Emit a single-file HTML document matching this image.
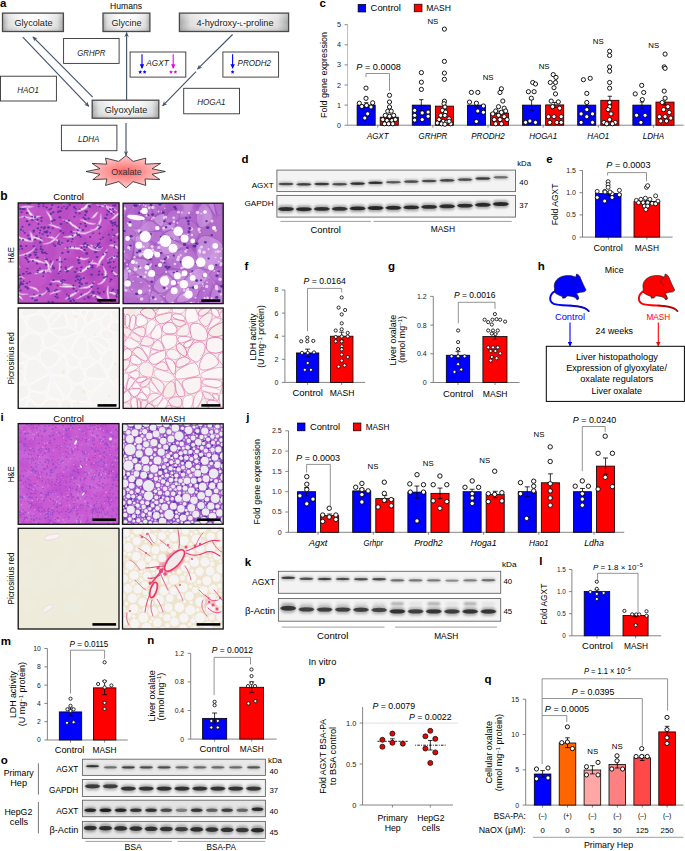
<!DOCTYPE html>
<html><head><meta charset="utf-8"><style>
html,body{margin:0;padding:0;background:#fff;overflow:hidden;}
svg{display:block;}
text{font-family:"Liberation Sans", sans-serif;}
</style></head><body>
<svg width="685" height="851" viewBox="0 0 685 851">
<defs>
<linearGradient id="gbox" x1="0" x2="1" y1="0" y2="0"><stop offset="0" stop-color="#a4a4a4"/><stop offset="0.1" stop-color="#dedede"/><stop offset="0.3" stop-color="#f6f6f6"/><stop offset="0.5" stop-color="#fdfdfd"/><stop offset="0.7" stop-color="#f6f6f6"/><stop offset="0.9" stop-color="#dedede"/><stop offset="1" stop-color="#a4a4a4"/></linearGradient>
<linearGradient id="gboxv" x1="0" x2="0" y1="0" y2="1"><stop offset="0" stop-color="#fff" stop-opacity="0.35"/><stop offset="0.5" stop-color="#fff" stop-opacity="0"/><stop offset="1" stop-color="#888" stop-opacity="0.35"/></linearGradient>
<radialGradient id="gox" cx="0.5" cy="0.5" r="0.5"><stop offset="0" stop-color="#f66"/><stop offset="1" stop-color="#fcc"/></radialGradient>
<marker id="ah" viewBox="0 0 10 10" refX="9" refY="5" markerWidth="5" markerHeight="5" orient="auto-start-reverse" markerUnits="userSpaceOnUse"><path d="M0,0.5 L10,5 L0,9.5 L3,5 z" fill="#44546a"/></marker>
<marker id="ahb" viewBox="0 0 10 10" refX="9" refY="5" markerWidth="4.5" markerHeight="4.5" orient="auto" markerUnits="userSpaceOnUse"><path d="M0,0 L10,5 L0,10 z" fill="#0000ff"/></marker>
<marker id="ahm" viewBox="0 0 10 10" refX="9" refY="5" markerWidth="4.5" markerHeight="4.5" orient="auto" markerUnits="userSpaceOnUse"><path d="M0,0 L10,5 L0,10 z" fill="#ee00ee"/></marker>
<marker id="ahr" viewBox="0 0 10 10" refX="9" refY="5" markerWidth="4.5" markerHeight="4.5" orient="auto" markerUnits="userSpaceOnUse"><path d="M0,0 L10,5 L0,10 z" fill="#ff0000"/></marker>
<filter id="bl" x="-20%" y="-100%" width="140%" height="300%"><feGaussianBlur stdDeviation="0.7"/></filter>
<filter id="bl2" x="-20%" y="-100%" width="140%" height="300%"><feGaussianBlur stdDeviation="0.9"/></filter>
<filter id="bl3" x="-30%" y="-150%" width="160%" height="400%"><feGaussianBlur stdDeviation="1.3"/></filter>
<filter id="soft" x="0" y="0" width="100%" height="100%"><feGaussianBlur stdDeviation="0.5"/></filter>
<filter id="soft2" x="0" y="0" width="100%" height="100%"><feGaussianBlur stdDeviation="0.8"/></filter>
<clipPath id="cp1"><rect x="18.2" y="202.9" width="100.9" height="100.4"/></clipPath>
<clipPath id="cp2"><rect x="123.1" y="203.2" width="100.1" height="100.4"/></clipPath>
<clipPath id="cp3"><rect x="18.2" y="308" width="101.2" height="100.4"/></clipPath>
<clipPath id="cp4"><rect x="123.1" y="308" width="100.1" height="100.4"/></clipPath>
<clipPath id="cp5"><rect x="18.2" y="423.6" width="100.8" height="100.7"/></clipPath>
<clipPath id="cp6"><rect x="122.5" y="423.8" width="100.7" height="100.5"/></clipPath>
<clipPath id="cp7"><rect x="18.2" y="528.3" width="100.8" height="100.7"/></clipPath>
<clipPath id="cp8"><rect x="122.5" y="528.3" width="100.7" height="100.7"/></clipPath>
</defs>
<rect width="685" height="851" fill="#fff"/>
<text x="0" y="7.28" font-size="11.5" text-anchor="start" font-weight="bold">a</text>
<text x="126" y="9.11" font-size="8.2" text-anchor="middle" textLength="32" lengthAdjust="spacingAndGlyphs">Humans</text>
<rect x="2.5" y="13.1" width="60.9" height="18.4" fill="url(#gbox)" stroke="none" stroke-width="0.8"/>
<rect x="2.5" y="13.1" width="60.9" height="18.4" fill="url(#gboxv)" stroke="#4a4a4a" stroke-width="1.3"/>
<text x="33.5" y="25.86" font-size="9.6" text-anchor="middle" fill="#222" textLength="38" lengthAdjust="spacingAndGlyphs">Glycolate</text>
<rect x="103" y="13.1" width="46.9" height="18.4" fill="url(#gbox)" stroke="none" stroke-width="0.8"/>
<rect x="103" y="13.1" width="46.9" height="18.4" fill="url(#gboxv)" stroke="#4a4a4a" stroke-width="1.3"/>
<text x="126.4" y="25.86" font-size="9.6" text-anchor="middle" fill="#222" textLength="30" lengthAdjust="spacingAndGlyphs">Glycine</text>
<rect x="179.4" y="13.1" width="109.2" height="18.4" fill="url(#gbox)" stroke="none" stroke-width="0.8"/>
<rect x="179.4" y="13.1" width="109.2" height="18.4" fill="url(#gboxv)" stroke="#4a4a4a" stroke-width="1.3"/>
<text x="235" y="25.86" font-size="9.6" text-anchor="middle" fill="#222" textLength="77" lengthAdjust="spacingAndGlyphs">4-hydroxy-<tspan font-size="6">L</tspan>-proline</text>
<rect x="92.2" y="100.2" width="66.6" height="18" fill="url(#gbox)" stroke="none" stroke-width="0.8"/>
<rect x="92.2" y="100.2" width="66.6" height="18" fill="url(#gboxv)" stroke="#4a4a4a" stroke-width="1.3"/>
<text x="126" y="112.76" font-size="9.6" text-anchor="middle" fill="#222" textLength="42.5" lengthAdjust="spacingAndGlyphs">Glyoxylate</text>
<rect x="63.6" y="38.5" width="55.5" height="24.9" fill="#fff" stroke="#333" stroke-width="0.9"/>
<text x="91.3" y="55.72" font-size="8.8" text-anchor="middle" font-style="italic" fill="#222" textLength="28" lengthAdjust="spacingAndGlyphs">GRHPR</text>
<rect x="0.5" y="76.2" width="55.9" height="24.8" fill="#fff" stroke="#333" stroke-width="0.9"/>
<text x="28.1" y="93.42" font-size="8.8" text-anchor="middle" font-style="italic" fill="#222" textLength="21.7" lengthAdjust="spacingAndGlyphs">HAO1</text>
<rect x="130.1" y="52" width="55.7" height="25.1" fill="#fff" stroke="#333" stroke-width="0.9"/>
<rect x="222.9" y="52" width="55.7" height="25.1" fill="#fff" stroke="#333" stroke-width="0.9"/>
<rect x="183.7" y="88.3" width="55.8" height="25.5" fill="#fff" stroke="#333" stroke-width="0.9"/>
<text x="211.4" y="105.32" font-size="8.8" text-anchor="middle" font-style="italic" fill="#222" textLength="28.3" lengthAdjust="spacingAndGlyphs">HOGA1</text>
<rect x="61.4" y="125.2" width="55.5" height="25.5" fill="#fff" stroke="#333" stroke-width="0.9"/>
<text x="88.7" y="142.22" font-size="8.8" text-anchor="middle" font-style="italic" fill="#222" textLength="21.4" lengthAdjust="spacingAndGlyphs">LDHA</text>
<line x1="142" y1="54.3" x2="142" y2="68.2" stroke="#0000ff" stroke-width="1.1" marker-end="url(#ahb)"/>
<line x1="173.2" y1="54.3" x2="173.2" y2="68.2" stroke="#ee00ee" stroke-width="1.1" marker-end="url(#ahm)"/>
<text x="157.5" y="65.92" font-size="8.8" text-anchor="middle" font-style="italic" fill="#222" textLength="22.3" lengthAdjust="spacingAndGlyphs">AGXT</text>
<polygon points="140.2,69.9 140.76,71.24 142.2,71.35 141.1,72.29 141.43,73.7 140.2,72.94 138.97,73.7 139.3,72.29 138.2,71.35 139.64,71.24" fill="#0000ff"/>
<polygon points="144.6,69.9 145.16,71.24 146.6,71.35 145.5,72.29 145.83,73.7 144.6,72.94 143.37,73.7 143.7,72.29 142.6,71.35 144.04,71.24" fill="#0000ff"/>
<polygon points="171,69.9 171.56,71.24 173,71.35 171.9,72.29 172.23,73.7 171,72.94 169.77,73.7 170.1,72.29 169,71.35 170.44,71.24" fill="#ee00ee"/>
<polygon points="175.4,69.9 175.96,71.24 177.4,71.35 176.3,72.29 176.63,73.7 175.4,72.94 174.17,73.7 174.5,72.29 173.4,71.35 174.84,71.24" fill="#ee00ee"/>
<line x1="232.6" y1="54.3" x2="232.6" y2="68.2" stroke="#0000ff" stroke-width="1.1" marker-end="url(#ahb)"/>
<text x="254.3" y="65.92" font-size="8.8" text-anchor="middle" font-style="italic" fill="#222" textLength="33.6" lengthAdjust="spacingAndGlyphs">PRODH2</text>
<polygon points="232.6,69.9 233.16,71.24 234.6,71.35 233.5,72.29 233.83,73.7 232.6,72.94 231.37,73.7 231.7,72.29 230.6,71.35 232.04,71.24" fill="#0000ff"/>
<line x1="22.8" y1="37.1" x2="88.8" y2="106.4" stroke="#44546a" stroke-width="1.15" marker-end="url(#ah)"/>
<line x1="92.7" y1="97.2" x2="32.9" y2="36.8" stroke="#44546a" stroke-width="1.15" marker-end="url(#ah)"/>
<line x1="126.6" y1="100" x2="126.6" y2="32.6" stroke="#44546a" stroke-width="1.15" marker-end="url(#ah)"/>
<line x1="232.6" y1="34.5" x2="197.5" y2="69.2" stroke="#44546a" stroke-width="1.15" marker-end="url(#ah)"/>
<line x1="196" y1="71.6" x2="162.6" y2="105.8" stroke="#44546a" stroke-width="1.15" marker-end="url(#ah)"/>
<line x1="126" y1="123" x2="126" y2="155.5" stroke="#44546a" stroke-width="1.15" marker-end="url(#ah)"/>
<polygon points="126.1,155.6 133.23,161.38 145.8,158.1 145.24,164.13 160.6,163.4 152.08,168.78 165.3,171.5 152.05,174.26 159.9,179.6 145,178.96 145.8,185.4 133.02,181.64 126.1,187.8 118.85,181.63 105.5,185.4 106.94,178.94 92.8,179.6 99.99,174.31 86,171.5 99.95,168.74 92.1,163.4 106.7,164.16 105.5,158.1 118.64,161.4" fill="url(#gox)" stroke="#222" stroke-width="0.8"/>
<text x="126.5" y="174.58" font-size="8.4" text-anchor="middle" fill="#333" textLength="30.6" lengthAdjust="spacingAndGlyphs">Oxalate</text>
<text x="319.5" y="7.48" font-size="11.5" text-anchor="start" font-weight="bold">c</text>
<rect x="358.1" y="4.4" width="7.6" height="7.6" fill="#0000ff" stroke="#000" stroke-width="0.7"/>
<text x="370.6" y="11.35" font-size="8.6" text-anchor="start" textLength="30.3" lengthAdjust="spacingAndGlyphs">Control</text>
<rect x="414.2" y="4.2" width="7.8" height="7.6" fill="#ff0000" stroke="#000" stroke-width="0.7"/>
<text x="426.2" y="11.35" font-size="8.6" text-anchor="start" textLength="24.7" lengthAdjust="spacingAndGlyphs">MASH</text>
<line x1="347.6" y1="24.7" x2="347.6" y2="125.2" stroke="#aaa" stroke-width="0.8"/>
<line x1="344.6" y1="125.2" x2="347.6" y2="125.2" stroke="#666" stroke-width="0.8"/>
<text x="341" y="127.76" font-size="7.2" text-anchor="end" fill="#222">0</text>
<line x1="344.6" y1="105.1" x2="347.6" y2="105.1" stroke="#666" stroke-width="0.8"/>
<text x="341" y="107.66" font-size="7.2" text-anchor="end" fill="#222">1</text>
<line x1="344.6" y1="85" x2="347.6" y2="85" stroke="#666" stroke-width="0.8"/>
<text x="341" y="87.56" font-size="7.2" text-anchor="end" fill="#222">2</text>
<line x1="344.6" y1="64.9" x2="347.6" y2="64.9" stroke="#666" stroke-width="0.8"/>
<text x="341" y="67.46" font-size="7.2" text-anchor="end" fill="#222">3</text>
<line x1="344.6" y1="44.8" x2="347.6" y2="44.8" stroke="#666" stroke-width="0.8"/>
<text x="341" y="47.36" font-size="7.2" text-anchor="end" fill="#222">4</text>
<line x1="344.6" y1="24.7" x2="347.6" y2="24.7" stroke="#666" stroke-width="0.8"/>
<text x="341" y="27.26" font-size="7.2" text-anchor="end" fill="#222">5</text>
<text transform="translate(327.31,74.9) rotate(-90)" x="0" y="0" font-size="8.2" text-anchor="middle" textLength="86" lengthAdjust="spacingAndGlyphs">Fold gene expression</text>
<line x1="347.6" y1="125.2" x2="683.6" y2="125.2" stroke="#666" stroke-width="0.8"/>
<line x1="377.7" y1="125.2" x2="377.7" y2="127.7" stroke="#666" stroke-width="0.8"/>
<line x1="432.85" y1="125.2" x2="432.85" y2="127.7" stroke="#666" stroke-width="0.8"/>
<line x1="488" y1="125.2" x2="488" y2="127.7" stroke="#666" stroke-width="0.8"/>
<line x1="543.15" y1="125.2" x2="543.15" y2="127.7" stroke="#666" stroke-width="0.8"/>
<line x1="598.3" y1="125.2" x2="598.3" y2="127.7" stroke="#666" stroke-width="0.8"/>
<line x1="653.45" y1="125.2" x2="653.45" y2="127.7" stroke="#666" stroke-width="0.8"/>
<rect x="357.1" y="105.1" width="18.1" height="20.1" fill="#0000ff" stroke="#000" stroke-width="0.8"/>
<rect x="380.2" y="117.16" width="18.1" height="8.04" fill="#ff0000" stroke="#000" stroke-width="0.8"/>
<text x="377.7" y="138.81" font-size="8.2" text-anchor="middle" font-style="italic" textLength="21.6" lengthAdjust="spacingAndGlyphs">AGXT</text>
<rect x="412.25" y="105.1" width="18.1" height="20.1" fill="#0000ff" stroke="#000" stroke-width="0.8"/>
<rect x="435.35" y="106.11" width="18.1" height="19.09" fill="#ff0000" stroke="#000" stroke-width="0.8"/>
<text x="432.85" y="138.81" font-size="8.2" text-anchor="middle" font-style="italic" textLength="28.6" lengthAdjust="spacingAndGlyphs">GRHPR</text>
<rect x="467.4" y="105.1" width="18.1" height="20.1" fill="#0000ff" stroke="#000" stroke-width="0.8"/>
<rect x="490.5" y="113.14" width="18.1" height="12.06" fill="#ff0000" stroke="#000" stroke-width="0.8"/>
<text x="488" y="138.81" font-size="8.2" text-anchor="middle" font-style="italic" textLength="33.5" lengthAdjust="spacingAndGlyphs">PRODH2</text>
<rect x="522.55" y="105.1" width="18.1" height="20.1" fill="#0000ff" stroke="#000" stroke-width="0.8"/>
<rect x="545.65" y="104.9" width="18.1" height="20.3" fill="#ff0000" stroke="#000" stroke-width="0.8"/>
<text x="543.15" y="138.81" font-size="8.2" text-anchor="middle" font-style="italic" textLength="28" lengthAdjust="spacingAndGlyphs">HOGA1</text>
<rect x="577.7" y="105.1" width="18.1" height="20.1" fill="#0000ff" stroke="#000" stroke-width="0.8"/>
<rect x="600.8" y="100.28" width="18.1" height="24.92" fill="#ff0000" stroke="#000" stroke-width="0.8"/>
<text x="598.3" y="138.81" font-size="8.2" text-anchor="middle" font-style="italic" textLength="22" lengthAdjust="spacingAndGlyphs">HAO1</text>
<rect x="632.85" y="105.1" width="18.1" height="20.1" fill="#0000ff" stroke="#000" stroke-width="0.8"/>
<rect x="655.95" y="102.09" width="18.1" height="23.11" fill="#ff0000" stroke="#000" stroke-width="0.8"/>
<text x="653.45" y="138.81" font-size="8.2" text-anchor="middle" font-style="italic" textLength="21.5" lengthAdjust="spacingAndGlyphs">LDHA</text>
<line x1="366.15" y1="102.69" x2="366.15" y2="107.51" stroke="#000" stroke-width="0.8"/>
<line x1="363.95" y1="102.69" x2="368.35" y2="102.69" stroke="#000" stroke-width="0.8"/>
<line x1="363.95" y1="107.51" x2="368.35" y2="107.51" stroke="#000" stroke-width="0.8"/>
<line x1="389.25" y1="115.55" x2="389.25" y2="118.77" stroke="#000" stroke-width="0.8"/>
<line x1="387.05" y1="115.55" x2="391.45" y2="115.55" stroke="#000" stroke-width="0.8"/>
<line x1="387.05" y1="118.77" x2="391.45" y2="118.77" stroke="#000" stroke-width="0.8"/>
<line x1="421.3" y1="99.67" x2="421.3" y2="110.53" stroke="#000" stroke-width="0.8"/>
<line x1="419.1" y1="99.67" x2="423.5" y2="99.67" stroke="#000" stroke-width="0.8"/>
<line x1="419.1" y1="110.53" x2="423.5" y2="110.53" stroke="#000" stroke-width="0.8"/>
<line x1="444.4" y1="102.09" x2="444.4" y2="110.12" stroke="#000" stroke-width="0.8"/>
<line x1="442.2" y1="102.09" x2="446.6" y2="102.09" stroke="#000" stroke-width="0.8"/>
<line x1="442.2" y1="110.12" x2="446.6" y2="110.12" stroke="#000" stroke-width="0.8"/>
<line x1="476.45" y1="103.09" x2="476.45" y2="107.11" stroke="#000" stroke-width="0.8"/>
<line x1="474.25" y1="103.09" x2="478.65" y2="103.09" stroke="#000" stroke-width="0.8"/>
<line x1="474.25" y1="107.11" x2="478.65" y2="107.11" stroke="#000" stroke-width="0.8"/>
<line x1="499.55" y1="111.13" x2="499.55" y2="115.15" stroke="#000" stroke-width="0.8"/>
<line x1="497.35" y1="111.13" x2="501.75" y2="111.13" stroke="#000" stroke-width="0.8"/>
<line x1="497.35" y1="115.15" x2="501.75" y2="115.15" stroke="#000" stroke-width="0.8"/>
<line x1="531.6" y1="99.47" x2="531.6" y2="110.73" stroke="#000" stroke-width="0.8"/>
<line x1="529.4" y1="99.47" x2="533.8" y2="99.47" stroke="#000" stroke-width="0.8"/>
<line x1="529.4" y1="110.73" x2="533.8" y2="110.73" stroke="#000" stroke-width="0.8"/>
<line x1="554.7" y1="102.49" x2="554.7" y2="107.31" stroke="#000" stroke-width="0.8"/>
<line x1="552.5" y1="102.49" x2="556.9" y2="102.49" stroke="#000" stroke-width="0.8"/>
<line x1="552.5" y1="107.31" x2="556.9" y2="107.31" stroke="#000" stroke-width="0.8"/>
<line x1="586.75" y1="102.69" x2="586.75" y2="107.51" stroke="#000" stroke-width="0.8"/>
<line x1="584.55" y1="102.69" x2="588.95" y2="102.69" stroke="#000" stroke-width="0.8"/>
<line x1="584.55" y1="107.51" x2="588.95" y2="107.51" stroke="#000" stroke-width="0.8"/>
<line x1="609.85" y1="96.26" x2="609.85" y2="104.3" stroke="#000" stroke-width="0.8"/>
<line x1="607.65" y1="96.26" x2="612.05" y2="96.26" stroke="#000" stroke-width="0.8"/>
<line x1="607.65" y1="104.3" x2="612.05" y2="104.3" stroke="#000" stroke-width="0.8"/>
<line x1="641.9" y1="102.09" x2="641.9" y2="108.12" stroke="#000" stroke-width="0.8"/>
<line x1="639.7" y1="102.09" x2="644.1" y2="102.09" stroke="#000" stroke-width="0.8"/>
<line x1="639.7" y1="108.12" x2="644.1" y2="108.12" stroke="#000" stroke-width="0.8"/>
<line x1="665" y1="99.07" x2="665" y2="105.1" stroke="#000" stroke-width="0.8"/>
<line x1="662.8" y1="99.07" x2="667.2" y2="99.07" stroke="#000" stroke-width="0.8"/>
<line x1="662.8" y1="105.1" x2="667.2" y2="105.1" stroke="#000" stroke-width="0.8"/>
<circle cx="366" cy="88.1" r="2.1" fill="#fff" stroke="#000" stroke-width="0.9"/>
<circle cx="366" cy="98.3" r="2.1" fill="#fff" stroke="#000" stroke-width="0.9"/>
<circle cx="359.3" cy="103.2" r="2.1" fill="#fff" stroke="#000" stroke-width="0.9"/>
<circle cx="372.7" cy="102.8" r="2.1" fill="#fff" stroke="#000" stroke-width="0.9"/>
<circle cx="361.8" cy="106.5" r="2.1" fill="#fff" stroke="#000" stroke-width="0.9"/>
<circle cx="366.5" cy="105.4" r="2.1" fill="#fff" stroke="#000" stroke-width="0.9"/>
<circle cx="371" cy="107" r="2.1" fill="#fff" stroke="#000" stroke-width="0.9"/>
<circle cx="367.7" cy="113.8" r="2.1" fill="#fff" stroke="#000" stroke-width="0.9"/>
<circle cx="364.8" cy="118" r="2.1" fill="#fff" stroke="#000" stroke-width="0.9"/>
<circle cx="389.5" cy="95.3" r="2.1" fill="#fff" stroke="#000" stroke-width="0.9"/>
<circle cx="389.5" cy="102" r="2.1" fill="#fff" stroke="#000" stroke-width="0.9"/>
<circle cx="389.5" cy="107" r="2.1" fill="#fff" stroke="#000" stroke-width="0.9"/>
<circle cx="387.8" cy="111.2" r="2.1" fill="#fff" stroke="#000" stroke-width="0.9"/>
<circle cx="391.2" cy="111.2" r="2.1" fill="#fff" stroke="#000" stroke-width="0.9"/>
<circle cx="385.3" cy="115.4" r="2.1" fill="#fff" stroke="#000" stroke-width="0.9"/>
<circle cx="389.5" cy="116.3" r="2.1" fill="#fff" stroke="#000" stroke-width="0.9"/>
<circle cx="393.7" cy="115.4" r="2.1" fill="#fff" stroke="#000" stroke-width="0.9"/>
<circle cx="382.8" cy="119.6" r="2.1" fill="#fff" stroke="#000" stroke-width="0.9"/>
<circle cx="387" cy="120.5" r="2.1" fill="#fff" stroke="#000" stroke-width="0.9"/>
<circle cx="392" cy="120.5" r="2.1" fill="#fff" stroke="#000" stroke-width="0.9"/>
<circle cx="395.4" cy="119.6" r="2.1" fill="#fff" stroke="#000" stroke-width="0.9"/>
<circle cx="384.5" cy="123.8" r="2.1" fill="#fff" stroke="#000" stroke-width="0.9"/>
<circle cx="388.6" cy="123.8" r="2.1" fill="#fff" stroke="#000" stroke-width="0.9"/>
<circle cx="392.8" cy="123.8" r="2.1" fill="#fff" stroke="#000" stroke-width="0.9"/>
<circle cx="421.4" cy="72.6" r="2.1" fill="#fff" stroke="#000" stroke-width="0.9"/>
<circle cx="421.4" cy="82.2" r="2.1" fill="#fff" stroke="#000" stroke-width="0.9"/>
<circle cx="421.4" cy="89.4" r="2.1" fill="#fff" stroke="#000" stroke-width="0.9"/>
<circle cx="414.7" cy="110.4" r="2.1" fill="#fff" stroke="#000" stroke-width="0.9"/>
<circle cx="422.2" cy="112.9" r="2.1" fill="#fff" stroke="#000" stroke-width="0.9"/>
<circle cx="428.1" cy="112.1" r="2.1" fill="#fff" stroke="#000" stroke-width="0.9"/>
<circle cx="414.7" cy="115.4" r="2.1" fill="#fff" stroke="#000" stroke-width="0.9"/>
<circle cx="428.1" cy="116.3" r="2.1" fill="#fff" stroke="#000" stroke-width="0.9"/>
<circle cx="414.7" cy="120.1" r="2.1" fill="#fff" stroke="#000" stroke-width="0.9"/>
<circle cx="422.2" cy="119.6" r="2.1" fill="#fff" stroke="#000" stroke-width="0.9"/>
<circle cx="444.4" cy="29.1" r="2.1" fill="#fff" stroke="#000" stroke-width="0.9"/>
<circle cx="444.4" cy="61.4" r="2.1" fill="#fff" stroke="#000" stroke-width="0.9"/>
<circle cx="444.4" cy="73.1" r="2.1" fill="#fff" stroke="#000" stroke-width="0.9"/>
<circle cx="444.4" cy="79.3" r="2.1" fill="#fff" stroke="#000" stroke-width="0.9"/>
<circle cx="444.4" cy="101.2" r="2.1" fill="#fff" stroke="#000" stroke-width="0.9"/>
<circle cx="444" cy="103.7" r="2.1" fill="#fff" stroke="#000" stroke-width="0.9"/>
<circle cx="444.9" cy="107" r="2.1" fill="#fff" stroke="#000" stroke-width="0.9"/>
<circle cx="442.4" cy="110.4" r="2.1" fill="#fff" stroke="#000" stroke-width="0.9"/>
<circle cx="445.7" cy="112.1" r="2.1" fill="#fff" stroke="#000" stroke-width="0.9"/>
<circle cx="440.7" cy="115.4" r="2.1" fill="#fff" stroke="#000" stroke-width="0.9"/>
<circle cx="444.9" cy="115.4" r="2.1" fill="#fff" stroke="#000" stroke-width="0.9"/>
<circle cx="449.1" cy="118.8" r="2.1" fill="#fff" stroke="#000" stroke-width="0.9"/>
<circle cx="439" cy="119.6" r="2.1" fill="#fff" stroke="#000" stroke-width="0.9"/>
<circle cx="443.2" cy="121.3" r="2.1" fill="#fff" stroke="#000" stroke-width="0.9"/>
<circle cx="446.6" cy="122.2" r="2.1" fill="#fff" stroke="#000" stroke-width="0.9"/>
<circle cx="437.3" cy="123" r="2.1" fill="#fff" stroke="#000" stroke-width="0.9"/>
<circle cx="441.5" cy="123.8" r="2.1" fill="#fff" stroke="#000" stroke-width="0.9"/>
<circle cx="444.9" cy="124.2" r="2.1" fill="#fff" stroke="#000" stroke-width="0.9"/>
<circle cx="450.8" cy="123.8" r="2.1" fill="#fff" stroke="#000" stroke-width="0.9"/>
<circle cx="449.1" cy="121.3" r="2.1" fill="#fff" stroke="#000" stroke-width="0.9"/>
<circle cx="471.4" cy="92.4" r="2.1" fill="#fff" stroke="#000" stroke-width="0.9"/>
<circle cx="477.8" cy="92.4" r="2.1" fill="#fff" stroke="#000" stroke-width="0.9"/>
<circle cx="469.5" cy="102.1" r="2.1" fill="#fff" stroke="#000" stroke-width="0.9"/>
<circle cx="476.4" cy="103.2" r="2.1" fill="#fff" stroke="#000" stroke-width="0.9"/>
<circle cx="483.4" cy="106" r="2.1" fill="#fff" stroke="#000" stroke-width="0.9"/>
<circle cx="477.8" cy="111" r="2.1" fill="#fff" stroke="#000" stroke-width="0.9"/>
<circle cx="483.4" cy="112.3" r="2.1" fill="#fff" stroke="#000" stroke-width="0.9"/>
<circle cx="476.4" cy="121.5" r="2.1" fill="#fff" stroke="#000" stroke-width="0.9"/>
<circle cx="501.4" cy="88.8" r="2.1" fill="#fff" stroke="#000" stroke-width="0.9"/>
<circle cx="500" cy="92.5" r="2.1" fill="#fff" stroke="#000" stroke-width="0.9"/>
<circle cx="502.8" cy="101" r="2.1" fill="#fff" stroke="#000" stroke-width="0.9"/>
<circle cx="498.5" cy="106.7" r="2.1" fill="#fff" stroke="#000" stroke-width="0.9"/>
<circle cx="504.2" cy="108.2" r="2.1" fill="#fff" stroke="#000" stroke-width="0.9"/>
<circle cx="495.7" cy="111" r="2.1" fill="#fff" stroke="#000" stroke-width="0.9"/>
<circle cx="501.4" cy="112.4" r="2.1" fill="#fff" stroke="#000" stroke-width="0.9"/>
<circle cx="505.7" cy="111" r="2.1" fill="#fff" stroke="#000" stroke-width="0.9"/>
<circle cx="492.8" cy="113.9" r="2.1" fill="#fff" stroke="#000" stroke-width="0.9"/>
<circle cx="498.5" cy="115.3" r="2.1" fill="#fff" stroke="#000" stroke-width="0.9"/>
<circle cx="504.2" cy="116.7" r="2.1" fill="#fff" stroke="#000" stroke-width="0.9"/>
<circle cx="494.3" cy="119.6" r="2.1" fill="#fff" stroke="#000" stroke-width="0.9"/>
<circle cx="500" cy="119.6" r="2.1" fill="#fff" stroke="#000" stroke-width="0.9"/>
<circle cx="507.1" cy="119.6" r="2.1" fill="#fff" stroke="#000" stroke-width="0.9"/>
<circle cx="495.7" cy="123.8" r="2.1" fill="#fff" stroke="#000" stroke-width="0.9"/>
<circle cx="501.4" cy="123.8" r="2.1" fill="#fff" stroke="#000" stroke-width="0.9"/>
<circle cx="532.7" cy="82.5" r="2.1" fill="#fff" stroke="#000" stroke-width="0.9"/>
<circle cx="535.5" cy="84" r="2.1" fill="#fff" stroke="#000" stroke-width="0.9"/>
<circle cx="528.4" cy="91.7" r="2.1" fill="#fff" stroke="#000" stroke-width="0.9"/>
<circle cx="534.1" cy="91.7" r="2.1" fill="#fff" stroke="#000" stroke-width="0.9"/>
<circle cx="531.3" cy="98.2" r="2.1" fill="#fff" stroke="#000" stroke-width="0.9"/>
<circle cx="525.6" cy="122.4" r="2.1" fill="#fff" stroke="#000" stroke-width="0.9"/>
<circle cx="535.5" cy="122.4" r="2.1" fill="#fff" stroke="#000" stroke-width="0.9"/>
<circle cx="529.9" cy="121" r="2.1" fill="#fff" stroke="#000" stroke-width="0.9"/>
<circle cx="553.2" cy="74.6" r="2.1" fill="#fff" stroke="#000" stroke-width="0.9"/>
<circle cx="556" cy="77.4" r="2.1" fill="#fff" stroke="#000" stroke-width="0.9"/>
<circle cx="550.3" cy="82.5" r="2.1" fill="#fff" stroke="#000" stroke-width="0.9"/>
<circle cx="555.5" cy="82.5" r="2.1" fill="#fff" stroke="#000" stroke-width="0.9"/>
<circle cx="554" cy="87.7" r="2.1" fill="#fff" stroke="#000" stroke-width="0.9"/>
<circle cx="555.5" cy="93.9" r="2.1" fill="#fff" stroke="#000" stroke-width="0.9"/>
<circle cx="551.2" cy="101.1" r="2.1" fill="#fff" stroke="#000" stroke-width="0.9"/>
<circle cx="558.3" cy="101.9" r="2.1" fill="#fff" stroke="#000" stroke-width="0.9"/>
<circle cx="552.6" cy="106.7" r="2.1" fill="#fff" stroke="#000" stroke-width="0.9"/>
<circle cx="559.7" cy="108.2" r="2.1" fill="#fff" stroke="#000" stroke-width="0.9"/>
<circle cx="548.4" cy="116.7" r="2.1" fill="#fff" stroke="#000" stroke-width="0.9"/>
<circle cx="554" cy="116.7" r="2.1" fill="#fff" stroke="#000" stroke-width="0.9"/>
<circle cx="561.2" cy="116.7" r="2.1" fill="#fff" stroke="#000" stroke-width="0.9"/>
<circle cx="549.8" cy="122.4" r="2.1" fill="#fff" stroke="#000" stroke-width="0.9"/>
<circle cx="556.9" cy="122.4" r="2.1" fill="#fff" stroke="#000" stroke-width="0.9"/>
<circle cx="561.2" cy="122.4" r="2.1" fill="#fff" stroke="#000" stroke-width="0.9"/>
<circle cx="583.4" cy="79.7" r="2.1" fill="#fff" stroke="#000" stroke-width="0.9"/>
<circle cx="590.2" cy="78.3" r="2.1" fill="#fff" stroke="#000" stroke-width="0.9"/>
<circle cx="586.8" cy="93.4" r="2.1" fill="#fff" stroke="#000" stroke-width="0.9"/>
<circle cx="586.8" cy="102.5" r="2.1" fill="#fff" stroke="#000" stroke-width="0.9"/>
<circle cx="586.8" cy="109.6" r="2.1" fill="#fff" stroke="#000" stroke-width="0.9"/>
<circle cx="581.1" cy="113.9" r="2.1" fill="#fff" stroke="#000" stroke-width="0.9"/>
<circle cx="592.5" cy="113.9" r="2.1" fill="#fff" stroke="#000" stroke-width="0.9"/>
<circle cx="586.8" cy="116.7" r="2.1" fill="#fff" stroke="#000" stroke-width="0.9"/>
<circle cx="581.1" cy="122.4" r="2.1" fill="#fff" stroke="#000" stroke-width="0.9"/>
<circle cx="592.5" cy="122.4" r="2.1" fill="#fff" stroke="#000" stroke-width="0.9"/>
<circle cx="609.6" cy="51.2" r="2.1" fill="#fff" stroke="#000" stroke-width="0.9"/>
<circle cx="609.6" cy="55.5" r="2.1" fill="#fff" stroke="#000" stroke-width="0.9"/>
<circle cx="609.6" cy="66.9" r="2.1" fill="#fff" stroke="#000" stroke-width="0.9"/>
<circle cx="609.6" cy="71.2" r="2.1" fill="#fff" stroke="#000" stroke-width="0.9"/>
<circle cx="609.6" cy="82.5" r="2.1" fill="#fff" stroke="#000" stroke-width="0.9"/>
<circle cx="609.6" cy="88.2" r="2.1" fill="#fff" stroke="#000" stroke-width="0.9"/>
<circle cx="609.6" cy="102.5" r="2.1" fill="#fff" stroke="#000" stroke-width="0.9"/>
<circle cx="609.6" cy="106.7" r="2.1" fill="#fff" stroke="#000" stroke-width="0.9"/>
<circle cx="608.1" cy="109.6" r="2.1" fill="#fff" stroke="#000" stroke-width="0.9"/>
<circle cx="611" cy="113.9" r="2.1" fill="#fff" stroke="#000" stroke-width="0.9"/>
<circle cx="609.6" cy="119.6" r="2.1" fill="#fff" stroke="#000" stroke-width="0.9"/>
<circle cx="603.9" cy="122.4" r="2.1" fill="#fff" stroke="#000" stroke-width="0.9"/>
<circle cx="615.2" cy="122.4" r="2.1" fill="#fff" stroke="#000" stroke-width="0.9"/>
<circle cx="606.7" cy="123.8" r="2.1" fill="#fff" stroke="#000" stroke-width="0.9"/>
<circle cx="612.4" cy="123.8" r="2.1" fill="#fff" stroke="#000" stroke-width="0.9"/>
<circle cx="641.7" cy="85.4" r="2.1" fill="#fff" stroke="#000" stroke-width="0.9"/>
<circle cx="635.2" cy="93.9" r="2.1" fill="#fff" stroke="#000" stroke-width="0.9"/>
<circle cx="643.7" cy="92.5" r="2.1" fill="#fff" stroke="#000" stroke-width="0.9"/>
<circle cx="642.3" cy="99.6" r="2.1" fill="#fff" stroke="#000" stroke-width="0.9"/>
<circle cx="636.6" cy="115.3" r="2.1" fill="#fff" stroke="#000" stroke-width="0.9"/>
<circle cx="645.1" cy="115.3" r="2.1" fill="#fff" stroke="#000" stroke-width="0.9"/>
<circle cx="640.9" cy="122.4" r="2.1" fill="#fff" stroke="#000" stroke-width="0.9"/>
<circle cx="665.1" cy="54.1" r="2.1" fill="#fff" stroke="#000" stroke-width="0.9"/>
<circle cx="664.2" cy="66.9" r="2.1" fill="#fff" stroke="#000" stroke-width="0.9"/>
<circle cx="665.1" cy="68.3" r="2.1" fill="#fff" stroke="#000" stroke-width="0.9"/>
<circle cx="664.2" cy="91.1" r="2.1" fill="#fff" stroke="#000" stroke-width="0.9"/>
<circle cx="665.1" cy="98.2" r="2.1" fill="#fff" stroke="#000" stroke-width="0.9"/>
<circle cx="662.2" cy="102.5" r="2.1" fill="#fff" stroke="#000" stroke-width="0.9"/>
<circle cx="667.9" cy="106.7" r="2.1" fill="#fff" stroke="#000" stroke-width="0.9"/>
<circle cx="663.6" cy="109.6" r="2.1" fill="#fff" stroke="#000" stroke-width="0.9"/>
<circle cx="669.3" cy="112.4" r="2.1" fill="#fff" stroke="#000" stroke-width="0.9"/>
<circle cx="659.4" cy="116.7" r="2.1" fill="#fff" stroke="#000" stroke-width="0.9"/>
<circle cx="665.1" cy="116.7" r="2.1" fill="#fff" stroke="#000" stroke-width="0.9"/>
<circle cx="670.8" cy="118.1" r="2.1" fill="#fff" stroke="#000" stroke-width="0.9"/>
<circle cx="660.8" cy="121" r="2.1" fill="#fff" stroke="#000" stroke-width="0.9"/>
<circle cx="666.5" cy="121" r="2.1" fill="#fff" stroke="#000" stroke-width="0.9"/>
<text x="378.6" y="69.78" font-size="8.4" text-anchor="middle" textLength="44.5" lengthAdjust="spacingAndGlyphs"><tspan font-style="italic">P</tspan> = 0.0008</text>
<polyline points="366,77.2 366,73.5 389.5,73.5 389.5,90.8" fill="none" stroke="#666" stroke-width="0.7"/>
<text x="432.9" y="24.17" font-size="7.8" text-anchor="middle">NS</text>
<text x="488.1" y="79.57" font-size="7.8" text-anchor="middle">NS</text>
<text x="544.1" y="69.07" font-size="7.8" text-anchor="middle">NS</text>
<text x="598.2" y="44.07" font-size="7.8" text-anchor="middle">NS</text>
<text x="653.7" y="48.27" font-size="7.8" text-anchor="middle">NS</text>
<text x="241.6" y="162.68" font-size="11.5" text-anchor="start" font-weight="bold">d</text>
<rect x="276.9" y="170.1" width="238.6" height="21.5" fill="#f3f3f3" stroke="none" stroke-width="0.8"/>
<g filter="url(#bl3)"><rect x="278.3" y="181.4" width="15.4" height="5.2" rx="2.6" fill="#000" opacity="0.22"/><rect x="296.2" y="181.7" width="15.4" height="5.2" rx="2.6" fill="#000" opacity="0.24"/><rect x="314.1" y="181.4" width="15.4" height="5.2" rx="2.6" fill="#000" opacity="0.25"/><rect x="332" y="181.6" width="15.4" height="5.2" rx="2.6" fill="#000" opacity="0.22"/><rect x="349.9" y="181" width="15.4" height="5.2" rx="2.6" fill="#000" opacity="0.27"/><rect x="367.8" y="180.2" width="15.4" height="5.2" rx="2.6" fill="#000" opacity="0.28"/><rect x="385.7" y="179.6" width="15.4" height="5.2" rx="2.6" fill="#000" opacity="0.19"/><rect x="403.6" y="179" width="15.4" height="5.2" rx="2.6" fill="#000" opacity="0.21"/><rect x="421.5" y="178.4" width="15.4" height="5.2" rx="2.6" fill="#000" opacity="0.22"/><rect x="439.4" y="177.8" width="15.4" height="5.2" rx="2.6" fill="#000" opacity="0.23"/><rect x="457.3" y="177" width="15.4" height="5.2" rx="2.6" fill="#000" opacity="0.21"/><rect x="475.2" y="175.9" width="15.4" height="5.2" rx="2.6" fill="#000" opacity="0.25"/><rect x="493.1" y="174.7" width="15.4" height="5.2" rx="2.6" fill="#000" opacity="0.16"/></g>
<g filter="url(#bl)"><ellipse cx="286" cy="184" rx="7.7" ry="1.3" fill="#111" opacity="0.53"/><rect x="279.53" y="182.96" width="12.94" height="2.08" rx="1.04" fill="#111" opacity="0.31"/><ellipse cx="303.9" cy="184.3" rx="7.7" ry="1.3" fill="#111" opacity="0.59"/><rect x="297.43" y="183.26" width="12.94" height="2.08" rx="1.04" fill="#111" opacity="0.35"/><ellipse cx="321.8" cy="184" rx="7.7" ry="1.3" fill="#111" opacity="0.61"/><rect x="315.33" y="182.96" width="12.94" height="2.08" rx="1.04" fill="#111" opacity="0.36"/><ellipse cx="339.7" cy="184.2" rx="7.7" ry="1.3" fill="#111" opacity="0.53"/><rect x="333.23" y="183.16" width="12.94" height="2.08" rx="1.04" fill="#111" opacity="0.31"/><ellipse cx="357.6" cy="183.6" rx="7.7" ry="1.3" fill="#111" opacity="0.66"/><rect x="351.13" y="182.56" width="12.94" height="2.08" rx="1.04" fill="#111" opacity="0.39"/><ellipse cx="375.5" cy="182.8" rx="7.7" ry="1.3" fill="#111" opacity="0.68"/><rect x="369.03" y="181.76" width="12.94" height="2.08" rx="1.04" fill="#111" opacity="0.4"/><ellipse cx="393.4" cy="182.2" rx="7.7" ry="1.3" fill="#111" opacity="0.47"/><rect x="386.93" y="181.16" width="12.94" height="2.08" rx="1.04" fill="#111" opacity="0.28"/><ellipse cx="411.3" cy="181.6" rx="7.7" ry="1.3" fill="#111" opacity="0.51"/><rect x="404.83" y="180.56" width="12.94" height="2.08" rx="1.04" fill="#111" opacity="0.3"/><ellipse cx="429.2" cy="181" rx="7.7" ry="1.3" fill="#111" opacity="0.53"/><rect x="422.73" y="179.96" width="12.94" height="2.08" rx="1.04" fill="#111" opacity="0.31"/><ellipse cx="447.1" cy="180.4" rx="7.7" ry="1.3" fill="#111" opacity="0.56"/><rect x="440.63" y="179.36" width="12.94" height="2.08" rx="1.04" fill="#111" opacity="0.33"/><ellipse cx="465" cy="179.6" rx="7.7" ry="1.3" fill="#111" opacity="0.51"/><rect x="458.53" y="178.56" width="12.94" height="2.08" rx="1.04" fill="#111" opacity="0.3"/><ellipse cx="482.9" cy="178.5" rx="7.7" ry="1.3" fill="#111" opacity="0.61"/><rect x="476.43" y="177.46" width="12.94" height="2.08" rx="1.04" fill="#111" opacity="0.36"/><ellipse cx="500.8" cy="177.3" rx="7.7" ry="1.3" fill="#111" opacity="0.38"/><rect x="494.33" y="176.26" width="12.94" height="2.08" rx="1.04" fill="#111" opacity="0.23"/></g>
<rect x="276.9" y="170.1" width="238.6" height="21.5" fill="none" stroke="#666" stroke-width="0.9"/>
<rect x="276.9" y="195.4" width="238.6" height="21.7" fill="#f4f4f4" stroke="none" stroke-width="0.8"/>
<g filter="url(#bl3)"><rect x="277.9" y="205.1" width="16.2" height="7.8" rx="3.9" fill="#000" opacity="0.29"/><rect x="295.8" y="205.3" width="16.2" height="7.8" rx="3.9" fill="#000" opacity="0.3"/><rect x="313.7" y="205" width="16.2" height="7.8" rx="3.9" fill="#000" opacity="0.28"/><rect x="331.6" y="204.9" width="16.2" height="7.8" rx="3.9" fill="#000" opacity="0.27"/><rect x="349.5" y="204.5" width="16.2" height="7.8" rx="3.9" fill="#000" opacity="0.3"/><rect x="367.4" y="204.1" width="16.2" height="7.8" rx="3.9" fill="#000" opacity="0.31"/><rect x="385.3" y="203.9" width="16.2" height="7.8" rx="3.9" fill="#000" opacity="0.3"/><rect x="403.2" y="203.5" width="16.2" height="7.8" rx="3.9" fill="#000" opacity="0.29"/><rect x="421.1" y="203" width="16.2" height="7.8" rx="3.9" fill="#000" opacity="0.29"/><rect x="439" y="202.4" width="16.2" height="7.8" rx="3.9" fill="#000" opacity="0.29"/><rect x="456.9" y="201.7" width="16.2" height="7.8" rx="3.9" fill="#000" opacity="0.29"/><rect x="474.8" y="200.9" width="16.2" height="7.8" rx="3.9" fill="#000" opacity="0.3"/><rect x="492.7" y="200.1" width="16.2" height="7.8" rx="3.9" fill="#000" opacity="0.3"/></g>
<g filter="url(#bl)"><ellipse cx="286" cy="209" rx="8.1" ry="1.95" fill="#111" opacity="0.7"/><rect x="279.2" y="207.44" width="13.61" height="3.12" rx="1.56" fill="#111" opacity="0.41"/><ellipse cx="303.9" cy="209.2" rx="8.1" ry="1.95" fill="#111" opacity="0.72"/><rect x="297.1" y="207.64" width="13.61" height="3.12" rx="1.56" fill="#111" opacity="0.42"/><ellipse cx="321.8" cy="208.9" rx="8.1" ry="1.95" fill="#111" opacity="0.68"/><rect x="315" y="207.34" width="13.61" height="3.12" rx="1.56" fill="#111" opacity="0.4"/><ellipse cx="339.7" cy="208.8" rx="8.1" ry="1.95" fill="#111" opacity="0.66"/><rect x="332.9" y="207.24" width="13.61" height="3.12" rx="1.56" fill="#111" opacity="0.39"/><ellipse cx="357.6" cy="208.4" rx="8.1" ry="1.95" fill="#111" opacity="0.72"/><rect x="350.8" y="206.84" width="13.61" height="3.12" rx="1.56" fill="#111" opacity="0.42"/><ellipse cx="375.5" cy="208" rx="8.1" ry="1.95" fill="#111" opacity="0.75"/><rect x="368.7" y="206.44" width="13.61" height="3.12" rx="1.56" fill="#111" opacity="0.44"/><ellipse cx="393.4" cy="207.8" rx="8.1" ry="1.95" fill="#111" opacity="0.72"/><rect x="386.6" y="206.24" width="13.61" height="3.12" rx="1.56" fill="#111" opacity="0.42"/><ellipse cx="411.3" cy="207.4" rx="8.1" ry="1.95" fill="#111" opacity="0.7"/><rect x="404.5" y="205.84" width="13.61" height="3.12" rx="1.56" fill="#111" opacity="0.41"/><ellipse cx="429.2" cy="206.9" rx="8.1" ry="1.95" fill="#111" opacity="0.7"/><rect x="422.4" y="205.34" width="13.61" height="3.12" rx="1.56" fill="#111" opacity="0.41"/><ellipse cx="447.1" cy="206.3" rx="8.1" ry="1.95" fill="#111" opacity="0.7"/><rect x="440.3" y="204.74" width="13.61" height="3.12" rx="1.56" fill="#111" opacity="0.41"/><ellipse cx="465" cy="205.6" rx="8.1" ry="1.95" fill="#111" opacity="0.7"/><rect x="458.2" y="204.04" width="13.61" height="3.12" rx="1.56" fill="#111" opacity="0.41"/><ellipse cx="482.9" cy="204.8" rx="8.1" ry="1.95" fill="#111" opacity="0.72"/><rect x="476.1" y="203.24" width="13.61" height="3.12" rx="1.56" fill="#111" opacity="0.42"/><ellipse cx="500.8" cy="204" rx="8.1" ry="1.95" fill="#111" opacity="0.74"/><rect x="494" y="202.44" width="13.61" height="3.12" rx="1.56" fill="#111" opacity="0.43"/></g>
<rect x="276.9" y="195.4" width="238.6" height="21.7" fill="none" stroke="#666" stroke-width="0.9"/>
<text x="273.6" y="187.54" font-size="8" text-anchor="end" textLength="21.9" lengthAdjust="spacingAndGlyphs">AGXT</text>
<text x="273.6" y="205.84" font-size="8" text-anchor="end" textLength="29.1" lengthAdjust="spacingAndGlyphs">GAPDH</text>
<text x="517.2" y="166.24" font-size="8" text-anchor="start" textLength="13.8" lengthAdjust="spacingAndGlyphs">kDa</text>
<text x="519.3" y="185.14" font-size="8" text-anchor="start" textLength="8.7" lengthAdjust="spacingAndGlyphs">40</text>
<text x="519.3" y="207.84" font-size="8" text-anchor="start" textLength="8.7" lengthAdjust="spacingAndGlyphs">37</text>
<line x1="280.4" y1="221.4" x2="370.8" y2="221.4" stroke="#888" stroke-width="0.8"/>
<line x1="373.5" y1="221.4" x2="511.8" y2="221.4" stroke="#888" stroke-width="0.8"/>
<text x="325.7" y="232.55" font-size="8.6" text-anchor="middle" textLength="30.3" lengthAdjust="spacingAndGlyphs">Control</text>
<text x="442.9" y="232.45" font-size="8.6" text-anchor="middle" textLength="24.3" lengthAdjust="spacingAndGlyphs">MASH</text>
<text x="546.2" y="163.08" font-size="11.5" text-anchor="start" font-weight="bold">e</text>
<line x1="582.5" y1="170.5" x2="582.5" y2="237.1" stroke="#666" stroke-width="0.8"/>
<line x1="579.5" y1="237.1" x2="582.5" y2="237.1" stroke="#666" stroke-width="0.8"/>
<text x="575.9" y="239.59" font-size="7" text-anchor="end" fill="#222">0</text>
<line x1="579.5" y1="214.9" x2="582.5" y2="214.9" stroke="#666" stroke-width="0.8"/>
<text x="575.9" y="217.39" font-size="7" text-anchor="end" fill="#222">0.5</text>
<line x1="579.5" y1="192.7" x2="582.5" y2="192.7" stroke="#666" stroke-width="0.8"/>
<text x="575.9" y="195.19" font-size="7" text-anchor="end" fill="#222">1.0</text>
<line x1="579.5" y1="170.5" x2="582.5" y2="170.5" stroke="#666" stroke-width="0.8"/>
<text x="575.9" y="172.99" font-size="7" text-anchor="end" fill="#222">1.5</text>
<line x1="582.5" y1="237.1" x2="672.6" y2="237.1" stroke="#666" stroke-width="0.8"/>
<line x1="608.3" y1="237.1" x2="608.3" y2="239.6" stroke="#666" stroke-width="0.8"/>
<line x1="646.9" y1="237.1" x2="646.9" y2="239.6" stroke="#666" stroke-width="0.8"/>
<rect x="595.6" y="193.59" width="25.4" height="43.51" fill="#0000ff" stroke="#000" stroke-width="0.8"/>
<rect x="634" y="201.58" width="25.7" height="35.52" fill="#ff0000" stroke="#000" stroke-width="0.8"/>
<line x1="608.3" y1="191.81" x2="608.3" y2="195.36" stroke="#000" stroke-width="0.8"/>
<line x1="605.8" y1="191.81" x2="610.8" y2="191.81" stroke="#000" stroke-width="0.8"/>
<line x1="605.8" y1="195.36" x2="610.8" y2="195.36" stroke="#000" stroke-width="0.8"/>
<line x1="646.9" y1="200.69" x2="646.9" y2="202.47" stroke="#000" stroke-width="0.8"/>
<line x1="644.4" y1="200.69" x2="649.4" y2="200.69" stroke="#000" stroke-width="0.8"/>
<line x1="644.4" y1="202.47" x2="649.4" y2="202.47" stroke="#000" stroke-width="0.8"/>
<circle cx="608.1" cy="181.7" r="2" fill="#fff" stroke="#000" stroke-width="0.8"/>
<circle cx="608.1" cy="184.6" r="2" fill="#fff" stroke="#000" stroke-width="0.8"/>
<circle cx="608.1" cy="187.3" r="2" fill="#fff" stroke="#000" stroke-width="0.8"/>
<circle cx="597.2" cy="191.4" r="2" fill="#fff" stroke="#000" stroke-width="0.8"/>
<circle cx="604.7" cy="191.4" r="2" fill="#fff" stroke="#000" stroke-width="0.8"/>
<circle cx="619.4" cy="190.3" r="2" fill="#fff" stroke="#000" stroke-width="0.8"/>
<circle cx="612.1" cy="193.7" r="2" fill="#fff" stroke="#000" stroke-width="0.8"/>
<circle cx="597.2" cy="197.5" r="2" fill="#fff" stroke="#000" stroke-width="0.8"/>
<circle cx="604.7" cy="201.1" r="2" fill="#fff" stroke="#000" stroke-width="0.8"/>
<circle cx="612.1" cy="197.5" r="2" fill="#fff" stroke="#000" stroke-width="0.8"/>
<circle cx="619.4" cy="194.8" r="2" fill="#fff" stroke="#000" stroke-width="0.8"/>
<circle cx="605" cy="192" r="2" fill="#fff" stroke="#000" stroke-width="0.8"/>
<circle cx="610" cy="192" r="2" fill="#fff" stroke="#000" stroke-width="0.8"/>
<circle cx="646.5" cy="187.3" r="2" fill="#fff" stroke="#000" stroke-width="0.8"/>
<circle cx="647.7" cy="185.7" r="2" fill="#fff" stroke="#000" stroke-width="0.8"/>
<circle cx="636.4" cy="200.4" r="2" fill="#fff" stroke="#000" stroke-width="0.8"/>
<circle cx="640.9" cy="199.3" r="2" fill="#fff" stroke="#000" stroke-width="0.8"/>
<circle cx="645.4" cy="198.2" r="2" fill="#fff" stroke="#000" stroke-width="0.8"/>
<circle cx="649.9" cy="199.3" r="2" fill="#fff" stroke="#000" stroke-width="0.8"/>
<circle cx="655.6" cy="195.9" r="2" fill="#fff" stroke="#000" stroke-width="0.8"/>
<circle cx="657.9" cy="201.1" r="2" fill="#fff" stroke="#000" stroke-width="0.8"/>
<circle cx="638.6" cy="202.7" r="2" fill="#fff" stroke="#000" stroke-width="0.8"/>
<circle cx="643.1" cy="202.7" r="2" fill="#fff" stroke="#000" stroke-width="0.8"/>
<circle cx="647.7" cy="202.7" r="2" fill="#fff" stroke="#000" stroke-width="0.8"/>
<circle cx="652.2" cy="203.4" r="2" fill="#fff" stroke="#000" stroke-width="0.8"/>
<circle cx="655.6" cy="203.8" r="2" fill="#fff" stroke="#000" stroke-width="0.8"/>
<circle cx="644.3" cy="206.1" r="2" fill="#fff" stroke="#000" stroke-width="0.8"/>
<circle cx="647.7" cy="206.1" r="2" fill="#fff" stroke="#000" stroke-width="0.8"/>
<circle cx="645.9" cy="209.5" r="2" fill="#fff" stroke="#000" stroke-width="0.8"/>
<text x="628.4" y="168.38" font-size="8.4" text-anchor="middle" textLength="44.1" lengthAdjust="spacingAndGlyphs"><tspan font-style="italic">P</tspan> = 0.0003</text>
<polyline points="607.6,175.5 607.6,172.6 646.5,172.6 646.5,181.2" fill="none" stroke="#666" stroke-width="0.7"/>
<text x="608.1" y="250.55" font-size="8.6" text-anchor="middle" textLength="29.4" lengthAdjust="spacingAndGlyphs">Control</text>
<text x="646.9" y="250.55" font-size="8.6" text-anchor="middle" textLength="24.2" lengthAdjust="spacingAndGlyphs">MASH</text>
<text transform="translate(558.28,204.4) rotate(-90)" x="0" y="0" font-size="8.4" text-anchor="middle" textLength="41.8" lengthAdjust="spacingAndGlyphs">Fold AGXT</text>
<text x="244.4" y="270.28" font-size="11.5" text-anchor="start" font-weight="bold">f</text>
<line x1="284.9" y1="290" x2="284.9" y2="382.4" stroke="#666" stroke-width="0.8"/>
<line x1="281.9" y1="382.4" x2="284.9" y2="382.4" stroke="#666" stroke-width="0.8"/>
<text x="278.3" y="384.88" font-size="7" text-anchor="end" fill="#222">0</text>
<line x1="281.9" y1="359.3" x2="284.9" y2="359.3" stroke="#666" stroke-width="0.8"/>
<text x="278.3" y="361.78" font-size="7" text-anchor="end" fill="#222">2</text>
<line x1="281.9" y1="336.2" x2="284.9" y2="336.2" stroke="#666" stroke-width="0.8"/>
<text x="278.3" y="338.69" font-size="7" text-anchor="end" fill="#222">4</text>
<line x1="281.9" y1="313.1" x2="284.9" y2="313.1" stroke="#666" stroke-width="0.8"/>
<text x="278.3" y="315.58" font-size="7" text-anchor="end" fill="#222">6</text>
<line x1="281.9" y1="290" x2="284.9" y2="290" stroke="#666" stroke-width="0.8"/>
<text x="278.3" y="292.49" font-size="7" text-anchor="end" fill="#222">8</text>
<line x1="284.9" y1="382.4" x2="365" y2="382.4" stroke="#666" stroke-width="0.8"/>
<line x1="307.6" y1="382.4" x2="307.6" y2="384.9" stroke="#666" stroke-width="0.8"/>
<line x1="341.7" y1="382.4" x2="341.7" y2="384.9" stroke="#666" stroke-width="0.8"/>
<rect x="296.4" y="352.95" width="22.4" height="29.45" fill="#0000ff" stroke="#000" stroke-width="0.8"/>
<rect x="330.4" y="336.2" width="22.6" height="46.2" fill="#ff0000" stroke="#000" stroke-width="0.8"/>
<line x1="307.6" y1="349.14" x2="307.6" y2="356.76" stroke="#000" stroke-width="0.8"/>
<line x1="305.1" y1="349.14" x2="310.1" y2="349.14" stroke="#000" stroke-width="0.8"/>
<line x1="305.1" y1="356.76" x2="310.1" y2="356.76" stroke="#000" stroke-width="0.8"/>
<line x1="341.7" y1="332.16" x2="341.7" y2="340.24" stroke="#000" stroke-width="0.8"/>
<line x1="339.2" y1="332.16" x2="344.2" y2="332.16" stroke="#000" stroke-width="0.8"/>
<line x1="339.2" y1="340.24" x2="344.2" y2="340.24" stroke="#000" stroke-width="0.8"/>
<circle cx="301.2" cy="341.3" r="1.6" fill="#fff" stroke="#000" stroke-width="0.8"/>
<circle cx="307.3" cy="337.7" r="1.6" fill="#fff" stroke="#000" stroke-width="0.8"/>
<circle cx="313.3" cy="340.9" r="1.6" fill="#fff" stroke="#000" stroke-width="0.8"/>
<circle cx="307.3" cy="341.3" r="1.6" fill="#fff" stroke="#000" stroke-width="0.8"/>
<circle cx="302" cy="352.9" r="1.6" fill="#fff" stroke="#000" stroke-width="0.8"/>
<circle cx="307.7" cy="352.9" r="1.6" fill="#fff" stroke="#000" stroke-width="0.8"/>
<circle cx="314" cy="352.4" r="1.6" fill="#fff" stroke="#000" stroke-width="0.8"/>
<circle cx="307.7" cy="363" r="1.6" fill="#fff" stroke="#000" stroke-width="0.8"/>
<circle cx="304.8" cy="369.8" r="1.6" fill="#fff" stroke="#000" stroke-width="0.8"/>
<circle cx="310.9" cy="369.8" r="1.6" fill="#fff" stroke="#000" stroke-width="0.8"/>
<circle cx="341.7" cy="297.5" r="1.6" fill="#fff" stroke="#000" stroke-width="0.8"/>
<circle cx="338.6" cy="307.6" r="1.6" fill="#fff" stroke="#000" stroke-width="0.8"/>
<circle cx="345.1" cy="310" r="1.6" fill="#fff" stroke="#000" stroke-width="0.8"/>
<circle cx="341.7" cy="314.4" r="1.6" fill="#fff" stroke="#000" stroke-width="0.8"/>
<circle cx="341.7" cy="323.3" r="1.6" fill="#fff" stroke="#000" stroke-width="0.8"/>
<circle cx="341.7" cy="329.3" r="1.6" fill="#fff" stroke="#000" stroke-width="0.8"/>
<circle cx="335.7" cy="330.5" r="1.6" fill="#fff" stroke="#000" stroke-width="0.8"/>
<circle cx="347.7" cy="332.9" r="1.6" fill="#fff" stroke="#000" stroke-width="0.8"/>
<circle cx="335.7" cy="337" r="1.6" fill="#fff" stroke="#000" stroke-width="0.8"/>
<circle cx="341.7" cy="336.5" r="1.6" fill="#fff" stroke="#000" stroke-width="0.8"/>
<circle cx="347.7" cy="336.5" r="1.6" fill="#fff" stroke="#000" stroke-width="0.8"/>
<circle cx="335.7" cy="341.3" r="1.6" fill="#fff" stroke="#000" stroke-width="0.8"/>
<circle cx="341.7" cy="341.3" r="1.6" fill="#fff" stroke="#000" stroke-width="0.8"/>
<circle cx="341.7" cy="346.2" r="1.6" fill="#fff" stroke="#000" stroke-width="0.8"/>
<circle cx="341.7" cy="349.3" r="1.6" fill="#fff" stroke="#000" stroke-width="0.8"/>
<circle cx="341.7" cy="354.6" r="1.6" fill="#fff" stroke="#000" stroke-width="0.8"/>
<circle cx="347.7" cy="357" r="1.6" fill="#fff" stroke="#000" stroke-width="0.8"/>
<circle cx="341.7" cy="360.6" r="1.6" fill="#fff" stroke="#000" stroke-width="0.8"/>
<circle cx="338.6" cy="366.6" r="1.6" fill="#fff" stroke="#000" stroke-width="0.8"/>
<circle cx="344.6" cy="365.4" r="1.6" fill="#fff" stroke="#000" stroke-width="0.8"/>
<text x="324.7" y="284.01" font-size="8.2" text-anchor="middle" textLength="42.2" lengthAdjust="spacingAndGlyphs"><tspan font-style="italic">P</tspan> = 0.0164</text>
<polyline points="307.5,331.2 307.5,288.4 341.7,288.4 341.7,292.4" fill="none" stroke="#666" stroke-width="0.7"/>
<text x="307.7" y="396.48" font-size="8.4" text-anchor="middle" textLength="30.5" lengthAdjust="spacingAndGlyphs">Control</text>
<text x="342" y="396.48" font-size="8.4" text-anchor="middle" textLength="24.7" lengthAdjust="spacingAndGlyphs">MASH</text>
<text transform="translate(256.01,337.1) rotate(-90)" x="0" y="0" font-size="8.2" text-anchor="middle" textLength="47" lengthAdjust="spacingAndGlyphs">LDH activity</text>
<text transform="translate(264.21,336.5) rotate(-90)" x="0" y="0" font-size="8.2" text-anchor="middle" textLength="62.6" lengthAdjust="spacingAndGlyphs">(U mg<tspan dy="-2.6" font-size="5.5">−1</tspan><tspan dy="2.6"> protein)</tspan></text>
<text x="388" y="270.28" font-size="11.5" text-anchor="start" font-weight="bold">g</text>
<line x1="433.3" y1="296.4" x2="433.3" y2="382.5" stroke="#666" stroke-width="0.8"/>
<line x1="430.3" y1="382.5" x2="433.3" y2="382.5" stroke="#666" stroke-width="0.8"/>
<text x="426.7" y="384.99" font-size="7" text-anchor="end" fill="#222">0</text>
<line x1="430.3" y1="353.8" x2="433.3" y2="353.8" stroke="#666" stroke-width="0.8"/>
<text x="426.7" y="356.29" font-size="7" text-anchor="end" fill="#222">0.4</text>
<line x1="430.3" y1="325.1" x2="433.3" y2="325.1" stroke="#666" stroke-width="0.8"/>
<text x="426.7" y="327.59" font-size="7" text-anchor="end" fill="#222">0.8</text>
<line x1="430.3" y1="296.4" x2="433.3" y2="296.4" stroke="#666" stroke-width="0.8"/>
<text x="426.7" y="298.88" font-size="7" text-anchor="end" fill="#222">1.2</text>
<line x1="433.3" y1="382.5" x2="519.5" y2="382.5" stroke="#666" stroke-width="0.8"/>
<line x1="458" y1="382.5" x2="458" y2="385" stroke="#666" stroke-width="0.8"/>
<line x1="495" y1="382.5" x2="495" y2="385" stroke="#666" stroke-width="0.8"/>
<rect x="446.3" y="355.24" width="23.4" height="27.26" fill="#0000ff" stroke="#000" stroke-width="0.8"/>
<rect x="482.9" y="336.58" width="24.1" height="45.92" fill="#ff0000" stroke="#000" stroke-width="0.8"/>
<line x1="458" y1="351.65" x2="458" y2="358.82" stroke="#000" stroke-width="0.8"/>
<line x1="455.5" y1="351.65" x2="460.5" y2="351.65" stroke="#000" stroke-width="0.8"/>
<line x1="455.5" y1="358.82" x2="460.5" y2="358.82" stroke="#000" stroke-width="0.8"/>
<line x1="495" y1="333.71" x2="495" y2="339.45" stroke="#000" stroke-width="0.8"/>
<line x1="492.5" y1="333.71" x2="497.5" y2="333.71" stroke="#000" stroke-width="0.8"/>
<line x1="492.5" y1="339.45" x2="497.5" y2="339.45" stroke="#000" stroke-width="0.8"/>
<circle cx="458.1" cy="330.5" r="1.6" fill="#fff" stroke="#000" stroke-width="0.8"/>
<circle cx="458.1" cy="342.1" r="1.6" fill="#fff" stroke="#000" stroke-width="0.8"/>
<circle cx="458.1" cy="349" r="1.6" fill="#fff" stroke="#000" stroke-width="0.8"/>
<circle cx="451.6" cy="356.3" r="1.6" fill="#fff" stroke="#000" stroke-width="0.8"/>
<circle cx="458.1" cy="356.3" r="1.6" fill="#fff" stroke="#000" stroke-width="0.8"/>
<circle cx="464.6" cy="356.3" r="1.6" fill="#fff" stroke="#000" stroke-width="0.8"/>
<circle cx="458.1" cy="364.2" r="1.6" fill="#fff" stroke="#000" stroke-width="0.8"/>
<circle cx="454.5" cy="371.9" r="1.6" fill="#fff" stroke="#000" stroke-width="0.8"/>
<circle cx="461.2" cy="369.5" r="1.6" fill="#fff" stroke="#000" stroke-width="0.8"/>
<circle cx="494.9" cy="314.1" r="1.6" fill="#fff" stroke="#000" stroke-width="0.8"/>
<circle cx="484.6" cy="319.7" r="1.6" fill="#fff" stroke="#000" stroke-width="0.8"/>
<circle cx="488.2" cy="322.1" r="1.6" fill="#fff" stroke="#000" stroke-width="0.8"/>
<circle cx="492.5" cy="319.7" r="1.6" fill="#fff" stroke="#000" stroke-width="0.8"/>
<circle cx="496.6" cy="319.2" r="1.6" fill="#fff" stroke="#000" stroke-width="0.8"/>
<circle cx="500.2" cy="319.7" r="1.6" fill="#fff" stroke="#000" stroke-width="0.8"/>
<circle cx="505.1" cy="321.6" r="1.6" fill="#fff" stroke="#000" stroke-width="0.8"/>
<circle cx="491.8" cy="324.5" r="1.6" fill="#fff" stroke="#000" stroke-width="0.8"/>
<circle cx="488.2" cy="330.5" r="1.6" fill="#fff" stroke="#000" stroke-width="0.8"/>
<circle cx="493" cy="330.5" r="1.6" fill="#fff" stroke="#000" stroke-width="0.8"/>
<circle cx="497.8" cy="330.5" r="1.6" fill="#fff" stroke="#000" stroke-width="0.8"/>
<circle cx="491.8" cy="333.6" r="1.6" fill="#fff" stroke="#000" stroke-width="0.8"/>
<circle cx="495.4" cy="334.1" r="1.6" fill="#fff" stroke="#000" stroke-width="0.8"/>
<circle cx="488.2" cy="347.4" r="1.6" fill="#fff" stroke="#000" stroke-width="0.8"/>
<circle cx="493" cy="347.4" r="1.6" fill="#fff" stroke="#000" stroke-width="0.8"/>
<circle cx="497.8" cy="347.4" r="1.6" fill="#fff" stroke="#000" stroke-width="0.8"/>
<circle cx="490.6" cy="351" r="1.6" fill="#fff" stroke="#000" stroke-width="0.8"/>
<circle cx="495.4" cy="351" r="1.6" fill="#fff" stroke="#000" stroke-width="0.8"/>
<circle cx="500.2" cy="353.4" r="1.6" fill="#fff" stroke="#000" stroke-width="0.8"/>
<circle cx="491.8" cy="357" r="1.6" fill="#fff" stroke="#000" stroke-width="0.8"/>
<circle cx="496.6" cy="358.2" r="1.6" fill="#fff" stroke="#000" stroke-width="0.8"/>
<circle cx="490.6" cy="360.6" r="1.6" fill="#fff" stroke="#000" stroke-width="0.8"/>
<text x="474.7" y="297.81" font-size="8.2" text-anchor="middle" textLength="41.4" lengthAdjust="spacingAndGlyphs"><tspan font-style="italic">P</tspan> = 0.0016</text>
<polyline points="458.3,323.3 458.3,302.3 495,302.3 495,308.8" fill="none" stroke="#666" stroke-width="0.7"/>
<text x="458.2" y="397.08" font-size="8.4" text-anchor="middle" textLength="30.5" lengthAdjust="spacingAndGlyphs">Control</text>
<text x="495.2" y="397.08" font-size="8.4" text-anchor="middle" textLength="24.7" lengthAdjust="spacingAndGlyphs">MASH</text>
<text transform="translate(396.01,340.1) rotate(-90)" x="0" y="0" font-size="8.2" text-anchor="middle" textLength="50.6" lengthAdjust="spacingAndGlyphs">Liver oxalate</text>
<text transform="translate(404.51,339.5) rotate(-90)" x="0" y="0" font-size="8.2" text-anchor="middle" textLength="47" lengthAdjust="spacingAndGlyphs">(nmol mg<tspan dy="-2.6" font-size="5.5">−1</tspan><tspan dy="2.6">)</tspan></text>
<text x="537.7" y="270.28" font-size="11.5" text-anchor="start" font-weight="bold">h</text>
<text x="614.2" y="272.88" font-size="8.4" text-anchor="middle" textLength="18.8" lengthAdjust="spacingAndGlyphs">Mice</text>
<g transform="translate(545,270) scale(0.073)">
<path d="M140,290 C60,330 45,430 120,465 C200,492 350,482 460,500 C520,510 570,530 600,562" fill="none" stroke="#0000ff" stroke-width="26" stroke-linecap="round"/>
<path d="M330,480 C400,487 440,495 460,500 C520,510 570,530 600,562" fill="none" stroke="#222" stroke-width="9"/>
<path d="M130,250 C110,170 170,90 280,78 C340,72 390,80 420,100 L432,55 C455,60 480,80 490,120 C510,170 540,230 562,275 C552,300 520,305 490,305 C460,310 440,318 432,325 L450,350 L464,395 L440,410 L418,380 C390,362 340,356 300,356 L278,382 L242,386 L236,362 C200,348 160,336 130,305 Z" fill="#0000ff" stroke="#222" stroke-width="9" stroke-linejoin="round"/>
<path d="M405,118 C372,108 358,150 378,178 C388,192 400,200 412,212" fill="none" stroke="#222" stroke-width="6"/>
<path d="M420,335 L450,360 L455,395 M246,365 L262,383" fill="none" stroke="#222" stroke-width="8"/>
</g>
<g transform="translate(633.7,270) scale(0.073)">
<path d="M140,290 C60,330 45,430 120,465 C200,492 350,482 460,500 C520,510 570,530 600,562" fill="none" stroke="#ff0000" stroke-width="26" stroke-linecap="round"/>
<path d="M330,480 C400,487 440,495 460,500 C520,510 570,530 600,562" fill="none" stroke="#222" stroke-width="9"/>
<path d="M130,250 C110,170 170,90 280,78 C340,72 390,80 420,100 L432,55 C455,60 480,80 490,120 C510,170 540,230 562,275 C552,300 520,305 490,305 C460,310 440,318 432,325 L450,350 L464,395 L440,410 L418,380 C390,362 340,356 300,356 L278,382 L242,386 L236,362 C200,348 160,336 130,305 Z" fill="#ff0000" stroke="#222" stroke-width="9" stroke-linejoin="round"/>
<path d="M405,118 C372,108 358,150 378,178 C388,192 400,200 412,212" fill="none" stroke="#222" stroke-width="6"/>
<path d="M420,335 L450,360 L455,395 M246,365 L262,383" fill="none" stroke="#222" stroke-width="8"/>
</g>
<text x="570" y="320.18" font-size="8.4" text-anchor="middle" fill="#0000ff" textLength="30.1" lengthAdjust="spacingAndGlyphs">Control</text>
<text x="658.4" y="320.18" font-size="8.4" text-anchor="middle" fill="#ff0000" textLength="23.8" lengthAdjust="spacingAndGlyphs">MASH</text>
<line x1="570" y1="322.4" x2="570" y2="346" stroke="#0000ff" stroke-width="1.1" marker-end="url(#ahb)"/>
<line x1="658.3" y1="322.4" x2="658.3" y2="346" stroke="#ff0000" stroke-width="1.1" marker-end="url(#ahr)"/>
<text x="614.3" y="333.98" font-size="8.4" text-anchor="middle" textLength="37.4" lengthAdjust="spacingAndGlyphs">24 weeks</text>
<rect x="546.3" y="346.3" width="138.1" height="55.1" fill="none" stroke="#000" stroke-width="1"/>
<text x="616.9" y="360.18" font-size="8.4" text-anchor="middle" textLength="82" lengthAdjust="spacingAndGlyphs">Liver histopathology</text>
<text x="616.6" y="371.48" font-size="8.4" text-anchor="middle" textLength="100.7" lengthAdjust="spacingAndGlyphs">Expression of glyoxylate/</text>
<text x="616.8" y="382.28" font-size="8.4" text-anchor="middle" textLength="73.1" lengthAdjust="spacingAndGlyphs">oxalate regulators</text>
<text x="616.8" y="393.58" font-size="8.4" text-anchor="middle" textLength="50.4" lengthAdjust="spacingAndGlyphs">Liver oxalate</text>
<text x="246.3" y="420.58" font-size="11.5" text-anchor="start" font-weight="bold">j</text>
<rect x="297.4" y="423" width="7.6" height="7.8" fill="#0000ff" stroke="#000" stroke-width="0.7"/>
<text x="309.9" y="430.05" font-size="8.6" text-anchor="start" textLength="30.2" lengthAdjust="spacingAndGlyphs">Control</text>
<rect x="353.3" y="423" width="7.6" height="7.8" fill="#ff0000" stroke="#000" stroke-width="0.7"/>
<text x="365.7" y="430.05" font-size="8.6" text-anchor="start" textLength="23.7" lengthAdjust="spacingAndGlyphs">MASH</text>
<line x1="288.5" y1="430.8" x2="288.5" y2="532.3" stroke="#666" stroke-width="0.8"/>
<line x1="285.3" y1="532.3" x2="288.5" y2="532.3" stroke="#666" stroke-width="0.8"/>
<text x="281.7" y="534.78" font-size="7" text-anchor="end" fill="#222">0</text>
<line x1="285.3" y1="512" x2="288.5" y2="512" stroke="#666" stroke-width="0.8"/>
<text x="281.7" y="514.48" font-size="7" text-anchor="end" fill="#222">0.5</text>
<line x1="285.3" y1="491.7" x2="288.5" y2="491.7" stroke="#666" stroke-width="0.8"/>
<text x="281.7" y="494.18" font-size="7" text-anchor="end" fill="#222">1.0</text>
<line x1="285.3" y1="471.4" x2="288.5" y2="471.4" stroke="#666" stroke-width="0.8"/>
<text x="281.7" y="473.88" font-size="7" text-anchor="end" fill="#222">1.5</text>
<line x1="285.3" y1="451.1" x2="288.5" y2="451.1" stroke="#666" stroke-width="0.8"/>
<text x="281.7" y="453.58" font-size="7" text-anchor="end" fill="#222">2.0</text>
<line x1="285.3" y1="430.8" x2="288.5" y2="430.8" stroke="#666" stroke-width="0.8"/>
<text x="281.7" y="433.28" font-size="7" text-anchor="end" fill="#222">2.5</text>
<text transform="translate(260.21,481.8) rotate(-90)" x="0" y="0" font-size="8.2" text-anchor="middle" textLength="85.5" lengthAdjust="spacingAndGlyphs">Fold gene expression</text>
<line x1="288.5" y1="532.3" x2="624.2" y2="532.3" stroke="#666" stroke-width="0.8"/>
<line x1="318.1" y1="532.3" x2="318.1" y2="534.8" stroke="#666" stroke-width="0.8"/>
<line x1="373.28" y1="532.3" x2="373.28" y2="534.8" stroke="#666" stroke-width="0.8"/>
<line x1="428.46" y1="532.3" x2="428.46" y2="534.8" stroke="#666" stroke-width="0.8"/>
<line x1="483.64" y1="532.3" x2="483.64" y2="534.8" stroke="#666" stroke-width="0.8"/>
<line x1="538.82" y1="532.3" x2="538.82" y2="534.8" stroke="#666" stroke-width="0.8"/>
<line x1="594" y1="532.3" x2="594" y2="534.8" stroke="#666" stroke-width="0.8"/>
<rect x="297.5" y="491.7" width="18.1" height="40.6" fill="#0000ff" stroke="#000" stroke-width="0.8"/>
<rect x="320.6" y="515.65" width="18.1" height="16.65" fill="#ff0000" stroke="#000" stroke-width="0.8"/>
<text x="318.1" y="546.31" font-size="8.2" text-anchor="middle" font-style="italic" textLength="18.7" lengthAdjust="spacingAndGlyphs">Agxt</text>
<line x1="306.55" y1="487.64" x2="306.55" y2="495.76" stroke="#000" stroke-width="0.8"/>
<line x1="304.05" y1="487.64" x2="309.05" y2="487.64" stroke="#000" stroke-width="0.8"/>
<line x1="304.05" y1="495.76" x2="309.05" y2="495.76" stroke="#000" stroke-width="0.8"/>
<line x1="329.65" y1="514.03" x2="329.65" y2="517.28" stroke="#000" stroke-width="0.8"/>
<line x1="327.15" y1="514.03" x2="332.15" y2="514.03" stroke="#000" stroke-width="0.8"/>
<line x1="327.15" y1="517.28" x2="332.15" y2="517.28" stroke="#000" stroke-width="0.8"/>
<rect x="352.68" y="490.89" width="18.1" height="41.41" fill="#0000ff" stroke="#000" stroke-width="0.8"/>
<rect x="375.78" y="498.6" width="18.1" height="33.7" fill="#ff0000" stroke="#000" stroke-width="0.8"/>
<text x="373.28" y="546.31" font-size="8.2" text-anchor="middle" font-style="italic" textLength="19.7" lengthAdjust="spacingAndGlyphs">Grhpr</text>
<line x1="361.73" y1="488.45" x2="361.73" y2="493.32" stroke="#000" stroke-width="0.8"/>
<line x1="359.23" y1="488.45" x2="364.23" y2="488.45" stroke="#000" stroke-width="0.8"/>
<line x1="359.23" y1="493.32" x2="364.23" y2="493.32" stroke="#000" stroke-width="0.8"/>
<line x1="384.83" y1="495.35" x2="384.83" y2="501.85" stroke="#000" stroke-width="0.8"/>
<line x1="382.33" y1="495.35" x2="387.33" y2="495.35" stroke="#000" stroke-width="0.8"/>
<line x1="382.33" y1="501.85" x2="387.33" y2="501.85" stroke="#000" stroke-width="0.8"/>
<rect x="407.86" y="492.11" width="18.1" height="40.19" fill="#0000ff" stroke="#000" stroke-width="0.8"/>
<rect x="430.96" y="493.32" width="18.1" height="38.98" fill="#ff0000" stroke="#000" stroke-width="0.8"/>
<text x="428.46" y="546.31" font-size="8.2" text-anchor="middle" font-style="italic" textLength="28.6" lengthAdjust="spacingAndGlyphs">Prodh2</text>
<line x1="416.91" y1="486.02" x2="416.91" y2="498.2" stroke="#000" stroke-width="0.8"/>
<line x1="414.41" y1="486.02" x2="419.41" y2="486.02" stroke="#000" stroke-width="0.8"/>
<line x1="414.41" y1="498.2" x2="419.41" y2="498.2" stroke="#000" stroke-width="0.8"/>
<line x1="440.01" y1="488.05" x2="440.01" y2="498.6" stroke="#000" stroke-width="0.8"/>
<line x1="437.51" y1="488.05" x2="442.51" y2="488.05" stroke="#000" stroke-width="0.8"/>
<line x1="437.51" y1="498.6" x2="442.51" y2="498.6" stroke="#000" stroke-width="0.8"/>
<rect x="463.04" y="491.7" width="18.1" height="40.6" fill="#0000ff" stroke="#000" stroke-width="0.8"/>
<rect x="486.14" y="494.54" width="18.1" height="37.76" fill="#ff0000" stroke="#000" stroke-width="0.8"/>
<text x="483.64" y="546.31" font-size="8.2" text-anchor="middle" font-style="italic" textLength="26.1" lengthAdjust="spacingAndGlyphs">Hoga1</text>
<line x1="472.09" y1="489.26" x2="472.09" y2="494.14" stroke="#000" stroke-width="0.8"/>
<line x1="469.59" y1="489.26" x2="474.59" y2="489.26" stroke="#000" stroke-width="0.8"/>
<line x1="469.59" y1="494.14" x2="474.59" y2="494.14" stroke="#000" stroke-width="0.8"/>
<line x1="495.19" y1="491.29" x2="495.19" y2="497.79" stroke="#000" stroke-width="0.8"/>
<line x1="492.69" y1="491.29" x2="497.69" y2="491.29" stroke="#000" stroke-width="0.8"/>
<line x1="492.69" y1="497.79" x2="497.69" y2="497.79" stroke="#000" stroke-width="0.8"/>
<rect x="518.22" y="491.7" width="18.1" height="40.6" fill="#0000ff" stroke="#000" stroke-width="0.8"/>
<rect x="541.32" y="482.77" width="18.1" height="49.53" fill="#ff0000" stroke="#000" stroke-width="0.8"/>
<text x="538.82" y="546.31" font-size="8.2" text-anchor="middle" font-style="italic" textLength="19.7" lengthAdjust="spacingAndGlyphs">Hao1</text>
<line x1="527.27" y1="486.83" x2="527.27" y2="496.57" stroke="#000" stroke-width="0.8"/>
<line x1="524.77" y1="486.83" x2="529.77" y2="486.83" stroke="#000" stroke-width="0.8"/>
<line x1="524.77" y1="496.57" x2="529.77" y2="496.57" stroke="#000" stroke-width="0.8"/>
<line x1="550.37" y1="473.84" x2="550.37" y2="491.7" stroke="#000" stroke-width="0.8"/>
<line x1="547.87" y1="473.84" x2="552.87" y2="473.84" stroke="#000" stroke-width="0.8"/>
<line x1="547.87" y1="491.7" x2="552.87" y2="491.7" stroke="#000" stroke-width="0.8"/>
<rect x="573.4" y="491.7" width="18.1" height="40.6" fill="#0000ff" stroke="#000" stroke-width="0.8"/>
<rect x="596.5" y="466.12" width="18.1" height="66.18" fill="#ff0000" stroke="#000" stroke-width="0.8"/>
<text x="594" y="546.31" font-size="8.2" text-anchor="middle" font-style="italic" textLength="19.7" lengthAdjust="spacingAndGlyphs">Ldha</text>
<line x1="582.45" y1="488.45" x2="582.45" y2="494.95" stroke="#000" stroke-width="0.8"/>
<line x1="579.95" y1="488.45" x2="584.95" y2="488.45" stroke="#000" stroke-width="0.8"/>
<line x1="579.95" y1="494.95" x2="584.95" y2="494.95" stroke="#000" stroke-width="0.8"/>
<line x1="605.55" y1="458" x2="605.55" y2="474.24" stroke="#000" stroke-width="0.8"/>
<line x1="603.05" y1="458" x2="608.05" y2="458" stroke="#000" stroke-width="0.8"/>
<line x1="603.05" y1="474.24" x2="608.05" y2="474.24" stroke="#000" stroke-width="0.8"/>
<circle cx="306.8" cy="476.7" r="2.2" fill="#fff" stroke="#000" stroke-width="0.9"/>
<circle cx="306.8" cy="484.2" r="2.2" fill="#fff" stroke="#000" stroke-width="0.9"/>
<circle cx="306.8" cy="489.6" r="2.2" fill="#fff" stroke="#000" stroke-width="0.9"/>
<circle cx="299.9" cy="495.8" r="2.2" fill="#fff" stroke="#000" stroke-width="0.9"/>
<circle cx="313" cy="499.1" r="2.2" fill="#fff" stroke="#000" stroke-width="0.9"/>
<circle cx="306.8" cy="503.8" r="2.2" fill="#fff" stroke="#000" stroke-width="0.9"/>
<circle cx="329.2" cy="508.3" r="2.2" fill="#fff" stroke="#000" stroke-width="0.9"/>
<circle cx="322.7" cy="515" r="2.2" fill="#fff" stroke="#000" stroke-width="0.9"/>
<circle cx="329.2" cy="517" r="2.2" fill="#fff" stroke="#000" stroke-width="0.9"/>
<circle cx="335.9" cy="515" r="2.2" fill="#fff" stroke="#000" stroke-width="0.9"/>
<circle cx="322.7" cy="521.4" r="2.2" fill="#fff" stroke="#000" stroke-width="0.9"/>
<circle cx="335.9" cy="519.4" r="2.2" fill="#fff" stroke="#000" stroke-width="0.9"/>
<circle cx="361.9" cy="483.4" r="2.2" fill="#fff" stroke="#000" stroke-width="0.9"/>
<circle cx="355.7" cy="487.2" r="2.2" fill="#fff" stroke="#000" stroke-width="0.9"/>
<circle cx="368.1" cy="490.9" r="2.2" fill="#fff" stroke="#000" stroke-width="0.9"/>
<circle cx="361.9" cy="489.6" r="2.2" fill="#fff" stroke="#000" stroke-width="0.9"/>
<circle cx="361.9" cy="494.6" r="2.2" fill="#fff" stroke="#000" stroke-width="0.9"/>
<circle cx="361.9" cy="502" r="2.2" fill="#fff" stroke="#000" stroke-width="0.9"/>
<circle cx="384.3" cy="482.2" r="2.2" fill="#fff" stroke="#000" stroke-width="0.9"/>
<circle cx="384.3" cy="493.4" r="2.2" fill="#fff" stroke="#000" stroke-width="0.9"/>
<circle cx="391.2" cy="499.6" r="2.2" fill="#fff" stroke="#000" stroke-width="0.9"/>
<circle cx="378.1" cy="507" r="2.2" fill="#fff" stroke="#000" stroke-width="0.9"/>
<circle cx="391.2" cy="505.8" r="2.2" fill="#fff" stroke="#000" stroke-width="0.9"/>
<circle cx="384.3" cy="500.3" r="2.2" fill="#fff" stroke="#000" stroke-width="0.9"/>
<circle cx="417" cy="474.7" r="2.2" fill="#fff" stroke="#000" stroke-width="0.9"/>
<circle cx="409.8" cy="483.9" r="2.2" fill="#fff" stroke="#000" stroke-width="0.9"/>
<circle cx="423.5" cy="484.7" r="2.2" fill="#fff" stroke="#000" stroke-width="0.9"/>
<circle cx="410.3" cy="492.1" r="2.2" fill="#fff" stroke="#000" stroke-width="0.9"/>
<circle cx="423.5" cy="492.1" r="2.2" fill="#fff" stroke="#000" stroke-width="0.9"/>
<circle cx="417" cy="520.9" r="2.2" fill="#fff" stroke="#000" stroke-width="0.9"/>
<circle cx="439.9" cy="476" r="2.2" fill="#fff" stroke="#000" stroke-width="0.9"/>
<circle cx="433.2" cy="484.7" r="2.2" fill="#fff" stroke="#000" stroke-width="0.9"/>
<circle cx="446.8" cy="484.7" r="2.2" fill="#fff" stroke="#000" stroke-width="0.9"/>
<circle cx="433.2" cy="500.8" r="2.2" fill="#fff" stroke="#000" stroke-width="0.9"/>
<circle cx="446.8" cy="501.6" r="2.2" fill="#fff" stroke="#000" stroke-width="0.9"/>
<circle cx="439.9" cy="508.3" r="2.2" fill="#fff" stroke="#000" stroke-width="0.9"/>
<circle cx="472.2" cy="480.9" r="2.2" fill="#fff" stroke="#000" stroke-width="0.9"/>
<circle cx="465" cy="487.3" r="2.2" fill="#fff" stroke="#000" stroke-width="0.9"/>
<circle cx="478.6" cy="487.3" r="2.2" fill="#fff" stroke="#000" stroke-width="0.9"/>
<circle cx="472.2" cy="493.7" r="2.2" fill="#fff" stroke="#000" stroke-width="0.9"/>
<circle cx="472.2" cy="498" r="2.2" fill="#fff" stroke="#000" stroke-width="0.9"/>
<circle cx="472.2" cy="503.4" r="2.2" fill="#fff" stroke="#000" stroke-width="0.9"/>
<circle cx="494.7" cy="471.2" r="2.2" fill="#fff" stroke="#000" stroke-width="0.9"/>
<circle cx="488.3" cy="493.7" r="2.2" fill="#fff" stroke="#000" stroke-width="0.9"/>
<circle cx="494.7" cy="494.4" r="2.2" fill="#fff" stroke="#000" stroke-width="0.9"/>
<circle cx="501.9" cy="492.7" r="2.2" fill="#fff" stroke="#000" stroke-width="0.9"/>
<circle cx="488.3" cy="501.6" r="2.2" fill="#fff" stroke="#000" stroke-width="0.9"/>
<circle cx="501.9" cy="500.9" r="2.2" fill="#fff" stroke="#000" stroke-width="0.9"/>
<circle cx="520.5" cy="482.6" r="2.2" fill="#fff" stroke="#000" stroke-width="0.9"/>
<circle cx="533.7" cy="481.2" r="2.2" fill="#fff" stroke="#000" stroke-width="0.9"/>
<circle cx="533.7" cy="486.2" r="2.2" fill="#fff" stroke="#000" stroke-width="0.9"/>
<circle cx="533.7" cy="490.9" r="2.2" fill="#fff" stroke="#000" stroke-width="0.9"/>
<circle cx="520.5" cy="493.7" r="2.2" fill="#fff" stroke="#000" stroke-width="0.9"/>
<circle cx="526.6" cy="518.4" r="2.2" fill="#fff" stroke="#000" stroke-width="0.9"/>
<circle cx="550.2" cy="446.9" r="2.2" fill="#fff" stroke="#000" stroke-width="0.9"/>
<circle cx="550.2" cy="461.5" r="2.2" fill="#fff" stroke="#000" stroke-width="0.9"/>
<circle cx="550.2" cy="483.7" r="2.2" fill="#fff" stroke="#000" stroke-width="0.9"/>
<circle cx="550.2" cy="490.9" r="2.2" fill="#fff" stroke="#000" stroke-width="0.9"/>
<circle cx="550.2" cy="498" r="2.2" fill="#fff" stroke="#000" stroke-width="0.9"/>
<circle cx="550.2" cy="505.2" r="2.2" fill="#fff" stroke="#000" stroke-width="0.9"/>
<circle cx="575.2" cy="486.2" r="2.2" fill="#fff" stroke="#000" stroke-width="0.9"/>
<circle cx="582.3" cy="480.9" r="2.2" fill="#fff" stroke="#000" stroke-width="0.9"/>
<circle cx="588.4" cy="486.2" r="2.2" fill="#fff" stroke="#000" stroke-width="0.9"/>
<circle cx="582.3" cy="493.7" r="2.2" fill="#fff" stroke="#000" stroke-width="0.9"/>
<circle cx="582.3" cy="499.1" r="2.2" fill="#fff" stroke="#000" stroke-width="0.9"/>
<circle cx="582.3" cy="505.2" r="2.2" fill="#fff" stroke="#000" stroke-width="0.9"/>
<circle cx="605.2" cy="436.2" r="2.2" fill="#fff" stroke="#000" stroke-width="0.9"/>
<circle cx="598.1" cy="453.3" r="2.2" fill="#fff" stroke="#000" stroke-width="0.9"/>
<circle cx="612.4" cy="453.3" r="2.2" fill="#fff" stroke="#000" stroke-width="0.9"/>
<circle cx="605.2" cy="477.3" r="2.2" fill="#fff" stroke="#000" stroke-width="0.9"/>
<circle cx="598.1" cy="489.1" r="2.2" fill="#fff" stroke="#000" stroke-width="0.9"/>
<circle cx="612.4" cy="486.6" r="2.2" fill="#fff" stroke="#000" stroke-width="0.9"/>
<text x="318.1" y="461.18" font-size="8.4" text-anchor="middle" textLength="44" lengthAdjust="spacingAndGlyphs"><tspan font-style="italic">P</tspan> = 0.0003</text>
<polyline points="306.6,472.6 306.6,464.4 330.3,464.4 330.3,506.5" fill="none" stroke="#666" stroke-width="0.7"/>
<text x="594.5" y="423.38" font-size="8.4" text-anchor="middle" textLength="43.5" lengthAdjust="spacingAndGlyphs"><tspan font-style="italic">P</tspan> = 0.0240</text>
<polyline points="582.3,471.2 582.3,426.5 605.2,426.5 605.2,431.9" fill="none" stroke="#666" stroke-width="0.7"/>
<text x="373" y="469.17" font-size="7.8" text-anchor="middle">NS</text>
<text x="428.2" y="465.87" font-size="7.8" text-anchor="middle">NS</text>
<text x="484.7" y="463.27" font-size="7.8" text-anchor="middle">NS</text>
<text x="539" y="437.47" font-size="7.8" text-anchor="middle">NS</text>
<text x="244.7" y="565.58" font-size="11.5" text-anchor="start" font-weight="bold">k</text>
<rect x="278.4" y="571.3" width="222.3" height="22" fill="#f3f3f3" stroke="none" stroke-width="0.8"/>
<g filter="url(#bl3)"><rect x="280.95" y="575.4" width="14.5" height="4.8" rx="2.4" fill="#000" opacity="0.24"/><rect x="299.15" y="576.4" width="14.5" height="4.8" rx="2.4" fill="#000" opacity="0.21"/><rect x="317.35" y="576.6" width="14.5" height="4.8" rx="2.4" fill="#000" opacity="0.24"/><rect x="335.55" y="576.6" width="14.5" height="4.8" rx="2.4" fill="#000" opacity="0.22"/><rect x="353.75" y="576.8" width="14.5" height="4.8" rx="2.4" fill="#000" opacity="0.21"/><rect x="371.95" y="576.8" width="14.5" height="4.8" rx="2.4" fill="#000" opacity="0.22"/><rect x="390.15" y="578" width="14.5" height="4.8" rx="2.4" fill="#000" opacity="0.16"/><rect x="408.35" y="578" width="14.5" height="4.8" rx="2.4" fill="#000" opacity="0.15"/><rect x="426.55" y="578" width="14.5" height="4.8" rx="2.4" fill="#000" opacity="0.14"/><rect x="444.75" y="578.2" width="14.5" height="4.8" rx="2.4" fill="#000" opacity="0.1"/><rect x="462.95" y="578" width="14.5" height="4.8" rx="2.4" fill="#000" opacity="0.13"/><rect x="481.15" y="577.8" width="14.5" height="4.8" rx="2.4" fill="#000" opacity="0.16"/></g>
<g filter="url(#bl)"><ellipse cx="288.2" cy="577.8" rx="7.25" ry="1.2" fill="#111" opacity="0.59"/><rect x="282.11" y="576.84" width="12.18" height="1.92" rx="0.96" fill="#111" opacity="0.35"/><ellipse cx="306.4" cy="578.8" rx="7.25" ry="1.2" fill="#111" opacity="0.51"/><rect x="300.31" y="577.84" width="12.18" height="1.92" rx="0.96" fill="#111" opacity="0.3"/><ellipse cx="324.6" cy="579" rx="7.25" ry="1.2" fill="#111" opacity="0.58"/><rect x="318.51" y="578.04" width="12.18" height="1.92" rx="0.96" fill="#111" opacity="0.34"/><ellipse cx="342.8" cy="579" rx="7.25" ry="1.2" fill="#111" opacity="0.53"/><rect x="336.71" y="578.04" width="12.18" height="1.92" rx="0.96" fill="#111" opacity="0.31"/><ellipse cx="361" cy="579.2" rx="7.25" ry="1.2" fill="#111" opacity="0.51"/><rect x="354.91" y="578.24" width="12.18" height="1.92" rx="0.96" fill="#111" opacity="0.3"/><ellipse cx="379.2" cy="579.2" rx="7.25" ry="1.2" fill="#111" opacity="0.53"/><rect x="373.11" y="578.24" width="12.18" height="1.92" rx="0.96" fill="#111" opacity="0.31"/><ellipse cx="397.4" cy="580.4" rx="7.25" ry="1.2" fill="#111" opacity="0.38"/><rect x="391.31" y="579.44" width="12.18" height="1.92" rx="0.96" fill="#111" opacity="0.23"/><ellipse cx="415.6" cy="580.4" rx="7.25" ry="1.2" fill="#111" opacity="0.36"/><rect x="409.51" y="579.44" width="12.18" height="1.92" rx="0.96" fill="#111" opacity="0.21"/><ellipse cx="433.8" cy="580.4" rx="7.25" ry="1.2" fill="#111" opacity="0.34"/><rect x="427.71" y="579.44" width="12.18" height="1.92" rx="0.96" fill="#111" opacity="0.2"/><ellipse cx="452" cy="580.6" rx="7.25" ry="1.2" fill="#111" opacity="0.26"/><rect x="445.91" y="579.64" width="12.18" height="1.92" rx="0.96" fill="#111" opacity="0.15"/><ellipse cx="470.2" cy="580.4" rx="7.25" ry="1.2" fill="#111" opacity="0.32"/><rect x="464.11" y="579.44" width="12.18" height="1.92" rx="0.96" fill="#111" opacity="0.19"/><ellipse cx="488.4" cy="580.2" rx="7.25" ry="1.2" fill="#111" opacity="0.38"/><rect x="482.31" y="579.24" width="12.18" height="1.92" rx="0.96" fill="#111" opacity="0.23"/></g>
<rect x="278.4" y="571.3" width="222.3" height="22" fill="none" stroke="#666" stroke-width="0.9"/>
<rect x="278.4" y="598.5" width="222.3" height="22.7" fill="#f3f3f3" stroke="none" stroke-width="0.8"/>
<g filter="url(#bl3)"><rect x="281.7" y="602.3" width="13" height="3" rx="1.5" fill="#000" opacity="0.08"/><rect x="299.9" y="602.3" width="13" height="3" rx="1.5" fill="#000" opacity="0.08"/><rect x="318.1" y="602.3" width="13" height="3" rx="1.5" fill="#000" opacity="0.08"/><rect x="336.3" y="602.3" width="13" height="3" rx="1.5" fill="#000" opacity="0.08"/><rect x="354.5" y="602.3" width="13" height="3" rx="1.5" fill="#000" opacity="0.08"/><rect x="372.7" y="602.3" width="13" height="3" rx="1.5" fill="#000" opacity="0.08"/><rect x="390.9" y="602.3" width="13" height="3" rx="1.5" fill="#000" opacity="0.3"/><rect x="409.1" y="602.3" width="13" height="3" rx="1.5" fill="#000" opacity="0.08"/><rect x="427.3" y="602.3" width="13" height="3" rx="1.5" fill="#000" opacity="0.3"/><rect x="445.5" y="602.3" width="13" height="3" rx="1.5" fill="#000" opacity="0.08"/><rect x="463.7" y="602.3" width="13" height="3" rx="1.5" fill="#000" opacity="0.3"/><rect x="481.9" y="602.3" width="13" height="3" rx="1.5" fill="#000" opacity="0.08"/><rect x="280.2" y="603.2" width="16" height="10" rx="5" fill="#000" opacity="0.26"/><rect x="298.4" y="605" width="16" height="8.8" rx="4.4" fill="#000" opacity="0.24"/><rect x="316.6" y="605.2" width="16" height="8.8" rx="4.4" fill="#000" opacity="0.24"/><rect x="334.8" y="605.2" width="16" height="8.8" rx="4.4" fill="#000" opacity="0.24"/><rect x="353" y="605.4" width="16" height="8.8" rx="4.4" fill="#000" opacity="0.24"/><rect x="371.2" y="605.6" width="16" height="8.8" rx="4.4" fill="#000" opacity="0.23"/><rect x="389.4" y="607" width="16" height="8.8" rx="4.4" fill="#000" opacity="0.27"/><rect x="407.6" y="607" width="16" height="8.8" rx="4.4" fill="#000" opacity="0.24"/><rect x="425.8" y="607" width="16" height="8.8" rx="4.4" fill="#000" opacity="0.26"/><rect x="444" y="607.1" width="16" height="8.8" rx="4.4" fill="#000" opacity="0.24"/><rect x="462.2" y="607.1" width="16" height="8.8" rx="4.4" fill="#000" opacity="0.26"/><rect x="480.4" y="607.1" width="16" height="8.8" rx="4.4" fill="#000" opacity="0.26"/></g>
<g filter="url(#bl)"><ellipse cx="288.2" cy="608.2" rx="8" ry="2.5" fill="#111" opacity="0.64"/><rect x="281.48" y="606.2" width="13.44" height="4" rx="2" fill="#111" opacity="0.38"/><ellipse cx="306.4" cy="609.4" rx="8" ry="2.2" fill="#111" opacity="0.58"/><rect x="299.68" y="607.64" width="13.44" height="3.52" rx="1.76" fill="#111" opacity="0.34"/><ellipse cx="324.6" cy="609.6" rx="8" ry="2.2" fill="#111" opacity="0.59"/><rect x="317.88" y="607.84" width="13.44" height="3.52" rx="1.76" fill="#111" opacity="0.35"/><ellipse cx="342.8" cy="609.6" rx="8" ry="2.2" fill="#111" opacity="0.58"/><rect x="336.08" y="607.84" width="13.44" height="3.52" rx="1.76" fill="#111" opacity="0.34"/><ellipse cx="361" cy="609.8" rx="8" ry="2.2" fill="#111" opacity="0.59"/><rect x="354.28" y="608.04" width="13.44" height="3.52" rx="1.76" fill="#111" opacity="0.35"/><ellipse cx="379.2" cy="610" rx="8" ry="2.2" fill="#111" opacity="0.56"/><rect x="372.48" y="608.24" width="13.44" height="3.52" rx="1.76" fill="#111" opacity="0.33"/><ellipse cx="397.4" cy="611.4" rx="8" ry="2.2" fill="#111" opacity="0.66"/><rect x="390.68" y="609.64" width="13.44" height="3.52" rx="1.76" fill="#111" opacity="0.39"/><ellipse cx="415.6" cy="611.4" rx="8" ry="2.2" fill="#111" opacity="0.59"/><rect x="408.88" y="609.64" width="13.44" height="3.52" rx="1.76" fill="#111" opacity="0.35"/><ellipse cx="433.8" cy="611.4" rx="8" ry="2.2" fill="#111" opacity="0.64"/><rect x="427.08" y="609.64" width="13.44" height="3.52" rx="1.76" fill="#111" opacity="0.38"/><ellipse cx="452" cy="611.5" rx="8" ry="2.2" fill="#111" opacity="0.59"/><rect x="445.28" y="609.74" width="13.44" height="3.52" rx="1.76" fill="#111" opacity="0.35"/><ellipse cx="470.2" cy="611.5" rx="8" ry="2.2" fill="#111" opacity="0.64"/><rect x="463.48" y="609.74" width="13.44" height="3.52" rx="1.76" fill="#111" opacity="0.38"/><ellipse cx="488.4" cy="611.5" rx="8" ry="2.2" fill="#111" opacity="0.64"/><rect x="481.68" y="609.74" width="13.44" height="3.52" rx="1.76" fill="#111" opacity="0.38"/></g>
<rect x="278.4" y="598.5" width="222.3" height="22.7" fill="none" stroke="#666" stroke-width="0.9"/>
<text x="275.1" y="585.01" font-size="8.2" text-anchor="end" textLength="23" lengthAdjust="spacingAndGlyphs">AGXT</text>
<text x="275.1" y="613.61" font-size="8.2" text-anchor="end" textLength="30.2" lengthAdjust="spacingAndGlyphs">β-Actin</text>
<text x="501.9" y="566.94" font-size="8" text-anchor="start" textLength="14.6" lengthAdjust="spacingAndGlyphs">kDa</text>
<text x="503.5" y="584.44" font-size="8" text-anchor="start" textLength="8.7" lengthAdjust="spacingAndGlyphs">40</text>
<text x="503.5" y="613.54" font-size="8" text-anchor="start" textLength="8.7" lengthAdjust="spacingAndGlyphs">45</text>
<line x1="281.6" y1="627.1" x2="384.5" y2="627.1" stroke="#888" stroke-width="0.8"/>
<line x1="395" y1="627.1" x2="497" y2="627.1" stroke="#888" stroke-width="0.8"/>
<text x="332.7" y="639.05" font-size="8.6" text-anchor="middle" textLength="31.2" lengthAdjust="spacingAndGlyphs">Control</text>
<text x="446.2" y="638.65" font-size="8.6" text-anchor="middle" textLength="24.1" lengthAdjust="spacingAndGlyphs">MASH</text>
<text x="539.2" y="565.38" font-size="11.5" text-anchor="start" font-weight="bold">l</text>
<line x1="571.9" y1="569.5" x2="571.9" y2="635.8" stroke="#666" stroke-width="0.8"/>
<line x1="568.9" y1="635.8" x2="571.9" y2="635.8" stroke="#666" stroke-width="0.8"/>
<text x="565.8" y="638.07" font-size="6.4" text-anchor="end" fill="#222">0</text>
<line x1="568.9" y1="613.7" x2="571.9" y2="613.7" stroke="#666" stroke-width="0.8"/>
<text x="565.8" y="615.97" font-size="6.4" text-anchor="end" fill="#222">0.5</text>
<line x1="568.9" y1="591.6" x2="571.9" y2="591.6" stroke="#666" stroke-width="0.8"/>
<text x="565.8" y="593.87" font-size="6.4" text-anchor="end" fill="#222">1.0</text>
<line x1="568.9" y1="569.5" x2="571.9" y2="569.5" stroke="#666" stroke-width="0.8"/>
<text x="565.8" y="571.77" font-size="6.4" text-anchor="end" fill="#222">1.5</text>
<line x1="571.9" y1="635.8" x2="661.2" y2="635.8" stroke="#666" stroke-width="0.8"/>
<line x1="597" y1="635.8" x2="597" y2="638.3" stroke="#666" stroke-width="0.8"/>
<line x1="635.6" y1="635.8" x2="635.6" y2="638.3" stroke="#666" stroke-width="0.8"/>
<rect x="584.2" y="591.6" width="25.5" height="44.2" fill="#0000ff" stroke="#000" stroke-width="0.8"/>
<rect x="623" y="615.47" width="25.1" height="20.33" fill="#ff0000" stroke="#000" stroke-width="0.8"/>
<line x1="597" y1="589.83" x2="597" y2="593.37" stroke="#000" stroke-width="0.8"/>
<line x1="594.5" y1="589.83" x2="599.5" y2="589.83" stroke="#000" stroke-width="0.8"/>
<line x1="594.5" y1="593.37" x2="599.5" y2="593.37" stroke="#000" stroke-width="0.8"/>
<line x1="635.6" y1="614.14" x2="635.6" y2="616.79" stroke="#000" stroke-width="0.8"/>
<line x1="633.1" y1="614.14" x2="638.1" y2="614.14" stroke="#000" stroke-width="0.8"/>
<line x1="633.1" y1="616.79" x2="638.1" y2="616.79" stroke="#000" stroke-width="0.8"/>
<circle cx="596.8" cy="581.7" r="1.6" fill="#fff" stroke="#000" stroke-width="0.8"/>
<circle cx="590.3" cy="591.9" r="1.6" fill="#fff" stroke="#000" stroke-width="0.8"/>
<circle cx="596.8" cy="588.8" r="1.6" fill="#fff" stroke="#000" stroke-width="0.8"/>
<circle cx="603.6" cy="592.9" r="1.6" fill="#fff" stroke="#000" stroke-width="0.8"/>
<circle cx="596.8" cy="593.9" r="1.6" fill="#fff" stroke="#000" stroke-width="0.8"/>
<circle cx="596.8" cy="599" r="1.6" fill="#fff" stroke="#000" stroke-width="0.8"/>
<circle cx="624.4" cy="610.9" r="1.6" fill="#fff" stroke="#000" stroke-width="0.8"/>
<circle cx="632.2" cy="614.4" r="1.6" fill="#fff" stroke="#000" stroke-width="0.8"/>
<circle cx="636.3" cy="614.4" r="1.6" fill="#fff" stroke="#000" stroke-width="0.8"/>
<circle cx="639.3" cy="614.4" r="1.6" fill="#fff" stroke="#000" stroke-width="0.8"/>
<circle cx="646.5" cy="611.3" r="1.6" fill="#fff" stroke="#000" stroke-width="0.8"/>
<circle cx="646.5" cy="615.8" r="1.6" fill="#fff" stroke="#000" stroke-width="0.8"/>
<circle cx="635.7" cy="625.2" r="1.6" fill="#fff" stroke="#000" stroke-width="0.8"/>
<text x="617.9" y="569.5" font-size="7.6" text-anchor="middle" textLength="49.9" lengthAdjust="spacingAndGlyphs"><tspan font-style="italic">P</tspan> = 1.8 × 10<tspan dy="-3.0" font-size="5.4">−5</tspan></text>
<polyline points="597.6,580.4 597.6,573.3 638,573.3 638,612.4" fill="none" stroke="#666" stroke-width="0.7"/>
<text x="597.4" y="648.98" font-size="8.4" text-anchor="middle" textLength="30.7" lengthAdjust="spacingAndGlyphs">Control</text>
<text x="636" y="648.98" font-size="8.4" text-anchor="middle" textLength="24.1" lengthAdjust="spacingAndGlyphs">MASH</text>
<text transform="translate(547.21,604.2) rotate(-90)" x="0" y="0" font-size="8.2" text-anchor="middle" textLength="40.9" lengthAdjust="spacingAndGlyphs">Fold AGXT</text>
<text x="0.8" y="644.58" font-size="11.5" text-anchor="start" font-weight="bold">m</text>
<line x1="47.4" y1="648.5" x2="47.4" y2="740" stroke="#666" stroke-width="0.8"/>
<line x1="44.4" y1="740" x2="47.4" y2="740" stroke="#666" stroke-width="0.8"/>
<text x="40.8" y="742.41" font-size="6.8" text-anchor="end" fill="#222">0</text>
<line x1="44.4" y1="721.7" x2="47.4" y2="721.7" stroke="#666" stroke-width="0.8"/>
<text x="40.8" y="724.11" font-size="6.8" text-anchor="end" fill="#222">2</text>
<line x1="44.4" y1="703.4" x2="47.4" y2="703.4" stroke="#666" stroke-width="0.8"/>
<text x="40.8" y="705.81" font-size="6.8" text-anchor="end" fill="#222">4</text>
<line x1="44.4" y1="685.1" x2="47.4" y2="685.1" stroke="#666" stroke-width="0.8"/>
<text x="40.8" y="687.51" font-size="6.8" text-anchor="end" fill="#222">6</text>
<line x1="44.4" y1="666.8" x2="47.4" y2="666.8" stroke="#666" stroke-width="0.8"/>
<text x="40.8" y="669.21" font-size="6.8" text-anchor="end" fill="#222">8</text>
<line x1="44.4" y1="648.5" x2="47.4" y2="648.5" stroke="#666" stroke-width="0.8"/>
<text x="40.8" y="650.91" font-size="6.8" text-anchor="end" fill="#222">10</text>
<line x1="47.4" y1="740" x2="127.7" y2="740" stroke="#666" stroke-width="0.8"/>
<line x1="70.5" y1="740" x2="70.5" y2="742.5" stroke="#666" stroke-width="0.8"/>
<line x1="104.6" y1="740" x2="104.6" y2="742.5" stroke="#666" stroke-width="0.8"/>
<rect x="59.3" y="711.91" width="22.4" height="28.09" fill="#0000ff" stroke="#000" stroke-width="0.8"/>
<rect x="93.4" y="687.85" width="22.5" height="52.15" fill="#ff0000" stroke="#000" stroke-width="0.8"/>
<line x1="70.5" y1="707.98" x2="70.5" y2="715.75" stroke="#000" stroke-width="0.8"/>
<line x1="68" y1="707.98" x2="73" y2="707.98" stroke="#000" stroke-width="0.8"/>
<line x1="68" y1="715.75" x2="73" y2="715.75" stroke="#000" stroke-width="0.8"/>
<line x1="104.6" y1="680.98" x2="104.6" y2="694.71" stroke="#000" stroke-width="0.8"/>
<line x1="102.1" y1="680.98" x2="107.1" y2="680.98" stroke="#000" stroke-width="0.8"/>
<line x1="102.1" y1="694.71" x2="107.1" y2="694.71" stroke="#000" stroke-width="0.8"/>
<circle cx="70.5" cy="698.7" r="1.6" fill="#fff" stroke="#000" stroke-width="0.8"/>
<circle cx="70.5" cy="705.8" r="1.6" fill="#fff" stroke="#000" stroke-width="0.8"/>
<circle cx="67.4" cy="709.3" r="1.6" fill="#fff" stroke="#000" stroke-width="0.8"/>
<circle cx="73.6" cy="709.3" r="1.6" fill="#fff" stroke="#000" stroke-width="0.8"/>
<circle cx="70.5" cy="711" r="1.6" fill="#fff" stroke="#000" stroke-width="0.8"/>
<circle cx="67" cy="722.8" r="1.6" fill="#fff" stroke="#000" stroke-width="0.8"/>
<circle cx="73.6" cy="722.2" r="1.6" fill="#fff" stroke="#000" stroke-width="0.8"/>
<circle cx="104.6" cy="662.3" r="1.6" fill="#fff" stroke="#000" stroke-width="0.8"/>
<circle cx="98.1" cy="684" r="1.6" fill="#fff" stroke="#000" stroke-width="0.8"/>
<circle cx="104.6" cy="681.3" r="1.6" fill="#fff" stroke="#000" stroke-width="0.8"/>
<circle cx="111.4" cy="685.4" r="1.6" fill="#fff" stroke="#000" stroke-width="0.8"/>
<circle cx="104.6" cy="687.4" r="1.6" fill="#fff" stroke="#000" stroke-width="0.8"/>
<circle cx="104.6" cy="702.8" r="1.6" fill="#fff" stroke="#000" stroke-width="0.8"/>
<circle cx="104.6" cy="708.9" r="1.6" fill="#fff" stroke="#000" stroke-width="0.8"/>
<text x="88.9" y="647.01" font-size="8.2" text-anchor="middle" textLength="38.8" lengthAdjust="spacingAndGlyphs"><tspan font-style="italic">P</tspan> = 0.0115</text>
<polyline points="70.5,693.6 70.5,650.2 104.6,650.2 104.6,658.8" fill="none" stroke="#666" stroke-width="0.7"/>
<text x="69.6" y="752.78" font-size="8.4" text-anchor="middle" textLength="29.6" lengthAdjust="spacingAndGlyphs">Control</text>
<text x="104.5" y="752.78" font-size="8.4" text-anchor="middle" textLength="24.1" lengthAdjust="spacingAndGlyphs">MASH</text>
<text transform="translate(16.21,694.6) rotate(-90)" x="0" y="0" font-size="8.2" text-anchor="middle" textLength="47" lengthAdjust="spacingAndGlyphs">LDH activity</text>
<text transform="translate(25.41,694.1) rotate(-90)" x="0" y="0" font-size="8.2" text-anchor="middle" textLength="64.4" lengthAdjust="spacingAndGlyphs">(U mg<tspan dy="-2.6" font-size="5.5">−1</tspan><tspan dy="2.6"> protein)</tspan></text>
<text x="147.3" y="644.18" font-size="11.5" text-anchor="start" font-weight="bold">n</text>
<line x1="190.7" y1="653.3" x2="190.7" y2="739.1" stroke="#666" stroke-width="0.8"/>
<line x1="187.7" y1="739.1" x2="190.7" y2="739.1" stroke="#666" stroke-width="0.8"/>
<text x="184.1" y="741.51" font-size="6.8" text-anchor="end" fill="#222">0</text>
<line x1="187.7" y1="710.5" x2="190.7" y2="710.5" stroke="#666" stroke-width="0.8"/>
<text x="184.1" y="712.91" font-size="6.8" text-anchor="end" fill="#222">0.4</text>
<line x1="187.7" y1="681.9" x2="190.7" y2="681.9" stroke="#666" stroke-width="0.8"/>
<text x="184.1" y="684.31" font-size="6.8" text-anchor="end" fill="#222">0.8</text>
<line x1="187.7" y1="653.3" x2="190.7" y2="653.3" stroke="#666" stroke-width="0.8"/>
<text x="184.1" y="655.71" font-size="6.8" text-anchor="end" fill="#222">1.2</text>
<line x1="190.7" y1="739.1" x2="276.7" y2="739.1" stroke="#666" stroke-width="0.8"/>
<line x1="214.6" y1="739.1" x2="214.6" y2="741.6" stroke="#666" stroke-width="0.8"/>
<line x1="251.7" y1="739.1" x2="251.7" y2="741.6" stroke="#666" stroke-width="0.8"/>
<rect x="202.6" y="718.37" width="24.1" height="20.74" fill="#0000ff" stroke="#000" stroke-width="0.8"/>
<rect x="239.8" y="687.26" width="23.8" height="51.84" fill="#ff0000" stroke="#000" stroke-width="0.8"/>
<line x1="214.6" y1="713" x2="214.6" y2="723.73" stroke="#000" stroke-width="0.8"/>
<line x1="212.1" y1="713" x2="217.1" y2="713" stroke="#000" stroke-width="0.8"/>
<line x1="212.1" y1="723.73" x2="217.1" y2="723.73" stroke="#000" stroke-width="0.8"/>
<line x1="251.7" y1="681.9" x2="251.7" y2="692.62" stroke="#000" stroke-width="0.8"/>
<line x1="249.2" y1="681.9" x2="254.2" y2="681.9" stroke="#000" stroke-width="0.8"/>
<line x1="249.2" y1="692.62" x2="254.2" y2="692.62" stroke="#000" stroke-width="0.8"/>
<circle cx="214.6" cy="701.8" r="1.6" fill="#fff" stroke="#000" stroke-width="0.8"/>
<circle cx="214.6" cy="705.3" r="1.6" fill="#fff" stroke="#000" stroke-width="0.8"/>
<circle cx="211.3" cy="720.9" r="1.6" fill="#fff" stroke="#000" stroke-width="0.8"/>
<circle cx="217.8" cy="720.9" r="1.6" fill="#fff" stroke="#000" stroke-width="0.8"/>
<circle cx="211.3" cy="727.5" r="1.6" fill="#fff" stroke="#000" stroke-width="0.8"/>
<circle cx="217.8" cy="727.5" r="1.6" fill="#fff" stroke="#000" stroke-width="0.8"/>
<circle cx="251.5" cy="669.5" r="1.6" fill="#fff" stroke="#000" stroke-width="0.8"/>
<circle cx="251.5" cy="676.1" r="1.6" fill="#fff" stroke="#000" stroke-width="0.8"/>
<circle cx="248" cy="686.1" r="1.6" fill="#fff" stroke="#000" stroke-width="0.8"/>
<circle cx="255" cy="686.1" r="1.6" fill="#fff" stroke="#000" stroke-width="0.8"/>
<circle cx="251.5" cy="683.1" r="1.6" fill="#fff" stroke="#000" stroke-width="0.8"/>
<circle cx="248.4" cy="703.4" r="1.6" fill="#fff" stroke="#000" stroke-width="0.8"/>
<circle cx="255.4" cy="701.1" r="1.6" fill="#fff" stroke="#000" stroke-width="0.8"/>
<text x="232.4" y="652.61" font-size="8.2" text-anchor="middle" textLength="41.3" lengthAdjust="spacingAndGlyphs"><tspan font-style="italic">P</tspan> = 0.0012</text>
<polyline points="214.1,695.2 214.1,657.4 250.5,657.4 250.5,664.4" fill="none" stroke="#666" stroke-width="0.7"/>
<text x="214.6" y="752.18" font-size="8.4" text-anchor="middle" textLength="30.1" lengthAdjust="spacingAndGlyphs">Control</text>
<text x="251.7" y="752.18" font-size="8.4" text-anchor="middle" textLength="23.8" lengthAdjust="spacingAndGlyphs">MASH</text>
<text transform="translate(154.61,695.9) rotate(-90)" x="0" y="0" font-size="8.2" text-anchor="middle" textLength="51.4" lengthAdjust="spacingAndGlyphs">Liver oxalate</text>
<text transform="translate(163.91,696.5) rotate(-90)" x="0" y="0" font-size="8.2" text-anchor="middle" textLength="47.8" lengthAdjust="spacingAndGlyphs">(nmol mg<tspan dy="-2.6" font-size="5.5">−1</tspan><tspan dy="2.6">)</tspan></text>
<text x="0.8" y="763.78" font-size="11.5" text-anchor="start" font-weight="bold">o</text>
<rect x="82.4" y="759.2" width="183" height="16.2" fill="#e9e9e9" stroke="none" stroke-width="0.8"/>
<g filter="url(#bl3)"><rect x="85.75" y="763.9" width="13.5" height="4.6" rx="2.3" fill="#000" opacity="0.26"/><rect x="103.65" y="765.1" width="13.5" height="4.6" rx="2.3" fill="#000" opacity="0.15"/><rect x="121.55" y="765.1" width="13.5" height="4.6" rx="2.3" fill="#000" opacity="0.23"/><rect x="139.45" y="765.1" width="13.5" height="4.6" rx="2.3" fill="#000" opacity="0.21"/><rect x="157.35" y="765.1" width="13.5" height="4.6" rx="2.3" fill="#000" opacity="0.21"/><rect x="175.25" y="765.1" width="13.5" height="4.6" rx="2.3" fill="#000" opacity="0.16"/><rect x="193.15" y="765.1" width="13.5" height="4.6" rx="2.3" fill="#000" opacity="0.16"/><rect x="211.05" y="765.1" width="13.5" height="4.6" rx="2.3" fill="#000" opacity="0.16"/><rect x="228.95" y="765.1" width="13.5" height="4.6" rx="2.3" fill="#000" opacity="0.16"/><rect x="246.85" y="765.1" width="13.5" height="4.6" rx="2.3" fill="#000" opacity="0.19"/></g>
<g filter="url(#bl)"><ellipse cx="92.5" cy="766.2" rx="6.75" ry="1.15" fill="#111" opacity="0.64"/><rect x="86.83" y="765.28" width="11.34" height="1.84" rx="0.92" fill="#111" opacity="0.38"/><ellipse cx="110.4" cy="767.4" rx="6.75" ry="1.15" fill="#111" opacity="0.36"/><rect x="104.73" y="766.48" width="11.34" height="1.84" rx="0.92" fill="#111" opacity="0.21"/><ellipse cx="128.3" cy="767.4" rx="6.75" ry="1.15" fill="#111" opacity="0.55"/><rect x="122.63" y="766.48" width="11.34" height="1.84" rx="0.92" fill="#111" opacity="0.33"/><ellipse cx="146.2" cy="767.4" rx="6.75" ry="1.15" fill="#111" opacity="0.51"/><rect x="140.53" y="766.48" width="11.34" height="1.84" rx="0.92" fill="#111" opacity="0.3"/><ellipse cx="164.1" cy="767.4" rx="6.75" ry="1.15" fill="#111" opacity="0.51"/><rect x="158.43" y="766.48" width="11.34" height="1.84" rx="0.92" fill="#111" opacity="0.3"/><ellipse cx="182" cy="767.4" rx="6.75" ry="1.15" fill="#111" opacity="0.38"/><rect x="176.33" y="766.48" width="11.34" height="1.84" rx="0.92" fill="#111" opacity="0.23"/><ellipse cx="199.9" cy="767.4" rx="6.75" ry="1.15" fill="#111" opacity="0.38"/><rect x="194.23" y="766.48" width="11.34" height="1.84" rx="0.92" fill="#111" opacity="0.23"/><ellipse cx="217.8" cy="767.4" rx="6.75" ry="1.15" fill="#111" opacity="0.38"/><rect x="212.13" y="766.48" width="11.34" height="1.84" rx="0.92" fill="#111" opacity="0.23"/><ellipse cx="235.7" cy="767.4" rx="6.75" ry="1.15" fill="#111" opacity="0.38"/><rect x="230.03" y="766.48" width="11.34" height="1.84" rx="0.92" fill="#111" opacity="0.23"/><ellipse cx="253.6" cy="767.4" rx="6.75" ry="1.15" fill="#111" opacity="0.47"/><rect x="247.93" y="766.48" width="11.34" height="1.84" rx="0.92" fill="#111" opacity="0.28"/></g>
<rect x="82.4" y="759.2" width="183" height="16.2" fill="none" stroke="#666" stroke-width="0.9"/>
<rect x="82.4" y="779.5" width="183" height="17" fill="#f2f2f2" stroke="none" stroke-width="0.8"/>
<g filter="url(#bl3)"><rect x="84.75" y="782.1" width="15.5" height="8.4" rx="4.2" fill="#000" opacity="0.25"/><rect x="102.65" y="782.1" width="15.5" height="8.4" rx="4.2" fill="#000" opacity="0.24"/><rect x="120.55" y="784.4" width="15.5" height="8.4" rx="4.2" fill="#000" opacity="0.26"/><rect x="138.45" y="784.4" width="15.5" height="8.4" rx="4.2" fill="#000" opacity="0.26"/><rect x="156.35" y="784.4" width="15.5" height="8.4" rx="4.2" fill="#000" opacity="0.27"/><rect x="174.25" y="784.4" width="15.5" height="8.4" rx="4.2" fill="#000" opacity="0.27"/><rect x="192.15" y="784.4" width="15.5" height="8.4" rx="4.2" fill="#000" opacity="0.27"/><rect x="210.05" y="784.4" width="15.5" height="8.4" rx="4.2" fill="#000" opacity="0.27"/><rect x="227.95" y="784.4" width="15.5" height="8.4" rx="4.2" fill="#000" opacity="0.27"/><rect x="245.85" y="784.4" width="15.5" height="8.4" rx="4.2" fill="#000" opacity="0.26"/></g>
<g filter="url(#bl)"><ellipse cx="92.5" cy="786.3" rx="7.75" ry="2.1" fill="#111" opacity="0.61"/><rect x="85.99" y="784.62" width="13.02" height="3.36" rx="1.68" fill="#111" opacity="0.36"/><ellipse cx="110.4" cy="786.3" rx="7.75" ry="2.1" fill="#111" opacity="0.59"/><rect x="103.89" y="784.62" width="13.02" height="3.36" rx="1.68" fill="#111" opacity="0.35"/><ellipse cx="128.3" cy="788.6" rx="7.75" ry="2.1" fill="#111" opacity="0.64"/><rect x="121.79" y="786.92" width="13.02" height="3.36" rx="1.68" fill="#111" opacity="0.38"/><ellipse cx="146.2" cy="788.6" rx="7.75" ry="2.1" fill="#111" opacity="0.64"/><rect x="139.69" y="786.92" width="13.02" height="3.36" rx="1.68" fill="#111" opacity="0.38"/><ellipse cx="164.1" cy="788.6" rx="7.75" ry="2.1" fill="#111" opacity="0.66"/><rect x="157.59" y="786.92" width="13.02" height="3.36" rx="1.68" fill="#111" opacity="0.39"/><ellipse cx="182" cy="788.6" rx="7.75" ry="2.1" fill="#111" opacity="0.66"/><rect x="175.49" y="786.92" width="13.02" height="3.36" rx="1.68" fill="#111" opacity="0.39"/><ellipse cx="199.9" cy="788.6" rx="7.75" ry="2.1" fill="#111" opacity="0.65"/><rect x="193.39" y="786.92" width="13.02" height="3.36" rx="1.68" fill="#111" opacity="0.38"/><ellipse cx="217.8" cy="788.6" rx="7.75" ry="2.1" fill="#111" opacity="0.65"/><rect x="211.29" y="786.92" width="13.02" height="3.36" rx="1.68" fill="#111" opacity="0.38"/><ellipse cx="235.7" cy="788.6" rx="7.75" ry="2.1" fill="#111" opacity="0.65"/><rect x="229.19" y="786.92" width="13.02" height="3.36" rx="1.68" fill="#111" opacity="0.38"/><ellipse cx="253.6" cy="788.6" rx="7.75" ry="2.1" fill="#111" opacity="0.63"/><rect x="247.09" y="786.92" width="13.02" height="3.36" rx="1.68" fill="#111" opacity="0.37"/></g>
<rect x="82.4" y="779.5" width="183" height="17" fill="none" stroke="#666" stroke-width="0.9"/>
<rect x="82.4" y="800.2" width="183" height="16.5" fill="#e4e4e4" stroke="none" stroke-width="0.8"/>
<g filter="url(#bl3)"><rect x="84.3" y="806.8" width="12" height="6.8" rx="3.4" fill="#000" opacity="0.3"/><rect x="99.5" y="806.8" width="12" height="6.8" rx="3.4" fill="#000" opacity="0.33"/><rect x="114.7" y="806.8" width="12" height="6.8" rx="3.4" fill="#000" opacity="0.3"/><rect x="129.9" y="806.8" width="12" height="6.8" rx="3.4" fill="#000" opacity="0.26"/><rect x="145.1" y="806.8" width="12" height="6.8" rx="3.4" fill="#000" opacity="0.26"/><rect x="160.3" y="806.8" width="12" height="6.8" rx="3.4" fill="#000" opacity="0.21"/><rect x="175.5" y="806.8" width="12" height="6.8" rx="3.4" fill="#000" opacity="0.12"/><rect x="190.7" y="806.8" width="12" height="6.8" rx="3.4" fill="#000" opacity="0.25"/><rect x="205.9" y="806.8" width="12" height="6.8" rx="3.4" fill="#000" opacity="0.17"/><rect x="221.1" y="806.8" width="12" height="6.8" rx="3.4" fill="#000" opacity="0.23"/><rect x="236.3" y="806.8" width="12" height="6.8" rx="3.4" fill="#000" opacity="0.16"/><rect x="251.5" y="805.8" width="12" height="6.8" rx="3.4" fill="#000" opacity="0.29"/></g>
<g filter="url(#bl)"><ellipse cx="90.3" cy="810.2" rx="6" ry="1.7" fill="#111" opacity="0.72"/><rect x="85.26" y="808.84" width="10.08" height="2.72" rx="1.36" fill="#111" opacity="0.42"/><ellipse cx="105.5" cy="810.2" rx="6" ry="1.7" fill="#111" opacity="0.81"/><rect x="100.46" y="808.84" width="10.08" height="2.72" rx="1.36" fill="#111" opacity="0.47"/><ellipse cx="120.7" cy="810.2" rx="6" ry="1.7" fill="#111" opacity="0.72"/><rect x="115.66" y="808.84" width="10.08" height="2.72" rx="1.36" fill="#111" opacity="0.42"/><ellipse cx="135.9" cy="810.2" rx="6" ry="1.7" fill="#111" opacity="0.64"/><rect x="130.86" y="808.84" width="10.08" height="2.72" rx="1.36" fill="#111" opacity="0.38"/><ellipse cx="151.1" cy="810.2" rx="6" ry="1.7" fill="#111" opacity="0.64"/><rect x="146.06" y="808.84" width="10.08" height="2.72" rx="1.36" fill="#111" opacity="0.38"/><ellipse cx="166.3" cy="810.2" rx="6" ry="1.7" fill="#111" opacity="0.51"/><rect x="161.26" y="808.84" width="10.08" height="2.72" rx="1.36" fill="#111" opacity="0.3"/><ellipse cx="181.5" cy="810.2" rx="6" ry="1.7" fill="#111" opacity="0.3"/><rect x="176.46" y="808.84" width="10.08" height="2.72" rx="1.36" fill="#111" opacity="0.17"/><ellipse cx="196.7" cy="810.2" rx="6" ry="1.7" fill="#111" opacity="0.61"/><rect x="191.66" y="808.84" width="10.08" height="2.72" rx="1.36" fill="#111" opacity="0.36"/><ellipse cx="211.9" cy="810.2" rx="6" ry="1.7" fill="#111" opacity="0.42"/><rect x="206.86" y="808.84" width="10.08" height="2.72" rx="1.36" fill="#111" opacity="0.25"/><ellipse cx="227.1" cy="810.2" rx="6" ry="1.7" fill="#111" opacity="0.56"/><rect x="222.06" y="808.84" width="10.08" height="2.72" rx="1.36" fill="#111" opacity="0.33"/><ellipse cx="242.3" cy="810.2" rx="6" ry="1.7" fill="#111" opacity="0.38"/><rect x="237.26" y="808.84" width="10.08" height="2.72" rx="1.36" fill="#111" opacity="0.23"/><ellipse cx="257.5" cy="809.2" rx="6" ry="1.7" fill="#111" opacity="0.7"/><rect x="252.46" y="807.84" width="10.08" height="2.72" rx="1.36" fill="#111" opacity="0.41"/></g>
<rect x="82.4" y="800.2" width="183" height="16.5" fill="none" stroke="#666" stroke-width="0.9"/>
<rect x="82.4" y="821.4" width="183" height="17" fill="#e6e6e6" stroke="none" stroke-width="0.8"/>
<g filter="url(#bl3)"><rect x="83.7" y="823.4" width="13.2" height="9.2" rx="4.6" fill="#000" opacity="0.28"/><rect x="98.9" y="823.6" width="13.2" height="9.2" rx="4.6" fill="#000" opacity="0.28"/><rect x="114.1" y="823.8" width="13.2" height="9.2" rx="4.6" fill="#000" opacity="0.27"/><rect x="129.3" y="824" width="13.2" height="9.2" rx="4.6" fill="#000" opacity="0.27"/><rect x="144.5" y="824.2" width="13.2" height="9.2" rx="4.6" fill="#000" opacity="0.27"/><rect x="159.7" y="824.4" width="13.2" height="9.2" rx="4.6" fill="#000" opacity="0.27"/><rect x="174.9" y="824.6" width="13.2" height="9.2" rx="4.6" fill="#000" opacity="0.24"/><rect x="190.1" y="824.8" width="13.2" height="9.2" rx="4.6" fill="#000" opacity="0.28"/><rect x="205.3" y="825" width="13.2" height="9.2" rx="4.6" fill="#000" opacity="0.27"/><rect x="220.5" y="825.2" width="13.2" height="9.2" rx="4.6" fill="#000" opacity="0.27"/><rect x="235.7" y="825.4" width="13.2" height="9.2" rx="4.6" fill="#000" opacity="0.26"/><rect x="250.9" y="825.6" width="13.2" height="9.2" rx="4.6" fill="#000" opacity="0.29"/></g>
<g filter="url(#bl)"><ellipse cx="90.3" cy="828" rx="6.6" ry="2.3" fill="#111" opacity="0.68"/><rect x="84.76" y="826.16" width="11.09" height="3.68" rx="1.84" fill="#111" opacity="0.4"/><ellipse cx="105.5" cy="828.2" rx="6.6" ry="2.3" fill="#111" opacity="0.68"/><rect x="99.96" y="826.36" width="11.09" height="3.68" rx="1.84" fill="#111" opacity="0.4"/><ellipse cx="120.7" cy="828.4" rx="6.6" ry="2.3" fill="#111" opacity="0.66"/><rect x="115.16" y="826.56" width="11.09" height="3.68" rx="1.84" fill="#111" opacity="0.39"/><ellipse cx="135.9" cy="828.6" rx="6.6" ry="2.3" fill="#111" opacity="0.66"/><rect x="130.36" y="826.76" width="11.09" height="3.68" rx="1.84" fill="#111" opacity="0.39"/><ellipse cx="151.1" cy="828.8" rx="6.6" ry="2.3" fill="#111" opacity="0.66"/><rect x="145.56" y="826.96" width="11.09" height="3.68" rx="1.84" fill="#111" opacity="0.39"/><ellipse cx="166.3" cy="829" rx="6.6" ry="2.3" fill="#111" opacity="0.65"/><rect x="160.76" y="827.16" width="11.09" height="3.68" rx="1.84" fill="#111" opacity="0.38"/><ellipse cx="181.5" cy="829.2" rx="6.6" ry="2.3" fill="#111" opacity="0.59"/><rect x="175.96" y="827.36" width="11.09" height="3.68" rx="1.84" fill="#111" opacity="0.35"/><ellipse cx="196.7" cy="829.4" rx="6.6" ry="2.3" fill="#111" opacity="0.68"/><rect x="191.16" y="827.56" width="11.09" height="3.68" rx="1.84" fill="#111" opacity="0.4"/><ellipse cx="211.9" cy="829.6" rx="6.6" ry="2.3" fill="#111" opacity="0.65"/><rect x="206.36" y="827.76" width="11.09" height="3.68" rx="1.84" fill="#111" opacity="0.38"/><ellipse cx="227.1" cy="829.8" rx="6.6" ry="2.3" fill="#111" opacity="0.66"/><rect x="221.56" y="827.96" width="11.09" height="3.68" rx="1.84" fill="#111" opacity="0.39"/><ellipse cx="242.3" cy="830" rx="6.6" ry="2.3" fill="#111" opacity="0.63"/><rect x="236.76" y="828.16" width="11.09" height="3.68" rx="1.84" fill="#111" opacity="0.37"/><ellipse cx="257.5" cy="830.2" rx="6.6" ry="2.3" fill="#111" opacity="0.71"/><rect x="251.96" y="828.36" width="11.09" height="3.68" rx="1.84" fill="#111" opacity="0.42"/></g>
<rect x="82.4" y="821.4" width="183" height="17" fill="none" stroke="#666" stroke-width="0.9"/>
<text x="78.3" y="771.91" font-size="8.2" text-anchor="end" textLength="22.1" lengthAdjust="spacingAndGlyphs">AGXT</text>
<text x="78.3" y="793.21" font-size="8.2" text-anchor="end" textLength="29.3" lengthAdjust="spacingAndGlyphs">GAPDH</text>
<text x="78.3" y="813.81" font-size="8.2" text-anchor="end" textLength="22.1" lengthAdjust="spacingAndGlyphs">AGXT</text>
<text x="78.3" y="832.61" font-size="8.2" text-anchor="end" textLength="28.8" lengthAdjust="spacingAndGlyphs">β-Actin</text>
<text x="18.7" y="776.41" font-size="8.2" text-anchor="middle" textLength="30" lengthAdjust="spacingAndGlyphs">Primary</text>
<text x="18.6" y="786.01" font-size="8.2" text-anchor="middle" textLength="16.8" lengthAdjust="spacingAndGlyphs">Hep</text>
<text x="18.4" y="815.21" font-size="8.2" text-anchor="middle" textLength="27.8" lengthAdjust="spacingAndGlyphs">HepG2</text>
<text x="19" y="824.91" font-size="8.2" text-anchor="middle" textLength="18.4" lengthAdjust="spacingAndGlyphs">cells</text>
<line x1="38.4" y1="763.3" x2="38.4" y2="794.6" stroke="#555" stroke-width="0.8"/>
<line x1="38.4" y1="802" x2="38.4" y2="833.4" stroke="#555" stroke-width="0.8"/>
<text x="268" y="762.54" font-size="8" text-anchor="start" textLength="14" lengthAdjust="spacingAndGlyphs">kDa</text>
<text x="269.5" y="773.54" font-size="8" text-anchor="start" textLength="8.7" lengthAdjust="spacingAndGlyphs">40</text>
<text x="269.5" y="793.24" font-size="8" text-anchor="start" textLength="8.7" lengthAdjust="spacingAndGlyphs">37</text>
<text x="269.5" y="814.44" font-size="8" text-anchor="start" textLength="8.7" lengthAdjust="spacingAndGlyphs">40</text>
<text x="269.5" y="835.44" font-size="8" text-anchor="start" textLength="8.7" lengthAdjust="spacingAndGlyphs">45</text>
<line x1="85.5" y1="841.4" x2="172.1" y2="841.4" stroke="#888" stroke-width="0.8"/>
<line x1="177.6" y1="841.4" x2="265.3" y2="841.4" stroke="#888" stroke-width="0.8"/>
<text x="133.2" y="850.28" font-size="8.4" text-anchor="middle" textLength="17.5" lengthAdjust="spacingAndGlyphs">BSA</text>
<text x="221.2" y="850.28" font-size="8.4" text-anchor="middle" textLength="29.3" lengthAdjust="spacingAndGlyphs">BSA-PA</text>
<text x="322.4" y="664.71" font-size="8.2" text-anchor="middle" textLength="27.8" lengthAdjust="spacingAndGlyphs">In vitro</text>
<text x="318.2" y="683.68" font-size="11.5" text-anchor="start" font-weight="bold">p</text>
<line x1="362.6" y1="723.1" x2="457.8" y2="723.1" stroke="#d8d8d8" stroke-width="0.8"/>
<line x1="362.6" y1="707" x2="362.6" y2="805" stroke="#666" stroke-width="0.8"/>
<line x1="359.6" y1="805" x2="362.6" y2="805" stroke="#666" stroke-width="0.8"/>
<text x="356.4" y="807.63" font-size="7.4" text-anchor="end" fill="#222">0</text>
<line x1="359.6" y1="764" x2="362.6" y2="764" stroke="#666" stroke-width="0.8"/>
<text x="356.4" y="766.63" font-size="7.4" text-anchor="end" fill="#222">0.5</text>
<line x1="359.6" y1="723" x2="362.6" y2="723" stroke="#666" stroke-width="0.8"/>
<text x="356.4" y="725.63" font-size="7.4" text-anchor="end" fill="#222">1.0</text>
<line x1="362.6" y1="805" x2="453" y2="805" stroke="#666" stroke-width="0.8"/>
<line x1="392.4" y1="805" x2="392.4" y2="807.5" stroke="#666" stroke-width="0.8"/>
<line x1="430.3" y1="805" x2="430.3" y2="807.5" stroke="#666" stroke-width="0.8"/>
<line x1="377.5" y1="741.3" x2="407.8" y2="741.3" stroke="#000" stroke-width="0.9" stroke-dasharray="2.2,1.3"/>
<line x1="415.2" y1="745.2" x2="446" y2="745.2" stroke="#000" stroke-width="0.9" stroke-dasharray="0.9,1.2,2.6,1.2"/>
<line x1="392.4" y1="738.8" x2="392.4" y2="743.7" stroke="#000" stroke-width="0.8"/>
<line x1="390.1" y1="738.8" x2="394.7" y2="738.8" stroke="#000" stroke-width="0.8"/>
<line x1="390.1" y1="743.7" x2="394.7" y2="743.7" stroke="#000" stroke-width="0.8"/>
<line x1="430.3" y1="740.5" x2="430.3" y2="750" stroke="#000" stroke-width="0.8"/>
<line x1="428" y1="740.5" x2="432.6" y2="740.5" stroke="#000" stroke-width="0.8"/>
<line x1="428" y1="750" x2="432.6" y2="750" stroke="#000" stroke-width="0.8"/>
<circle cx="382.4" cy="739.8" r="2.5" fill="#ee0000" stroke="#111" stroke-width="0.8"/>
<circle cx="382.4" cy="746.7" r="2.5" fill="#ee0000" stroke="#111" stroke-width="0.8"/>
<circle cx="392.4" cy="733.6" r="2.5" fill="#ee0000" stroke="#111" stroke-width="0.8"/>
<circle cx="392.4" cy="742.8" r="2.5" fill="#ee0000" stroke="#111" stroke-width="0.8"/>
<circle cx="402.8" cy="743.7" r="2.5" fill="#ee0000" stroke="#111" stroke-width="0.8"/>
<circle cx="425.4" cy="736.3" r="2.5" fill="#ee0000" stroke="#111" stroke-width="0.8"/>
<circle cx="430.3" cy="730.8" r="2.5" fill="#ee0000" stroke="#111" stroke-width="0.8"/>
<circle cx="435.3" cy="738.8" r="2.5" fill="#ee0000" stroke="#111" stroke-width="0.8"/>
<circle cx="425.4" cy="748.5" r="2.5" fill="#ee0000" stroke="#111" stroke-width="0.8"/>
<circle cx="435.3" cy="752.4" r="2.5" fill="#ee0000" stroke="#111" stroke-width="0.8"/>
<circle cx="430.3" cy="762.9" r="2.5" fill="#ee0000" stroke="#111" stroke-width="0.8"/>
<text x="393.8" y="708.71" font-size="8.2" text-anchor="middle" textLength="42.7" lengthAdjust="spacingAndGlyphs"><tspan font-style="italic">P</tspan> = 0.0079</text>
<text x="430.3" y="719.61" font-size="8.2" text-anchor="middle" textLength="42.6" lengthAdjust="spacingAndGlyphs"><tspan font-style="italic">P</tspan> = 0.0022</text>
<text x="392.6" y="821.11" font-size="8.2" text-anchor="middle" textLength="30.3" lengthAdjust="spacingAndGlyphs">Primary</text>
<text x="392.7" y="830.81" font-size="8.2" text-anchor="middle" textLength="16.1" lengthAdjust="spacingAndGlyphs">Hep</text>
<text x="430.9" y="821.11" font-size="8.2" text-anchor="middle" textLength="27.3" lengthAdjust="spacingAndGlyphs">HepG2</text>
<text x="430.9" y="830.81" font-size="8.2" text-anchor="middle" textLength="18.5" lengthAdjust="spacingAndGlyphs">cells</text>
<text transform="translate(325.81,756.4) rotate(-90)" x="0" y="0" font-size="8.2" text-anchor="middle" textLength="74.9" lengthAdjust="spacingAndGlyphs">Fold AGXT BSA-PA</text>
<text transform="translate(336.21,756) rotate(-90)" x="0" y="0" font-size="8.2" text-anchor="middle" textLength="58.3" lengthAdjust="spacingAndGlyphs">to BSA control</text>
<text x="484.4" y="683.48" font-size="11.5" text-anchor="start" font-weight="bold">q</text>
<line x1="525.7" y1="699.2" x2="525.7" y2="805.1" stroke="#666" stroke-width="0.8"/>
<line x1="522.7" y1="805.1" x2="525.7" y2="805.1" stroke="#666" stroke-width="0.8"/>
<text x="519.1" y="807.59" font-size="7" text-anchor="end" fill="#222">0</text>
<line x1="522.7" y1="769.8" x2="525.7" y2="769.8" stroke="#666" stroke-width="0.8"/>
<text x="519.1" y="772.29" font-size="7" text-anchor="end" fill="#222">5</text>
<line x1="522.7" y1="734.5" x2="525.7" y2="734.5" stroke="#666" stroke-width="0.8"/>
<text x="519.1" y="736.99" font-size="7" text-anchor="end" fill="#222">10</text>
<line x1="522.7" y1="699.2" x2="525.7" y2="699.2" stroke="#666" stroke-width="0.8"/>
<text x="519.1" y="701.69" font-size="7" text-anchor="end" fill="#222">15</text>
<line x1="525.7" y1="805.1" x2="683.4" y2="805.1" stroke="#666" stroke-width="0.8"/>
<line x1="542.6" y1="805.1" x2="542.6" y2="807.6" stroke="#666" stroke-width="0.8"/>
<line x1="567.5" y1="805.1" x2="567.5" y2="807.6" stroke="#666" stroke-width="0.8"/>
<line x1="592.4" y1="805.1" x2="592.4" y2="807.6" stroke="#666" stroke-width="0.8"/>
<line x1="617.3" y1="805.1" x2="617.3" y2="807.6" stroke="#666" stroke-width="0.8"/>
<line x1="642.2" y1="805.1" x2="642.2" y2="807.6" stroke="#666" stroke-width="0.8"/>
<line x1="667.1" y1="805.1" x2="667.1" y2="807.6" stroke="#666" stroke-width="0.8"/>
<rect x="534.3" y="774" width="16.6" height="31.1" fill="#0000ff" stroke="#000" stroke-width="0.8"/>
<rect x="559.2" y="743" width="16.6" height="62.1" fill="#ff6600" stroke="#000" stroke-width="0.8"/>
<rect x="584.1" y="770" width="16.6" height="35.1" fill="#ffa6a6" stroke="#000" stroke-width="0.8"/>
<rect x="609" y="764.5" width="16.6" height="40.6" fill="#ff8080" stroke="#000" stroke-width="0.8"/>
<rect x="633.9" y="757.8" width="16.6" height="47.3" fill="#ff4848" stroke="#000" stroke-width="0.8"/>
<rect x="658.8" y="731.9" width="16.6" height="73.2" fill="#ff0000" stroke="#000" stroke-width="0.8"/>
<line x1="542.6" y1="770.6" x2="542.6" y2="777.2" stroke="#000" stroke-width="0.8"/>
<line x1="540.3" y1="770.6" x2="544.9" y2="770.6" stroke="#000" stroke-width="0.8"/>
<line x1="540.3" y1="777.2" x2="544.9" y2="777.2" stroke="#000" stroke-width="0.8"/>
<line x1="567.5" y1="737.8" x2="567.5" y2="747.6" stroke="#000" stroke-width="0.8"/>
<line x1="565.2" y1="737.8" x2="569.8" y2="737.8" stroke="#000" stroke-width="0.8"/>
<line x1="565.2" y1="747.6" x2="569.8" y2="747.6" stroke="#000" stroke-width="0.8"/>
<line x1="592.4" y1="765.7" x2="592.4" y2="773.9" stroke="#000" stroke-width="0.8"/>
<line x1="590.1" y1="765.7" x2="594.7" y2="765.7" stroke="#000" stroke-width="0.8"/>
<line x1="590.1" y1="773.9" x2="594.7" y2="773.9" stroke="#000" stroke-width="0.8"/>
<line x1="617.3" y1="760.5" x2="617.3" y2="768" stroke="#000" stroke-width="0.8"/>
<line x1="615" y1="760.5" x2="619.6" y2="760.5" stroke="#000" stroke-width="0.8"/>
<line x1="615" y1="768" x2="619.6" y2="768" stroke="#000" stroke-width="0.8"/>
<line x1="642.2" y1="755.2" x2="642.2" y2="760.5" stroke="#000" stroke-width="0.8"/>
<line x1="639.9" y1="755.2" x2="644.5" y2="755.2" stroke="#000" stroke-width="0.8"/>
<line x1="639.9" y1="760.5" x2="644.5" y2="760.5" stroke="#000" stroke-width="0.8"/>
<line x1="667.1" y1="726.3" x2="667.1" y2="736.1" stroke="#000" stroke-width="0.8"/>
<line x1="664.8" y1="726.3" x2="669.4" y2="726.3" stroke="#000" stroke-width="0.8"/>
<line x1="664.8" y1="736.1" x2="669.4" y2="736.1" stroke="#000" stroke-width="0.8"/>
<circle cx="536.5" cy="769" r="2.1" fill="#fff" stroke="#000" stroke-width="0.9"/>
<circle cx="548" cy="768" r="2.1" fill="#fff" stroke="#000" stroke-width="0.9"/>
<circle cx="536.5" cy="778.8" r="2.1" fill="#fff" stroke="#000" stroke-width="0.9"/>
<circle cx="548" cy="777.9" r="2.1" fill="#fff" stroke="#000" stroke-width="0.9"/>
<circle cx="567.4" cy="726.9" r="2.1" fill="#fff" stroke="#000" stroke-width="0.9"/>
<circle cx="561.8" cy="742.7" r="2.1" fill="#fff" stroke="#000" stroke-width="0.9"/>
<circle cx="572.4" cy="748.6" r="2.1" fill="#fff" stroke="#000" stroke-width="0.9"/>
<circle cx="567.4" cy="742" r="2.1" fill="#fff" stroke="#000" stroke-width="0.9"/>
<circle cx="586.5" cy="766.7" r="2.1" fill="#fff" stroke="#000" stroke-width="0.9"/>
<circle cx="598" cy="762.4" r="2.1" fill="#fff" stroke="#000" stroke-width="0.9"/>
<circle cx="586.5" cy="774.9" r="2.1" fill="#fff" stroke="#000" stroke-width="0.9"/>
<circle cx="598" cy="774.9" r="2.1" fill="#fff" stroke="#000" stroke-width="0.9"/>
<circle cx="617" cy="755.8" r="2.1" fill="#fff" stroke="#000" stroke-width="0.9"/>
<circle cx="617" cy="760.8" r="2.1" fill="#fff" stroke="#000" stroke-width="0.9"/>
<circle cx="611.8" cy="769" r="2.1" fill="#fff" stroke="#000" stroke-width="0.9"/>
<circle cx="622.6" cy="769" r="2.1" fill="#fff" stroke="#000" stroke-width="0.9"/>
<circle cx="641.7" cy="748.6" r="2.1" fill="#fff" stroke="#000" stroke-width="0.9"/>
<circle cx="636.1" cy="756.5" r="2.1" fill="#fff" stroke="#000" stroke-width="0.9"/>
<circle cx="641.7" cy="756.5" r="2.1" fill="#fff" stroke="#000" stroke-width="0.9"/>
<circle cx="647.3" cy="756.5" r="2.1" fill="#fff" stroke="#000" stroke-width="0.9"/>
<circle cx="667" cy="717.4" r="2.1" fill="#fff" stroke="#000" stroke-width="0.9"/>
<circle cx="667" cy="729.6" r="2.1" fill="#fff" stroke="#000" stroke-width="0.9"/>
<circle cx="667" cy="737.8" r="2.1" fill="#fff" stroke="#000" stroke-width="0.9"/>
<circle cx="667" cy="743.4" r="2.1" fill="#fff" stroke="#000" stroke-width="0.9"/>
<polyline points="542.1,764 542.1,678.8 667.6,678.8 667.6,710.6" fill="none" stroke="#666" stroke-width="0.7"/>
<polyline points="542.1,698.5 642.3,698.5 642.3,745.8" fill="none" stroke="#666" stroke-width="0.7"/>
<polyline points="542.1,715.6 566.8,715.6 566.8,722.1" fill="none" stroke="#666" stroke-width="0.7"/>
<text x="607.4" y="674.41" font-size="8.2" text-anchor="middle" textLength="46.9" lengthAdjust="spacingAndGlyphs"><tspan font-style="italic">P</tspan> = 1.1 × 10<tspan dy="-3.2" font-size="5.6">−5</tspan></text>
<text x="593" y="694.81" font-size="8.2" text-anchor="middle" textLength="42.7" lengthAdjust="spacingAndGlyphs"><tspan font-style="italic">P</tspan> = 0.0395</text>
<text x="567" y="711.91" font-size="8.2" text-anchor="middle" textLength="44.3" lengthAdjust="spacingAndGlyphs"><tspan font-style="italic">P</tspan> = 0.0005</text>
<text x="592.7" y="754.37" font-size="7.8" text-anchor="middle">NS</text>
<text x="617.2" y="749.37" font-size="7.8" text-anchor="middle">NS</text>
<text x="525.7" y="818.51" font-size="8.2" text-anchor="end" textLength="31.9" lengthAdjust="spacingAndGlyphs">BSA-PA:</text>
<text x="525.7" y="833.01" font-size="8.2" text-anchor="end" textLength="47" lengthAdjust="spacingAndGlyphs">NaOX (μM):</text>
<text x="542.6" y="818.3" font-size="7.6" text-anchor="middle" textLength="8.2" lengthAdjust="spacingAndGlyphs">(–)</text>
<text x="567.5" y="818.3" font-size="7.6" text-anchor="middle" textLength="8.2" lengthAdjust="spacingAndGlyphs">(+)</text>
<text x="592.4" y="818.3" font-size="7.6" text-anchor="middle" textLength="8.2" lengthAdjust="spacingAndGlyphs">(–)</text>
<text x="617.3" y="818.3" font-size="7.6" text-anchor="middle" textLength="8.2" lengthAdjust="spacingAndGlyphs">(–)</text>
<text x="642.2" y="818.3" font-size="7.6" text-anchor="middle" textLength="8.2" lengthAdjust="spacingAndGlyphs">(–)</text>
<text x="667.1" y="818.3" font-size="7.6" text-anchor="middle" textLength="8.2" lengthAdjust="spacingAndGlyphs">(–)</text>
<text x="542.6" y="832.87" font-size="7.8" text-anchor="middle">0</text>
<text x="567.5" y="832.87" font-size="7.8" text-anchor="middle">0</text>
<text x="592.4" y="832.87" font-size="7.8" text-anchor="middle">5</text>
<text x="617.3" y="832.87" font-size="7.8" text-anchor="middle">50</text>
<text x="642.2" y="832.87" font-size="7.8" text-anchor="middle">125</text>
<text x="667.1" y="832.87" font-size="7.8" text-anchor="middle">250</text>
<line x1="533" y1="837.3" x2="683.4" y2="837.3" stroke="#888" stroke-width="0.8"/>
<text x="608.5" y="848.18" font-size="8.4" text-anchor="middle" textLength="49.2" lengthAdjust="spacingAndGlyphs">Primary Hep</text>
<text transform="translate(491.65,752.2) rotate(-90)" x="0" y="0" font-size="8.6" text-anchor="middle" textLength="62.7" lengthAdjust="spacingAndGlyphs">Cellular oxalate</text>
<text transform="translate(502.31,752.6) rotate(-90)" x="0" y="0" font-size="8.2" text-anchor="middle" textLength="77.2" lengthAdjust="spacingAndGlyphs">(nmol mg<tspan dy="-2.6" font-size="5.5">−1</tspan><tspan dy="2.6"> protein)</tspan></text>
<g clip-path="url(#cp1)">
<rect x="18.2" y="202.9" width="100.9" height="100.4" fill="#bc4ec4" stroke="none" stroke-width="0.8"/>
<g filter="url(#soft2)"><g fill="#cc6cd0" opacity="0.3"><circle cx="63.8" cy="259.1" r="9.5"/><circle cx="65.2" cy="253.9" r="7.5"/><circle cx="36.8" cy="254.3" r="7.8"/><circle cx="98.2" cy="212.3" r="5.8"/><circle cx="27.3" cy="284.2" r="8.2"/><circle cx="22.4" cy="301.5" r="9.8"/><circle cx="84.2" cy="264.7" r="4.9"/><circle cx="19.7" cy="255.9" r="4.4"/><circle cx="37.4" cy="227.2" r="4.2"/><circle cx="65" cy="247.1" r="9.1"/><circle cx="70.6" cy="267.2" r="7"/><circle cx="85" cy="248.8" r="5.7"/><circle cx="118.9" cy="302.9" r="9"/><circle cx="89.6" cy="234.6" r="5.4"/><circle cx="47.4" cy="210" r="8.6"/><circle cx="58.6" cy="287.9" r="6.3"/><circle cx="114.9" cy="288" r="4"/><circle cx="39.4" cy="294.3" r="6.8"/><circle cx="117.1" cy="242.8" r="4.4"/><circle cx="81.7" cy="281.1" r="5.6"/><circle cx="27" cy="236.3" r="9.8"/><circle cx="94.7" cy="214.7" r="5.5"/><circle cx="28.4" cy="208.9" r="8.8"/><circle cx="36.1" cy="259.1" r="6.7"/><circle cx="37.4" cy="276.4" r="4.8"/><circle cx="83.2" cy="214.6" r="6.5"/><circle cx="39.7" cy="230" r="9.8"/><circle cx="99.3" cy="233.4" r="9.3"/><circle cx="39.5" cy="242.5" r="9.1"/><circle cx="83" cy="213" r="9.9"/><circle cx="39.7" cy="228.8" r="8.6"/><circle cx="51.4" cy="232.7" r="4.4"/><circle cx="27.3" cy="261.4" r="5.5"/><circle cx="78.9" cy="240.2" r="6.7"/><circle cx="115" cy="251.5" r="7.4"/><circle cx="105.6" cy="221.3" r="4.9"/><circle cx="109.9" cy="285" r="5.5"/><circle cx="37.4" cy="277.1" r="9.6"/><circle cx="38" cy="298.3" r="9.3"/><circle cx="79.1" cy="245.2" r="4.6"/><circle cx="22.1" cy="299.6" r="5.4"/><circle cx="89.3" cy="228.7" r="8.9"/><circle cx="78.4" cy="232.4" r="5.1"/><circle cx="90.9" cy="209.8" r="5.4"/><circle cx="74.6" cy="288.5" r="7.7"/><circle cx="46.5" cy="295" r="5.2"/><circle cx="19.9" cy="229.9" r="6.7"/><circle cx="24.3" cy="220.6" r="6.2"/><circle cx="75.9" cy="216.1" r="6.2"/><circle cx="108.1" cy="301.3" r="7.9"/></g><g fill="#a03cb4" opacity="0.3"><circle cx="87.9" cy="261.6" r="3.7"/><circle cx="21.7" cy="204.7" r="7.6"/><circle cx="88.9" cy="299.6" r="3.1"/><circle cx="82.4" cy="251.3" r="6.7"/><circle cx="50.4" cy="303.2" r="3.4"/><circle cx="73.3" cy="276.9" r="7.5"/><circle cx="92.6" cy="273.6" r="7"/><circle cx="110.5" cy="238.2" r="6.4"/><circle cx="109.1" cy="290.4" r="5.1"/><circle cx="98" cy="289.6" r="5.9"/><circle cx="81.3" cy="241.3" r="5.9"/><circle cx="79.6" cy="211" r="6.2"/><circle cx="118.4" cy="291.2" r="6.6"/><circle cx="57.4" cy="276.7" r="5.9"/><circle cx="62.6" cy="287.1" r="3.4"/><circle cx="93.9" cy="205.9" r="6"/><circle cx="66.7" cy="226" r="6.5"/><circle cx="68.4" cy="264.6" r="7.6"/><circle cx="44" cy="204" r="4.5"/><circle cx="86.6" cy="223.2" r="3.8"/><circle cx="109.6" cy="269.2" r="5.2"/><circle cx="108.2" cy="235.7" r="6.3"/><circle cx="38.2" cy="246.2" r="7"/><circle cx="110.4" cy="291.3" r="4.9"/><circle cx="77" cy="234.7" r="3.7"/><circle cx="68.3" cy="286.9" r="7.2"/><circle cx="90" cy="298.3" r="4.4"/><circle cx="35.3" cy="248.1" r="4.4"/><circle cx="39.8" cy="244.5" r="6.1"/><circle cx="68" cy="234.6" r="7.2"/></g></g>
<g filter="url(#soft)"><polygon points="20,207 21.5,207.6 23,207.9 24.6,207.6 26,207.6 27.5,207.8 28.9,207.8 30.5,207.6 32,207.1 33.5,206.7 33.5,206.7 31.9,206.3 30.5,206.3 29.1,206 27.5,205.8 26,206 24.4,206.1 23,206.2 21.6,206.6 20,207" fill="#f6e6f6" stroke="#d890dc" stroke-width="0.8" stroke-linejoin="round"/><polygon points="18.4,218 19.9,217.6 21.4,217.4 22.9,217.3 24.2,217.3 25.7,217.5 26.9,218 28.5,218.2 29.8,218.6 31.2,219.1 32.7,219.5 34.3,219.6 34.3,219.6 32.9,219 31.6,218.4 30.2,217.5 28.7,217 27.4,216.7 25.8,216.2 24.3,216.3 22.6,216.1 21.2,216.7 19.7,217.2 18.4,218" fill="#f6e6f6" stroke="#d890dc" stroke-width="0.8" stroke-linejoin="round"/><polygon points="11.2,236.3 12.7,236.7 14.2,237.1 15.5,237.4 17.1,237.7 18.2,238.4 19.1,239.3 20.5,240.1 22.3,240.5 23.8,240.8 25.3,240.9 26.5,241.5 28.1,241.6 29.8,241.7 31.1,241.9 32.8,241.6 32.8,241.6 31.4,241.2 29.9,240.6 28.6,240.3 27.3,239.4 25.8,238.8 24.3,238.2 22.9,238 21.7,237.7 20.5,237.2 18.9,236.4 17.2,236.1 15.8,236 14.2,235.7 12.7,236 11.2,236.3" fill="#f6e6f6" stroke="#d890dc" stroke-width="0.8" stroke-linejoin="round"/><polygon points="17.5,247 17.4,248.6 17.2,250 16.6,251.3 16,252.6 15.3,254 15.2,255.7 15,257.2 15,258.8 15.2,260.3 15.5,261.8 16,263.4 17.1,264.7 18.1,265.8 19.2,266.9 20.6,267.6 20.6,267.6 19.6,266.5 18.8,265.2 17.9,264.1 17.2,263 16.8,261.7 16.7,260.2 16.8,258.7 16.7,257.3 16.7,255.8 16.9,254.5 17,253 17.5,251.6 17.9,250.1 18,248.5 17.5,247" fill="#f6e6f6" stroke="#d890dc" stroke-width="0.8" stroke-linejoin="round"/><polygon points="15.4,255.1 16.8,255.8 18.3,256.1 19.9,256 21.4,255.7 22.9,255.6 24.4,255.2 25.9,254.7 27.3,254.4 28.7,253.5 30,253 31.3,251.9 32.5,251.1 33.6,249.9 34.5,248.6 35.2,247.2 35.2,247.2 34,248.3 33.1,249.3 31.9,250.2 30.7,251.1 29.5,251.7 28,252.3 26.8,252.9 25.4,253.4 24,253.9 22.7,254.3 21.1,254.7 19.8,255.1 18.4,255.3 16.9,255.4 15.4,255.1" fill="#f6e6f6" stroke="#d890dc" stroke-width="0.8" stroke-linejoin="round"/><polygon points="13.3,275.2 14.4,276.4 15.8,277 17.4,277.4 18.9,277.5 20.5,277.6 21.8,277.8 23.2,278.1 24.7,278.4 24.7,278.4 23.5,277.4 22.1,276.8 20.5,276.2 19,276.2 17.6,276.1 16.2,276.2 14.8,275.7 13.3,275.2" fill="#f6e6f6" stroke="#d890dc" stroke-width="0.8" stroke-linejoin="round"/><polygon points="13.6,288.7 14.8,289.6 16,290.6 16.8,291.7 17.8,292.9 19,293.9 20.5,294.5 22.1,294.9 23.7,294.9 25.3,294.5 26.7,294.4 28.2,294.2 28.2,294.2 26.7,293.9 25.2,293.8 23.7,293.8 22.4,293.8 21,293.5 19.8,292.9 18.6,292.1 17.6,291.1 16.4,290 15,289.2 13.6,288.7" fill="#f6e6f6" stroke="#d890dc" stroke-width="0.8" stroke-linejoin="round"/><polygon points="13.8,295.8 15.2,296.7 16.8,297 18.1,297.2 19.3,297.6 20.3,298.4 21.4,299.1 22.7,300 22.7,300 22.2,298.4 21.4,296.8 20,295.9 18.4,295.3 16.7,295 15.4,295.6 13.8,295.8" fill="#f6e6f6" stroke="#d890dc" stroke-width="0.8" stroke-linejoin="round"/><polygon points="27,205.9 27,207.4 27,208.9 27.3,210.6 27.9,212 28.5,213.4 29.7,214.7 30.9,215.8 32.2,216.6 33,217.7 34.3,218.7 35.3,219.6 36.1,220.8 37.3,221.9 37.3,221.9 36.8,220.4 36.2,219 35.4,217.4 34.5,216.5 33.4,215.4 32.5,214 31.4,213.1 30.5,212.4 29.7,211.1 29,209.9 28.2,208.7 27.8,207.2 27,205.9" fill="#f6e6f6" stroke="#d890dc" stroke-width="0.8" stroke-linejoin="round"/><polygon points="27.7,219.1 29.2,219.2 30.7,218.9 32.2,218.8 33.6,218.8 35.2,218.2 36.6,217.7 38,217.2 39.4,216.7 40.8,216.1 40.8,216.1 39.2,215.9 37.7,216 36.1,216.2 34.7,216.7 33.5,217 31.8,217.1 30.4,217.8 29,218.3 27.7,219.1" fill="#f6e6f6" stroke="#d890dc" stroke-width="0.8" stroke-linejoin="round"/><polygon points="29.7,231.3 30.1,232.8 30.3,234.3 31,235.7 32,237 33.2,238.2 34.9,238.7 36.6,239.1 37.8,239.6 39.4,239.8 40.6,240.2 41.9,241 43.5,241.2 43.5,241.2 42.4,240.3 41.2,239.2 39.8,238.2 38.5,237.7 36.9,237.2 35.6,237.1 34.5,236.5 33.3,235.9 32.2,235 31.5,233.8 30.7,232.5 29.7,231.3" fill="#f6e6f6" stroke="#d890dc" stroke-width="0.8" stroke-linejoin="round"/><polygon points="31.7,242.3 32.8,241.1 33.2,239.4 33.1,237.8 32.7,236.2 32.1,234.8 31.5,233.4 30.7,232.1 30.7,232.1 30.3,233.7 30.5,235.2 30.8,236.7 31.2,237.9 31.1,239.3 31.5,240.7 31.7,242.3" fill="#f6e6f6" stroke="#d890dc" stroke-width="0.8" stroke-linejoin="round"/><polygon points="28.8,258.7 29.9,259.7 31.4,260.4 32.9,260.9 34.5,261.1 35.7,261.3 37.2,261.8 38.4,262.5 40.1,262.6 41.5,262.8 42.9,263.2 44.6,263.2 46.1,262.7 46.1,262.7 44.7,262.4 43.3,262.1 42,261.4 40.5,260.8 39.2,260.3 37.7,259.9 36.2,259.6 34.5,259 33.2,259.2 31.7,259.2 30.3,259 28.8,258.7" fill="#f6e6f6" stroke="#d890dc" stroke-width="0.8" stroke-linejoin="round"/><polygon points="34.4,274.1 36,274.1 37.4,273.7 38.9,273.1 40.3,273 41.8,272.4 43.2,272.1 44.3,272 45.9,271.9 47.4,271.5 48.8,271.5 50.1,271.8 51.7,271.8 51.7,271.8 50.4,271 48.9,270.3 47.3,270.1 45.7,269.8 44.3,270.1 42.5,269.9 41,270.5 39.7,271.1 38.2,271.8 37.1,272.6 35.7,273.2 34.4,274.1" fill="#f6e6f6" stroke="#d890dc" stroke-width="0.8" stroke-linejoin="round"/><polygon points="28.7,286.2 29.9,287.3 31.2,288.1 32.8,288.6 34,289.2 35.4,289.7 36.6,290.2 37.6,291.1 38.6,292.2 38.6,292.2 38.2,290.6 37.3,289.2 36,288 34.6,287.4 33,287.1 31.7,287 30.2,286.6 28.7,286.2" fill="#f6e6f6" stroke="#d890dc" stroke-width="0.8" stroke-linejoin="round"/><polygon points="29.3,296.1 30.7,296.7 32.3,296.8 33.8,297.1 35.4,296.9 37,296.3 38.3,295.7 39.7,295.5 41,295.4 42.6,295.2 44.1,294.3 45.4,293.3 46.3,292 46.8,290.5 46.8,290.5 45.9,291.6 44.7,292.4 43.6,293.3 42.3,293.7 41,294 39.4,294 37.8,294.4 36.4,295 35.2,295.5 33.8,295.8 32.3,295.9 30.9,296.1 29.3,296.1" fill="#f6e6f6" stroke="#d890dc" stroke-width="0.8" stroke-linejoin="round"/><polygon points="46.1,211.1 46.8,212.5 47.5,213.8 48.2,215.1 49,216.3 49.7,217.5 50.1,218.9 50.3,220.1 50.8,221.6 50.9,223 51.1,224.5 51.1,224.5 51.6,223.1 51.9,221.5 51.9,220 51.7,218.3 51.2,216.8 50.4,215.4 49.5,214.1 48.5,213 47.4,211.9 46.1,211.1" fill="#f6e6f6" stroke="#d890dc" stroke-width="0.8" stroke-linejoin="round"/><polygon points="48.6,224.6 50,225.4 51.5,225.8 52.7,226.3 54.2,226.8 55.4,227.5 56.9,228 58.6,228.1 59.9,228.4 61.2,228.9 61.2,228.9 60.2,227.7 58.7,226.8 57.4,226.5 56.1,226 54.6,225.4 53.2,225 51.6,224.4 50.2,224.6 48.6,224.6" fill="#f6e6f6" stroke="#d890dc" stroke-width="0.8" stroke-linejoin="round"/><polygon points="45.6,236.6 47.1,236.9 48.5,237.4 49.9,237.9 51.5,238.3 52.7,238.7 53.8,239.3 55.3,240 56.5,240.8 57.5,241.6 58.6,242.7 60,243.4 61.6,243.8 63,244.3 63,244.3 61.8,243.2 60.6,242.6 59.5,241.7 58.4,240.7 57.2,239.4 55.9,238.8 54.6,238.1 53.2,237.1 51.6,236.6 50.2,236.8 48.7,236.5 47.1,236.3 45.6,236.6" fill="#f6e6f6" stroke="#d890dc" stroke-width="0.8" stroke-linejoin="round"/><polygon points="42.8,244.2 44.3,244.2 45.8,244.1 47.3,244.1 48.8,243.5 50.2,243.1 51.6,242.3 53,241.4 54.2,240.8 55.4,239.7 56.3,238.3 57.2,237.1 58,235.8 58.9,234.6 59.8,233.5 59.8,233.5 58.4,234.3 57.4,235.4 56.4,236.5 55.5,237.7 54.6,238.7 53.5,239.4 52,240.2 51,241.2 49.8,242 48.4,242.5 47.2,243.1 45.7,243.3 44.2,243.6 42.8,244.2" fill="#f6e6f6" stroke="#d890dc" stroke-width="0.8" stroke-linejoin="round"/><polygon points="44.4,257.7 44.6,259.3 44.9,260.7 45.4,262.3 46.3,263.6 47.3,264.8 47.6,266 47.9,267.3 48.1,268.7 48.8,270.3 49.7,271.5 50.6,272.8 50.6,272.8 50.4,271.2 50.1,269.8 49.7,268.5 49.7,267 49.6,265.3 48.8,263.7 48,262.4 47.1,261.3 46,260.4 45.4,258.9 44.4,257.7" fill="#f6e6f6" stroke="#d890dc" stroke-width="0.8" stroke-linejoin="round"/><polygon points="45.1,272.9 46.4,272.1 47.6,271 48.6,270 49.6,268.9 50.6,267.8 51.7,266.7 52.2,265.1 52.9,263.7 53.1,262.1 53.3,260.6 53.3,260.6 52.5,262 52,263.2 51.2,264.6 50.5,265.7 49.7,267 48.8,268.1 47.6,269.2 46.8,270.4 46.1,271.7 45.1,272.9" fill="#f6e6f6" stroke="#d890dc" stroke-width="0.8" stroke-linejoin="round"/><polygon points="50.5,281 51.8,281.6 53.3,282.2 54.9,282.1 56.5,281.9 57.9,282.1 59.1,282.5 60.3,283 61.6,283.7 62.8,284.5 64.4,284.9 66,285.3 67.5,285.3 69,285.4 70.6,285 70.6,285 69.1,284.8 67.7,284.2 66.2,284 64.8,283.7 63.7,283.2 62.4,282.3 61,281.5 59.6,280.7 57.8,280.4 56.3,280.7 54.8,280.9 53.5,281.1 52,281 50.5,281" fill="#f6e6f6" stroke="#d890dc" stroke-width="0.8" stroke-linejoin="round"/><polygon points="49.6,294.3 51.1,294 52.5,293.5 53.9,293.2 55.4,292.7 56.7,292.4 58.2,292.1 59.6,291.5 60.9,290.5 60.9,290.5 59.4,290.8 57.9,290.9 56.5,291.2 54.8,291.4 53.5,292 52.1,292.5 50.7,293.3 49.6,294.3" fill="#f6e6f6" stroke="#d890dc" stroke-width="0.8" stroke-linejoin="round"/><polygon points="62.7,204 64.2,203.6 65.7,203.5 67.1,203 68.6,202.6 70,201.8 71.1,200.5 71.9,199.1 72.8,198.2 74,197.6 75.3,196.9 76.6,196.1 77.8,195.3 79.2,194.9 80.5,194.1 81.9,193.4 81.9,193.4 80.4,193.7 78.9,194 77.4,194.5 75.9,195 74.7,195.7 73.2,196.3 71.8,197.2 70.6,198.4 70,199.6 69.2,200.6 68.2,201.5 66.8,202.2 65.5,202.7 64,203.2 62.7,204" fill="#f6e6f6" stroke="#d890dc" stroke-width="0.8" stroke-linejoin="round"/><polygon points="62.7,219.9 64.1,220.6 65.6,221 66.8,221.6 68.2,222.3 69.2,223.1 70.2,224.1 71.2,225 72.4,226.2 74,226.7 74.9,227.7 76.3,228.5 77.7,229.1 79.1,229.8 80.7,230.1 82.1,230.5 82.1,230.5 80.8,229.4 79.5,229 78.4,228.1 77.3,227 76.2,226.2 74.7,225.2 73.7,224.5 72.5,223.9 71.5,222.5 70.3,221.5 68.7,220.7 67.3,220.4 65.7,220 64.2,220 62.7,219.9" fill="#f6e6f6" stroke="#d890dc" stroke-width="0.8" stroke-linejoin="round"/><polygon points="63.3,237 64.8,237.3 66.3,237.5 67.7,237.8 69.4,237.7 70.8,237.7 72.3,237.4 74,237 75.4,235.9 76.6,235 77.7,233.7 78.7,232.8 79.9,231.9 80.9,230.7 80.9,230.7 79.5,231.2 78.1,231.8 76.5,232.6 75.6,233.5 74.3,234.3 73.2,234.8 72.1,235.5 70.7,235.5 69.1,235.8 67.8,236.2 66.3,236.3 64.8,236.6 63.3,237" fill="#f6e6f6" stroke="#d890dc" stroke-width="0.8" stroke-linejoin="round"/><polygon points="64.5,248.3 66,248.4 67.5,248.3 68.9,248.5 70.2,248.8 72,249 73.4,249 74.7,249 76.2,249.2 77.6,249.6 79.3,249.3 80.5,249.8 81.7,250.3 83,251.1 84.5,251.5 84.5,251.5 83.4,250.4 82.3,249.4 81,248.3 79.3,247.8 78,247.5 76.5,247.4 75,247.1 73.4,246.8 71.8,246.8 70.5,247.2 68.9,246.9 67.3,247.2 65.9,247.8 64.5,248.3" fill="#f6e6f6" stroke="#d890dc" stroke-width="0.8" stroke-linejoin="round"/><polygon points="59.7,256.6 59.7,258.1 59.6,259.5 59.2,260.9 59.1,262.5 59,264 59.3,265.6 59.1,266.9 59.1,268.4 58.9,269.9 58.8,271.4 59.4,273 59.8,274.4 59.8,274.4 59.9,272.9 59.9,271.5 60.2,270 60.3,268.5 60.6,267.1 60.7,265.4 60.4,264.1 60.6,262.5 60.3,261.1 60.4,259.5 60.3,257.9 59.7,256.6" fill="#f6e6f6" stroke="#d890dc" stroke-width="0.8" stroke-linejoin="round"/><polygon points="64.2,270.4 65.8,270.7 67.4,270.6 68.9,270.3 70.3,269.2 71.5,268.1 72.6,267.3 73.6,266.1 73.6,266.1 72,266.2 70.4,266.8 69.3,267.7 68.2,268.1 66.9,268.8 65.6,269.5 64.2,270.4" fill="#f6e6f6" stroke="#d890dc" stroke-width="0.8" stroke-linejoin="round"/><polygon points="59.3,286.1 60.6,287 62.2,287.2 63.8,287.2 65,287.6 66.8,287.7 68.3,287.5 69.5,287.6 71.2,287.5 72.6,287.2 74.1,287.3 75.6,287.3 75.6,287.3 74.2,286.4 72.7,286 71.2,285.6 69.8,285.4 68,285.2 66.6,285.4 65.4,285.8 63.6,285.6 62.3,286 60.8,286 59.3,286.1" fill="#f6e6f6" stroke="#d890dc" stroke-width="0.8" stroke-linejoin="round"/><polygon points="64.9,299.1 66.5,299 67.9,298.5 69.3,297.6 70.7,297 71.9,296.3 73.2,295.8 74.4,294.8 75.7,293.9 76.9,292.9 78,292 79.2,291.1 79.2,291.1 77.7,291.3 76.1,291.8 74.8,292.6 73.7,293.4 72.2,293.7 70.9,294.6 69.5,295.4 68.4,296.5 67.3,297.3 66.1,298.2 64.9,299.1" fill="#f6e6f6" stroke="#d890dc" stroke-width="0.8" stroke-linejoin="round"/><polygon points="76.9,211.3 78.5,211.4 80.1,211.3 81.6,210.6 82.9,210.3 84.3,209.5 85.9,208.8 87.1,207.6 87.8,206 88.8,205.3 89.9,204.6 91.2,203.7 92.2,202.4 93,201.1 93,201.1 91.6,201.8 90.5,202.6 89.3,203.3 87.6,203.7 86.2,204.8 85.1,205.7 84.3,206.7 83.5,207.7 82.1,208.1 80.5,208.9 79.5,209.8 78.3,210.6 76.9,211.3" fill="#f6e6f6" stroke="#d890dc" stroke-width="0.8" stroke-linejoin="round"/><polygon points="80.2,220 81.7,220.3 83,221 84.3,221.7 85.4,222.5 86.8,223.3 88.3,223.8 89.9,224.2 91.3,224.3 92.9,224.5 94.4,224.3 95.9,223.5 95.9,223.5 94.5,223.6 93,223.3 91.6,223.1 90.1,222.5 88.8,222.5 87.5,221.9 86.2,221.4 84.8,220.4 83.4,219.9 81.7,219.7 80.2,220" fill="#f6e6f6" stroke="#d890dc" stroke-width="0.8" stroke-linejoin="round"/><polygon points="72.4,231.4 73.9,231.7 75.3,232.1 76.6,232.8 78.1,233.2 79.5,233.6 81,234 82.6,234 84.1,234.2 85.8,233.9 87.3,233.3 88.7,232.7 90,232 91.4,231.4 92.7,230.8 92.7,230.8 91.2,230.9 89.7,231.1 88.2,231.6 86.9,232.1 85.5,232.4 84.2,232.6 82.7,232.6 81.4,232.4 79.9,232.1 78.4,231.7 77,231.5 75.5,231.2 73.9,231.1 72.4,231.4" fill="#f6e6f6" stroke="#d890dc" stroke-width="0.8" stroke-linejoin="round"/><polygon points="79.7,245.6 81.2,245.7 82.6,246.1 84.2,246.1 85.6,246.3 87,246.7 88.2,247.2 89.2,248.1 90.6,248.9 91.8,249.7 93.4,250.2 94.9,250.6 96.4,250.9 98,250.7 99.6,250.4 101,249.8 101,249.8 99.5,249.9 98,249.9 96.7,249.8 95.3,249.4 93.8,249 92.6,248.4 91.3,247.6 90.1,247 88.8,246 87.3,245.2 85.7,245.1 84.1,245 82.7,245.2 81.1,245.2 79.7,245.6" fill="#f6e6f6" stroke="#d890dc" stroke-width="0.8" stroke-linejoin="round"/><polygon points="76.1,257.4 77.5,258.1 79,258.5 80.4,258.9 81.4,259.7 83.2,259.9 84.9,259.9 86.4,259.4 87.8,258.8 89.2,257.9 89.2,257.9 87.7,258.1 86.2,258.3 84.8,258.3 83.5,258.5 82.3,258 80.7,257.5 79.1,257.3 77.7,257.3 76.1,257.4" fill="#f6e6f6" stroke="#d890dc" stroke-width="0.8" stroke-linejoin="round"/><polygon points="77.6,272.4 79.2,272.3 80.6,272.5 82.3,272.2 83.7,271.4 85.1,270.7 86.4,269.7 87.6,268.7 88.7,268.3 89.9,267 90.9,265.6 91.8,264.2 92.4,262.9 93,261.5 93,259.8 93,259.8 92.3,261.1 91.5,262.2 90.3,263.3 89.6,264.5 88.7,265.4 87.5,266 85.9,266.9 85,268 83.9,268.8 82.7,269.7 81.7,270.6 80.5,271.2 78.9,271.6 77.6,272.4" fill="#f6e6f6" stroke="#d890dc" stroke-width="0.8" stroke-linejoin="round"/><polygon points="79.1,288.4 80.6,288.7 82.1,288.6 83.7,288.4 85.1,288.5 86.6,288.3 88.1,287.9 89.7,287.4 91.1,286.6 92.2,285.3 93.3,284.3 94.2,282.9 94.5,281.3 94.5,281.3 93.6,282.5 92.6,283.5 91.4,284.4 90.2,285 88.9,285.6 87.8,286.3 86.4,286.6 84.9,286.7 83.3,287.1 82,287.6 80.5,287.9 79.1,288.4" fill="#f6e6f6" stroke="#d890dc" stroke-width="0.8" stroke-linejoin="round"/><polygon points="76.1,298.9 77.6,298.7 79.1,298.1 80.5,297.6 81.8,296.6 83,296 84.3,295.6 85.7,294.8 87.1,294.3 88.4,293.3 89.6,292.2 90.4,290.8 91.2,289.6 91.9,288.2 91.9,288.2 90.9,289.3 89.8,290.4 88.8,291.4 87.7,292.3 86.5,292.9 85,293.6 83.9,294.3 82.4,294.9 80.8,295.5 79.9,296.5 78.6,297.3 77.4,298.2 76.1,298.9" fill="#f6e6f6" stroke="#d890dc" stroke-width="0.8" stroke-linejoin="round"/><polygon points="96.4,204.6 97.7,205.5 99.2,205.8 100.6,206.2 102.1,206.7 103.6,206.8 105.2,206.8 106.6,207 107.8,207.6 109.4,207.8 110.9,208.2 112.3,208.4 113.7,208.9 114.8,209.7 116.1,210.5 117.3,211.3 117.3,211.3 116.4,210.1 115.2,209.2 114,208 112.6,207.4 111.1,206.9 109.7,206.7 108.3,206.3 106.8,205.8 105.2,205.5 103.7,205.6 102.3,205.4 100.8,205.4 99.3,205.2 97.9,205.1 96.4,204.6" fill="#f6e6f6" stroke="#d890dc" stroke-width="0.8" stroke-linejoin="round"/><polygon points="91.4,218 93,218 94.5,217.3 95.7,216.2 96.5,214.7 97.3,213.6 98.1,212.3 98.1,212.3 96.3,212.6 95.1,213.7 94.2,214.7 93.3,215.8 92.5,216.9 91.4,218" fill="#f6e6f6" stroke="#d890dc" stroke-width="0.8" stroke-linejoin="round"/><polygon points="90.2,230.2 91.8,230.3 93.2,230.4 94.8,230.2 96.4,229.6 97.7,228.6 98.8,227.3 99.6,225.8 99.8,224.2 100.6,223 101,221.4 101.5,220 101.4,218.3 101.2,216.7 101.2,215.3 100.7,213.8 100.7,213.8 100.7,215.3 100.1,216.8 100.3,218.2 100,219.5 99.5,220.9 98.8,222.1 98.3,223.7 97.7,225 97.3,226.2 96.6,227.3 95.6,228.2 94.5,229 93.2,229.4 91.7,229.6 90.2,230.2" fill="#f6e6f6" stroke="#d890dc" stroke-width="0.8" stroke-linejoin="round"/><polygon points="90,244.8 91,246 92.2,247 93.6,247.8 95.3,248 96.7,248.4 98.1,248.7 99.8,248.7 101.4,248.4 102.8,247.6 102.8,247.6 101.3,247.4 100,247.2 98.6,246.8 97.2,246.3 95.6,246 94.4,245.9 93,245.6 91.5,245.1 90,244.8" fill="#f6e6f6" stroke="#d890dc" stroke-width="0.8" stroke-linejoin="round"/><polygon points="88.6,262.7 90.1,263.2 91.5,263.7 93.1,263.9 94.6,263.9 95.9,264.2 97.4,264.5 98.7,265.1 100,265.7 100,265.7 99,264.4 97.6,263.7 96.2,263 94.6,262.5 93.2,262.4 91.7,262.5 90.2,262.5 88.6,262.7" fill="#f6e6f6" stroke="#d890dc" stroke-width="0.8" stroke-linejoin="round"/><polygon points="96.8,267.4 97.9,266.3 98.8,265.1 99.7,263.9 100.5,262.4 101,261.2 101.9,260.1 103,259 103.8,257.9 104.5,256.5 105.4,255.2 106,253.7 106.4,252.2 107,250.9 107.4,249.4 107.4,249.4 106.2,250.4 105.3,251.7 104.3,252.9 103.7,254.1 103,255.3 102,256.4 100.8,257.5 100.2,258.9 99.4,260.3 98.4,261.7 98.3,263 97.7,264.5 97.2,265.9 96.8,267.4" fill="#f6e6f6" stroke="#d890dc" stroke-width="0.8" stroke-linejoin="round"/><polygon points="97.6,284.1 99.1,284.3 100.7,284.1 102.2,283.4 103.4,282.3 104.6,281.3 105.4,279.8 106.2,278.2 106.5,276.6 106.4,275.1 106.8,273.5 106.5,271.8 105.6,270.3 104.8,268.9 104.1,267.6 103.5,266.3 103.5,266.3 103.3,268 103.8,269.4 104.3,270.8 104.6,272 104.5,273.3 104.7,274.8 104.1,276.2 103.9,277.6 103.9,278.9 103.2,280 102.4,281.2 101.3,282 100.3,282.9 99.1,283.6 97.6,284.1" fill="#f6e6f6" stroke="#d890dc" stroke-width="0.8" stroke-linejoin="round"/><polygon points="89.9,295.1 91.3,295.7 92.6,296.4 94.2,296.8 95.3,297.3 97,297.8 98.3,298.2 99.5,298.5 100.8,299.2 102.3,299.8 103.8,300.1 103.8,300.1 102.7,298.9 101.5,298.1 100.3,297 98.9,296 97.4,295.5 96.1,295.5 94.4,294.8 93,295.1 91.4,294.8 89.9,295.1" fill="#f6e6f6" stroke="#d890dc" stroke-width="0.8" stroke-linejoin="round"/><polygon points="104.5,203.9 105.3,205.2 106,206.6 106.7,207.8 107.4,209.2 108.6,210.3 109.6,211.4 111,212.2 112.2,213.1 113.6,213.8 114.8,214.6 114.8,214.6 114,213.3 112.9,212.2 111.7,211.2 110.6,210.4 109.6,209.4 108.7,208.3 107.7,207.2 106.9,205.8 105.8,204.8 104.5,203.9" fill="#f6e6f6" stroke="#d890dc" stroke-width="0.8" stroke-linejoin="round"/><polygon points="110,219.8 111.5,219.6 113,219 114.3,218.2 115.5,217.2 116.6,216.1 117.7,215.4 119.1,214.7 120.1,213.7 121.4,213.1 122.7,212.2 123.9,211.2 124.8,209.8 125.7,208.7 125.7,208.7 124.2,209.3 123.2,210.2 122,211 120.8,211.7 119.3,212.4 117.8,212.9 116.8,214 115.3,214.8 114.3,215.9 113.4,216.9 112.3,218 111.3,219 110,219.8" fill="#f6e6f6" stroke="#d890dc" stroke-width="0.8" stroke-linejoin="round"/><polygon points="112.2,237 113.7,236.7 115.1,236.1 116.4,235.4 117.9,235.1 119.1,234 120.2,232.7 120.8,231.2 121.3,229.8 121.3,229.8 120,230.8 119.3,232 118.3,232.9 117.2,233.6 115.9,234.5 114.6,235.3 113.3,236 112.2,237" fill="#f6e6f6" stroke="#d890dc" stroke-width="0.8" stroke-linejoin="round"/><polygon points="109,245.8 110.6,246 112,246.3 113.3,246.7 114.6,247.1 115.6,247.8 116.9,248.4 118.2,249.1 118.2,249.1 117.8,247.4 116.7,246.1 115.2,245.2 113.6,244.7 112,244.7 110.4,244.8 109,245.8" fill="#f6e6f6" stroke="#d890dc" stroke-width="0.8" stroke-linejoin="round"/><polygon points="107.3,259.1 108.8,259.8 110.6,259.9 112.1,259.3 113.4,258.7 114.8,258 116.1,257.1 117.2,255.9 117.2,255.9 115.6,256.1 114.2,256.4 112.7,256.7 111.2,257.1 110,257.6 108.8,258.5 107.3,259.1" fill="#f6e6f6" stroke="#d890dc" stroke-width="0.8" stroke-linejoin="round"/><polygon points="111.3,271.4 112.6,272.2 113.7,273.2 114.5,274.2 115.5,275.4 117.2,276 118.8,276.6 120,277 121.2,277.8 122.4,278.6 123.8,279.3 125.3,279.7 125.3,279.7 124.2,278.6 123,277.8 121.9,276.7 120.6,275.8 119.2,275 117.8,274.8 116.8,274.1 115.6,273.2 114.4,272.1 112.8,271.6 111.3,271.4" fill="#f6e6f6" stroke="#d890dc" stroke-width="0.8" stroke-linejoin="round"/><polygon points="108.1,285.6 107.6,287 107.1,288.5 107,290.1 106.8,291.5 106.9,293.1 107.1,294.6 107.3,296.2 107.6,297.6 108.1,299.1 108.8,300.5 109.6,301.8 109.6,301.8 109.5,300.3 109.3,298.8 109,297.4 108.9,295.9 108.6,294.5 108.5,293 108.4,291.6 108.5,290 108.3,288.6 108.2,287.1 108.1,285.6" fill="#f6e6f6" stroke="#d890dc" stroke-width="0.8" stroke-linejoin="round"/><polygon points="108.1,292.6 109.5,293.2 111.1,293.6 112.3,293.9 113.6,294.6 114.8,294.9 116.4,295.4 117.9,295.6 117.9,295.6 116.8,294.3 115.6,293.6 114.3,292.4 112.7,292.1 111,291.7 109.6,292.2 108.1,292.6" fill="#f6e6f6" stroke="#d890dc" stroke-width="0.8" stroke-linejoin="round"/><g fill="#48289c" opacity="0.8"><ellipse cx="113.4" cy="267.9" rx="1" ry="0.9"/><ellipse cx="75.9" cy="212.7" rx="1" ry="0.9"/><ellipse cx="43.5" cy="206.2" rx="0.9" ry="0.9"/><ellipse cx="47" cy="231.3" rx="1.4" ry="1.1"/><ellipse cx="58.1" cy="211.3" rx="1" ry="0.8"/><ellipse cx="90.6" cy="264.8" rx="1.1" ry="1"/><ellipse cx="73.4" cy="285.6" rx="1.1" ry="1"/><ellipse cx="81.3" cy="294.6" rx="1.2" ry="1.1"/><ellipse cx="26.6" cy="271.7" rx="1.1" ry="0.8"/><ellipse cx="86.5" cy="283.3" rx="1.3" ry="1"/><ellipse cx="91.6" cy="286.8" rx="1.3" ry="1.1"/><ellipse cx="102.1" cy="274.4" rx="1.2" ry="1"/><ellipse cx="87.9" cy="268.4" rx="1.1" ry="0.8"/><ellipse cx="28" cy="235.4" rx="1.2" ry="0.8"/><ellipse cx="33.8" cy="230.4" rx="1.3" ry="0.9"/><ellipse cx="112.1" cy="223" rx="1.3" ry="1"/><ellipse cx="62.3" cy="283.1" rx="1.2" ry="1"/><ellipse cx="73.6" cy="288.7" rx="1.2" ry="1.1"/><ellipse cx="19.7" cy="285.6" rx="1.2" ry="1"/><ellipse cx="99.2" cy="271.5" rx="1.2" ry="1"/><ellipse cx="64.8" cy="280.3" rx="1.1" ry="0.9"/><ellipse cx="58.2" cy="212" rx="1.2" ry="1"/><ellipse cx="53.6" cy="244.1" rx="1.1" ry="0.8"/><ellipse cx="99.2" cy="228.5" rx="1" ry="0.9"/><ellipse cx="109.8" cy="209.5" rx="1" ry="0.9"/><ellipse cx="71.8" cy="241.7" rx="0.9" ry="0.8"/><ellipse cx="80.8" cy="271.1" rx="1" ry="1"/><ellipse cx="118.4" cy="238.2" rx="1" ry="0.9"/><ellipse cx="67.6" cy="247.7" rx="1.3" ry="1.1"/><ellipse cx="48.7" cy="227.7" rx="1.2" ry="0.9"/><ellipse cx="105.1" cy="277" rx="1" ry="0.9"/><ellipse cx="37.4" cy="219.8" rx="1.3" ry="1.1"/><ellipse cx="50.9" cy="213.8" rx="1.4" ry="1.1"/><ellipse cx="79.6" cy="286.3" rx="1.2" ry="1.1"/><ellipse cx="54.3" cy="220.2" rx="1.4" ry="1.1"/><ellipse cx="47.1" cy="259.2" rx="0.9" ry="0.9"/><ellipse cx="21.1" cy="282.6" rx="1.2" ry="1.1"/><ellipse cx="57.5" cy="285.4" rx="1" ry="1"/><ellipse cx="27.2" cy="283.2" rx="1.1" ry="0.9"/><ellipse cx="89.1" cy="262.1" rx="1.1" ry="1"/><ellipse cx="61.3" cy="281.2" rx="1.3" ry="1"/><ellipse cx="66.7" cy="271.8" rx="1" ry="0.9"/><ellipse cx="82.8" cy="230.1" rx="1.4" ry="1.1"/><ellipse cx="25.8" cy="258.1" rx="1.4" ry="1"/><ellipse cx="93.1" cy="233.3" rx="1.1" ry="0.8"/><ellipse cx="115.2" cy="222.5" rx="1.1" ry="0.9"/><ellipse cx="32.4" cy="298.2" rx="1.1" ry="1"/><ellipse cx="59.9" cy="217.3" rx="1.6" ry="1.1"/><ellipse cx="116.5" cy="295.2" rx="1.2" ry="1"/><ellipse cx="86.8" cy="211.5" rx="1.3" ry="1"/><ellipse cx="111.6" cy="291.2" rx="0.9" ry="0.8"/><ellipse cx="37.7" cy="272.5" rx="1.1" ry="0.8"/><ellipse cx="108.9" cy="211.8" rx="1.2" ry="1.1"/><ellipse cx="40.3" cy="230.3" rx="1" ry="0.9"/><ellipse cx="106.2" cy="218.4" rx="1.3" ry="0.9"/><ellipse cx="79.6" cy="282.8" rx="1.4" ry="1.1"/><ellipse cx="108.8" cy="234.6" rx="1.1" ry="0.9"/><ellipse cx="34.1" cy="294.6" rx="0.9" ry="0.8"/><ellipse cx="48.6" cy="302" rx="1" ry="0.9"/><ellipse cx="37" cy="263.6" rx="1.4" ry="1.1"/><ellipse cx="85.9" cy="211.2" rx="1.3" ry="0.9"/><ellipse cx="40" cy="242.6" rx="1" ry="0.9"/><ellipse cx="40.3" cy="242.3" rx="1.2" ry="1.1"/><ellipse cx="23" cy="240" rx="1.3" ry="1.1"/><ellipse cx="53.7" cy="268.3" rx="1.3" ry="1.1"/><ellipse cx="38.5" cy="224.1" rx="1" ry="1"/><ellipse cx="110.9" cy="221.5" rx="1.3" ry="1"/><ellipse cx="78.3" cy="260.6" rx="1" ry="1"/><ellipse cx="49.6" cy="209.5" rx="1.3" ry="1"/><ellipse cx="38.8" cy="206.4" rx="0.9" ry="0.9"/><ellipse cx="87.3" cy="253.5" rx="1" ry="1"/><ellipse cx="74.4" cy="216.8" rx="1.1" ry="1"/><ellipse cx="25.6" cy="286.8" rx="1.3" ry="1.1"/><ellipse cx="85.8" cy="226.2" rx="1.2" ry="1.1"/><ellipse cx="109.7" cy="259.3" rx="1.2" ry="1.1"/><ellipse cx="116.5" cy="294.5" rx="0.8" ry="0.8"/><ellipse cx="114.5" cy="245.6" rx="0.9" ry="0.9"/><ellipse cx="34.3" cy="252.4" rx="1" ry="0.9"/><ellipse cx="32.2" cy="216.6" rx="1.2" ry="1.1"/><ellipse cx="22.5" cy="226.7" rx="1.1" ry="1"/><ellipse cx="103.9" cy="291.8" rx="1.2" ry="1"/><ellipse cx="91.5" cy="295.6" rx="1.1" ry="0.9"/><ellipse cx="117.4" cy="275.7" rx="1.1" ry="1"/><ellipse cx="50.6" cy="261.4" rx="1.1" ry="0.9"/><ellipse cx="100.5" cy="247.3" rx="1.2" ry="1.1"/><ellipse cx="27.5" cy="268.5" rx="1.1" ry="0.8"/><ellipse cx="116.6" cy="296.7" rx="1.1" ry="1"/><ellipse cx="115.6" cy="267" rx="1" ry="0.8"/><ellipse cx="108.3" cy="262.9" rx="1.3" ry="0.9"/><ellipse cx="67.5" cy="206.8" rx="1" ry="0.9"/><ellipse cx="86.7" cy="247" rx="1.2" ry="1"/><ellipse cx="46.6" cy="207.5" rx="1.2" ry="0.9"/><ellipse cx="115.2" cy="205.3" rx="1.3" ry="0.9"/><ellipse cx="80" cy="209.2" rx="0.9" ry="0.8"/><ellipse cx="35" cy="300.5" rx="1.2" ry="0.9"/><ellipse cx="74.9" cy="271.9" rx="1.2" ry="0.9"/><ellipse cx="35" cy="217.3" rx="1.2" ry="1"/><ellipse cx="61.5" cy="261.8" rx="1.2" ry="0.9"/><ellipse cx="67.8" cy="270.9" rx="1.4" ry="1"/><ellipse cx="84.6" cy="249.9" rx="1.4" ry="1"/><ellipse cx="95.4" cy="296.7" rx="1.1" ry="0.9"/><ellipse cx="58.9" cy="273.4" rx="1.2" ry="0.9"/><ellipse cx="82.2" cy="203.2" rx="1" ry="1"/><ellipse cx="93.4" cy="283.3" rx="1.3" ry="1"/><ellipse cx="85.1" cy="243.2" rx="1.3" ry="1"/><ellipse cx="75.6" cy="208.6" rx="1.1" ry="0.9"/><ellipse cx="24.4" cy="217.3" rx="1" ry="0.8"/><ellipse cx="23.3" cy="231" rx="1" ry="0.8"/><ellipse cx="58.4" cy="207.1" rx="1.1" ry="0.9"/><ellipse cx="28.5" cy="238.4" rx="0.8" ry="0.8"/><ellipse cx="104.9" cy="218.1" rx="1.2" ry="0.9"/><ellipse cx="68.9" cy="295.9" rx="1.3" ry="1"/><ellipse cx="63.2" cy="232.9" rx="1.1" ry="1"/><ellipse cx="43.1" cy="276.1" rx="1" ry="0.9"/><ellipse cx="107.1" cy="214.7" rx="1.2" ry="1"/><ellipse cx="22.7" cy="284.1" rx="1.4" ry="1.1"/><ellipse cx="65.7" cy="267.6" rx="1.2" ry="1"/><ellipse cx="113" cy="289.8" rx="1.2" ry="1.1"/><ellipse cx="44.4" cy="231.8" rx="1" ry="0.9"/><ellipse cx="79.8" cy="280.7" rx="1.1" ry="0.9"/><ellipse cx="83.7" cy="278.1" rx="1.2" ry="1"/><ellipse cx="59.3" cy="242.5" rx="1.1" ry="1.1"/><ellipse cx="44.9" cy="252.5" rx="1.2" ry="1.1"/><ellipse cx="89.9" cy="206.8" rx="1.3" ry="1.1"/><ellipse cx="117" cy="226.1" rx="1.1" ry="1"/><ellipse cx="33.7" cy="246.2" rx="1.2" ry="1"/><ellipse cx="20.9" cy="229.7" rx="1.1" ry="1.1"/><ellipse cx="51.3" cy="208.4" rx="1" ry="0.8"/><ellipse cx="76.8" cy="233.3" rx="1" ry="1"/><ellipse cx="29.2" cy="224.7" rx="1.2" ry="1.1"/><ellipse cx="28" cy="273.7" rx="1.1" ry="0.8"/><ellipse cx="71.3" cy="231.8" rx="1.3" ry="1.1"/><ellipse cx="62" cy="242.9" rx="1.3" ry="0.9"/><ellipse cx="48" cy="289.2" rx="1.3" ry="1.1"/><ellipse cx="39.9" cy="295.3" rx="1.5" ry="1.1"/><ellipse cx="26.2" cy="246" rx="1.1" ry="1"/><ellipse cx="81.7" cy="284.1" rx="1.3" ry="1.1"/><ellipse cx="113.8" cy="261.8" rx="1" ry="0.9"/><ellipse cx="27" cy="221.2" rx="1.4" ry="1.1"/><ellipse cx="36.7" cy="300.2" rx="1.3" ry="1.1"/><ellipse cx="112.5" cy="229.8" rx="1.1" ry="1.1"/><ellipse cx="24" cy="209" rx="1.6" ry="1.1"/><ellipse cx="37.8" cy="228.3" rx="1.4" ry="1.1"/><ellipse cx="18.4" cy="249.6" rx="1.4" ry="1"/><ellipse cx="118.6" cy="252.9" rx="1.2" ry="1.1"/><ellipse cx="100.4" cy="227" rx="1.3" ry="1.1"/><ellipse cx="27" cy="259.5" rx="1.1" ry="0.9"/><ellipse cx="58.8" cy="241.4" rx="1.4" ry="1.1"/><ellipse cx="80.7" cy="223.8" rx="1.1" ry="0.9"/><ellipse cx="117.8" cy="290.6" rx="1.4" ry="1.1"/><ellipse cx="52.1" cy="205.1" rx="1.4" ry="1.1"/><ellipse cx="76.4" cy="277.1" rx="1.2" ry="1.1"/><ellipse cx="21.6" cy="212.2" rx="1" ry="0.9"/><ellipse cx="85.1" cy="223.5" rx="1" ry="1"/><ellipse cx="20.6" cy="290.5" rx="1.1" ry="1"/><ellipse cx="92.4" cy="265.7" rx="1.3" ry="1"/><ellipse cx="86.6" cy="253.6" rx="1.5" ry="1.1"/><ellipse cx="107.6" cy="210.4" rx="1" ry="0.9"/><ellipse cx="79.2" cy="262.9" rx="1.4" ry="1.1"/><ellipse cx="39.7" cy="232.9" rx="1" ry="1"/><ellipse cx="77.4" cy="275.9" rx="1.2" ry="1"/><ellipse cx="102.9" cy="237.5" rx="1" ry="0.9"/><ellipse cx="56.5" cy="289.6" rx="1.3" ry="0.9"/><ellipse cx="93.6" cy="246.4" rx="1" ry="1"/><ellipse cx="39.9" cy="268.4" rx="1.1" ry="0.8"/><ellipse cx="90.1" cy="237" rx="1.1" ry="0.9"/><ellipse cx="44.1" cy="271.3" rx="1" ry="0.9"/><ellipse cx="20.7" cy="278.5" rx="1.3" ry="1"/><ellipse cx="69.6" cy="205.1" rx="1.2" ry="1.1"/><ellipse cx="114.4" cy="235.7" rx="1.5" ry="1.1"/><ellipse cx="68.1" cy="251.8" rx="1.5" ry="1.1"/><ellipse cx="86.4" cy="212.7" rx="1" ry="0.8"/><ellipse cx="74.4" cy="247" rx="0.9" ry="0.8"/><ellipse cx="61.8" cy="208.1" rx="1" ry="0.8"/><ellipse cx="35.2" cy="239.4" rx="1.1" ry="0.9"/><ellipse cx="33" cy="261" rx="1.2" ry="1"/><ellipse cx="58.3" cy="243.5" rx="1.3" ry="1.1"/><ellipse cx="102.4" cy="264.3" rx="0.9" ry="0.9"/><ellipse cx="110.1" cy="266.9" rx="0.9" ry="0.8"/><ellipse cx="20.3" cy="208.7" rx="1.3" ry="1"/><ellipse cx="47.6" cy="236.1" rx="1.2" ry="1"/><ellipse cx="50.7" cy="284.4" rx="1.5" ry="1.1"/><ellipse cx="89" cy="205.7" rx="1.5" ry="1.1"/><ellipse cx="46.6" cy="253.6" rx="1.1" ry="0.9"/><ellipse cx="78.9" cy="235" rx="1.4" ry="1"/><ellipse cx="97.7" cy="291.9" rx="0.9" ry="0.9"/><ellipse cx="78" cy="279.6" rx="1.2" ry="1"/><ellipse cx="53.3" cy="280.2" rx="1.2" ry="0.9"/><ellipse cx="66.5" cy="208.8" rx="1.2" ry="1"/><ellipse cx="104" cy="277.7" rx="1.4" ry="1.1"/><ellipse cx="113.2" cy="205.4" rx="1.1" ry="0.9"/><ellipse cx="95.1" cy="252.3" rx="1.1" ry="1"/><ellipse cx="98.2" cy="244.8" rx="1.4" ry="1.1"/><ellipse cx="74.1" cy="207.3" rx="1.1" ry="0.9"/><ellipse cx="23.6" cy="281.2" rx="0.9" ry="0.9"/><ellipse cx="43.4" cy="203.3" rx="1.3" ry="1.1"/><ellipse cx="19.7" cy="239.5" rx="1" ry="0.9"/><ellipse cx="35.7" cy="219.2" rx="1.1" ry="0.8"/><ellipse cx="37.4" cy="257.6" rx="1.5" ry="1.1"/><ellipse cx="98.9" cy="247.5" rx="1.2" ry="1.1"/><ellipse cx="100.6" cy="239.3" rx="1.1" ry="0.9"/><ellipse cx="76.2" cy="303.1" rx="1.4" ry="1.1"/><ellipse cx="47" cy="232.6" rx="1.2" ry="0.9"/><ellipse cx="22.2" cy="248.7" rx="1.1" ry="1"/><ellipse cx="111.3" cy="258.8" rx="1.1" ry="1"/><ellipse cx="113.5" cy="212" rx="1.1" ry="1"/><ellipse cx="76.7" cy="268.6" rx="1.2" ry="1.1"/><ellipse cx="29.3" cy="256.5" rx="1.1" ry="0.9"/><ellipse cx="74.3" cy="206.8" rx="1" ry="0.9"/><ellipse cx="114.6" cy="256.3" rx="1.1" ry="0.8"/><ellipse cx="98.8" cy="274.7" rx="1.3" ry="1.1"/><ellipse cx="118.1" cy="292.9" rx="1.2" ry="1"/><ellipse cx="23.8" cy="274.1" rx="1.1" ry="0.8"/><ellipse cx="42.6" cy="253" rx="1.4" ry="1.1"/><ellipse cx="100.2" cy="302.3" rx="1.4" ry="1.1"/><ellipse cx="19.4" cy="275.3" rx="1.4" ry="1.1"/><ellipse cx="42.7" cy="234.1" rx="1.2" ry="0.9"/><ellipse cx="71" cy="300.9" rx="0.9" ry="0.9"/><ellipse cx="98.6" cy="225.4" rx="1" ry="0.9"/><ellipse cx="91.5" cy="274.7" rx="1.4" ry="1.1"/><ellipse cx="92.9" cy="291.9" rx="1.4" ry="1"/><ellipse cx="99.4" cy="293.4" rx="1.2" ry="1.1"/><ellipse cx="29.8" cy="203.6" rx="1.4" ry="1"/><ellipse cx="48.9" cy="291.1" rx="1.2" ry="1"/><ellipse cx="83.6" cy="244.6" rx="1" ry="1"/><ellipse cx="77.8" cy="230.1" rx="0.9" ry="0.9"/><ellipse cx="43.6" cy="272.7" rx="1.3" ry="0.9"/><ellipse cx="85.3" cy="215" rx="1.3" ry="1"/><ellipse cx="88" cy="296.8" rx="0.9" ry="0.9"/><ellipse cx="59.6" cy="262" rx="0.9" ry="0.8"/><ellipse cx="30" cy="239" rx="1.2" ry="1"/><ellipse cx="57.5" cy="297.6" rx="1.3" ry="1"/><ellipse cx="38.8" cy="204" rx="1.3" ry="1"/><ellipse cx="81.4" cy="247.9" rx="1" ry="1"/><ellipse cx="73" cy="299.3" rx="1" ry="0.8"/><ellipse cx="40.9" cy="246.7" rx="1" ry="0.9"/><ellipse cx="54.9" cy="290.8" rx="0.9" ry="0.9"/><ellipse cx="46.1" cy="264.7" rx="1.2" ry="1.1"/><ellipse cx="83.5" cy="217.5" rx="1.1" ry="1"/><ellipse cx="52.7" cy="302.2" rx="1.3" ry="1.1"/><ellipse cx="41.4" cy="221" rx="1.1" ry="1"/><ellipse cx="25.6" cy="255.3" rx="1.1" ry="0.8"/><ellipse cx="98.1" cy="244" rx="1.2" ry="0.9"/><ellipse cx="27.9" cy="203.5" rx="1.3" ry="0.9"/><ellipse cx="21" cy="283.9" rx="1.3" ry="1.1"/><ellipse cx="97.8" cy="288.4" rx="1" ry="0.9"/><ellipse cx="85.3" cy="219" rx="1.5" ry="1.1"/><ellipse cx="111.5" cy="213.7" rx="1.1" ry="1"/><ellipse cx="48.2" cy="227.4" rx="1.2" ry="1.1"/><ellipse cx="92.2" cy="267.4" rx="1.4" ry="1"/><ellipse cx="52.7" cy="228.2" rx="1" ry="1"/><ellipse cx="60.1" cy="271.6" rx="1.3" ry="1"/><ellipse cx="76.4" cy="291.3" rx="1.2" ry="1.1"/><ellipse cx="41.8" cy="251.4" rx="1.1" ry="0.9"/><ellipse cx="44.4" cy="252.8" rx="1.1" ry="0.8"/><ellipse cx="84.3" cy="246.5" rx="1.1" ry="1"/><ellipse cx="114.6" cy="242" rx="1.1" ry="0.9"/><ellipse cx="105.2" cy="205.9" rx="1" ry="0.9"/><ellipse cx="79.3" cy="257.3" rx="1" ry="0.9"/><ellipse cx="79.5" cy="276.5" rx="1.1" ry="0.8"/><ellipse cx="81.5" cy="267.3" rx="1.2" ry="1"/><ellipse cx="20.9" cy="246.2" rx="1.5" ry="1.1"/><ellipse cx="36.2" cy="249.4" rx="1.2" ry="1"/><ellipse cx="45.3" cy="259.3" rx="1.1" ry="0.9"/><ellipse cx="97" cy="257" rx="1.4" ry="1"/><ellipse cx="84.3" cy="299.1" rx="1" ry="0.8"/><ellipse cx="87.4" cy="245.2" rx="1.3" ry="1.1"/><ellipse cx="37.9" cy="270.5" rx="1.2" ry="0.9"/><ellipse cx="55.5" cy="296.6" rx="1.1" ry="0.8"/><ellipse cx="44" cy="228.6" rx="1.3" ry="1"/><ellipse cx="113.1" cy="208.7" rx="1.2" ry="1"/><ellipse cx="28.4" cy="261.8" rx="1.2" ry="1.1"/><ellipse cx="53.3" cy="212.3" rx="1.4" ry="1"/><ellipse cx="110.9" cy="240.3" rx="1.2" ry="1"/><ellipse cx="61.2" cy="267" rx="0.9" ry="0.9"/><ellipse cx="72.6" cy="235.7" rx="1.1" ry="1"/><ellipse cx="61" cy="224.1" rx="1.3" ry="1"/><ellipse cx="66.8" cy="294.3" rx="0.9" ry="0.9"/><ellipse cx="72.6" cy="239" rx="1" ry="0.9"/><ellipse cx="115" cy="276.1" rx="1" ry="0.8"/><ellipse cx="60.6" cy="231" rx="1.4" ry="1.1"/><ellipse cx="112" cy="271.4" rx="1.1" ry="1.1"/><ellipse cx="30.1" cy="273.3" rx="1.4" ry="1"/><ellipse cx="114.4" cy="247.5" rx="1" ry="1"/><ellipse cx="41.4" cy="217.8" rx="1.2" ry="1"/><ellipse cx="56.9" cy="294.4" rx="1.1" ry="1.1"/><ellipse cx="35.2" cy="217.2" rx="0.9" ry="0.9"/><ellipse cx="106.7" cy="276.6" rx="1.1" ry="1"/><ellipse cx="51.8" cy="221.3" rx="1.3" ry="1.1"/><ellipse cx="23.1" cy="273.7" rx="1" ry="0.9"/><ellipse cx="74" cy="300.9" rx="1.1" ry="0.9"/><ellipse cx="111.1" cy="279.5" rx="1.5" ry="1.1"/><ellipse cx="36.2" cy="252.6" rx="1.1" ry="0.9"/><ellipse cx="96.3" cy="299.1" rx="1" ry="0.9"/><ellipse cx="64.4" cy="221" rx="1" ry="0.8"/><ellipse cx="112.1" cy="300.7" rx="1.2" ry="1.1"/><ellipse cx="103.4" cy="254.6" rx="1.1" ry="1"/><ellipse cx="35.5" cy="254.8" rx="1.4" ry="1.1"/><ellipse cx="44.7" cy="227.2" rx="1.4" ry="1"/><ellipse cx="112.7" cy="225.4" rx="1" ry="0.8"/><ellipse cx="41.5" cy="227.3" rx="1.3" ry="0.9"/><ellipse cx="67.2" cy="222.8" rx="0.9" ry="0.8"/><ellipse cx="79.4" cy="227.8" rx="1" ry="0.8"/><ellipse cx="70.6" cy="301.2" rx="1.4" ry="1.1"/><ellipse cx="97.1" cy="246.3" rx="1.2" ry="0.9"/><ellipse cx="110.1" cy="281.4" rx="0.9" ry="0.8"/><ellipse cx="65.2" cy="259.2" rx="1.1" ry="0.9"/><ellipse cx="33.7" cy="231.8" rx="1.1" ry="1"/><ellipse cx="57" cy="260" rx="1.2" ry="1.1"/><ellipse cx="110.1" cy="262.3" rx="1.3" ry="1"/><ellipse cx="117.1" cy="256.2" rx="1.2" ry="1"/><ellipse cx="96.6" cy="252.1" rx="0.9" ry="0.8"/><ellipse cx="88.8" cy="297.5" rx="1.5" ry="1.1"/><ellipse cx="99.5" cy="233.6" rx="1" ry="1"/><ellipse cx="75.7" cy="281.1" rx="1" ry="1"/><ellipse cx="60.5" cy="211.2" rx="1.3" ry="1.1"/><ellipse cx="42.6" cy="249.8" rx="1.1" ry="1"/><ellipse cx="70.3" cy="246.9" rx="0.9" ry="0.9"/><ellipse cx="81" cy="278.9" rx="1.1" ry="1"/><ellipse cx="52.7" cy="266.1" rx="1.1" ry="0.9"/><ellipse cx="69" cy="220.8" rx="1.1" ry="1"/><ellipse cx="50.2" cy="232.6" rx="0.9" ry="0.9"/><ellipse cx="64" cy="206.5" rx="1" ry="0.8"/><ellipse cx="30.3" cy="255" rx="1.5" ry="1.1"/><ellipse cx="93.4" cy="292.8" rx="1.3" ry="1"/><ellipse cx="95.4" cy="247.6" rx="1.4" ry="1.1"/><ellipse cx="105.1" cy="299.5" rx="1.1" ry="1.1"/><ellipse cx="32.3" cy="219.9" rx="1.3" ry="1"/><ellipse cx="79.7" cy="213.3" rx="1.1" ry="0.9"/><ellipse cx="67.9" cy="240.9" rx="1.2" ry="1.1"/><ellipse cx="53.3" cy="268" rx="1.3" ry="1"/><ellipse cx="36.6" cy="235.9" rx="1.2" ry="1"/><ellipse cx="22.4" cy="208.9" rx="1.2" ry="1"/><ellipse cx="78.4" cy="259.8" rx="1.2" ry="1"/><ellipse cx="115.2" cy="224.4" rx="1.3" ry="1"/><ellipse cx="66.2" cy="269.2" rx="1.2" ry="1"/><ellipse cx="106.2" cy="252.5" rx="1.3" ry="1"/><ellipse cx="55.1" cy="245.8" rx="1.2" ry="1.1"/><ellipse cx="18.7" cy="287.5" rx="1.2" ry="1.1"/><ellipse cx="46.9" cy="287.9" rx="1.1" ry="1"/><ellipse cx="115.1" cy="205.6" rx="1.4" ry="1.1"/><ellipse cx="69.2" cy="298.4" rx="1.5" ry="1.1"/><ellipse cx="88.6" cy="218.4" rx="1.2" ry="1"/><ellipse cx="111.9" cy="258.1" rx="1.4" ry="1.1"/><ellipse cx="40.8" cy="238.1" rx="0.9" ry="0.8"/><ellipse cx="29.7" cy="281.8" rx="1" ry="0.8"/><ellipse cx="80.6" cy="236.7" rx="1" ry="0.9"/><ellipse cx="63" cy="279.8" rx="1.1" ry="0.9"/><ellipse cx="113.3" cy="223" rx="1.1" ry="0.9"/><ellipse cx="27.3" cy="287.4" rx="1" ry="0.8"/><ellipse cx="27.2" cy="213" rx="1.6" ry="1.1"/><ellipse cx="24.7" cy="232.8" rx="1.1" ry="0.9"/><ellipse cx="27.8" cy="288.5" rx="1.3" ry="0.9"/><ellipse cx="40.8" cy="249" rx="1.2" ry="1.1"/><ellipse cx="77.5" cy="234.9" rx="1" ry="0.8"/><ellipse cx="99.9" cy="206.3" rx="1.2" ry="0.9"/><ellipse cx="99.6" cy="242.9" rx="1.1" ry="0.8"/><ellipse cx="60.1" cy="244.3" rx="1.2" ry="0.9"/><ellipse cx="62.4" cy="253.1" rx="1.2" ry="1.1"/><ellipse cx="45.5" cy="232.2" rx="1.4" ry="1.1"/></g></g>
</g>
<rect x="97.2" y="299" width="19" height="2.6" fill="#000" stroke="none" stroke-width="0.8"/>
<rect x="18.2" y="202.9" width="100.9" height="100.4" fill="none" stroke="#111" stroke-width="1.3"/>
<g clip-path="url(#cp2)">
<rect x="123.1" y="203.2" width="100.1" height="100.4" fill="#b46cca" stroke="none" stroke-width="0.8"/>
<g filter="url(#soft2)"><g fill="#d4a0e4" opacity="0.5"><circle cx="160" cy="249" r="4.3"/><circle cx="181.3" cy="283.2" r="4.6"/><circle cx="185.4" cy="204" r="9.3"/><circle cx="138.8" cy="227.1" r="9.6"/><circle cx="182.7" cy="276.9" r="4.2"/><circle cx="123.9" cy="257" r="5.1"/><circle cx="165.1" cy="243.5" r="9.8"/><circle cx="188.5" cy="212.9" r="6.7"/><circle cx="150.1" cy="242.4" r="10.8"/><circle cx="192.9" cy="282.3" r="5"/><circle cx="153.2" cy="299.4" r="10.3"/><circle cx="206.8" cy="255" r="10.9"/><circle cx="215.3" cy="286.8" r="9.8"/><circle cx="176.9" cy="259.3" r="10.2"/><circle cx="183.1" cy="216.5" r="4.1"/><circle cx="181.2" cy="293.3" r="5.9"/><circle cx="212.9" cy="279.5" r="4.8"/><circle cx="186.5" cy="285.5" r="7"/><circle cx="156" cy="293" r="6.7"/><circle cx="192.4" cy="281.2" r="10.7"/><circle cx="164.1" cy="249.5" r="10.5"/><circle cx="182" cy="273.5" r="4.5"/><circle cx="167.4" cy="228.2" r="5.2"/><circle cx="181.1" cy="241.5" r="7.2"/><circle cx="203.8" cy="215.8" r="7.9"/><circle cx="173.3" cy="221.5" r="6.7"/><circle cx="174.7" cy="255.9" r="4.9"/><circle cx="154.3" cy="205.1" r="9.2"/><circle cx="208.9" cy="256.4" r="9"/><circle cx="142.9" cy="294.9" r="7.4"/><circle cx="193.5" cy="269.1" r="6.1"/><circle cx="188.5" cy="216.2" r="10.5"/><circle cx="222.2" cy="298.7" r="10.6"/><circle cx="189" cy="213.2" r="4.8"/><circle cx="131.2" cy="291" r="7.8"/><circle cx="167.6" cy="231.1" r="10.3"/><circle cx="181.2" cy="216.1" r="6.5"/><circle cx="214.1" cy="279.8" r="10.7"/><circle cx="183.4" cy="273.5" r="9.2"/><circle cx="136.7" cy="229" r="10.7"/><circle cx="140.5" cy="277.9" r="4.8"/><circle cx="126.8" cy="273.6" r="6.9"/><circle cx="188.7" cy="236.8" r="8.8"/><circle cx="211.4" cy="297.1" r="9.2"/><circle cx="129" cy="242.7" r="7.6"/></g><g fill="#9a48be" opacity="0.5"><circle cx="198.3" cy="208" r="6.5"/><circle cx="191.9" cy="289" r="4.2"/><circle cx="154.8" cy="246.9" r="3.4"/><circle cx="221.7" cy="279.6" r="5.3"/><circle cx="194.7" cy="243.9" r="8.7"/><circle cx="138.1" cy="247.6" r="7.9"/><circle cx="194.8" cy="218.9" r="8.9"/><circle cx="215.1" cy="287.1" r="3.8"/><circle cx="220" cy="285.5" r="6.5"/><circle cx="136.5" cy="284" r="7"/><circle cx="193.8" cy="220.6" r="4.8"/><circle cx="140.6" cy="211.6" r="6.8"/><circle cx="158" cy="302.5" r="8.1"/><circle cx="178.1" cy="208.5" r="5.8"/><circle cx="171.6" cy="210.6" r="8.5"/><circle cx="205.4" cy="249.5" r="7.7"/><circle cx="183.3" cy="263.6" r="4"/><circle cx="206.9" cy="239.9" r="3.4"/><circle cx="187.7" cy="235.7" r="5.9"/><circle cx="171.6" cy="223.1" r="3.2"/><circle cx="183.2" cy="224.3" r="8.4"/><circle cx="186.6" cy="274.3" r="6.3"/><circle cx="214.9" cy="209.3" r="6.4"/><circle cx="154.8" cy="209.7" r="8.3"/><circle cx="180.7" cy="277.9" r="7.5"/><circle cx="132.3" cy="254.4" r="5.1"/><circle cx="127.7" cy="265.6" r="7.1"/><circle cx="180.8" cy="233.4" r="4.9"/><circle cx="175.5" cy="245" r="7.1"/><circle cx="157" cy="289" r="6.7"/><circle cx="192.9" cy="239.1" r="5.4"/><circle cx="212.6" cy="298.8" r="7.7"/><circle cx="203.5" cy="303.2" r="3.8"/><circle cx="154.2" cy="241.1" r="5.1"/><circle cx="147.9" cy="212.9" r="8"/><circle cx="176.6" cy="265.1" r="8"/><circle cx="134" cy="247.2" r="5.8"/><circle cx="161.5" cy="234.6" r="8.8"/><circle cx="129" cy="247.4" r="7.9"/><circle cx="196.7" cy="205.5" r="3.6"/></g></g>
<g filter="url(#soft)"><path d="M183.2,285.8 Q184,288.4 192.9,287 Q201.8,285.5 205.3,281.2 Q208.8,276.9 208.2,274.9 Q207.6,272.9 203.7,270 Q199.8,267 195.8,268.9 Q191.9,270.8 187.1,277 Q182.3,283.3 183.2,285.8Z" stroke="#8a3cb0" stroke-width="0.5" fill="#d4a6e6" opacity="0.6"/><path d="M197.7,307.2 Q196.4,305.7 196.4,304.1 Q196.5,302.5 201.8,303.2 Q207.1,303.8 208.1,304.8 Q209.1,305.7 208.1,308.4 Q207.2,311.1 203.1,309.9 Q199,308.6 197.7,307.2Z" stroke="#8a3cb0" stroke-width="0.6" fill="#b068cc" opacity="0.6"/><path d="M219.5,284.9 Q224.4,288.2 235,285.3 Q245.7,282.4 233.3,273.2 Q220.9,263.9 214.8,268.4 Q208.8,272.9 209.4,274.9 Q210,276.9 212.3,279.2 Q214.6,281.5 219.5,284.9Z" stroke="#8a3cb0" stroke-width="0.8" fill="#b068cc" opacity="0.6"/><path d="M165.5,218.7 Q164.7,224.1 170.6,222.8 Q176.4,221.5 178.8,218.7 Q181.1,216 177.8,212 Q174.6,207.9 170.4,210.6 Q166.3,213.3 165.5,218.7Z" stroke="#8a3cb0" stroke-width="0.8" fill="#bc78d4" opacity="0.6"/><path d="M168.1,262.8 Q168,256.7 176.6,251.7 Q185.3,246.7 188.9,246.7 Q192.6,246.7 195.9,256.4 Q199.2,266.1 195.2,268 Q191.3,269.8 179.8,269.3 Q168.3,268.8 168.1,262.8Z" stroke="#8a3cb0" stroke-width="0.4" fill="#bc78d4" opacity="0.6"/><path d="M138.9,306.3 Q137.3,301.3 138.3,299.4 Q139.4,297.4 144.8,294.6 Q150.2,291.8 149.1,300.7 Q147.9,309.6 144.2,310.4 Q140.5,311.2 138.9,306.3Z" stroke="#8a3cb0" stroke-width="0.7" fill="#b068cc" opacity="0.6"/><path d="M202,204 Q205.4,202 210.6,209.8 Q215.8,217.6 208.9,224 Q201.9,230.4 198.6,225.6 Q195.3,220.9 197,213.4 Q198.6,206 202,204Z" stroke="#8a3cb0" stroke-width="0.4" fill="#cc9ce0" opacity="0.6"/><path d="M214.4,205.8 Q212.1,194.5 209,198 Q205.9,201.6 211.1,209.4 Q216.3,217.2 216.4,217.1 Q216.6,217 214.4,205.8Z" stroke="#8a3cb0" stroke-width="0.5" fill="#d4a6e6" opacity="0.6"/><path d="M140.3,226.1 Q136.2,231.7 129.8,225.6 Q123.4,219.6 126.4,213.7 Q129.4,207.7 133.1,206.2 Q136.9,204.6 137.7,204.4 Q138.5,204.1 141.4,212.4 Q144.3,220.6 140.3,226.1Z" stroke="#8a3cb0" stroke-width="0.6" fill="#b068cc" opacity="0.6"/><path d="M179.7,282.9 Q178,282.7 172.4,277.2 Q166.8,271.6 167.4,270.6 Q167.9,269.6 179.4,270.1 Q190.9,270.6 186.1,276.9 Q181.3,283.2 179.7,282.9Z" stroke="#8a3cb0" stroke-width="0.4" fill="#d4a6e6" opacity="0.6"/><path d="M133.4,303.7 Q136.9,301.7 138.5,306.6 Q140.2,311.6 139.2,315.7 Q138.2,319.8 134,312.8 Q129.8,305.8 133.4,303.7Z" stroke="#8a3cb0" stroke-width="0.7" fill="#cc9ce0" opacity="0.6"/><path d="M197.4,307.4 Q196.1,306 193.1,310.8 Q190.2,315.6 196,315.9 Q201.7,316.2 200.2,312.5 Q198.7,308.9 197.4,307.4Z" stroke="#8a3cb0" stroke-width="0.4" fill="#cc9ce0" opacity="0.6"/><path d="M148.7,192 Q147.8,193.4 150.8,204.9 Q153.8,216.4 156.7,214.6 Q159.6,212.7 154.6,201.7 Q149.5,190.6 148.7,192Z" stroke="#8a3cb0" stroke-width="0.4" fill="#bc78d4" opacity="0.6"/><path d="M118.9,193.1 Q119.6,187.8 128,195.8 Q136.4,203.8 132.7,205.4 Q129,207 123.6,202.6 Q118.2,198.3 118.9,193.1Z" stroke="#8a3cb0" stroke-width="0.4" fill="#b068cc" opacity="0.6"/><path d="M128.8,267.7 Q127.8,266.3 128.4,264.7 Q129.1,263.1 131.2,260.6 Q133.4,258.1 135,258.1 Q136.7,258 142.7,258.7 Q148.7,259.4 152.3,268.9 Q155.9,278.4 153.9,281.3 Q152,284.2 140.9,276.6 Q129.8,269.1 128.8,267.7Z" stroke="#8a3cb0" stroke-width="0.7" fill="#cc9ce0" opacity="0.6"/><path d="M156.3,224.3 Q160.8,228.4 160.9,229.3 Q161,230.1 149,231.8 Q137,233.5 137,232.9 Q136.9,232.3 141,226.8 Q145,221.2 148.5,220.7 Q151.9,220.2 156.3,224.3Z" stroke="#8a3cb0" stroke-width="0.5" fill="#c88ede" opacity="0.6"/><path d="M221.7,261.5 Q220.5,262.8 214.4,267.2 Q208.4,271.7 204.5,268.8 Q200.6,265.9 197.3,256.2 Q194,246.5 198.2,239.7 Q202.4,232.9 212.6,237.1 Q222.8,241.3 223.9,247.6 Q225,253.9 224,257.1 Q223,260.3 221.7,261.5Z" stroke="#8a3cb0" stroke-width="0.7" fill="#d4a6e6" opacity="0.6"/><path d="M143.3,257.9 Q137.3,257.2 146.2,250.6 Q155,244 155.9,244.2 Q156.7,244.4 158.5,248.7 Q160.3,252.9 154.8,255.8 Q149.3,258.6 143.3,257.9Z" stroke="#8a3cb0" stroke-width="0.7" fill="#bc78d4" opacity="0.6"/><path d="M196.1,300.9 Q195.6,300 198.9,293.1 Q202.2,286.2 205.6,281.9 Q209.1,277.6 211.4,279.9 Q213.8,282.2 210.5,292.7 Q207.2,303.1 201.9,302.4 Q196.6,301.8 196.1,300.9Z" stroke="#8a3cb0" stroke-width="0.5" fill="#b068cc" opacity="0.6"/><path d="M153.4,268.8 Q149.8,259.3 155.3,256.4 Q160.8,253.6 163.8,255.3 Q166.8,257 167,263 Q167.1,269.1 166.6,270.1 Q166,271.1 161.5,274.7 Q157,278.3 153.4,268.8Z" stroke="#8a3cb0" stroke-width="0.6" fill="#b068cc" opacity="0.6"/><path d="M141,277.6 Q130,270.1 129.1,280.4 Q128.3,290.7 133.8,293.7 Q139.4,296.6 144.8,293.9 Q150.2,291.1 151.3,290.1 Q152.5,289.1 152.3,287.2 Q152.1,285.2 141,277.6Z" stroke="#8a3cb0" stroke-width="0.7" fill="#bc78d4" opacity="0.6"/><path d="M162.5,233.6 Q162.5,233.2 161.8,231.8 Q161.2,230.5 149.2,232.2 Q137.3,234 137.2,234.1 Q137.2,234.3 146.2,238.8 Q155.1,243.3 155.9,243.5 Q156.8,243.7 159.7,238.9 Q162.6,234.1 162.5,233.6Z" stroke="#8a3cb0" stroke-width="0.5" fill="#bc78d4" opacity="0.6"/><path d="M171.4,304.6 Q172.3,304.1 177.6,296.8 Q182.9,289.5 182.9,289.4 Q183,289.2 182.1,286.7 Q181.2,284.1 179.6,283.9 Q177.9,283.7 170.2,289.8 Q162.5,295.9 165.9,300 Q169.2,304.2 169.9,304.7 Q170.5,305.1 171.4,304.6Z" stroke="#8a3cb0" stroke-width="0.5" fill="#cc9ce0" opacity="0.6"/><path d="M128,268.2 Q127,266.9 126,267.2 Q124.9,267.5 119.7,275.2 Q114.5,282.9 116.9,288.3 Q119.3,293.8 123.3,292 Q127.3,290.3 128.2,280 Q129.1,269.6 128,268.2Z" stroke="#8a3cb0" stroke-width="0.8" fill="#d4a6e6" opacity="0.6"/><path d="M208.9,304.3 Q209.9,305.2 215,305.3 Q220.2,305.4 221.9,302.7 Q223.6,299.9 224,295.2 Q224.3,290.6 224.2,289.9 Q224.2,289.2 219.3,285.8 Q214.4,282.4 211.2,292.9 Q207.9,303.4 208.9,304.3Z" stroke="#8a3cb0" stroke-width="0.8" fill="#c88ede" opacity="0.6"/><path d="M135.8,233.1 Q135.9,233.7 135.9,233.9 Q135.9,234.1 135.3,235.1 Q134.7,236.2 124.7,237.8 Q114.7,239.4 108.4,236.3 Q102.1,233.2 112.3,226.8 Q122.4,220.5 122.7,220.5 Q122.9,220.4 129.3,226.5 Q135.7,232.5 135.8,233.1Z" stroke="#8a3cb0" stroke-width="0.6" fill="#b068cc" opacity="0.6"/><path d="M192.6,310.6 Q195.6,305.8 195.6,304.2 Q195.7,302.6 195.2,301.7 Q194.7,300.8 194.7,300.8 Q194.6,300.7 183.7,302.7 Q172.8,304.7 172,305.3 Q171.1,305.8 174.4,316.6 Q177.6,327.4 183.7,321.4 Q189.7,315.4 192.6,310.6Z" stroke="#8a3cb0" stroke-width="0.5" fill="#cc9ce0" opacity="0.6"/><path d="M164.9,300.4 Q168.3,304.5 160.1,309.3 Q151.8,314 150.2,311.8 Q148.5,309.5 149.7,300.6 Q150.9,291.8 152,290.8 Q153.1,289.8 157.3,293 Q161.5,296.2 164.9,300.4Z" stroke="#8a3cb0" stroke-width="0.7" fill="#c88ede" opacity="0.6"/><path d="M179.9,236.3 Q175.2,228.2 176.2,225.2 Q177.2,222.2 179.6,219.5 Q181.9,216.8 188.2,219.2 Q194.6,221.7 197.9,226.4 Q201.1,231.2 201.2,231.5 Q201.2,231.8 197,238.6 Q192.8,245.4 189.2,245.3 Q185.5,245.3 185,244.9 Q184.5,244.5 179.9,236.3Z" stroke="#8a3cb0" stroke-width="0.6" fill="#bc78d4" opacity="0.6"/><path d="M150.6,205.3 Q147.6,193.8 143.4,198.8 Q139.1,203.9 142.1,212.2 Q145,220.4 148.4,219.9 Q151.8,219.3 152.7,218 Q153.6,216.8 150.6,205.3Z" stroke="#8a3cb0" stroke-width="0.5" fill="#bc78d4" opacity="0.6"/><path d="M122.4,219.4 Q122.1,219.4 115,212.5 Q107.8,205.7 112.8,202.3 Q117.9,198.8 123.3,203.2 Q128.7,207.5 125.7,213.4 Q122.6,219.4 122.4,219.4Z" stroke="#8a3cb0" stroke-width="0.5" fill="#c88ede" opacity="0.6"/><path d="M157.1,215.4 Q154.2,217.2 153.3,218.5 Q152.4,219.7 156.9,223.9 Q161.3,228 162.7,226.1 Q164.1,224.2 164.9,218.8 Q165.7,213.4 162.8,213.5 Q160,213.5 157.1,215.4Z" stroke="#8a3cb0" stroke-width="0.7" fill="#d4a6e6" opacity="0.6"/><path d="M178,297 Q172.7,304.2 183.6,302.2 Q194.4,300.3 188.9,295 Q183.4,289.7 178,297Z" stroke="#8a3cb0" stroke-width="0.6" fill="#d4a6e6" opacity="0.6"/><path d="M173.5,239.9 Q183.6,245.2 184.1,245.6 Q184.6,246 175.9,251.1 Q167.2,256.1 164.2,254.4 Q161.2,252.7 159.4,248.4 Q157.6,244.2 160.5,239.4 Q163.4,234.6 173.5,239.9Z" stroke="#8a3cb0" stroke-width="0.6" fill="#cc9ce0" opacity="0.6"/><path d="M120.9,302.6 Q124.2,306.9 123,310.6 Q121.9,314.2 116.2,310.5 Q110.4,306.9 114,302.6 Q117.5,298.3 117.6,298.3 Q117.6,298.3 120.9,302.6Z" stroke="#8a3cb0" stroke-width="0.8" fill="#b068cc" opacity="0.6"/><path d="M214.4,190.7 Q216.3,187.1 220.1,200.8 Q223.9,214.4 220.4,215.6 Q216.9,216.8 214.6,205.5 Q212.4,194.3 214.4,190.7Z" stroke="#8a3cb0" stroke-width="0.5" fill="#bc78d4" opacity="0.6"/><path d="M200.6,312.7 Q199.1,309.1 203.2,310.3 Q207.2,311.5 207.8,316.8 Q208.5,322.1 205.3,319.2 Q202.1,316.3 200.6,312.7Z" stroke="#8a3cb0" stroke-width="0.6" fill="#d4a6e6" opacity="0.6"/><path d="M183.8,289.3 Q183.8,289.5 189.3,294.7 Q194.9,300 194.9,300 Q195,300 198.3,293.1 Q201.5,286.3 192.7,287.7 Q183.8,289.2 183.8,289.3Z" stroke="#8a3cb0" stroke-width="0.6" fill="#c88ede" opacity="0.6"/><path d="M130.5,259.7 Q132.7,257.3 133.7,247.2 Q134.7,237.1 124.7,238.7 Q114.7,240.4 116.6,245.1 Q118.5,249.9 123.5,256.1 Q128.4,262.2 130.5,259.7Z" stroke="#8a3cb0" stroke-width="0.6" fill="#bc78d4" opacity="0.6"/><path d="M132.9,303.2 Q136.5,301.2 137.6,299.2 Q138.7,297.2 133.1,294.3 Q127.5,291.3 123.5,293.1 Q119.5,294.8 118.8,296.4 Q118.1,298 121.4,302.3 Q124.7,306.6 127,305.9 Q129.4,305.3 132.9,303.2Z" stroke="#8a3cb0" stroke-width="0.4" fill="#b068cc" opacity="0.6"/><path d="M135,257 Q136.7,256.9 145.5,250.3 Q154.4,243.8 145.5,239.3 Q136.5,234.8 136,235.8 Q135.4,236.9 134.4,247 Q133.4,257.1 135,257Z" stroke="#8a3cb0" stroke-width="0.5" fill="#d4a6e6" opacity="0.6"/><path d="M169.5,289.2 Q161.8,295.3 157.6,292.1 Q153.4,289 153.3,287 Q153.1,285.1 155,282.2 Q157,279.3 161.5,275.7 Q166,272 171.6,277.6 Q177.3,283.1 169.5,289.2Z" stroke="#8a3cb0" stroke-width="0.5" fill="#d4a6e6" opacity="0.6"/><path d="M168.7,230.4 Q174.2,228 175.2,225 Q176.1,222 170.3,223.3 Q164.5,224.6 163.1,226.5 Q161.7,228.4 161.8,229.3 Q161.9,230.1 162.5,231.4 Q163.1,232.7 168.7,230.4Z" stroke="#8a3cb0" stroke-width="0.6" fill="#d4a6e6" opacity="0.6"/><path d="M179,236.5 Q174.4,228.4 168.9,230.7 Q163.4,233.1 163.4,233.6 Q163.5,234.1 173.5,239.3 Q183.6,244.6 179,236.5Z" stroke="#8a3cb0" stroke-width="0.8" fill="#cc9ce0" opacity="0.6"/><g fill="#f2e6f8" opacity="0.8"><circle cx="215.5" cy="257.5" r="0.7"/><circle cx="160" cy="294.6" r="0.7"/><circle cx="152.7" cy="207.4" r="1.7"/><circle cx="158.5" cy="211.5" r="1"/><circle cx="143.5" cy="246.7" r="1.3"/><circle cx="189" cy="212.9" r="1.2"/><circle cx="128.7" cy="247.5" r="1.6"/><circle cx="149.4" cy="285.8" r="0.9"/><circle cx="162.5" cy="282.8" r="0.6"/><circle cx="178.6" cy="257.1" r="1.5"/><circle cx="218" cy="272.9" r="0.9"/><circle cx="143" cy="251.6" r="0.9"/><circle cx="178.5" cy="212.2" r="1.4"/><circle cx="164.8" cy="208.2" r="0.7"/><circle cx="216.7" cy="288.5" r="1.7"/><circle cx="162.1" cy="302" r="0.8"/><circle cx="195.8" cy="297.8" r="0.9"/><circle cx="123.5" cy="215.9" r="0.7"/><circle cx="203.5" cy="264.1" r="1.2"/><circle cx="134.6" cy="267.7" r="0.8"/><circle cx="136.5" cy="262.8" r="1.4"/><circle cx="203.3" cy="286.2" r="0.8"/><circle cx="153.5" cy="217.6" r="1.2"/><circle cx="125.9" cy="290.3" r="1.4"/><circle cx="204" cy="252.2" r="1.7"/><circle cx="206.7" cy="286.4" r="1.6"/><circle cx="144.7" cy="237.9" r="0.7"/><circle cx="199.6" cy="250.7" r="1.8"/><circle cx="152.1" cy="246.5" r="1.6"/><circle cx="220.1" cy="279.2" r="1.7"/><circle cx="215.6" cy="230.5" r="1.3"/><circle cx="129.5" cy="271.1" r="1.7"/><circle cx="173.7" cy="217.8" r="1.3"/><circle cx="129.7" cy="249.5" r="0.7"/><circle cx="164.9" cy="285.3" r="1.5"/><circle cx="208.5" cy="249.1" r="1.1"/><circle cx="128.6" cy="282.4" r="1.3"/><circle cx="163.9" cy="217.8" r="1.2"/><circle cx="129.4" cy="215.2" r="0.7"/><circle cx="165.6" cy="217" r="1.6"/><circle cx="184.2" cy="290.2" r="1.3"/><circle cx="139.1" cy="230.9" r="1.6"/><circle cx="181.6" cy="268.1" r="1.4"/><circle cx="127.9" cy="223.3" r="1.1"/><circle cx="207.6" cy="297.9" r="1.3"/><circle cx="149.1" cy="207.9" r="1.3"/><circle cx="164.1" cy="296.6" r="0.8"/><circle cx="143.6" cy="204.8" r="0.6"/><circle cx="203.9" cy="290.7" r="0.8"/><circle cx="124.6" cy="261.1" r="0.9"/><circle cx="184.6" cy="294.7" r="1.5"/><circle cx="151.1" cy="264.1" r="0.9"/><circle cx="199.1" cy="229.1" r="1.6"/><circle cx="191" cy="292.7" r="1"/><circle cx="218.6" cy="261.7" r="0.9"/><circle cx="187.8" cy="234.4" r="0.7"/><circle cx="127.1" cy="264.5" r="0.9"/><circle cx="133.1" cy="281.2" r="0.8"/><circle cx="198.7" cy="230.6" r="1"/><circle cx="216.4" cy="286.4" r="1.6"/><circle cx="221.2" cy="263.8" r="1.7"/><circle cx="185.4" cy="261.6" r="1"/><circle cx="161.1" cy="260.4" r="0.9"/><circle cx="187.4" cy="289.9" r="1.5"/><circle cx="145.6" cy="206" r="1"/><circle cx="166.6" cy="288.2" r="1.3"/><circle cx="174.9" cy="264" r="1.3"/><circle cx="191" cy="259.2" r="1.3"/><circle cx="146.7" cy="215.6" r="1.1"/><circle cx="211.8" cy="298.3" r="1"/><circle cx="180.6" cy="255.2" r="1.1"/><circle cx="140.9" cy="282.4" r="0.7"/><circle cx="145.9" cy="231.2" r="0.8"/><circle cx="142.5" cy="211.2" r="1.2"/><circle cx="140.3" cy="267.7" r="1.3"/><circle cx="185.6" cy="251.4" r="1.3"/><circle cx="152.7" cy="249.8" r="1.4"/><circle cx="144.7" cy="276.8" r="1.3"/><circle cx="220.7" cy="265.1" r="1.3"/><circle cx="200" cy="232.2" r="1"/><circle cx="166.4" cy="276.9" r="1.5"/><circle cx="141.6" cy="299" r="1.8"/><circle cx="172.7" cy="303.1" r="1.3"/><circle cx="161.6" cy="211.9" r="0.6"/><circle cx="182.3" cy="275.3" r="1.3"/><circle cx="201.5" cy="247" r="1.5"/><circle cx="183.6" cy="266.9" r="1.3"/><circle cx="189.9" cy="259.4" r="0.7"/><circle cx="190.7" cy="273.8" r="1.1"/><circle cx="220.2" cy="251.5" r="0.8"/><circle cx="174.3" cy="239.2" r="0.8"/><circle cx="212" cy="221" r="1.5"/><circle cx="140.1" cy="255.1" r="1.8"/><circle cx="132" cy="289.4" r="0.6"/><circle cx="220.9" cy="294.4" r="1.1"/><circle cx="186.9" cy="249.4" r="0.8"/><circle cx="158.7" cy="247.5" r="1.6"/><circle cx="134.5" cy="257.3" r="1.2"/><circle cx="178.4" cy="282.7" r="1.3"/><circle cx="155.5" cy="299.1" r="1.3"/><circle cx="150.3" cy="258.2" r="1.6"/><circle cx="127.7" cy="268.3" r="1.2"/><circle cx="151.9" cy="219.2" r="0.9"/><circle cx="166.9" cy="245.6" r="1.3"/><circle cx="150.2" cy="265.4" r="1.2"/><circle cx="202.7" cy="284" r="0.9"/><circle cx="220.9" cy="258.1" r="1"/><circle cx="148.6" cy="274.8" r="1.1"/><circle cx="191.5" cy="228.9" r="1.6"/><circle cx="149.6" cy="290.6" r="1.1"/><circle cx="163.2" cy="261.2" r="1.2"/><circle cx="177.9" cy="259.5" r="1.7"/><circle cx="197.5" cy="212.5" r="1.8"/><circle cx="124.7" cy="208.5" r="1.6"/><circle cx="150.7" cy="206.2" r="0.8"/><circle cx="172.7" cy="287.9" r="0.6"/><circle cx="139.7" cy="204.5" r="0.7"/><circle cx="154.6" cy="252.5" r="1.8"/><circle cx="188" cy="289" r="1.3"/><circle cx="214.2" cy="270.8" r="0.9"/><circle cx="160.4" cy="251.4" r="0.7"/><circle cx="215.6" cy="251.7" r="0.8"/><circle cx="172.3" cy="284" r="0.9"/><circle cx="181.9" cy="212.4" r="0.9"/><circle cx="141.9" cy="253.9" r="1.4"/><circle cx="145.9" cy="272.4" r="1.3"/><circle cx="198.3" cy="303.2" r="1"/><circle cx="222.8" cy="248.9" r="1.2"/><circle cx="140.9" cy="211.7" r="1.4"/><circle cx="133.4" cy="206.7" r="0.7"/><circle cx="177.4" cy="222.9" r="0.9"/><circle cx="199.9" cy="248" r="0.8"/><circle cx="191.1" cy="303.1" r="1.3"/><circle cx="167.6" cy="257.2" r="1.4"/><circle cx="207" cy="282.1" r="0.9"/><circle cx="201.2" cy="213.6" r="0.8"/><circle cx="173.9" cy="221.7" r="1.3"/><circle cx="151.5" cy="297.9" r="1.1"/><circle cx="204.7" cy="298.1" r="1.1"/><circle cx="200" cy="252.6" r="1.1"/><circle cx="135.5" cy="269.3" r="1.7"/><circle cx="191.9" cy="235" r="1.2"/><circle cx="158.8" cy="242.5" r="1.5"/><circle cx="123.8" cy="251.5" r="1.2"/><circle cx="137.8" cy="276.7" r="0.9"/><circle cx="163.5" cy="228.1" r="1.3"/><circle cx="166.2" cy="271.9" r="1.1"/><circle cx="201.5" cy="258.5" r="0.7"/><circle cx="172.4" cy="228.6" r="1"/><circle cx="218" cy="251.4" r="1.5"/></g><g fill="#4a2290" opacity="0.8"><ellipse cx="138.7" cy="266.4" rx="1" ry="1"/><ellipse cx="135.9" cy="205.7" rx="1.9" ry="1.4"/><ellipse cx="159.9" cy="204.5" rx="1.6" ry="1.3"/><ellipse cx="127.7" cy="280.2" rx="1" ry="0.9"/><ellipse cx="201" cy="280.2" rx="1.2" ry="1"/><ellipse cx="203.2" cy="263.8" rx="1.2" ry="1.2"/><ellipse cx="129.9" cy="222.1" rx="1.4" ry="1.2"/><ellipse cx="169.2" cy="267.1" rx="1.5" ry="1.2"/><ellipse cx="164.2" cy="287.7" rx="1.6" ry="1.2"/><ellipse cx="221.8" cy="286.3" rx="1.6" ry="1.3"/><ellipse cx="178.4" cy="228.1" rx="1.2" ry="1"/><ellipse cx="147.9" cy="264.7" rx="1.5" ry="1.2"/><ellipse cx="166.1" cy="227.2" rx="1.3" ry="1.1"/><ellipse cx="211.8" cy="235.2" rx="1.2" ry="1.1"/><ellipse cx="166.1" cy="266.7" rx="1.7" ry="1.3"/><ellipse cx="204.1" cy="276" rx="1.6" ry="1.4"/><ellipse cx="167.8" cy="268.6" rx="1.4" ry="1.1"/><ellipse cx="164.9" cy="259.1" rx="1.3" ry="1.2"/><ellipse cx="124.2" cy="231.1" rx="1.6" ry="1.1"/><ellipse cx="136.8" cy="293.8" rx="1.8" ry="1.4"/><ellipse cx="151.1" cy="205.1" rx="1.4" ry="1.3"/><ellipse cx="153" cy="297.5" rx="1.6" ry="1.2"/><ellipse cx="206.5" cy="221.1" rx="1.2" ry="1.2"/><ellipse cx="161" cy="253" rx="1.5" ry="1.3"/><ellipse cx="189.8" cy="217.4" rx="1.1" ry="1"/><ellipse cx="181.2" cy="262.1" rx="1.5" ry="1.3"/><ellipse cx="216.9" cy="275.7" rx="1.6" ry="1.2"/><ellipse cx="141.1" cy="232.5" rx="1.5" ry="1.2"/><ellipse cx="218.7" cy="271.4" rx="1.3" ry="0.9"/><ellipse cx="169.9" cy="223.8" rx="1.6" ry="1.3"/><ellipse cx="208.6" cy="258.6" rx="1.2" ry="1"/><ellipse cx="169.8" cy="238.5" rx="1.3" ry="1.2"/><ellipse cx="148.4" cy="215.1" rx="1.1" ry="0.9"/><ellipse cx="196.9" cy="243.6" rx="1.7" ry="1.4"/><ellipse cx="189" cy="231.9" rx="1.5" ry="1.3"/><ellipse cx="207.7" cy="227.7" rx="1.8" ry="1.4"/><ellipse cx="141" cy="276.7" rx="1.1" ry="1"/><ellipse cx="161" cy="236.8" rx="1.2" ry="1.1"/><ellipse cx="163.2" cy="212.6" rx="1.5" ry="1.3"/><ellipse cx="194.4" cy="246.2" rx="1.9" ry="1.4"/><ellipse cx="193.7" cy="287.6" rx="1.9" ry="1.4"/><ellipse cx="164.5" cy="262.7" rx="1.1" ry="0.9"/><ellipse cx="155.9" cy="265.7" rx="1.2" ry="0.9"/><ellipse cx="130.5" cy="245.6" rx="1.5" ry="1.1"/><ellipse cx="186.4" cy="218" rx="1.3" ry="1.2"/><ellipse cx="184.9" cy="244.7" rx="1.6" ry="1.4"/><ellipse cx="150.3" cy="234.3" rx="1.6" ry="1.4"/><ellipse cx="147.4" cy="256.9" rx="1.7" ry="1.2"/><ellipse cx="131.1" cy="236.3" rx="1.5" ry="1.3"/><ellipse cx="192.3" cy="270.9" rx="1" ry="0.9"/><ellipse cx="140.8" cy="233.7" rx="1.1" ry="1"/><ellipse cx="134.5" cy="205.8" rx="1.5" ry="1.2"/><ellipse cx="139.1" cy="212.7" rx="1.3" ry="1.3"/><ellipse cx="137.1" cy="252.5" rx="1.4" ry="1"/><ellipse cx="173.8" cy="255.7" rx="1.1" ry="1.1"/><ellipse cx="205.3" cy="242.3" rx="1.4" ry="1.3"/><ellipse cx="166.4" cy="257.4" rx="1" ry="1"/><ellipse cx="216.7" cy="297.4" rx="1.7" ry="1.4"/><ellipse cx="196.5" cy="263.6" rx="1.2" ry="1.1"/><ellipse cx="187.4" cy="247.7" rx="1.3" ry="1.2"/><ellipse cx="152.5" cy="214.5" rx="1.5" ry="1.3"/><ellipse cx="151.7" cy="281.7" rx="1.3" ry="1.2"/><ellipse cx="162.4" cy="203.4" rx="0.9" ry="0.9"/><ellipse cx="219.4" cy="291.4" rx="1.6" ry="1.2"/><ellipse cx="177.1" cy="271.6" rx="1.1" ry="1"/><ellipse cx="184.3" cy="244.3" rx="1.4" ry="1.2"/><ellipse cx="188.6" cy="224.1" rx="1.3" ry="1.1"/><ellipse cx="175.8" cy="208.7" rx="1.3" ry="1"/><ellipse cx="139.7" cy="251" rx="1.7" ry="1.4"/><ellipse cx="196.6" cy="280.6" rx="1.6" ry="1.4"/><ellipse cx="162.7" cy="279" rx="1.1" ry="0.9"/><ellipse cx="150.3" cy="259.1" rx="1.7" ry="1.3"/><ellipse cx="173.8" cy="272.6" rx="1.2" ry="0.9"/><ellipse cx="216.2" cy="265" rx="1.4" ry="1.1"/><ellipse cx="164.3" cy="221.2" rx="1.3" ry="1"/><ellipse cx="174.7" cy="207.1" rx="1.6" ry="1.2"/><ellipse cx="188.3" cy="221.3" rx="1.5" ry="1.4"/><ellipse cx="174" cy="249.4" rx="1.1" ry="1"/><ellipse cx="141.8" cy="220" rx="1.2" ry="0.9"/><ellipse cx="189.8" cy="228.5" rx="1.6" ry="1.4"/></g><circle cx="145.3" cy="236.6" r="5.6" fill="#fdfbfe"/><circle cx="165.4" cy="241" r="5.9" fill="#fdfbfe"/><circle cx="178.2" cy="231.3" r="4.8" fill="#fdfbfe"/><circle cx="184.6" cy="238.5" r="4" fill="#fdfbfe"/><circle cx="173.1" cy="248.2" r="4.5" fill="#fdfbfe"/><circle cx="148.2" cy="253.8" r="5.1" fill="#fdfbfe"/><circle cx="187.9" cy="262.3" r="6.4" fill="#fdfbfe"/><circle cx="200.7" cy="262.3" r="4.8" fill="#fdfbfe"/><circle cx="164.6" cy="281.1" r="4.8" fill="#fdfbfe"/><circle cx="183.8" cy="284.3" r="4.3" fill="#fdfbfe"/><circle cx="177.4" cy="275.8" r="3.5" fill="#fdfbfe"/><circle cx="151.7" cy="273.5" r="3.5" fill="#fdfbfe"/><circle cx="188.7" cy="294.4" r="4" fill="#fdfbfe"/><circle cx="174.2" cy="290.7" r="3.5" fill="#fdfbfe"/><circle cx="138.9" cy="245.3" r="3.5" fill="#fdfbfe"/><circle cx="144.5" cy="210.9" r="3.2" fill="#fdfbfe"/><circle cx="157.3" cy="254.6" r="2.9" fill="#fdfbfe"/><circle cx="215.2" cy="245.8" r="2.9" fill="#fdfbfe"/><circle cx="211.1" cy="267.4" r="2.9" fill="#fdfbfe"/><circle cx="127.6" cy="283.5" r="3.2" fill="#fdfbfe"/><circle cx="192.7" cy="241" r="2.4" fill="#fdfbfe"/><circle cx="184.6" cy="273.1" r="2.9" fill="#fdfbfe"/><circle cx="192.7" cy="277.9" r="2.9" fill="#fdfbfe"/><circle cx="173.4" cy="282.7" r="2.6" fill="#fdfbfe"/><circle cx="127.6" cy="238.5" r="2.4" fill="#fdfbfe"/><circle cx="146.9" cy="267.4" r="2.4" fill="#fdfbfe"/><circle cx="157.3" cy="228.1" r="2.2" fill="#fdfbfe"/><circle cx="205" cy="275" r="2.2" fill="#fdfbfe"/><circle cx="133" cy="262" r="2" fill="#fdfbfe"/><circle cx="160" cy="265" r="2" fill="#fdfbfe"/><circle cx="196" cy="287" r="2.2" fill="#fdfbfe"/><circle cx="140" cy="292" r="2.4" fill="#fdfbfe"/><circle cx="214" cy="228" r="2" fill="#fdfbfe"/><circle cx="205" cy="212" r="1.8" fill="#fdfbfe"/><circle cx="130" cy="225" r="1.8" fill="#fdfbfe"/><ellipse cx="136" cy="217.5" rx="9" ry="2.6" fill="#fbf6fc" transform="rotate(8 136 217.5)"/></g>
</g>
<rect x="201.3" y="299.3" width="19" height="2.6" fill="#000" stroke="none" stroke-width="0.8"/>
<rect x="123.1" y="203.2" width="100.1" height="100.4" fill="none" stroke="#111" stroke-width="1.3"/>
<g clip-path="url(#cp3)">
<rect x="18.2" y="308" width="101.2" height="100.4" fill="#f8f6f5" stroke="none" stroke-width="0.8"/>
<g filter="url(#soft)"><path d="M78.6,333.5 Q79.6,334 79.6,334.1 Q79.6,334.2 74.1,342.8 Q68.6,351.5 67.7,351.8 Q66.9,352.1 63.7,346.6 Q60.5,341.1 60.5,340.4 Q60.5,339.7 69.1,336.3 Q77.7,332.9 78.6,333.5Z" stroke="#fcfbfa" stroke-width="0.9" fill="#f7f5f3"/><path d="M20.5,412.1 Q23.9,410.6 26,404.1 Q28.1,397.6 28,397.3 Q27.9,397.1 19.8,400.6 Q11.7,404.1 10.5,405.7 Q9.3,407.3 13.2,410.4 Q17,413.6 20.5,412.1Z" stroke="#fcfbfa" stroke-width="0.9" fill="#f6f4f2"/><path d="M113.4,307.2 Q113.4,306.7 116.8,304.2 Q120.2,301.7 122.3,303.2 Q124.3,304.8 118.9,306.2 Q113.4,307.6 113.4,307.2Z" stroke="#fcfbfa" stroke-width="0.9" fill="#f6f4f2"/><path d="M83.1,380.5 Q81.4,382.5 77.7,383.3 Q74.1,384.1 70.4,379.8 Q66.8,375.5 68.3,372.9 Q69.8,370.3 74.6,368.5 Q79.4,366.6 81.3,368.8 Q83.2,371.1 84,374.8 Q84.8,378.6 83.1,380.5Z" stroke="#fcfbfa" stroke-width="0.9" fill="#f5f3f1"/><path d="M92.6,358.1 Q97.1,361.2 98,361.4 Q98.9,361.5 100.2,358.5 Q101.5,355.4 95.2,347.3 Q88.8,339.3 88.5,339.2 Q88.1,339.2 88.1,347.1 Q88,355 92.6,358.1Z" stroke="#fcfbfa" stroke-width="0.9" fill="#f5f3f1"/><path d="M94.9,314.7 Q93.9,310.6 98.2,310.2 Q102.4,309.9 104.7,311.5 Q107,313.1 103.3,316.3 Q99.5,319.5 97.7,319.2 Q95.9,318.9 94.9,314.7Z" stroke="#fcfbfa" stroke-width="0.9" fill="#f7f5f3"/><path d="M21.3,314.6 Q21.5,315.2 22.7,316.1 Q23.9,317.1 32.3,314.6 Q40.7,312.2 42.6,304.8 Q44.5,297.3 44.5,297.1 Q44.5,297 35.2,300.2 Q25.8,303.3 23.5,308.7 Q21.1,314 21.3,314.6Z" stroke="#fcfbfa" stroke-width="0.9" fill="#f5f3f1"/><path d="M69.3,416 Q70.1,416.8 71.9,413.7 Q73.8,410.6 72.7,407.8 Q71.6,405 70.1,410.1 Q68.5,415.1 69.3,416Z" stroke="#fcfbfa" stroke-width="0.9" fill="#f5f3f1"/><path d="M84.9,389.5 Q88.3,395.5 88.3,398.9 Q88.4,402.2 79.7,401.4 Q71,400.5 69.3,399.4 Q67.6,398.4 70.9,391.8 Q74.2,385.3 77.8,384.4 Q81.4,383.6 84.9,389.5Z" stroke="#fcfbfa" stroke-width="0.9" fill="#f5f3f1"/><path d="M62.8,399.7 Q64.5,398.7 57.9,388.1 Q51.4,377.6 49.3,385.9 Q47.2,394.2 48,395.6 Q48.9,396.9 55,398.9 Q61.2,400.8 62.8,399.7Z" stroke="#fcfbfa" stroke-width="0.9" fill="#f7f5f3"/><path d="M22,317.3 Q20.7,316.3 12.7,322.5 Q4.7,328.7 12.3,334.6 Q19.8,340.6 24.5,335.4 Q29.1,330.3 26.2,324.3 Q23.2,318.2 22,317.3Z" stroke="#fcfbfa" stroke-width="0.9" fill="#f6f4f2"/><path d="M97.8,387 Q89,394.9 85.6,388.9 Q82.2,383 83.9,381 Q85.7,379.1 96.1,379.1 Q106.5,379.1 97.8,387Z" stroke="#fcfbfa" stroke-width="0.9" fill="#f7f5f3"/><path d="M48.5,328.1 Q48.5,329 48.4,329.1 Q48.3,329.3 45.4,331.7 Q42.5,334.1 36.4,332.2 Q30.4,330.2 27.5,324.2 Q24.5,318.1 32.9,315.7 Q41.3,313.2 43.7,316.4 Q46.2,319.5 47.4,323.4 Q48.5,327.2 48.5,328.1Z" stroke="#fcfbfa" stroke-width="0.9" fill="#f5f3f1"/><path d="M47,395.8 Q47.8,397.2 43.5,402.5 Q39.1,407.7 34.1,402.4 Q29.2,397.1 29.1,396.9 Q29,396.6 29.4,393.7 Q29.8,390.7 38,392.6 Q46.1,394.4 47,395.8Z" stroke="#fcfbfa" stroke-width="0.9" fill="#f6f4f2"/><path d="M35,411.9 Q39.1,410.2 39,409.3 Q38.8,408.4 33.9,403.1 Q28.9,397.8 26.8,404.3 Q24.7,410.8 27.8,412.2 Q30.9,413.6 35,411.9Z" stroke="#fcfbfa" stroke-width="0.9" fill="#f5f3f1"/><path d="M56.1,362.8 Q49.2,370.7 43.7,364.1 Q38.1,357.5 41,352.7 Q43.9,347.9 47,348.5 Q50.1,349 56.5,351.9 Q63,354.8 56.1,362.8Z" stroke="#fcfbfa" stroke-width="0.9" fill="#f5f3f1"/><path d="M120.3,310.9 Q127.2,313.3 127.6,309.2 Q128,305.2 126.3,305.1 Q124.6,304.9 119.1,306.4 Q113.6,307.8 113.5,308.2 Q113.5,308.6 120.3,310.9Z" stroke="#fcfbfa" stroke-width="0.9" fill="#f5f3f1"/><path d="M77.8,302.9 Q79.2,302.6 81.6,304.7 Q84,306.8 84.7,308 Q85.5,309.2 82.8,310.2 Q80,311.1 78.2,307.1 Q76.4,303.2 77.8,302.9Z" stroke="#fcfbfa" stroke-width="0.9" fill="#f6f4f2"/><path d="M73.3,407.5 Q74.4,410.3 76.6,412.4 Q78.8,414.5 83.6,412.2 Q88.4,409.9 89.4,407.5 Q90.5,405.1 89.5,404.1 Q88.5,403 79.8,402.1 Q71.1,401.3 71.6,403 Q72.2,404.7 73.3,407.5Z" stroke="#fcfbfa" stroke-width="0.9" fill="#f6f4f2"/><path d="M19.6,363.1 Q12.8,364.4 11.5,362 Q10.3,359.5 11.3,357.4 Q12.3,355.2 15.8,353.3 Q19.3,351.5 23.6,355.1 Q27.9,358.7 27.2,360.2 Q26.5,361.8 19.6,363.1Z" stroke="#fcfbfa" stroke-width="0.9" fill="#f6f4f2"/><path d="M69.8,409.6 Q68.2,414.6 63.6,412 Q58.9,409.3 60.4,405.3 Q61.9,401.4 63.5,400.4 Q65.1,399.3 66,399.1 Q66.8,399 68.5,400 Q70.2,401.1 70.8,402.8 Q71.3,404.6 69.8,409.6Z" stroke="#fcfbfa" stroke-width="0.9" fill="#f5f3f1"/><path d="M63.1,347.2 Q59.9,341.7 55.4,345.2 Q50.8,348.7 57.3,351.6 Q63.7,354.4 63.9,354.4 Q64.1,354.4 65.2,353.5 Q66.3,352.7 63.1,347.2Z" stroke="#fcfbfa" stroke-width="0.9" fill="#f7f5f3"/><path d="M85.2,308.1 Q86,309.3 87,309.8 Q88,310.4 89.9,309.7 Q91.8,309 91.9,307.8 Q92.1,306.6 90.9,304.1 Q89.7,301.6 87,304.2 Q84.4,306.9 85.2,308.1Z" stroke="#fcfbfa" stroke-width="0.9" fill="#f6f4f2"/><path d="M82.2,316 Q79.7,313.1 77.9,314 Q76.2,314.9 76.3,322.6 Q76.4,330.2 77.3,331.1 Q78.3,331.9 79.2,332.5 Q80.1,333 82.5,328.9 Q84.9,324.8 84.8,321.9 Q84.8,319 82.2,316Z" stroke="#fcfbfa" stroke-width="0.9" fill="#f6f4f2"/><path d="M78.4,417.6 Q77.8,420.1 83.4,418.3 Q89,416.4 88.8,413.4 Q88.5,410.4 83.8,412.7 Q79,415.1 78.4,417.6Z" stroke="#fcfbfa" stroke-width="0.9" fill="#f5f3f1"/><path d="M82.9,310.5 Q80.1,311.5 80,311.9 Q79.9,312.4 82.4,315.4 Q85,318.3 86.3,314.5 Q87.7,310.7 86.7,310.1 Q85.7,309.6 82.9,310.5Z" stroke="#fcfbfa" stroke-width="0.9" fill="#f5f3f1"/><path d="M26,366.3 Q27.4,362.5 28.1,361 Q28.8,359.4 33,358.9 Q37.2,358.3 42.8,365 Q48.3,371.6 48.5,372.6 Q48.8,373.6 38.6,379.3 Q28.4,385 27.3,384.2 Q26.3,383.4 25.5,376.7 Q24.7,370 26,366.3Z" stroke="#fcfbfa" stroke-width="0.9" fill="#f6f4f2"/><path d="M96.5,378.4 Q106.9,378.4 107.3,378.3 Q107.6,378.2 107.1,375.9 Q106.6,373.6 102.9,368.2 Q99.1,362.8 98.3,362.6 Q97.4,362.4 90.9,366.6 Q84.5,370.8 85.3,374.6 Q86.1,378.4 96.5,378.4Z" stroke="#fcfbfa" stroke-width="0.9" fill="#f5f3f1"/><path d="M57.4,410.3 Q56.9,411.2 51.9,413.4 Q46.9,415.7 44.7,414.3 Q42.5,413 41.3,411.6 Q40.1,410.2 40,409.3 Q39.9,408.4 44.2,403.1 Q48.5,397.8 54.7,399.8 Q60.9,401.7 59.4,405.6 Q57.9,409.5 57.4,410.3Z" stroke="#fcfbfa" stroke-width="0.9" fill="#f6f4f2"/><path d="M74.7,343.3 Q80.3,334.6 83.8,336.8 Q87.3,339 87.3,346.9 Q87.2,354.8 83.6,357.2 Q79.9,359.5 74.5,355.7 Q69.2,351.9 74.7,343.3Z" stroke="#fcfbfa" stroke-width="0.9" fill="#f7f5f3"/><path d="M105.2,329.5 Q107.1,329.2 110.8,331.6 Q114.6,333.9 112.1,337.7 Q109.5,341.5 104.3,338.1 Q99,334.6 101.2,332.3 Q103.3,329.9 105.2,329.5Z" stroke="#fcfbfa" stroke-width="0.9" fill="#f5f3f1"/><path d="M49.6,327.9 Q49.6,328.7 59.5,327.8 Q69.4,326.9 66.5,319.8 Q63.5,312.8 62.8,312.8 Q62.1,312.9 55.8,320 Q49.6,327 49.6,327.9Z" stroke="#fcfbfa" stroke-width="0.9" fill="#f5f3f1"/><path d="M76.4,331.5 Q77.3,332.4 68.7,335.7 Q60.1,339.1 54.9,334.4 Q49.6,329.7 49.7,329.5 Q49.8,329.3 59.8,328.4 Q69.7,327.5 72.6,329.1 Q75.4,330.7 76.4,331.5Z" stroke="#fcfbfa" stroke-width="0.9" fill="#f5f3f1"/><path d="M17.9,370.6 Q12.4,370.8 4.3,374.6 Q-3.7,378.3 4.2,381.7 Q12.1,385 18.6,384.4 Q25.1,383.8 24.3,377.2 Q23.5,370.5 17.9,370.6Z" stroke="#fcfbfa" stroke-width="0.9" fill="#f6f4f2"/><path d="M12.3,394.5 Q12.7,385.8 19.2,385.2 Q25.6,384.6 26.7,385.5 Q27.7,386.3 28.3,388.3 Q28.9,390.4 28.5,393.3 Q28.1,396.2 20,399.7 Q11.9,403.2 12.3,394.5Z" stroke="#fcfbfa" stroke-width="0.9" fill="#f5f3f1"/><path d="M109.3,349.7 Q108.1,350.2 105.2,353 Q102.4,355.7 101,358.8 Q99.7,361.9 103.5,367.3 Q107.2,372.7 110.5,367 Q113.7,361.4 113.5,355.9 Q113.3,350.4 111.9,349.8 Q110.5,349.2 109.3,349.7Z" stroke="#fcfbfa" stroke-width="0.9" fill="#f6f4f2"/><path d="M90.5,322.6 Q85.5,325.3 83.2,329.4 Q80.8,333.4 80.8,333.5 Q80.9,333.6 84.4,335.8 Q87.9,338 88.3,338 Q88.6,338 89.3,337.9 Q90,337.8 94.1,336.1 Q98.1,334.5 100.2,332.1 Q102.3,329.7 100.7,325.1 Q99,320.5 97.2,320.2 Q95.4,319.9 90.5,322.6Z" stroke="#fcfbfa" stroke-width="0.9" fill="#f7f5f3"/><path d="M98.9,344.1 Q90.4,338.6 89.7,338.8 Q89,338.9 95.4,346.9 Q101.7,355 104.6,352.2 Q107.4,349.5 98.9,344.1Z" stroke="#fcfbfa" stroke-width="0.9" fill="#f7f5f3"/><path d="M59.3,340.4 Q59.3,339.7 54.1,334.9 Q48.8,330.2 45.9,332.6 Q43,335 43.5,341 Q44,346.9 47.1,347.5 Q50.2,348.1 54.8,344.6 Q59.3,341.1 59.3,340.4Z" stroke="#fcfbfa" stroke-width="0.9" fill="#f6f4f2"/><path d="M86.7,314.7 Q88,310.9 90,310.2 Q91.9,309.5 92.6,310.1 Q93.4,310.6 94.4,314.8 Q95.3,318.9 90.4,321.6 Q85.5,324.3 85.4,321.4 Q85.4,318.5 86.7,314.7Z" stroke="#fcfbfa" stroke-width="0.9" fill="#f5f3f1"/><path d="M110.6,324.2 Q113.3,319.5 123.5,324.5 Q133.6,329.5 134.1,330.1 Q134.7,330.7 125.1,332.2 Q115.5,333.6 111.7,331.2 Q107.9,328.9 110.6,324.2Z" stroke="#fcfbfa" stroke-width="0.9" fill="#f5f3f1"/><path d="M19.9,350.2 Q20,350.8 24.3,354.4 Q28.6,357.9 32.7,357.4 Q36.9,356.9 39.8,352.1 Q42.7,347.3 42.2,341.3 Q41.7,335.4 35.7,333.4 Q29.7,331.5 25,336.6 Q20.4,341.7 20.2,342.6 Q20.1,343.5 19.9,346.6 Q19.7,349.7 19.9,350.2Z" stroke="#fcfbfa" stroke-width="0.9" fill="#f5f3f1"/><path d="M43.5,304.8 Q45.4,297.4 50.2,303.5 Q55,309.7 50.8,314.1 Q46.6,318.5 44.1,315.4 Q41.6,312.3 43.5,304.8Z" stroke="#fcfbfa" stroke-width="0.9" fill="#f6f4f2"/><path d="M77.8,307.3 Q76,303.3 73,303 Q69.9,302.7 69.2,304.9 Q68.4,307.1 72.1,310.5 Q75.8,314 77.6,313.1 Q79.4,312.2 79.5,311.7 Q79.6,311.2 77.8,307.3Z" stroke="#fcfbfa" stroke-width="0.9" fill="#f7f5f3"/><path d="M12.8,367.5 Q12.8,364.9 19.7,363.6 Q26.5,362.3 25.1,366.1 Q23.8,369.8 18.2,370 Q12.7,370.2 12.8,367.5Z" stroke="#fcfbfa" stroke-width="0.9" fill="#f6f4f2"/><path d="M58.8,375.8 Q51.6,375.5 51.7,376.3 Q51.9,377.1 58.4,387.6 Q64.9,398.2 65.8,398 Q66.6,397.8 69.9,391.3 Q73.2,384.7 69.5,380.4 Q65.9,376 58.8,375.8Z" stroke="#fcfbfa" stroke-width="0.9" fill="#f7f5f3"/><path d="M94.8,336.8 Q98.8,335.2 104.1,338.6 Q109.3,342 109.8,345.2 Q110.2,348.4 109,348.8 Q107.8,349.3 99.3,343.9 Q90.8,338.5 94.8,336.8Z" stroke="#fcfbfa" stroke-width="0.9" fill="#f5f3f1"/><path d="M111.8,316 Q110.4,313.2 111.9,311.2 Q113.4,309.1 120.2,311.5 Q127.1,313.8 130.3,321.3 Q133.5,328.8 123.4,323.8 Q113.2,318.8 111.8,316Z" stroke="#fcfbfa" stroke-width="0.9" fill="#f6f4f2"/><path d="M98.6,387.5 Q89.8,395.4 89.9,398.8 Q90,402.2 90.9,403.2 Q91.9,404.3 110,405.3 Q128.1,406.3 121.6,395.6 Q115.1,385 111.5,382.2 Q108,379.5 107.6,379.6 Q107.3,379.7 98.6,387.5Z" stroke="#fcfbfa" stroke-width="0.9" fill="#f7f5f3"/><path d="M75.7,322.2 Q75.6,314.6 71.9,311.1 Q68.1,307.7 66.2,310.1 Q64.2,312.6 67.2,319.6 Q70.1,326.7 73,328.3 Q75.8,329.9 75.7,322.2Z" stroke="#fcfbfa" stroke-width="0.9" fill="#f7f5f3"/><path d="M81.8,304.4 Q79.5,302.3 83.6,298.7 Q87.8,295.2 88.6,298.3 Q89.5,301.3 86.8,303.9 Q84.2,306.5 81.8,304.4Z" stroke="#fcfbfa" stroke-width="0.9" fill="#f6f4f2"/><path d="M103.7,316.7 Q107.4,313.5 108.5,313.5 Q109.6,313.4 111,316.2 Q112.4,319.1 109.8,323.7 Q107.1,328.4 105.2,328.7 Q103.3,329.1 101.6,324.5 Q99.9,319.9 103.7,316.7Z" stroke="#fcfbfa" stroke-width="0.9" fill="#f6f4f2"/><path d="M50.1,372.4 Q49.8,371.5 56.7,363.5 Q63.6,355.5 63.8,355.4 Q63.9,355.4 66.3,362.6 Q68.7,369.9 67.2,372.5 Q65.7,375 58.6,374.8 Q51.4,374.5 50.9,374 Q50.3,373.4 50.1,372.4Z" stroke="#fcfbfa" stroke-width="0.9" fill="#f7f5f3"/><path d="M55.5,319.7 Q49.3,326.7 48.1,322.9 Q46.9,319 51.2,314.6 Q55.4,310.1 58.6,311.4 Q61.8,312.6 55.5,319.7Z" stroke="#fcfbfa" stroke-width="0.9" fill="#f6f4f2"/><path d="M108.2,375.9 Q107.7,373.5 110.9,367.9 Q114.2,362.2 122.7,360.7 Q131.3,359.2 123.5,371.4 Q115.8,383.6 112.2,380.9 Q108.7,378.2 108.2,375.9Z" stroke="#fcfbfa" stroke-width="0.9" fill="#f5f3f1"/><path d="M67.8,352.9 Q66.9,353.2 65.8,354.1 Q64.7,354.9 67.1,362.1 Q69.4,369.4 74.3,367.5 Q79.1,365.6 79.2,362.9 Q79.3,360.2 74,356.4 Q68.6,352.6 67.8,352.9Z" stroke="#fcfbfa" stroke-width="0.9" fill="#f6f4f2"/><path d="M92.1,358.7 Q96.6,361.8 90.2,366.1 Q83.7,370.3 81.8,368.1 Q80,365.8 80.1,363.1 Q80.2,360.4 83.9,358 Q87.5,355.7 92.1,358.7Z" stroke="#fcfbfa" stroke-width="0.9" fill="#f7f5f3"/><path d="M49.9,374.8 Q49.3,374.3 39.1,380 Q28.9,385.7 29.5,387.8 Q30.1,389.9 38.3,391.7 Q46.5,393.6 48.6,385.3 Q50.7,376.9 50.6,376.2 Q50.5,375.4 49.9,374.8Z" stroke="#fcfbfa" stroke-width="0.9" fill="#f5f3f1"/><path d="M93,309.6 Q92.2,309 92.4,307.8 Q92.5,306.6 96.2,304.2 Q99.8,301.8 101,305.6 Q102.2,309.5 98,309.8 Q93.7,310.2 93,309.6Z" stroke="#fcfbfa" stroke-width="0.9" fill="#f6f4f2"/><g fill="#f0ecd4" opacity="0.6"><circle cx="95.3" cy="334.9" r="1.1"/><circle cx="104.6" cy="405.4" r="2.1"/><circle cx="75.5" cy="316.5" r="1.9"/><circle cx="83.9" cy="391.5" r="1.9"/><circle cx="69.1" cy="406.1" r="1.6"/><circle cx="63.3" cy="372" r="1.9"/><circle cx="77.7" cy="402.5" r="1.3"/><circle cx="108.9" cy="396.2" r="1.4"/><circle cx="21.1" cy="368.4" r="1.7"/><circle cx="115.3" cy="364" r="1.9"/></g></g>
</g>
<rect x="97.5" y="404.1" width="19" height="2.6" fill="#000" stroke="none" stroke-width="0.8"/>
<rect x="18.2" y="308" width="101.2" height="100.4" fill="none" stroke="#111" stroke-width="1.3"/>
<g clip-path="url(#cp4)">
<rect x="123.1" y="308" width="100.1" height="100.4" fill="#f6eced" stroke="none" stroke-width="0.8"/>
<g filter="url(#soft2)"><g fill="#fbf6f5" opacity="0.8"><circle cx="199.1" cy="324.9" r="7.3"/><circle cx="167" cy="329.7" r="5.4"/><circle cx="159.4" cy="381.8" r="6.8"/><circle cx="155.2" cy="313.5" r="7.9"/><circle cx="198.6" cy="392" r="7.9"/><circle cx="129.4" cy="336.2" r="6.3"/><circle cx="152.8" cy="390.7" r="5"/><circle cx="124.6" cy="353.3" r="4.3"/><circle cx="126" cy="368.9" r="7"/><circle cx="177.4" cy="315.1" r="6.8"/><circle cx="175.4" cy="338.6" r="5.1"/><circle cx="138.7" cy="356.5" r="5.8"/><circle cx="181.7" cy="375.7" r="5.4"/><circle cx="183.9" cy="333.9" r="7.7"/><circle cx="143.5" cy="367.7" r="7.7"/><circle cx="203.1" cy="361.3" r="8.6"/><circle cx="221.8" cy="387.6" r="5.8"/><circle cx="149.8" cy="370.9" r="4.6"/><circle cx="140.8" cy="317.5" r="7.3"/><circle cx="161.9" cy="400.5" r="8"/><circle cx="176.3" cy="342.2" r="5.6"/><circle cx="128.3" cy="319.1" r="8.4"/><circle cx="152.9" cy="308.8" r="8.9"/><circle cx="161.2" cy="385.8" r="6.3"/><circle cx="220" cy="316.1" r="6.4"/><circle cx="187.9" cy="310.5" r="8.6"/><circle cx="157" cy="376.1" r="4.4"/><circle cx="131" cy="316.7" r="7.9"/><circle cx="217.4" cy="400" r="6.7"/><circle cx="132.2" cy="386" r="6.5"/><circle cx="201.4" cy="371.7" r="6.8"/><circle cx="140.2" cy="322.3" r="4.4"/><circle cx="166.4" cy="337" r="8.8"/><circle cx="128" cy="384.2" r="4.6"/><circle cx="133.4" cy="400.7" r="5.1"/><circle cx="182.7" cy="366.7" r="6"/><circle cx="158.1" cy="322.1" r="7.5"/><circle cx="160.3" cy="368.3" r="8.1"/><circle cx="130.7" cy="350.5" r="5.8"/><circle cx="216.4" cy="370.3" r="5"/></g><g fill="#efdcd6" opacity="0.5"><circle cx="169" cy="309.5" r="5.6"/><circle cx="130.1" cy="321.9" r="5.5"/><circle cx="177" cy="329.4" r="5.9"/><circle cx="154.3" cy="378.6" r="3.3"/><circle cx="207.3" cy="353.1" r="3.9"/><circle cx="152.2" cy="371" r="3.5"/><circle cx="214.4" cy="330.2" r="5.1"/><circle cx="130.4" cy="353.8" r="7.8"/><circle cx="141.8" cy="325.9" r="5.7"/><circle cx="187.2" cy="322.4" r="4.1"/><circle cx="183.6" cy="332" r="3.1"/><circle cx="192.6" cy="395.2" r="7"/><circle cx="208.7" cy="329.3" r="4.5"/><circle cx="183.2" cy="369.8" r="6.1"/><circle cx="178.5" cy="331.5" r="4.2"/><circle cx="131.6" cy="313.8" r="5.9"/><circle cx="131.7" cy="396" r="7.8"/><circle cx="137.7" cy="405" r="6.1"/><circle cx="123.7" cy="346.5" r="4.8"/><circle cx="154" cy="314.7" r="4.2"/><circle cx="124.8" cy="353" r="5.4"/><circle cx="146.3" cy="400.8" r="7.4"/><circle cx="173.1" cy="388.5" r="4.8"/><circle cx="198.5" cy="386.1" r="4.8"/><circle cx="197.2" cy="343.3" r="3.9"/></g></g>
<g filter="url(#soft)"><path d="M149.2,382.7 Q148,385.4 145,386.7 Q141.9,388 140.4,386 Q139,384 144.5,380.9 Q150,377.7 150.5,377.8 Q150.9,377.8 150.6,378.9 Q150.4,380 149.2,382.7Z" stroke="#e070a8" stroke-width="0.7" fill="#f6ecea" opacity="0.9"/><path d="M201.2,390.6 Q201.5,391 202.5,393.7 Q203.4,396.5 200.1,402.7 Q196.8,408.9 194.6,408.5 Q192.4,408.1 193.5,401.1 Q194.6,394.1 197.7,392.1 Q200.9,390.1 201.2,390.6Z" stroke="#e070a8" stroke-width="0.6" fill="#faf5f4" opacity="0.9"/><path d="M130.5,329.5 Q129.1,328.2 130,321.7 Q131,315.2 133.6,315.1 Q136.2,314.9 135.6,321.3 Q134.9,327.6 133.4,329.2 Q131.9,330.7 130.5,329.5Z" stroke="#e070a8" stroke-width="0.7" fill="#faf5f4" opacity="1"/><path d="M127,327.5 Q125.1,326.8 125.1,320.2 Q125,313.6 127.8,314.4 Q130.7,315.1 129.8,321.6 Q128.9,328.1 127,327.5Z" stroke="#e070a8" stroke-width="0.8" fill="#fcf8f7" opacity="0.9"/><path d="M211.4,306.3 Q211.3,306.1 204.4,308.2 Q197.4,310.4 198.6,314.2 Q199.8,318 205.1,314.5 Q210.4,311 210.9,308.7 Q211.4,306.4 211.4,306.3Z" stroke="#e070a8" stroke-width="0.9" fill="#f6ecea" opacity="0.9"/><path d="M182.7,325.6 Q186.7,323.1 186.5,322.6 Q186.2,322 179.1,320.1 Q172.1,318.2 171.6,319.4 Q171.1,320.6 174.8,324.4 Q178.6,328.1 182.7,325.6Z" stroke="#e070a8" stroke-width="0.7" fill="#f6ecea" opacity="1"/><path d="M150.7,348.1 Q150.7,348.8 150.2,352 Q149.7,355.2 149,356.4 Q148.4,357.7 144.2,351.6 Q140.1,345.5 140.2,345.4 Q140.3,345.3 145.5,346.3 Q150.7,347.4 150.7,348.1Z" stroke="#e070a8" stroke-width="0.6" fill="#fcf8f7" opacity="0.8"/><path d="M212.7,378.9 Q202,378.5 201.4,377.3 Q200.8,376 200.9,374.3 Q201,372.6 211,369.3 Q220.9,366 225.6,368 Q230.3,370 228.1,374 Q225.8,378 224.6,378.7 Q223.4,379.4 212.7,378.9Z" stroke="#e070a8" stroke-width="0.6" fill="#fcf8f7" opacity="0.9"/><path d="M124.6,402.8 Q129.3,401.6 131.2,407.6 Q133,413.5 124.7,412.7 Q116.4,411.9 118.1,408 Q119.9,404 124.6,402.8Z" stroke="#e070a8" stroke-width="0.5" fill="#f6ecea" opacity="0.8"/><path d="M213.2,396.8 Q216,400.3 210.9,399.8 Q205.7,399.2 204.8,397.8 Q203.9,396.4 203,393.6 Q202,390.9 206.2,392 Q210.3,393.2 213.2,396.8Z" stroke="#e070a8" stroke-width="0.7" fill="#f6ecea" opacity="0.9"/><path d="M211.3,387.3 Q202,385.1 201.7,387.4 Q201.5,389.7 201.8,390.2 Q202.2,390.6 206.3,391.8 Q210.5,392.9 214.7,393.4 Q218.9,393.9 219.8,393 Q220.7,392 220.6,390.8 Q220.5,389.5 211.3,387.3Z" stroke="#e070a8" stroke-width="0.5" fill="#fcf8f7" opacity="0.9"/><path d="M233.5,393.7 Q231.9,391.4 229.6,393 Q227.3,394.6 228.4,402.2 Q229.5,409.8 230.2,410 Q230.8,410.2 233,403.1 Q235.2,396 233.5,393.7Z" stroke="#e070a8" stroke-width="0.5" fill="#fcf8f7" opacity="0.9"/><path d="M143.9,400.2 Q141,399.6 141.1,405.8 Q141.2,412 141.8,411.8 Q142.5,411.5 145.3,407.2 Q148.1,402.8 147.5,401.8 Q146.9,400.7 143.9,400.2Z" stroke="#e070a8" stroke-width="0.7" fill="#f8f0ef" opacity="0.9"/><path d="M175.1,387.6 Q174.4,380 170.3,381.9 Q166.2,383.8 164.3,389.1 Q162.5,394.4 163.3,395.6 Q164.1,396.8 165.8,397.9 Q167.5,399 171.7,397.1 Q175.9,395.3 175.1,387.6Z" stroke="#e070a8" stroke-width="0.6" fill="#f6ecea" opacity="1"/><path d="M184.2,347.1 Q181.7,344 179.8,343.5 Q178,342.9 176.4,345.3 Q174.7,347.7 178.7,352 Q182.7,356.2 184.8,356.4 Q186.9,356.5 186.8,353.4 Q186.8,350.3 184.2,347.1Z" stroke="#e070a8" stroke-width="0.9" fill="#f6ecea" opacity="1"/><path d="M151.2,347.9 Q151.3,348.6 155.6,349.7 Q160,350.9 162.4,350.3 Q164.9,349.7 162.3,344.6 Q159.8,339.6 157.9,339.9 Q156,340.3 153.6,343.7 Q151.2,347.2 151.2,347.9Z" stroke="#e070a8" stroke-width="0.9" fill="#faf5f4" opacity="0.8"/><path d="M152.8,309.5 Q155.9,313.1 155.7,314.2 Q155.5,315.4 154.7,317.1 Q153.9,318.8 151.6,319.1 Q149.3,319.3 144.6,316.3 Q140,313.2 140.1,311.9 Q140.3,310.7 145,308.2 Q149.7,305.8 152.8,309.5Z" stroke="#e070a8" stroke-width="0.9" fill="#f6ecea" opacity="1"/><path d="M217.5,400.8 Q218.6,401.2 218.9,397.7 Q219.2,394.3 215,393.8 Q210.8,393.2 213.6,396.8 Q216.4,400.4 217.5,400.8Z" stroke="#e070a8" stroke-width="0.7" fill="#f8f0ef" opacity="1"/><path d="M175,379.7 Q175.1,379.6 176.9,379.9 Q178.7,380.2 182.4,387.4 Q186.2,394.7 184.3,396 Q182.4,397.4 179.4,396.3 Q176.4,395.1 175.6,387.5 Q174.9,379.8 175,379.7Z" stroke="#e070a8" stroke-width="0.8" fill="#f8f0ef" opacity="0.9"/><path d="M126.3,373.2 Q124.9,372.4 124.5,373.2 Q124.1,374.1 121.9,379.2 Q119.8,384.4 122.8,386.2 Q125.9,388 127.4,381.8 Q128.9,375.5 128.3,374.7 Q127.6,373.9 126.3,373.2Z" stroke="#e070a8" stroke-width="0.5" fill="#faf5f4" opacity="0.8"/><path d="M171.9,312.8 Q172.2,313.3 171.8,315.7 Q171.3,318 170.8,319.2 Q170.3,320.4 165.7,322.6 Q161,324.9 159.6,323.6 Q158.2,322.4 156.4,320.7 Q154.7,319 155.5,317.3 Q156.3,315.6 164,313.9 Q171.7,312.3 171.9,312.8Z" stroke="#e070a8" stroke-width="0.8" fill="#f8f0ef" opacity="1"/><path d="M134.8,364.5 Q130.7,363.5 130.4,361.4 Q130,359.3 131.3,356.3 Q132.7,353.3 137.9,357.5 Q143.2,361.7 141.1,363.6 Q138.9,365.5 134.8,364.5Z" stroke="#e070a8" stroke-width="0.7" fill="#fcf8f7" opacity="0.9"/><path d="M138.2,357.2 Q133,353 132.6,351.7 Q132.3,350.5 136.1,348.1 Q139.8,345.7 143.9,351.8 Q148.1,357.9 147.9,359.4 Q147.7,360.9 145.6,361.1 Q143.5,361.4 138.2,357.2Z" stroke="#e070a8" stroke-width="0.8" fill="#f8f0ef" opacity="1"/><path d="M193.3,339.9 Q192.3,339.3 187.2,341.5 Q182,343.7 184.6,346.8 Q187.1,349.9 190.7,345.2 Q194.2,340.5 193.3,339.9Z" stroke="#e070a8" stroke-width="0.9" fill="#faf5f4" opacity="0.9"/><path d="M120.7,359.6 Q120.8,360.3 125.2,359.6 Q129.6,359 130.9,356 Q132.3,353 131.9,351.7 Q131.6,350.5 128.4,348.8 Q125.2,347.2 122.9,353 Q120.6,358.9 120.7,359.6Z" stroke="#e070a8" stroke-width="0.9" fill="#fcf8f7" opacity="0.9"/><path d="M147.2,322.7 Q145.5,325.7 140.4,326.6 Q135.3,327.4 136,321.1 Q136.7,314.8 138.1,314.1 Q139.6,313.5 144.2,316.6 Q148.9,319.7 147.2,322.7Z" stroke="#e070a8" stroke-width="0.6" fill="#fcf8f7" opacity="1"/><path d="M127.8,338 Q126.8,339.1 125.3,341.3 Q123.8,343.6 123.9,344.3 Q124.1,345.1 124.7,345.9 Q125.4,346.6 128.6,348.3 Q131.8,349.9 135.6,347.5 Q139.3,345.2 139.4,345.1 Q139.5,345 139.6,344.2 Q139.8,343.5 134.3,340.2 Q128.8,336.9 127.8,338Z" stroke="#e070a8" stroke-width="0.6" fill="#fcf8f7" opacity="0.9"/><path d="M121.3,379.5 Q119.1,384.7 112.1,385.6 Q105.1,386.4 103.6,386.1 Q102.1,385.7 112.8,380 Q123.4,374.3 121.3,379.5Z" stroke="#e070a8" stroke-width="0.6" fill="#fcf8f7" opacity="0.8"/><path d="M113.4,310.6 Q105.9,316.1 109.7,317.5 Q113.6,318.9 114.4,319 Q115.3,319.1 119.3,315.8 Q123.2,312.6 122.2,308.9 Q121.1,305.2 121,305.2 Q120.9,305.2 113.4,310.6Z" stroke="#e070a8" stroke-width="0.8" fill="#f6ecea" opacity="1"/><path d="M217.4,401.2 Q218.5,401.6 220.3,405.6 Q222.1,409.7 217.8,411.7 Q213.5,413.7 211.3,411.7 Q209.2,409.8 207.6,404.7 Q206,399.7 211.2,400.2 Q216.3,400.8 217.4,401.2Z" stroke="#e070a8" stroke-width="0.9" fill="#faf5f4" opacity="0.8"/><path d="M193.6,322.3 Q188.9,323.3 188.2,323.1 Q187.4,322.8 187.1,322.2 Q186.8,321.7 185.6,318.1 Q184.4,314.6 186.3,309.5 Q188.1,304.4 190.2,303.9 Q192.3,303.4 194.5,307 Q196.7,310.6 197.8,314.4 Q199,318.2 198.7,319.7 Q198.3,321.2 193.6,322.3Z" stroke="#e070a8" stroke-width="0.6" fill="#fcf8f7" opacity="0.9"/><path d="M167.8,401.5 Q168.3,403.4 164.4,409 Q160.4,414.6 158.7,412.7 Q157.1,410.8 156.7,409.3 Q156.3,407.8 160.1,402.6 Q163.8,397.5 165.5,398.6 Q167.2,399.7 167.8,401.5Z" stroke="#e070a8" stroke-width="0.5" fill="#faf5f4" opacity="1"/><path d="M219.2,397.9 Q219,401.3 220.8,405.4 Q222.5,409.4 225.8,409.6 Q229.1,409.8 228,402.2 Q226.9,394.6 224.1,393.6 Q221.4,392.5 220.4,393.5 Q219.5,394.4 219.2,397.9Z" stroke="#e070a8" stroke-width="0.5" fill="#fcf8f7" opacity="1"/><path d="M136.4,398.1 Q136.8,398.5 137.4,405.9 Q138,413.3 137.1,414.1 Q136.2,414.9 134.9,414.1 Q133.5,413.4 131.7,407.4 Q129.8,401.5 131.2,399.4 Q132.6,397.4 134.3,397.6 Q136,397.7 136.4,398.1Z" stroke="#e070a8" stroke-width="0.7" fill="#faf5f4" opacity="1"/><path d="M161.4,393.9 Q160.7,393.7 155.8,386.9 Q150.9,380.2 151.2,379.1 Q151.5,378 152.2,377.4 Q152.9,376.8 159.2,380.2 Q165.6,383.5 163.8,388.8 Q162,394.1 162,394.1 Q162,394.1 161.4,393.9Z" stroke="#e070a8" stroke-width="0.7" fill="#f8f0ef" opacity="1"/><path d="M183.2,387.3 Q179.4,380.1 189.6,378.3 Q199.8,376.6 200.4,377.8 Q201,379 201.1,381.9 Q201.2,384.8 200.9,387.2 Q200.7,389.5 197.6,391.5 Q194.4,393.5 190.7,394 Q187,394.6 183.2,387.3Z" stroke="#e070a8" stroke-width="0.8" fill="#faf5f4" opacity="0.9"/><path d="M133,371.4 Q128.1,373.7 128.7,374.6 Q129.4,375.4 132.5,377.5 Q135.5,379.7 138,378 Q140.5,376.3 139.2,372.7 Q138,369.1 133,371.4Z" stroke="#e070a8" stroke-width="0.7" fill="#faf5f4" opacity="0.8"/><path d="M177.3,379.1 Q175.5,378.8 175.2,377.2 Q174.8,375.6 175.9,372.8 Q176.9,370 184.7,366 Q192.5,362 195,363 Q197.5,364.1 198.6,368.3 Q199.6,372.5 199.5,374.2 Q199.4,375.9 189.2,377.7 Q179.1,379.4 177.3,379.1Z" stroke="#e070a8" stroke-width="0.8" fill="#fcf8f7" opacity="0.8"/><path d="M156,392.9 Q160.5,393.8 155.6,387 Q150.7,380.3 149.5,383 Q148.3,385.7 149.9,388.9 Q151.5,392 156,392.9Z" stroke="#e070a8" stroke-width="0.5" fill="#faf5f4" opacity="0.8"/><path d="M153.2,329.9 Q148.5,336.6 152.2,338.1 Q156,339.6 157.9,339.3 Q159.8,339 161.2,336.4 Q162.6,333.9 161.6,329.7 Q160.7,325.6 159.2,324.4 Q157.8,323.2 153.2,329.9Z" stroke="#e070a8" stroke-width="0.7" fill="#fcf8f7" opacity="0.9"/><path d="M127.7,389.8 Q127.4,389.8 126.8,389.1 Q126.1,388.4 127.6,382.1 Q129.2,375.9 132.2,378 Q135.3,380.2 135.3,380.4 Q135.3,380.5 132.6,384.4 Q129.8,388.4 128.9,389.1 Q127.9,389.9 127.7,389.8Z" stroke="#e070a8" stroke-width="0.8" fill="#faf5f4" opacity="1"/><path d="M122.6,327.1 Q120.3,327.4 119.5,327.4 Q118.7,327.4 117.1,323.4 Q115.5,319.5 119.5,316.2 Q123.5,313 124.1,313.3 Q124.7,313.7 124.8,320.3 Q124.8,326.9 122.6,327.1Z" stroke="#e070a8" stroke-width="0.7" fill="#f8f0ef" opacity="0.9"/><path d="M184.8,356.9 Q182.8,356.8 179.1,358.9 Q175.4,361 176,365.2 Q176.7,369.5 184.5,365.5 Q192.3,361.4 189.6,359.3 Q186.9,357.1 184.8,356.9Z" stroke="#e070a8" stroke-width="0.9" fill="#f8f0ef" opacity="0.9"/><path d="M158.8,307.2 Q156.2,312.6 153.1,308.9 Q150,305.2 150.9,297.8 Q151.9,290.3 156.6,296 Q161.4,301.8 158.8,307.2Z" stroke="#e070a8" stroke-width="0.9" fill="#f8f0ef" opacity="0.8"/><path d="M122.9,327.7 Q120.6,327.9 123.6,333.2 Q126.7,338.5 127.6,337.4 Q128.6,336.3 130.1,333.8 Q131.7,331.2 131.7,331.2 Q131.6,331.1 130.3,329.9 Q128.9,328.6 127,328 Q125.2,327.4 122.9,327.7Z" stroke="#e070a8" stroke-width="0.6" fill="#f6ecea" opacity="1"/><path d="M139.1,367.4 Q139.5,365.9 141.7,364 Q143.8,362.1 145.9,361.9 Q148,361.7 150.7,364.1 Q153.5,366.5 153.6,367.1 Q153.7,367.6 153,371.8 Q152.3,376 151.6,376.6 Q151,377.2 150.5,377.2 Q150,377.1 145.6,376.6 Q141.1,376 139.9,372.4 Q138.6,368.8 139.1,367.4Z" stroke="#e070a8" stroke-width="0.5" fill="#f8f0ef" opacity="1"/><path d="M117.3,356.4 Q114.4,354.1 117,350.9 Q119.5,347.6 121.5,346.5 Q123.5,345.4 124.2,346.2 Q124.9,347 122.6,352.8 Q120.3,358.7 117.3,356.4Z" stroke="#e070a8" stroke-width="0.7" fill="#faf5f4" opacity="0.9"/><path d="M156,398.8 Q149.9,402.8 153,405.2 Q156.2,407.5 159.9,402.3 Q163.6,397.2 162.8,396 Q162,394.8 162,394.8 Q162,394.8 156,398.8Z" stroke="#e070a8" stroke-width="0.6" fill="#faf5f4" opacity="0.9"/><path d="M178.3,352.2 Q174.3,348 170.3,349.4 Q166.4,350.8 166.5,353.9 Q166.5,356.9 170.7,358.8 Q174.9,360.7 178.6,358.6 Q182.3,356.5 178.3,352.2Z" stroke="#e070a8" stroke-width="0.5" fill="#faf5f4" opacity="0.9"/><path d="M193.8,339.4 Q192.8,338.8 191.9,337.5 Q190.9,336.2 190.1,330.2 Q189.3,324.2 194,323.2 Q198.7,322.1 202.5,325.8 Q206.2,329.5 206.5,330 Q206.7,330.4 207.4,333.8 Q208.1,337.1 206.6,339.4 Q205.2,341.6 200,340.8 Q194.7,340 193.8,339.4Z" stroke="#e070a8" stroke-width="0.9" fill="#faf5f4" opacity="0.9"/><path d="M222.7,384.7 Q221.3,389.3 221.4,390.6 Q221.5,391.9 224.3,392.9 Q227,394 229.3,392.4 Q231.6,390.7 232,389.4 Q232.4,388.1 229.4,383.4 Q226.4,378.7 225.2,379.4 Q224,380 222.7,384.7Z" stroke="#e070a8" stroke-width="0.7" fill="#faf5f4" opacity="0.8"/><path d="M137.2,382.1 Q135.8,380.3 135.8,380.1 Q135.8,380 138.3,378.2 Q140.8,376.5 145.2,377.1 Q149.6,377.6 144.1,380.7 Q138.6,383.9 137.2,382.1Z" stroke="#e070a8" stroke-width="0.9" fill="#fcf8f7" opacity="0.9"/><path d="M208.6,333.5 Q207.9,330.2 215.5,325.4 Q223.1,320.6 229.9,321.8 Q236.7,323 238,323.4 Q239.2,323.8 231.3,330.1 Q223.4,336.4 216.3,336.6 Q209.3,336.8 208.6,333.5Z" stroke="#e070a8" stroke-width="0.8" fill="#f6ecea" opacity="1"/><path d="M191.1,337.8 Q192,339.1 186.9,341.3 Q181.8,343.5 180,342.9 Q178.1,342.4 177.7,339.3 Q177.2,336.3 183.7,336.4 Q190.2,336.5 191.1,337.8Z" stroke="#e070a8" stroke-width="0.8" fill="#fcf8f7" opacity="0.9"/><path d="M132.2,331.2 Q132.2,331.2 137.2,334.4 Q142.2,337.5 143.7,336.7 Q145.2,335.8 145.3,331 Q145.4,326.3 140.3,327.2 Q135.2,328 133.7,329.6 Q132.2,331.1 132.2,331.2Z" stroke="#e070a8" stroke-width="0.8" fill="#f8f0ef" opacity="0.9"/><path d="M130.5,334 Q132.1,331.5 137,334.7 Q142,337.8 141,340.5 Q140,343.2 134.5,339.9 Q129,336.6 130.5,334Z" stroke="#e070a8" stroke-width="0.5" fill="#f8f0ef" opacity="0.9"/><path d="M122.8,393.9 Q126.9,390 126.2,389.3 Q125.6,388.6 122.5,386.8 Q119.5,385 112.5,385.9 Q105.4,386.8 112,392.3 Q118.6,397.7 122.8,393.9Z" stroke="#e070a8" stroke-width="0.9" fill="#f6ecea" opacity="0.9"/><path d="M202.8,325.1 Q206.6,328.8 209.9,322.8 Q213.3,316.7 211.8,314.1 Q210.3,311.4 205,314.9 Q199.8,318.4 199.4,319.9 Q199.1,321.4 202.8,325.1Z" stroke="#e070a8" stroke-width="0.7" fill="#f8f0ef" opacity="0.9"/><path d="M172.6,374 Q174.1,375.3 175.1,372.5 Q176.1,369.7 175.5,365.5 Q174.8,361.2 170.6,359.4 Q166.4,357.5 165.7,358.5 Q164.9,359.5 168,366.2 Q171.1,372.8 172.6,374Z" stroke="#e070a8" stroke-width="0.9" fill="#fcf8f7" opacity="0.9"/><path d="M146.9,335.9 Q148.1,336.3 152.8,329.6 Q157.5,322.9 155.7,321.2 Q154,319.5 151.7,319.7 Q149.3,320 147.6,323 Q146,326 145.9,330.8 Q145.7,335.5 146.9,335.9Z" stroke="#e070a8" stroke-width="0.5" fill="#fcf8f7" opacity="0.9"/><path d="M171.2,307.5 Q170.7,303.1 166.3,302.6 Q161.8,302.1 159.2,307.5 Q156.6,312.9 156.4,314 Q156.2,315.1 163.9,313.5 Q171.6,311.8 171.2,307.5Z" stroke="#e070a8" stroke-width="0.5" fill="#fcf8f7" opacity="0.8"/><path d="M211.9,305.9 Q211.9,305.7 212.2,296.5 Q212.5,287.3 217.9,293 Q223.3,298.7 222.7,304 Q222.2,309.4 219.8,309.3 Q217.5,309.2 214.7,307.6 Q211.9,306 211.9,305.9Z" stroke="#e070a8" stroke-width="0.5" fill="#faf5f4" opacity="0.9"/><path d="M207.2,329.4 Q207.5,329.9 215,325.1 Q222.6,320.3 221.1,319.4 Q219.7,318.4 216.7,317.7 Q213.7,316.9 210.4,322.9 Q207,329 207.2,329.4Z" stroke="#e070a8" stroke-width="0.6" fill="#faf5f4" opacity="1"/><path d="M146.7,336.6 Q147.9,337 151.7,338.5 Q155.4,340 153,343.5 Q150.7,346.9 145.4,345.9 Q140.2,344.8 140.4,344.1 Q140.5,343.4 141.5,340.7 Q142.5,338 144,337.1 Q145.5,336.3 146.7,336.6Z" stroke="#e070a8" stroke-width="0.8" fill="#f8f0ef" opacity="0.8"/><path d="M150.6,352.1 Q151.1,348.8 155.4,350 Q159.8,351.1 154.9,353.2 Q150.1,355.3 150.6,352.1Z" stroke="#e070a8" stroke-width="0.5" fill="#faf5f4" opacity="0.8"/><path d="M127.5,390.4 Q127.2,390.4 123.1,394.2 Q119,398.1 119.5,400.8 Q120,403.5 124.7,402.3 Q129.4,401.1 130.8,399 Q132.2,397 130,393.7 Q127.7,390.5 127.5,390.4Z" stroke="#e070a8" stroke-width="0.7" fill="#fcf8f7" opacity="0.9"/><path d="M145.6,407.3 Q148.4,403 148.9,403.1 Q149.4,403.2 152.6,405.6 Q155.7,408 156.1,409.4 Q156.5,410.9 151.6,411.9 Q146.6,413 144.7,412.3 Q142.8,411.7 145.6,407.3Z" stroke="#e070a8" stroke-width="0.9" fill="#f8f0ef" opacity="1"/><path d="M185.6,309.1 Q183.7,314.2 178.3,313.5 Q172.8,312.8 172.6,312.3 Q172.3,311.8 171.9,307.4 Q171.4,303 173.9,301.1 Q176.4,299.1 181.9,301.6 Q187.4,304 185.6,309.1Z" stroke="#e070a8" stroke-width="0.5" fill="#faf5f4" opacity="1"/><path d="M230,321.2 Q236.8,322.4 229.8,316.4 Q222.9,310.5 221.2,312 Q219.5,313.6 219.9,315.8 Q220.2,318.1 221.7,319.1 Q223.1,320 230,321.2Z" stroke="#e070a8" stroke-width="0.7" fill="#f8f0ef" opacity="0.8"/><path d="M176.1,335.6 Q176.5,336.4 177,339.4 Q177.4,342.5 175.8,344.9 Q174.1,347.3 170.2,348.8 Q166.3,350.2 165.9,349.8 Q165.5,349.4 163,344.4 Q160.4,339.4 161.8,336.9 Q163.2,334.3 169.4,334.6 Q175.6,334.9 176.1,335.6Z" stroke="#e070a8" stroke-width="0.8" fill="#fcf8f7" opacity="0.8"/><path d="M147.7,398.8 Q147.4,400.3 148,401.4 Q148.6,402.5 149.1,402.6 Q149.6,402.7 155.6,398.7 Q161.7,394.7 161.1,394.5 Q160.5,394.3 156,393.4 Q151.5,392.5 149.7,394.9 Q148,397.2 147.7,398.8Z" stroke="#e070a8" stroke-width="0.7" fill="#f8f0ef" opacity="0.8"/><path d="M137.1,382.4 Q135.7,380.6 133,384.5 Q130.2,388.4 135.8,388.3 Q141.4,388.2 141.4,388.2 Q141.4,388.2 139.9,386.2 Q138.5,384.2 137.1,382.4Z" stroke="#e070a8" stroke-width="0.5" fill="#fcf8f7" opacity="0.9"/><path d="M184.7,416.2 Q185.2,411.8 183.6,409.8 Q182,407.8 177.8,407.7 Q173.6,407.6 172.5,411.1 Q171.4,414.6 177.9,417.7 Q184.3,420.7 184.7,416.2Z" stroke="#e070a8" stroke-width="0.8" fill="#f8f0ef" opacity="0.8"/><path d="M154.3,366.9 Q154.2,366.3 159.3,362.9 Q164.4,359.5 167.5,366.2 Q170.6,372.8 162.5,370.2 Q154.3,367.5 154.3,366.9Z" stroke="#e070a8" stroke-width="0.8" fill="#f8f0ef" opacity="0.9"/><path d="M184,409.3 Q185.6,411.3 188.7,409.8 Q191.9,408.3 193,401.3 Q194,394.3 190.3,394.9 Q186.6,395.4 184.7,396.8 Q182.8,398.2 182.6,402.7 Q182.4,407.3 184,409.3Z" stroke="#e070a8" stroke-width="0.5" fill="#fcf8f7" opacity="1"/><path d="M127.4,367.5 Q124.6,371.3 122.4,369.9 Q120.1,368.6 120.1,365.4 Q120.1,362.2 120.4,361.5 Q120.7,360.7 125.1,360.1 Q129.5,359.4 129.8,361.6 Q130.2,363.7 127.4,367.5Z" stroke="#e070a8" stroke-width="0.7" fill="#f8f0ef" opacity="0.9"/><path d="M210.6,368.7 Q220.6,365.3 218,360.2 Q215.4,355 210.8,353.4 Q206.1,351.8 202.4,357.7 Q198.6,363.5 199.6,367.8 Q200.7,372 210.6,368.7Z" stroke="#e070a8" stroke-width="0.7" fill="#faf5f4" opacity="1"/><path d="M197.6,409.7 Q197,409.3 200.3,403.1 Q203.6,396.8 204.6,398.2 Q205.5,399.6 207.1,404.7 Q208.6,409.8 203.5,410 Q198.3,410.2 197.6,409.7Z" stroke="#e070a8" stroke-width="0.5" fill="#f8f0ef" opacity="0.8"/><path d="M174.4,379.1 Q174.5,379 174.2,377.4 Q173.8,375.8 172.4,374.6 Q170.9,373.3 162.8,370.6 Q154.6,368 154,372.2 Q153.3,376.3 159.7,379.7 Q166.1,383.1 170.2,381.1 Q174.3,379.2 174.4,379.1Z" stroke="#e070a8" stroke-width="0.5" fill="#faf5f4" opacity="0.8"/><path d="M201.9,381.8 Q202,384.7 211.3,386.9 Q220.6,389.1 221.9,384.5 Q223.3,379.8 212.6,379.4 Q201.8,378.9 201.9,381.8Z" stroke="#e070a8" stroke-width="0.8" fill="#fcf8f7" opacity="0.8"/><path d="M144.5,393.7 Q141.3,390.6 141.5,389.5 Q141.8,388.4 141.8,388.4 Q141.8,388.4 144.9,387.1 Q148,385.9 149.5,389 Q151.1,392.1 149.4,394.5 Q147.7,396.9 144.5,393.7Z" stroke="#e070a8" stroke-width="0.6" fill="#fcf8f7" opacity="0.9"/><path d="M123.2,333.3 Q120.2,328.1 119.4,328.1 Q118.6,328 117.3,330.1 Q116,332.3 115.7,333 Q115.5,333.7 116,335.8 Q116.5,337.8 119.8,340.5 Q123.2,343.1 124.7,340.9 Q126.3,338.6 123.2,333.3Z" stroke="#e070a8" stroke-width="0.7" fill="#f6ecea" opacity="0.9"/><path d="M136.8,397.7 Q137.2,398.1 139,398.7 Q140.9,399.2 143.8,399.7 Q146.8,400.2 147.1,398.7 Q147.5,397.2 144.3,394 Q141.1,390.9 138.7,394.1 Q136.4,397.3 136.8,397.7Z" stroke="#e070a8" stroke-width="0.6" fill="#faf5f4" opacity="1"/><path d="M117,329.7 Q115.7,331.8 112.9,329.3 Q110.2,326.9 111.8,323.2 Q113.5,319.5 114.3,319.6 Q115.2,319.7 116.8,323.6 Q118.4,327.6 117,329.7Z" stroke="#e070a8" stroke-width="0.9" fill="#f8f0ef" opacity="0.9"/><path d="M158.5,413.3 Q156.9,411.4 151.9,412.4 Q147,413.4 153.1,421.6 Q159.3,429.7 160.3,424.6 Q161.3,419.6 160.7,417.4 Q160.1,415.2 158.5,413.3Z" stroke="#e070a8" stroke-width="0.8" fill="#faf5f4" opacity="0.9"/><path d="M138.9,399.1 Q137,398.5 137.6,405.9 Q138.2,413.3 139.6,412.7 Q140.9,412 140.8,405.9 Q140.7,399.7 138.9,399.1Z" stroke="#e070a8" stroke-width="0.9" fill="#f6ecea" opacity="0.9"/><path d="M207.4,340 Q208.9,337.7 215.9,337.5 Q222.9,337.3 224.6,343.7 Q226.3,350.1 221,352.1 Q215.7,354.2 211.1,352.6 Q206.5,351 206.2,346.6 Q205.9,342.2 207.4,340Z" stroke="#e070a8" stroke-width="0.9" fill="#faf5f4" opacity="1"/><path d="M176.9,331.3 Q175.6,334.2 169.4,333.9 Q163.2,333.6 162.2,329.5 Q161.3,325.4 165.9,323.1 Q170.6,320.9 174.4,324.7 Q178.2,328.4 176.9,331.3Z" stroke="#e070a8" stroke-width="0.9" fill="#fcf8f7" opacity="0.9"/><path d="M171.9,411.1 Q173,407.6 170.8,405.7 Q168.6,403.7 164.6,409.3 Q160.6,414.9 161.2,417.1 Q161.8,419.3 166.3,416.9 Q170.8,414.6 171.9,411.1Z" stroke="#e070a8" stroke-width="0.7" fill="#f8f0ef" opacity="1"/><path d="M178.4,314 Q183.8,314.7 185,318.2 Q186.2,321.7 179.1,319.9 Q172,318 172.5,315.6 Q172.9,313.3 178.4,314Z" stroke="#e070a8" stroke-width="0.8" fill="#fcf8f7" opacity="0.9"/><path d="M149.6,356.7 Q150.3,355.5 155.2,353.4 Q160,351.4 162.5,350.8 Q164.9,350.2 165.3,350.6 Q165.7,350.9 165.7,354 Q165.8,357 165,358 Q164.3,359 159.2,362.4 Q154,365.8 151.3,363.4 Q148.5,361 148.7,359.5 Q148.9,358 149.6,356.7Z" stroke="#e070a8" stroke-width="0.8" fill="#fcf8f7" opacity="0.9"/><path d="M125.1,371.8 Q125.2,372 126.6,372.7 Q127.9,373.5 132.9,371.1 Q137.8,368.8 138.3,367.3 Q138.7,365.9 134.6,364.9 Q130.5,364 127.7,367.8 Q125,371.6 125.1,371.8Z" stroke="#e070a8" stroke-width="0.7" fill="#fcf8f7" opacity="0.8"/><path d="M189.3,330 Q190.1,336 183.6,335.9 Q177.2,335.8 176.7,335.1 Q176.3,334.3 177.6,331.4 Q178.8,328.5 182.9,326 Q187,323.5 187.7,323.8 Q188.5,324.1 189.3,330Z" stroke="#e070a8" stroke-width="0.5" fill="#f8f0ef" opacity="1"/><path d="M226.2,367.3 Q221.5,365.2 218.9,360.1 Q216.3,354.9 221.6,352.9 Q226.9,350.8 228.1,351.6 Q229.4,352.4 231.2,360.3 Q233,368.2 232,368.7 Q230.9,369.3 226.2,367.3Z" stroke="#e070a8" stroke-width="0.7" fill="#fcf8f7" opacity="0.9"/><path d="M177.6,407.2 Q181.8,407.2 182,402.7 Q182.2,398.1 179.2,397 Q176.2,395.8 172,397.7 Q167.8,399.5 168.4,401.3 Q169,403.2 171.2,405.1 Q173.4,407.1 177.6,407.2Z" stroke="#e070a8" stroke-width="0.8" fill="#f6ecea" opacity="0.9"/><path d="M138.4,393.9 Q136,397.1 134.3,396.9 Q132.6,396.7 130.4,393.5 Q128.2,390.3 129.1,389.5 Q130.1,388.7 135.7,388.6 Q141.2,388.5 141,389.6 Q140.8,390.6 138.4,393.9Z" stroke="#e070a8" stroke-width="0.8" fill="#fcf8f7" opacity="1"/><path d="M199.8,341.8 Q194.6,341 191,345.7 Q187.5,350.4 187.5,353.5 Q187.6,356.6 190.3,358.8 Q193,361 195.5,362 Q198,363.1 201.7,357.2 Q205.5,351.3 205.3,347 Q205,342.6 199.8,341.8Z" stroke="#e070a8" stroke-width="0.9" fill="#faf5f4" opacity="0.8"/><path d="M220,309.7 Q217.7,309.6 218.5,311.4 Q219.3,313.2 221,311.7 Q222.7,310.2 222.5,310 Q222.4,309.8 220,309.7Z" stroke="#e070a8" stroke-width="0.6" fill="#fcf8f7" opacity="0.8"/><path d="M214.6,308.1 Q211.8,306.5 211.3,308.8 Q210.8,311.1 212.3,313.7 Q213.8,316.4 216.8,317.1 Q219.7,317.9 219.4,315.6 Q219.1,313.3 218.2,311.5 Q217.4,309.7 214.6,308.1Z" stroke="#e070a8" stroke-width="0.8" fill="#fcf8f7" opacity="0.9"/><path d="M114,354.6 Q114.2,354.5 117.2,356.8 Q120.1,359.1 120.2,359.8 Q120.3,360.5 120,361.2 Q119.7,361.9 116.8,361.1 Q113.9,360.2 113.8,357.4 Q113.7,354.6 114,354.6Z" stroke="#e070a8" stroke-width="0.7" fill="#fcf8f7" opacity="1"/></g>
</g>
<rect x="201.3" y="404.1" width="19" height="2.6" fill="#000" stroke="none" stroke-width="0.8"/>
<rect x="123.1" y="308" width="100.1" height="100.4" fill="none" stroke="#111" stroke-width="1.3"/>
<g clip-path="url(#cp5)">
<rect x="18.2" y="423.6" width="100.8" height="100.7" fill="#ca5ad2" stroke="none" stroke-width="0.8"/>
<g filter="url(#soft2)"><g fill="#d070dc" opacity="0.4"><circle cx="98.2" cy="435.7" r="5.2"/><circle cx="56.5" cy="499.8" r="4.6"/><circle cx="27.5" cy="473.7" r="3.7"/><circle cx="23.4" cy="488.4" r="6.5"/><circle cx="77.1" cy="481.4" r="4.1"/><circle cx="115.4" cy="456.1" r="5"/><circle cx="115.5" cy="496.5" r="3.3"/><circle cx="94.1" cy="515.6" r="3.7"/><circle cx="27.8" cy="513.2" r="3.2"/><circle cx="39" cy="459.4" r="3.4"/><circle cx="31.1" cy="515.6" r="5.2"/><circle cx="26.2" cy="457.4" r="7"/><circle cx="36.2" cy="448.5" r="4.3"/><circle cx="76.8" cy="495.1" r="5.3"/><circle cx="98.2" cy="505" r="3.4"/><circle cx="90" cy="474.5" r="7.3"/><circle cx="46.3" cy="428.9" r="7.6"/><circle cx="86.3" cy="448.3" r="6.6"/><circle cx="71.2" cy="446.8" r="3.8"/><circle cx="56.7" cy="498.9" r="6.2"/><circle cx="57.4" cy="522.2" r="7.5"/><circle cx="101.8" cy="479.3" r="7.9"/><circle cx="117.4" cy="433.7" r="7.5"/><circle cx="87.8" cy="470.7" r="4.5"/><circle cx="80.2" cy="497.4" r="6.5"/><circle cx="80.3" cy="432.1" r="5"/><circle cx="78.1" cy="458.6" r="7.3"/><circle cx="107.8" cy="520.2" r="3.3"/><circle cx="78.7" cy="518.2" r="4.8"/><circle cx="44.2" cy="489.7" r="3.4"/><circle cx="71.4" cy="440.2" r="3.8"/><circle cx="96.6" cy="489.1" r="6.4"/><circle cx="111" cy="438.4" r="7.4"/><circle cx="42.1" cy="460.4" r="7.8"/><circle cx="20.1" cy="494.2" r="3.2"/><circle cx="70.8" cy="519.2" r="5.8"/><circle cx="90.2" cy="506" r="3.6"/><circle cx="72.3" cy="461.2" r="4.3"/><circle cx="102.9" cy="515.9" r="7.3"/><circle cx="51.3" cy="473.2" r="7.4"/><circle cx="68.3" cy="522.9" r="6"/><circle cx="38" cy="464.5" r="6.8"/><circle cx="22.3" cy="503.9" r="7"/><circle cx="101.8" cy="469.6" r="3.2"/><circle cx="92" cy="431.4" r="5.7"/><circle cx="21.3" cy="424.3" r="4.1"/><circle cx="82.8" cy="500.1" r="5.8"/><circle cx="18.6" cy="448.3" r="6.7"/><circle cx="63.7" cy="463.3" r="6.9"/><circle cx="70.6" cy="523.3" r="3.4"/><circle cx="74.6" cy="456.9" r="3.2"/><circle cx="91" cy="483.6" r="6.3"/><circle cx="21.7" cy="499.5" r="7.9"/><circle cx="62.6" cy="427.4" r="4.1"/><circle cx="83.9" cy="497.7" r="4.5"/><circle cx="66.2" cy="465.9" r="7.4"/><circle cx="95.3" cy="519.6" r="7.4"/><circle cx="62.7" cy="432.1" r="3.5"/><circle cx="28.4" cy="434.9" r="6.2"/><circle cx="39" cy="487" r="3.6"/></g><g fill="#b444cc" opacity="0.3"><circle cx="104.8" cy="427.9" r="6.4"/><circle cx="98.4" cy="510.5" r="5.8"/><circle cx="93.7" cy="465.9" r="3.4"/><circle cx="72.5" cy="471.6" r="7"/><circle cx="101.2" cy="494.4" r="3.3"/><circle cx="115.4" cy="457.9" r="7.9"/><circle cx="113.2" cy="498.8" r="4.2"/><circle cx="36.9" cy="506" r="4.8"/><circle cx="91.3" cy="523.7" r="4.9"/><circle cx="114.5" cy="471.8" r="7.9"/><circle cx="68.1" cy="488.6" r="3.1"/><circle cx="61.2" cy="477.3" r="5.1"/><circle cx="27.4" cy="488.5" r="7"/><circle cx="111.5" cy="434.4" r="6.1"/><circle cx="80.1" cy="507.2" r="3.3"/><circle cx="47.5" cy="491.9" r="3.3"/><circle cx="58.4" cy="489.4" r="7.5"/><circle cx="74.4" cy="471.7" r="7.1"/><circle cx="52.6" cy="470.1" r="3.3"/><circle cx="21.1" cy="439.7" r="4.7"/><circle cx="65.7" cy="435" r="6.1"/><circle cx="30.1" cy="445.9" r="6.5"/><circle cx="76.2" cy="464.7" r="5.2"/><circle cx="83.1" cy="433.2" r="6.1"/><circle cx="85.8" cy="449.7" r="5.3"/><circle cx="50.1" cy="521.9" r="5.4"/><circle cx="24.3" cy="462.7" r="5.2"/><circle cx="19.7" cy="443.7" r="7.3"/><circle cx="79.1" cy="471.7" r="5.3"/><circle cx="108.7" cy="439.7" r="4.9"/></g></g>
<g filter="url(#soft)"><g fill="#7c44c8" opacity="0.6"><circle cx="92.6" cy="480.3" r="1"/><circle cx="103.1" cy="509.7" r="0.9"/><circle cx="104.9" cy="444.5" r="0.8"/><circle cx="77" cy="513.8" r="0.9"/><circle cx="21" cy="480.3" r="1"/><circle cx="44.5" cy="453.2" r="1"/><circle cx="41.9" cy="440.2" r="0.7"/><circle cx="64.1" cy="469.6" r="0.8"/><circle cx="21" cy="501.2" r="0.8"/><circle cx="52.1" cy="432.7" r="0.7"/><circle cx="90.1" cy="488" r="1"/><circle cx="102.4" cy="516.9" r="0.8"/><circle cx="43.5" cy="423.6" r="0.7"/><circle cx="72.5" cy="508" r="0.7"/><circle cx="92.4" cy="477.5" r="0.9"/><circle cx="84.8" cy="458.9" r="0.7"/><circle cx="78" cy="469.7" r="0.9"/><circle cx="59.8" cy="424.1" r="0.6"/><circle cx="71.9" cy="474.5" r="0.8"/><circle cx="46.7" cy="473.2" r="0.8"/><circle cx="31.4" cy="516.3" r="0.8"/><circle cx="94.5" cy="425.5" r="0.8"/><circle cx="81.5" cy="488.1" r="0.9"/><circle cx="117.6" cy="458.2" r="0.8"/><circle cx="89.9" cy="426.2" r="0.8"/><circle cx="57.9" cy="518" r="0.9"/><circle cx="110.1" cy="431.2" r="0.7"/><circle cx="49.7" cy="442.8" r="1"/><circle cx="111.1" cy="455.2" r="0.8"/><circle cx="53.1" cy="501" r="0.9"/><circle cx="96.1" cy="510.5" r="0.8"/><circle cx="74.3" cy="449" r="0.8"/><circle cx="116.4" cy="477.4" r="0.8"/><circle cx="48.9" cy="449.4" r="0.8"/><circle cx="25.2" cy="501.6" r="0.6"/><circle cx="71.8" cy="496.7" r="0.8"/><circle cx="28.3" cy="479.1" r="0.9"/><circle cx="33.1" cy="469.3" r="0.9"/><circle cx="55.7" cy="427.5" r="0.8"/><circle cx="35.7" cy="463.6" r="0.9"/><circle cx="27" cy="424.5" r="0.8"/><circle cx="22.5" cy="497.9" r="0.9"/><circle cx="70.9" cy="493.9" r="0.9"/><circle cx="62.4" cy="452.9" r="0.6"/><circle cx="98" cy="450.3" r="1"/><circle cx="36.1" cy="471.2" r="1"/><circle cx="56.4" cy="481.5" r="0.8"/><circle cx="48.6" cy="451" r="0.8"/><circle cx="25.6" cy="428.8" r="0.6"/><circle cx="99.9" cy="485.8" r="0.8"/><circle cx="117.1" cy="474.2" r="0.7"/><circle cx="53.6" cy="504.7" r="0.8"/><circle cx="34.3" cy="470.8" r="0.9"/><circle cx="86.1" cy="450.8" r="0.6"/><circle cx="84.1" cy="453.9" r="0.9"/><circle cx="75.8" cy="429.1" r="0.7"/><circle cx="41.5" cy="507.5" r="0.9"/><circle cx="95.1" cy="508.6" r="0.8"/><circle cx="57.4" cy="445.7" r="0.7"/><circle cx="36.3" cy="497.5" r="0.9"/><circle cx="38.7" cy="424.9" r="1"/><circle cx="23.2" cy="458.8" r="0.6"/><circle cx="111.3" cy="438.1" r="0.6"/><circle cx="28.9" cy="488.7" r="1"/><circle cx="56.8" cy="507" r="1"/><circle cx="35.7" cy="490.2" r="0.8"/><circle cx="116" cy="429.6" r="1"/><circle cx="25.1" cy="444.4" r="1"/><circle cx="77.8" cy="472.3" r="1"/><circle cx="101.9" cy="518.4" r="0.6"/><circle cx="45.3" cy="482.6" r="0.8"/><circle cx="48.5" cy="461.9" r="0.8"/><circle cx="105.2" cy="443.7" r="0.6"/><circle cx="95.2" cy="451.4" r="0.7"/><circle cx="31" cy="493.5" r="0.9"/><circle cx="54.5" cy="468.6" r="0.6"/><circle cx="109.1" cy="447.8" r="0.8"/><circle cx="45.3" cy="518.2" r="1"/><circle cx="110.6" cy="466.3" r="0.6"/><circle cx="93.5" cy="444.5" r="0.9"/><circle cx="51.5" cy="470.2" r="0.9"/><circle cx="109.5" cy="450.5" r="0.6"/><circle cx="72" cy="498.8" r="0.7"/><circle cx="57.5" cy="499.5" r="1"/><circle cx="75" cy="471.5" r="0.8"/><circle cx="31.6" cy="470.8" r="0.7"/><circle cx="53.8" cy="484.6" r="0.6"/><circle cx="55.5" cy="519.6" r="0.6"/><circle cx="80" cy="458.8" r="0.6"/><circle cx="105.1" cy="497.6" r="0.7"/><circle cx="84.2" cy="479.5" r="0.9"/><circle cx="67.7" cy="496.7" r="0.9"/><circle cx="66" cy="451.8" r="0.9"/><circle cx="82.4" cy="451.3" r="0.9"/><circle cx="118.4" cy="490.8" r="0.7"/><circle cx="79.1" cy="424.7" r="0.9"/><circle cx="32.1" cy="497.5" r="1"/><circle cx="40.1" cy="452.3" r="0.9"/><circle cx="43.7" cy="500.8" r="0.8"/><circle cx="91.3" cy="498.6" r="0.9"/><circle cx="52.3" cy="512.8" r="0.8"/><circle cx="28.3" cy="501.7" r="0.9"/><circle cx="86.1" cy="439.4" r="1"/><circle cx="18.6" cy="467.4" r="0.6"/><circle cx="52.7" cy="509.4" r="0.7"/><circle cx="61.7" cy="511.7" r="0.9"/><circle cx="52.1" cy="479.6" r="0.6"/><circle cx="87.7" cy="503.4" r="0.8"/><circle cx="20" cy="511.9" r="1"/><circle cx="95" cy="450.1" r="0.9"/><circle cx="98.6" cy="462.3" r="0.8"/><circle cx="48.2" cy="509.7" r="0.9"/><circle cx="95.1" cy="452.6" r="0.6"/><circle cx="66.6" cy="477.2" r="0.7"/><circle cx="100" cy="442.2" r="0.7"/><circle cx="97.2" cy="501.8" r="0.8"/><circle cx="30.3" cy="476.6" r="0.7"/><circle cx="40.3" cy="430.7" r="0.8"/><circle cx="26.8" cy="446.4" r="0.6"/><circle cx="79.4" cy="517.1" r="0.8"/><circle cx="28.1" cy="489" r="0.8"/><circle cx="99.2" cy="485.2" r="0.9"/><circle cx="61.1" cy="500.7" r="0.6"/><circle cx="20.3" cy="497.3" r="1"/><circle cx="36.4" cy="518.3" r="0.9"/><circle cx="96.1" cy="495.9" r="0.9"/><circle cx="33.3" cy="505.3" r="0.8"/><circle cx="112.8" cy="519.9" r="0.8"/><circle cx="91.1" cy="499.2" r="0.8"/><circle cx="107.6" cy="445.2" r="0.9"/><circle cx="50.9" cy="472.5" r="1"/><circle cx="117.7" cy="498.4" r="0.8"/><circle cx="24.5" cy="433.3" r="0.8"/><circle cx="72.2" cy="443.5" r="0.6"/><circle cx="31.5" cy="519" r="0.9"/><circle cx="87" cy="505.6" r="0.9"/><circle cx="104.5" cy="457.5" r="1"/><circle cx="77.4" cy="486.5" r="0.8"/><circle cx="38" cy="455.5" r="1"/><circle cx="66.5" cy="468.6" r="0.6"/><circle cx="81.1" cy="440.3" r="0.6"/><circle cx="74.4" cy="483.2" r="0.7"/><circle cx="31.6" cy="503.1" r="0.9"/><circle cx="49.8" cy="440.5" r="0.8"/><circle cx="64.8" cy="443.9" r="0.7"/><circle cx="107.5" cy="462.1" r="0.8"/><circle cx="93.8" cy="479.3" r="0.9"/><circle cx="98.6" cy="475.7" r="0.9"/><circle cx="100.4" cy="466.3" r="0.7"/><circle cx="107.2" cy="484.2" r="0.8"/><circle cx="100.2" cy="522.8" r="0.6"/><circle cx="82.9" cy="505.3" r="0.8"/><circle cx="87.4" cy="429.4" r="0.7"/><circle cx="33.6" cy="460.4" r="0.9"/><circle cx="86.3" cy="511" r="0.8"/><circle cx="86" cy="433.7" r="0.8"/><circle cx="56.6" cy="506.6" r="0.9"/><circle cx="116" cy="497.5" r="0.9"/><circle cx="38.7" cy="450.1" r="0.9"/><circle cx="46.6" cy="514" r="0.8"/><circle cx="60" cy="446.3" r="0.9"/><circle cx="35" cy="473.4" r="1"/><circle cx="79.9" cy="523.3" r="0.7"/><circle cx="59.3" cy="512.8" r="0.9"/><circle cx="31.4" cy="466.8" r="0.9"/><circle cx="69.3" cy="444.7" r="0.6"/><circle cx="50.8" cy="456.6" r="0.6"/><circle cx="59.5" cy="482.6" r="1"/><circle cx="28.5" cy="497.8" r="0.7"/><circle cx="76.7" cy="507.5" r="0.8"/><circle cx="76.6" cy="489.8" r="0.9"/><circle cx="108.4" cy="501.6" r="1"/><circle cx="21.1" cy="516.4" r="0.6"/><circle cx="33.5" cy="468.3" r="0.7"/><circle cx="33.8" cy="519.2" r="0.9"/><circle cx="112" cy="516.2" r="0.9"/><circle cx="117" cy="474.1" r="0.6"/><circle cx="82.9" cy="493.4" r="0.7"/><circle cx="45.1" cy="426" r="0.8"/><circle cx="103.2" cy="461.5" r="0.6"/><circle cx="55" cy="461.9" r="0.7"/><circle cx="98.3" cy="508.5" r="0.6"/><circle cx="97.4" cy="512.3" r="0.9"/><circle cx="91.4" cy="447.5" r="0.9"/><circle cx="57.4" cy="511.3" r="0.9"/><circle cx="80.8" cy="504.7" r="0.9"/><circle cx="30.2" cy="449.9" r="0.8"/><circle cx="94" cy="429" r="1"/><circle cx="92.5" cy="425.8" r="0.9"/><circle cx="46" cy="429.8" r="0.7"/><circle cx="116.8" cy="486.1" r="0.9"/><circle cx="107" cy="476.1" r="0.7"/><circle cx="76.9" cy="510.4" r="0.9"/><circle cx="96.8" cy="435.4" r="0.9"/><circle cx="34.6" cy="484" r="0.9"/><circle cx="54.8" cy="439.6" r="0.9"/><circle cx="46.8" cy="474.8" r="0.9"/><circle cx="116.5" cy="476.5" r="0.9"/><circle cx="94.4" cy="504.8" r="0.9"/><circle cx="30" cy="480.3" r="0.8"/><circle cx="102.8" cy="483.7" r="0.9"/><circle cx="115.9" cy="474.7" r="0.7"/><circle cx="105.5" cy="514.3" r="0.9"/><circle cx="37.4" cy="477.7" r="1"/><circle cx="105.2" cy="501.1" r="0.9"/><circle cx="117.5" cy="431.8" r="0.7"/><circle cx="48.2" cy="463.4" r="0.6"/><circle cx="45.2" cy="483.7" r="0.7"/><circle cx="33.3" cy="427.7" r="0.9"/><circle cx="55.9" cy="467.4" r="0.9"/><circle cx="52.5" cy="428.9" r="0.9"/><circle cx="41.1" cy="448.3" r="0.8"/><circle cx="94.1" cy="440.3" r="0.6"/><circle cx="103.6" cy="424.2" r="0.8"/><circle cx="97.6" cy="515.6" r="0.6"/><circle cx="34.7" cy="438.4" r="0.9"/><circle cx="60.9" cy="462.2" r="0.8"/><circle cx="31.3" cy="524.2" r="0.7"/><circle cx="39.7" cy="449.3" r="0.7"/><circle cx="116.3" cy="430.4" r="0.7"/><circle cx="28.8" cy="454.2" r="0.9"/><circle cx="37.1" cy="470.1" r="0.7"/><circle cx="25.5" cy="439.2" r="0.8"/><circle cx="77.6" cy="497.8" r="1"/><circle cx="104.1" cy="462.3" r="0.8"/><circle cx="44.1" cy="500.3" r="0.9"/><circle cx="38" cy="486.1" r="0.8"/><circle cx="82.3" cy="489.2" r="0.8"/><circle cx="114.3" cy="443.6" r="0.7"/><circle cx="53.2" cy="432.6" r="0.8"/><circle cx="106.5" cy="455" r="0.7"/><circle cx="81.9" cy="487" r="0.6"/><circle cx="99.7" cy="481.3" r="0.7"/><circle cx="52.4" cy="459.5" r="0.8"/><circle cx="71" cy="444" r="0.7"/><circle cx="33.3" cy="493.8" r="0.8"/><circle cx="87.9" cy="517.8" r="0.8"/><circle cx="98.3" cy="517.1" r="0.7"/><circle cx="84.5" cy="472.4" r="0.8"/><circle cx="79.3" cy="466.3" r="0.8"/><circle cx="90.7" cy="426.1" r="0.6"/><circle cx="48.2" cy="513.5" r="0.9"/><circle cx="77.9" cy="513.5" r="0.8"/><circle cx="79.2" cy="522.2" r="1"/><circle cx="93.7" cy="463.8" r="0.7"/><circle cx="112.3" cy="509.5" r="0.7"/><circle cx="59" cy="464.8" r="0.7"/><circle cx="53.2" cy="434.1" r="1"/><circle cx="21.3" cy="441.6" r="0.9"/><circle cx="97.7" cy="427.6" r="0.8"/><circle cx="118.5" cy="513.4" r="0.6"/><circle cx="25.3" cy="512.2" r="1"/><circle cx="61.9" cy="502.1" r="0.6"/><circle cx="56.9" cy="476.6" r="0.7"/><circle cx="86.5" cy="496.8" r="0.7"/><circle cx="26.7" cy="517.4" r="0.8"/><circle cx="48.1" cy="516.4" r="0.9"/><circle cx="37.9" cy="464.4" r="0.6"/><circle cx="50.4" cy="475.4" r="0.9"/><circle cx="28" cy="433.3" r="1"/><circle cx="27" cy="494.6" r="0.9"/><circle cx="55" cy="522.8" r="0.9"/><circle cx="31.4" cy="485.1" r="0.8"/><circle cx="116.8" cy="514.6" r="0.9"/><circle cx="96.3" cy="470.8" r="0.8"/><circle cx="18.9" cy="517.7" r="0.9"/><circle cx="68.1" cy="516.3" r="0.9"/><circle cx="85.3" cy="427.1" r="0.8"/><circle cx="31.3" cy="454.6" r="0.9"/><circle cx="18.4" cy="489.1" r="1"/><circle cx="101.8" cy="459.4" r="0.8"/><circle cx="117.8" cy="492" r="0.8"/><circle cx="31.6" cy="467.4" r="0.6"/><circle cx="39.5" cy="511.2" r="0.6"/><circle cx="71" cy="425.3" r="0.9"/><circle cx="103.5" cy="508.5" r="0.9"/><circle cx="118.3" cy="510.3" r="0.9"/><circle cx="115.5" cy="444.3" r="0.7"/><circle cx="89.6" cy="429.4" r="1"/><circle cx="87.6" cy="521" r="0.7"/><circle cx="44.1" cy="428.9" r="0.7"/><circle cx="56" cy="467.1" r="0.8"/><circle cx="111.8" cy="444.1" r="0.7"/><circle cx="27.5" cy="518.6" r="0.8"/><circle cx="117.9" cy="448.7" r="1"/><circle cx="69.2" cy="517.4" r="0.8"/><circle cx="41.5" cy="497.4" r="0.6"/><circle cx="115.7" cy="449.8" r="0.7"/><circle cx="60.4" cy="467.8" r="0.8"/><circle cx="66" cy="466.8" r="0.9"/><circle cx="41.5" cy="477.3" r="0.8"/><circle cx="45.1" cy="431.2" r="0.9"/><circle cx="43.1" cy="488.6" r="0.8"/><circle cx="18.8" cy="442.5" r="0.8"/><circle cx="50.8" cy="520.4" r="0.7"/><circle cx="79.7" cy="491.6" r="0.8"/><circle cx="45.4" cy="468.9" r="0.9"/><circle cx="47.7" cy="467.6" r="0.9"/><circle cx="19.9" cy="514.9" r="0.9"/><circle cx="84.4" cy="452.6" r="0.9"/><circle cx="83.6" cy="484.8" r="0.8"/><circle cx="85.5" cy="492.6" r="0.9"/><circle cx="117.5" cy="494.6" r="0.7"/><circle cx="118.5" cy="469.2" r="0.7"/><circle cx="90.7" cy="424.5" r="0.7"/><circle cx="94.4" cy="494.5" r="0.8"/><circle cx="29.2" cy="496.9" r="0.9"/><circle cx="51.6" cy="445.1" r="0.7"/><circle cx="117.4" cy="522.9" r="0.6"/><circle cx="44" cy="431.5" r="0.9"/><circle cx="118.1" cy="522.5" r="1"/><circle cx="92.4" cy="438.2" r="0.6"/><circle cx="20.8" cy="432.4" r="0.6"/><circle cx="50.5" cy="470.4" r="0.9"/><circle cx="105.6" cy="469.5" r="1"/><circle cx="20" cy="475.4" r="0.9"/><circle cx="54" cy="438.8" r="0.7"/><circle cx="57.4" cy="474.3" r="0.8"/><circle cx="107.3" cy="513.9" r="0.7"/><circle cx="38.7" cy="473.1" r="0.8"/><circle cx="109.4" cy="497.5" r="0.9"/><circle cx="36.5" cy="466.6" r="0.9"/><circle cx="86.6" cy="485.8" r="0.7"/><circle cx="103.4" cy="471.3" r="0.7"/><circle cx="70.6" cy="476.1" r="0.8"/><circle cx="92.5" cy="513.9" r="0.7"/><circle cx="79.4" cy="427.7" r="0.7"/><circle cx="50.6" cy="498.9" r="1"/><circle cx="41.7" cy="504" r="0.7"/><circle cx="18.9" cy="449.2" r="0.7"/><circle cx="63.6" cy="509.1" r="0.8"/><circle cx="83.1" cy="431.3" r="0.7"/><circle cx="65.2" cy="447.1" r="0.6"/><circle cx="100.4" cy="460.4" r="0.9"/><circle cx="98.1" cy="465.2" r="0.7"/><circle cx="107" cy="463" r="0.6"/><circle cx="67.9" cy="509.6" r="1"/><circle cx="78.7" cy="472.9" r="1"/><circle cx="105.3" cy="439.5" r="0.7"/><circle cx="31.5" cy="504.9" r="1"/><circle cx="91.7" cy="479.3" r="0.8"/><circle cx="22.4" cy="496.7" r="0.9"/><circle cx="71.3" cy="439.8" r="0.9"/><circle cx="27.1" cy="437.9" r="0.6"/><circle cx="61.8" cy="494.7" r="0.8"/><circle cx="49.3" cy="451.8" r="0.8"/><circle cx="52.7" cy="435.5" r="0.8"/><circle cx="48.4" cy="511.7" r="1"/><circle cx="35.8" cy="505.1" r="0.7"/><circle cx="108.6" cy="473.5" r="1"/><circle cx="72.7" cy="488.2" r="0.8"/><circle cx="89" cy="459.3" r="0.9"/><circle cx="68.2" cy="452.7" r="0.8"/><circle cx="61.4" cy="504.3" r="0.8"/><circle cx="84" cy="491.6" r="0.8"/><circle cx="32.2" cy="430.5" r="0.7"/><circle cx="31.5" cy="424.7" r="1"/><circle cx="71.4" cy="510.5" r="0.9"/><circle cx="25.2" cy="434.7" r="0.7"/><circle cx="29.5" cy="484.7" r="1"/><circle cx="100.1" cy="453.8" r="0.9"/><circle cx="69.6" cy="436.6" r="0.7"/><circle cx="99.6" cy="512.4" r="0.6"/><circle cx="27.3" cy="458.5" r="0.7"/><circle cx="93.2" cy="432.1" r="0.6"/><circle cx="113.1" cy="436.2" r="0.9"/><circle cx="78.6" cy="439.6" r="0.9"/><circle cx="35.5" cy="493.4" r="0.9"/><circle cx="26.3" cy="471.2" r="0.7"/><circle cx="29.7" cy="503.5" r="0.9"/><circle cx="66.1" cy="514.8" r="0.7"/><circle cx="96.3" cy="462.4" r="0.7"/><circle cx="98.9" cy="474.6" r="1"/><circle cx="68.8" cy="429" r="1"/><circle cx="42.6" cy="455.3" r="0.7"/><circle cx="45.6" cy="514.7" r="0.7"/><circle cx="49.3" cy="480.3" r="0.7"/><circle cx="48.2" cy="494.7" r="0.9"/><circle cx="47.3" cy="465.9" r="0.8"/><circle cx="107.7" cy="512.3" r="1"/><circle cx="23.8" cy="430" r="0.8"/><circle cx="82.1" cy="431.7" r="0.6"/><circle cx="106.8" cy="430.7" r="0.8"/><circle cx="50" cy="483.8" r="0.7"/><circle cx="63.4" cy="475.9" r="0.7"/><circle cx="55.1" cy="484.3" r="0.8"/><circle cx="59.7" cy="489.4" r="0.7"/><circle cx="48.1" cy="479.5" r="0.7"/><circle cx="38.6" cy="507.5" r="1"/><circle cx="31.4" cy="428.1" r="0.6"/><circle cx="71.1" cy="445.2" r="0.6"/><circle cx="31.1" cy="503.9" r="0.9"/><circle cx="46.2" cy="494.4" r="0.7"/><circle cx="109.4" cy="493.3" r="0.9"/><circle cx="74" cy="456.5" r="0.6"/><circle cx="53.9" cy="456.7" r="0.6"/><circle cx="35.2" cy="466.1" r="0.6"/><circle cx="72.8" cy="508.1" r="0.7"/><circle cx="53.5" cy="464.8" r="0.9"/><circle cx="46.3" cy="495.5" r="0.9"/><circle cx="62.5" cy="460.9" r="0.9"/><circle cx="66.6" cy="482.4" r="0.9"/><circle cx="85.9" cy="441.5" r="0.9"/><circle cx="49" cy="425.9" r="0.8"/><circle cx="37.4" cy="458.9" r="0.7"/><circle cx="57.2" cy="462.8" r="0.6"/><circle cx="50.2" cy="520.4" r="1"/><circle cx="40.1" cy="462.6" r="0.7"/><circle cx="118.9" cy="454.5" r="1"/><circle cx="59.3" cy="432.4" r="0.8"/><circle cx="114.1" cy="479.8" r="0.6"/><circle cx="113.7" cy="466.9" r="1"/><circle cx="105.4" cy="425.4" r="0.8"/><circle cx="78.1" cy="498.5" r="0.9"/><circle cx="113.6" cy="508" r="0.7"/><circle cx="38.6" cy="491.2" r="0.8"/><circle cx="52.1" cy="509.9" r="0.8"/><circle cx="105.9" cy="448.3" r="0.9"/><circle cx="113.5" cy="427.1" r="0.9"/><circle cx="44.7" cy="468.8" r="0.8"/><circle cx="92" cy="510.4" r="0.9"/><circle cx="107.1" cy="496" r="0.8"/><circle cx="114.9" cy="457.4" r="0.9"/><circle cx="33.3" cy="425.5" r="0.7"/><circle cx="64.3" cy="443.6" r="0.7"/><circle cx="52.9" cy="490.4" r="0.6"/><circle cx="70.1" cy="489" r="0.9"/><circle cx="23" cy="509.7" r="0.7"/><circle cx="45.1" cy="514.9" r="0.8"/><circle cx="42.2" cy="436.4" r="0.8"/><circle cx="99.4" cy="472.9" r="0.8"/><circle cx="71.3" cy="494.9" r="1"/><circle cx="48.7" cy="519.8" r="0.6"/><circle cx="48.5" cy="448.8" r="0.8"/><circle cx="104.6" cy="511.8" r="0.6"/><circle cx="58.4" cy="459.8" r="0.9"/><circle cx="35.1" cy="523.8" r="0.6"/><circle cx="102.8" cy="464.3" r="0.6"/><circle cx="56.5" cy="490.3" r="0.9"/><circle cx="53.2" cy="463.9" r="0.9"/><circle cx="66.8" cy="434.6" r="0.9"/><circle cx="83.7" cy="487.7" r="0.6"/><circle cx="70.1" cy="439.3" r="0.8"/><circle cx="42.1" cy="480.8" r="0.9"/><circle cx="39.3" cy="501.7" r="0.7"/><circle cx="23.4" cy="476" r="0.9"/><circle cx="58.9" cy="449.5" r="0.8"/><circle cx="67.6" cy="448.3" r="0.7"/><circle cx="70.7" cy="511.6" r="0.6"/><circle cx="52.7" cy="515" r="0.6"/><circle cx="82.1" cy="486.9" r="1"/><circle cx="99.5" cy="478.8" r="0.7"/><circle cx="45.6" cy="445.6" r="0.9"/><circle cx="19.6" cy="477.7" r="1"/><circle cx="43.7" cy="469.3" r="0.7"/><circle cx="40.2" cy="493.1" r="0.6"/><circle cx="45.4" cy="430.8" r="0.7"/><circle cx="82.9" cy="438.6" r="0.7"/><circle cx="35.9" cy="514.6" r="0.6"/><circle cx="76.5" cy="490.6" r="0.9"/><circle cx="74.5" cy="478.7" r="0.9"/><circle cx="45.5" cy="497.3" r="0.9"/><circle cx="38.8" cy="443.5" r="1"/><circle cx="74.1" cy="503.4" r="0.9"/><circle cx="24" cy="427.5" r="0.8"/><circle cx="65.7" cy="486.7" r="0.8"/><circle cx="100.3" cy="508.3" r="0.9"/><circle cx="116" cy="437.4" r="0.9"/><circle cx="118.2" cy="447.3" r="0.6"/><circle cx="98.2" cy="435.7" r="0.8"/><circle cx="63.1" cy="425.7" r="0.9"/><circle cx="88" cy="507.9" r="0.7"/><circle cx="84.6" cy="460.4" r="0.7"/><circle cx="115.4" cy="477.4" r="0.9"/><circle cx="103.4" cy="487.9" r="0.8"/><circle cx="48.3" cy="482.3" r="0.7"/><circle cx="88.7" cy="506.5" r="0.8"/><circle cx="53.8" cy="497.3" r="0.6"/><circle cx="45.5" cy="426.4" r="0.6"/><circle cx="99.7" cy="439.8" r="1"/><circle cx="25" cy="517.6" r="1"/><circle cx="101.6" cy="505.4" r="0.9"/><circle cx="66.6" cy="430.4" r="1"/><circle cx="55.2" cy="502.1" r="0.9"/><circle cx="107.3" cy="430.7" r="0.8"/><circle cx="61.1" cy="447.5" r="0.7"/><circle cx="113.7" cy="480.3" r="1"/><circle cx="118.5" cy="518.3" r="0.7"/><circle cx="60.2" cy="485.1" r="1"/><circle cx="65.9" cy="511.6" r="1"/><circle cx="71.9" cy="451" r="0.8"/><circle cx="80.5" cy="479.9" r="0.9"/><circle cx="25.6" cy="481.8" r="0.8"/><circle cx="77" cy="515.1" r="0.9"/><circle cx="46.2" cy="449" r="0.9"/><circle cx="117.8" cy="480.3" r="0.9"/><circle cx="57.3" cy="504.3" r="0.7"/><circle cx="65.3" cy="517.2" r="0.7"/><circle cx="65.9" cy="440.7" r="0.7"/><circle cx="92.3" cy="519.3" r="0.9"/><circle cx="103.6" cy="466.4" r="1"/><circle cx="24.3" cy="446.2" r="0.8"/><circle cx="113.1" cy="493.6" r="0.9"/><circle cx="93.9" cy="474" r="0.8"/><circle cx="110.1" cy="504.6" r="0.9"/><circle cx="117.1" cy="434.6" r="0.6"/><circle cx="38.1" cy="435.8" r="1"/><circle cx="107.5" cy="497.5" r="0.9"/><circle cx="94.4" cy="437.7" r="0.8"/><circle cx="110.5" cy="442.3" r="0.8"/><circle cx="99.3" cy="451.6" r="0.7"/><circle cx="93.3" cy="457.6" r="0.9"/><circle cx="69.9" cy="487.1" r="0.9"/><circle cx="75.3" cy="466.2" r="0.8"/><circle cx="29.2" cy="458.9" r="0.9"/><circle cx="112" cy="462.4" r="0.9"/><circle cx="45.3" cy="462" r="0.9"/><circle cx="103" cy="441.4" r="0.8"/><circle cx="57.2" cy="517.7" r="0.8"/><circle cx="111.5" cy="471.1" r="1"/><circle cx="82.4" cy="490.6" r="0.8"/><circle cx="74.4" cy="509" r="0.7"/><circle cx="85.2" cy="498.5" r="0.8"/><circle cx="86.1" cy="472.3" r="0.8"/><circle cx="104.4" cy="452.4" r="1"/><circle cx="24.3" cy="470.2" r="0.8"/><circle cx="68.6" cy="519" r="0.8"/><circle cx="75.3" cy="442.6" r="0.9"/><circle cx="72.7" cy="427.7" r="0.8"/><circle cx="73.6" cy="470.4" r="1"/><circle cx="49.4" cy="522.3" r="0.8"/><circle cx="32.6" cy="458.4" r="0.9"/><circle cx="33.1" cy="448.6" r="0.8"/><circle cx="109.5" cy="503.6" r="0.8"/><circle cx="45.2" cy="518.1" r="0.7"/><circle cx="101.3" cy="448.1" r="0.7"/><circle cx="91.3" cy="464.1" r="0.9"/><circle cx="30.2" cy="507.4" r="1"/><circle cx="49.5" cy="435.7" r="0.9"/><circle cx="59" cy="505.9" r="0.8"/><circle cx="27.2" cy="478.2" r="0.6"/><circle cx="94" cy="505.9" r="0.9"/><circle cx="105" cy="437" r="0.9"/><circle cx="66.4" cy="446.1" r="0.6"/><circle cx="60.3" cy="433.6" r="0.7"/><circle cx="95.9" cy="473.1" r="0.7"/><circle cx="51.7" cy="485.3" r="0.7"/><circle cx="23.3" cy="521.7" r="1"/><circle cx="50.9" cy="442.7" r="0.6"/><circle cx="73.2" cy="497.1" r="1"/><circle cx="103" cy="453" r="0.8"/><circle cx="75.2" cy="499.9" r="0.7"/><circle cx="61.3" cy="505.7" r="0.7"/><circle cx="24.3" cy="519.3" r="0.8"/><circle cx="49.7" cy="512.4" r="1"/><circle cx="75.6" cy="477.6" r="0.8"/><circle cx="23.7" cy="513.9" r="0.9"/><circle cx="38.6" cy="499.5" r="0.7"/><circle cx="23.5" cy="483.3" r="0.7"/><circle cx="76.6" cy="489.3" r="1"/><circle cx="87.1" cy="452.8" r="0.7"/><circle cx="44.6" cy="511.5" r="1"/><circle cx="113.5" cy="510.7" r="0.9"/><circle cx="42" cy="511.5" r="0.9"/><circle cx="61.4" cy="492.7" r="0.7"/><circle cx="78.1" cy="446.6" r="0.7"/><circle cx="46.9" cy="514.1" r="0.7"/><circle cx="90.3" cy="486.2" r="0.9"/><circle cx="19.7" cy="480.6" r="1"/><circle cx="102.8" cy="426.3" r="0.8"/><circle cx="68" cy="500.7" r="0.9"/><circle cx="93" cy="511" r="0.9"/><circle cx="112.8" cy="484.6" r="1"/><circle cx="107.8" cy="446.1" r="0.8"/><circle cx="20.5" cy="496.1" r="0.8"/><circle cx="112.6" cy="478" r="0.8"/><circle cx="87.1" cy="475.6" r="0.7"/><circle cx="89.4" cy="523.5" r="0.9"/><circle cx="82" cy="487.4" r="0.6"/><circle cx="32.3" cy="470.8" r="0.9"/><circle cx="104.5" cy="477.9" r="0.7"/><circle cx="76.2" cy="438.5" r="0.6"/><circle cx="100.3" cy="470.2" r="0.8"/><circle cx="58" cy="518.3" r="0.9"/><circle cx="57.5" cy="523.8" r="1"/><circle cx="97.2" cy="484.1" r="0.8"/><circle cx="22.3" cy="471.2" r="0.6"/><circle cx="100.7" cy="502.3" r="0.7"/><circle cx="44.2" cy="509.5" r="0.9"/><circle cx="92.5" cy="433.1" r="0.8"/><circle cx="95.5" cy="455.3" r="0.8"/><circle cx="117" cy="508.4" r="0.8"/><circle cx="93.3" cy="487.3" r="0.7"/><circle cx="109.2" cy="471" r="0.7"/><circle cx="37.6" cy="509.8" r="0.7"/><circle cx="110.9" cy="435" r="0.7"/><circle cx="42.6" cy="464.9" r="0.7"/><circle cx="87.6" cy="473.8" r="0.7"/><circle cx="41.8" cy="472.2" r="0.7"/><circle cx="67.5" cy="490.5" r="0.6"/><circle cx="29.8" cy="507.3" r="0.9"/><circle cx="95.9" cy="451.2" r="0.7"/><circle cx="99.2" cy="503.3" r="0.9"/><circle cx="30.4" cy="497.4" r="1"/><circle cx="31.7" cy="439.9" r="0.6"/><circle cx="72.2" cy="451" r="0.8"/><circle cx="18.3" cy="425.5" r="0.8"/><circle cx="71.5" cy="448.7" r="0.7"/><circle cx="97.2" cy="493" r="0.8"/><circle cx="72.4" cy="452.8" r="0.9"/><circle cx="45.6" cy="459.5" r="0.8"/><circle cx="80.9" cy="461.3" r="0.9"/><circle cx="102.3" cy="486.7" r="0.7"/><circle cx="95.9" cy="463.6" r="0.7"/><circle cx="19.2" cy="454.1" r="0.6"/><circle cx="89.5" cy="486.2" r="0.8"/><circle cx="110.2" cy="490.2" r="0.8"/><circle cx="36.4" cy="427.9" r="0.8"/><circle cx="108.3" cy="523.4" r="1"/><circle cx="38.6" cy="433" r="0.6"/><circle cx="56.6" cy="479.3" r="0.8"/><circle cx="34.3" cy="451.2" r="0.9"/><circle cx="31.3" cy="507.1" r="0.7"/><circle cx="33.9" cy="516.1" r="0.9"/><circle cx="109.1" cy="515" r="0.7"/><circle cx="66.4" cy="456.9" r="0.9"/><circle cx="60" cy="453" r="0.6"/><circle cx="97.6" cy="423.9" r="0.8"/><circle cx="54.4" cy="503.8" r="0.7"/><circle cx="104.8" cy="513.9" r="0.6"/><circle cx="104.9" cy="478.2" r="0.8"/><circle cx="38.4" cy="449.5" r="0.6"/><circle cx="30.2" cy="515.1" r="0.7"/><circle cx="107.9" cy="477.6" r="0.8"/><circle cx="31.8" cy="490" r="0.8"/><circle cx="52.5" cy="472.3" r="0.6"/><circle cx="81.8" cy="514.4" r="0.7"/><circle cx="30.8" cy="462.5" r="0.9"/><circle cx="92.4" cy="517" r="0.7"/><circle cx="92.5" cy="440.5" r="0.7"/><circle cx="70.9" cy="479.7" r="0.8"/><circle cx="56.4" cy="447.5" r="0.7"/><circle cx="50.4" cy="436.4" r="0.8"/><circle cx="26.2" cy="486.8" r="0.9"/><circle cx="63.1" cy="497.8" r="0.9"/><circle cx="96.3" cy="503.8" r="0.7"/><circle cx="39.9" cy="518.8" r="0.9"/><circle cx="95" cy="488.1" r="0.7"/><circle cx="21.8" cy="514.4" r="0.7"/><circle cx="118.3" cy="468.8" r="0.8"/><circle cx="25.1" cy="439.5" r="0.9"/><circle cx="111.9" cy="487.7" r="0.7"/><circle cx="48.7" cy="460.5" r="0.9"/><circle cx="103" cy="436.8" r="0.8"/><circle cx="96" cy="448" r="0.8"/><circle cx="18.5" cy="429.6" r="1"/><circle cx="101.3" cy="425.3" r="0.8"/><circle cx="117.2" cy="457.8" r="0.9"/><circle cx="111.7" cy="501.4" r="0.8"/><circle cx="38.4" cy="522.9" r="0.9"/><circle cx="32.7" cy="499.8" r="0.6"/><circle cx="33.9" cy="520.3" r="1"/><circle cx="24.2" cy="452.9" r="0.7"/><circle cx="98.9" cy="509" r="0.8"/><circle cx="52.5" cy="425.3" r="0.7"/><circle cx="88.5" cy="445.3" r="0.7"/><circle cx="112.1" cy="520.4" r="0.9"/><circle cx="68.8" cy="496.4" r="0.7"/><circle cx="106.1" cy="442.5" r="0.8"/><circle cx="94" cy="439.3" r="0.7"/><circle cx="31.5" cy="459.4" r="0.9"/><circle cx="53.8" cy="511.4" r="1"/><circle cx="101.5" cy="466.8" r="0.6"/><circle cx="95.1" cy="476.4" r="0.8"/><circle cx="78" cy="519.8" r="0.9"/><circle cx="108.7" cy="499.4" r="0.8"/><circle cx="92.5" cy="448.8" r="0.9"/><circle cx="37.7" cy="522.9" r="0.8"/><circle cx="75.4" cy="442.6" r="0.7"/><circle cx="103.1" cy="456.2" r="0.7"/><circle cx="39.4" cy="478.8" r="0.7"/><circle cx="115.7" cy="485.6" r="0.7"/><circle cx="53.1" cy="463.8" r="0.9"/><circle cx="38.7" cy="455.1" r="0.7"/><circle cx="101.3" cy="512.3" r="0.7"/><circle cx="70" cy="481.8" r="0.9"/><circle cx="116.7" cy="428.2" r="0.7"/><circle cx="95.2" cy="457.5" r="0.7"/><circle cx="104.4" cy="468.9" r="0.7"/><circle cx="51.3" cy="461.2" r="0.7"/><circle cx="74.1" cy="424.5" r="0.7"/><circle cx="118.9" cy="480.6" r="0.7"/><circle cx="104.5" cy="462.8" r="0.9"/><circle cx="53.2" cy="521.9" r="0.8"/><circle cx="48.5" cy="492.5" r="0.9"/><circle cx="69.3" cy="512.6" r="1"/><circle cx="113.8" cy="523.7" r="0.9"/><circle cx="30" cy="425.7" r="0.8"/><circle cx="33.3" cy="469.1" r="1"/><circle cx="112.3" cy="488.1" r="0.7"/><circle cx="25.8" cy="433.4" r="1"/><circle cx="24.9" cy="450.4" r="0.9"/><circle cx="86.4" cy="522.7" r="0.9"/><circle cx="101.3" cy="477" r="0.9"/><circle cx="65.9" cy="428.8" r="0.9"/><circle cx="25.4" cy="438.2" r="0.8"/><circle cx="48" cy="516.9" r="0.8"/><circle cx="89.6" cy="460" r="0.7"/><circle cx="50.3" cy="514.4" r="0.9"/><circle cx="65.7" cy="481" r="0.7"/><circle cx="51.9" cy="481.8" r="0.9"/><circle cx="30.6" cy="521.5" r="0.7"/><circle cx="39" cy="474.5" r="0.7"/><circle cx="118.3" cy="462.4" r="0.7"/><circle cx="74.5" cy="506.9" r="0.8"/><circle cx="76.4" cy="479.1" r="0.7"/><circle cx="32.4" cy="473.3" r="0.8"/><circle cx="95.7" cy="451.1" r="0.8"/><circle cx="75.1" cy="520.8" r="0.8"/><circle cx="92.4" cy="512.7" r="0.9"/><circle cx="80.3" cy="477.8" r="0.6"/><circle cx="101.6" cy="507.3" r="0.8"/><circle cx="48.6" cy="508.4" r="0.9"/><circle cx="52" cy="493.1" r="1"/><circle cx="105" cy="485.4" r="0.7"/><circle cx="39" cy="510.8" r="0.9"/><circle cx="35.6" cy="458.5" r="0.8"/><circle cx="23.8" cy="444.1" r="0.9"/><circle cx="82.1" cy="466.2" r="0.9"/><circle cx="68.3" cy="436.8" r="0.9"/><circle cx="61.9" cy="476.2" r="0.8"/><circle cx="96" cy="517.5" r="0.6"/><circle cx="85.5" cy="478" r="0.9"/><circle cx="106.6" cy="444.3" r="1"/><circle cx="87.6" cy="503.1" r="1"/><circle cx="93.3" cy="508.9" r="1"/><circle cx="87.4" cy="520.1" r="0.9"/><circle cx="102.6" cy="475" r="0.8"/><circle cx="52.8" cy="514" r="0.8"/><circle cx="107.4" cy="432.4" r="0.9"/><circle cx="86.2" cy="491.4" r="0.9"/><circle cx="41.2" cy="493.1" r="1"/><circle cx="93.4" cy="519.4" r="0.8"/><circle cx="77.7" cy="449.5" r="0.8"/><circle cx="41.3" cy="450.8" r="0.8"/><circle cx="36.5" cy="497.6" r="0.6"/><circle cx="101.3" cy="439.8" r="0.9"/><circle cx="102.1" cy="521.1" r="0.8"/><circle cx="47.4" cy="459.8" r="1"/><circle cx="29.4" cy="440.8" r="0.6"/></g><g fill="#e8b8f0" opacity="0.6"><circle cx="88.9" cy="473" r="0.8"/><circle cx="55.9" cy="493.6" r="0.5"/><circle cx="112.9" cy="471.3" r="0.8"/><circle cx="97.4" cy="480.1" r="0.4"/><circle cx="84" cy="437.3" r="0.6"/><circle cx="100.3" cy="428.9" r="0.8"/><circle cx="70.2" cy="452.3" r="0.7"/><circle cx="63.8" cy="429.6" r="0.7"/><circle cx="118.7" cy="519.7" r="0.6"/><circle cx="27.2" cy="486.1" r="0.4"/><circle cx="24.1" cy="496.4" r="0.7"/><circle cx="40.8" cy="476.9" r="0.8"/><circle cx="93.9" cy="435.7" r="0.6"/><circle cx="95.4" cy="437.1" r="0.6"/><circle cx="18.3" cy="482.1" r="0.6"/><circle cx="45.9" cy="450.7" r="0.7"/><circle cx="62.7" cy="523.8" r="0.7"/><circle cx="18.9" cy="519.1" r="0.6"/><circle cx="56.5" cy="501.7" r="0.7"/><circle cx="101.4" cy="474.9" r="0.8"/><circle cx="117.5" cy="460.5" r="0.6"/><circle cx="29" cy="430.6" r="0.4"/><circle cx="67.3" cy="495.6" r="0.5"/><circle cx="89" cy="439.8" r="0.7"/><circle cx="79.2" cy="424.4" r="0.8"/><circle cx="78.4" cy="436.3" r="0.4"/><circle cx="69.2" cy="489.3" r="0.8"/><circle cx="27" cy="519.8" r="0.5"/><circle cx="73.5" cy="464.6" r="0.7"/><circle cx="77.9" cy="495" r="0.8"/><circle cx="86.8" cy="457.9" r="0.6"/><circle cx="44.6" cy="483" r="0.5"/><circle cx="90.8" cy="499.5" r="0.6"/><circle cx="115.2" cy="460.3" r="0.7"/><circle cx="34.5" cy="473.9" r="0.5"/><circle cx="32.6" cy="473.5" r="0.5"/><circle cx="84.4" cy="433.1" r="0.5"/><circle cx="58" cy="481.5" r="0.6"/><circle cx="37.1" cy="522.5" r="0.6"/><circle cx="80.7" cy="498.8" r="0.6"/><circle cx="92" cy="445.7" r="0.5"/><circle cx="106.3" cy="465" r="0.8"/><circle cx="72.4" cy="477.7" r="0.6"/><circle cx="95.3" cy="486.4" r="0.4"/><circle cx="69.4" cy="505" r="0.7"/><circle cx="24.1" cy="431.8" r="0.7"/><circle cx="52.5" cy="493.7" r="0.7"/><circle cx="34.6" cy="434.2" r="0.5"/><circle cx="117.6" cy="468.9" r="0.5"/><circle cx="32.2" cy="500.4" r="0.8"/><circle cx="21.4" cy="490.1" r="0.4"/><circle cx="103.7" cy="439" r="0.6"/><circle cx="39.5" cy="473.1" r="0.7"/><circle cx="39.3" cy="502.1" r="0.6"/><circle cx="34.5" cy="485.3" r="0.7"/><circle cx="111" cy="431.9" r="0.7"/><circle cx="76.2" cy="521.2" r="0.7"/><circle cx="91.9" cy="495.9" r="0.5"/><circle cx="53.4" cy="485.3" r="0.4"/><circle cx="56.6" cy="432.1" r="0.7"/><circle cx="39" cy="491.1" r="0.5"/><circle cx="85.9" cy="452.2" r="0.7"/><circle cx="92.9" cy="453.8" r="0.5"/><circle cx="20" cy="482.5" r="0.5"/><circle cx="48" cy="486" r="0.6"/><circle cx="77.5" cy="507.2" r="0.8"/><circle cx="118.8" cy="504.7" r="0.6"/><circle cx="31.7" cy="472.1" r="0.7"/><circle cx="64" cy="497.2" r="0.8"/><circle cx="111.6" cy="432.7" r="0.6"/><circle cx="109.2" cy="424.2" r="0.4"/><circle cx="79.8" cy="476.7" r="0.5"/><circle cx="70.6" cy="458.7" r="0.7"/><circle cx="52.2" cy="508" r="0.5"/><circle cx="31.1" cy="472.4" r="0.5"/><circle cx="110.3" cy="454.7" r="0.7"/><circle cx="67" cy="446.3" r="0.6"/><circle cx="91.2" cy="470.6" r="0.7"/><circle cx="86.3" cy="464.7" r="0.6"/><circle cx="79.7" cy="429.3" r="0.8"/><circle cx="57.5" cy="426.8" r="0.5"/><circle cx="67.8" cy="491.9" r="0.5"/><circle cx="42.9" cy="447.3" r="0.8"/><circle cx="68.4" cy="495.1" r="0.5"/><circle cx="53.5" cy="450.2" r="0.7"/><circle cx="81.8" cy="468" r="0.4"/><circle cx="77.7" cy="459.8" r="0.5"/><circle cx="63.6" cy="479.6" r="0.4"/><circle cx="38.9" cy="463.3" r="0.5"/><circle cx="63" cy="462.6" r="0.7"/><circle cx="37.3" cy="481.3" r="0.5"/><circle cx="99" cy="502.7" r="0.6"/><circle cx="80.8" cy="520.9" r="0.6"/><circle cx="30.3" cy="462.7" r="0.6"/><circle cx="42.8" cy="487.3" r="0.8"/><circle cx="28.9" cy="471.8" r="0.5"/><circle cx="68.4" cy="461.5" r="0.5"/><circle cx="105.5" cy="473.6" r="0.7"/><circle cx="61.2" cy="446.4" r="0.6"/><circle cx="31.9" cy="491.3" r="0.6"/><circle cx="103.5" cy="430.7" r="0.6"/><circle cx="86.5" cy="460" r="0.8"/><circle cx="64.9" cy="522.7" r="0.7"/><circle cx="93.9" cy="463.4" r="0.7"/><circle cx="41.1" cy="495" r="0.7"/><circle cx="63.7" cy="472.2" r="0.6"/><circle cx="20" cy="522.3" r="0.6"/><circle cx="106.7" cy="462.2" r="0.5"/><circle cx="92.5" cy="480.1" r="0.6"/><circle cx="106" cy="492.4" r="0.8"/><circle cx="33" cy="489.2" r="0.6"/><circle cx="42.2" cy="498.5" r="0.7"/><circle cx="82.2" cy="478.8" r="0.6"/><circle cx="30.5" cy="487.3" r="0.4"/><circle cx="107.8" cy="507.9" r="0.6"/><circle cx="78.2" cy="484.6" r="0.7"/><circle cx="100.3" cy="456" r="0.7"/><circle cx="30.3" cy="504.9" r="0.6"/><circle cx="91.5" cy="434.9" r="0.7"/><circle cx="38.3" cy="431.8" r="0.5"/><circle cx="76.2" cy="523" r="0.6"/><circle cx="49.6" cy="500.3" r="0.5"/><circle cx="36.6" cy="432.8" r="0.7"/><circle cx="101.6" cy="440.2" r="0.8"/><circle cx="57.5" cy="500.1" r="0.6"/><circle cx="30" cy="459.6" r="0.5"/><circle cx="40.4" cy="514.2" r="0.5"/><circle cx="74.1" cy="502.4" r="0.7"/><circle cx="91.3" cy="484.8" r="0.5"/><circle cx="46.8" cy="515.8" r="0.6"/><circle cx="118.6" cy="488.3" r="0.5"/><circle cx="61.7" cy="477.1" r="0.6"/><circle cx="88.8" cy="508.2" r="0.4"/><circle cx="79" cy="485.3" r="0.7"/><circle cx="30.6" cy="448.3" r="0.8"/><circle cx="49.4" cy="512.9" r="0.7"/><circle cx="50.8" cy="523.6" r="0.8"/><circle cx="76.6" cy="436.6" r="0.5"/><circle cx="30" cy="432" r="0.4"/><circle cx="44.6" cy="443.4" r="0.6"/><circle cx="46.1" cy="512.6" r="0.5"/><circle cx="85" cy="501.5" r="0.8"/><circle cx="115" cy="440.8" r="0.4"/><circle cx="104.3" cy="503.2" r="0.5"/><circle cx="33.8" cy="489.5" r="0.5"/><circle cx="62.5" cy="457.8" r="0.5"/><circle cx="60.1" cy="503.4" r="0.6"/><circle cx="94.5" cy="474.7" r="0.7"/><circle cx="112.9" cy="446.5" r="0.6"/><circle cx="52.6" cy="508.5" r="0.5"/><circle cx="96.9" cy="487.6" r="0.5"/><circle cx="74.4" cy="513" r="0.5"/><circle cx="118.7" cy="521.1" r="0.4"/><circle cx="100.5" cy="443.3" r="0.7"/><circle cx="74.9" cy="520.3" r="0.6"/><circle cx="22.7" cy="486.9" r="0.7"/><circle cx="111" cy="522.3" r="0.6"/><circle cx="96.7" cy="428.8" r="0.6"/><circle cx="58.5" cy="435.1" r="0.6"/><circle cx="80.5" cy="522.6" r="0.8"/><circle cx="70.2" cy="506.9" r="0.6"/><circle cx="37.2" cy="437.2" r="0.5"/><circle cx="74" cy="455.6" r="0.4"/><circle cx="66" cy="505.5" r="0.6"/><circle cx="42.5" cy="499.8" r="0.4"/><circle cx="36" cy="523.7" r="0.7"/><circle cx="21.8" cy="511.3" r="0.6"/><circle cx="75.3" cy="447.2" r="0.7"/><circle cx="63.5" cy="433.8" r="0.6"/><circle cx="28.4" cy="512.7" r="0.8"/><circle cx="44.9" cy="513.8" r="0.6"/><circle cx="75.3" cy="509.5" r="0.5"/><circle cx="111.4" cy="461.6" r="0.4"/><circle cx="88.3" cy="445" r="0.6"/><circle cx="56.7" cy="483.6" r="0.4"/><circle cx="95.5" cy="453.8" r="0.6"/><circle cx="81.6" cy="444.7" r="0.5"/><circle cx="85.7" cy="438" r="0.5"/><circle cx="110.6" cy="475.3" r="0.7"/><circle cx="39.5" cy="456.3" r="0.6"/><circle cx="71.6" cy="444.5" r="0.5"/><circle cx="73.4" cy="449" r="0.8"/><circle cx="104.1" cy="495.7" r="0.5"/><circle cx="57.9" cy="496.6" r="0.7"/><circle cx="70.4" cy="429.5" r="0.6"/><circle cx="35.9" cy="430.8" r="0.5"/><circle cx="58.3" cy="520.2" r="0.8"/><circle cx="76.7" cy="520.3" r="0.7"/><circle cx="99.8" cy="509" r="0.6"/><circle cx="92.6" cy="520.4" r="0.5"/><circle cx="35" cy="474.9" r="0.6"/><circle cx="82.2" cy="514.9" r="0.7"/><circle cx="22.2" cy="429" r="0.4"/><circle cx="62.6" cy="453.7" r="0.6"/><circle cx="88.7" cy="454" r="0.6"/><circle cx="111.4" cy="500.2" r="0.7"/><circle cx="43.1" cy="496" r="0.5"/><circle cx="112.6" cy="464.2" r="0.5"/><circle cx="21.4" cy="504.8" r="0.7"/><circle cx="117.3" cy="455.5" r="0.6"/><circle cx="79.4" cy="486.8" r="0.7"/><circle cx="29.8" cy="507.8" r="0.4"/><circle cx="47.3" cy="442.7" r="0.7"/><circle cx="78.9" cy="468" r="0.7"/><circle cx="33.1" cy="434.3" r="0.6"/><circle cx="34.7" cy="509.8" r="0.8"/><circle cx="89.6" cy="431" r="0.6"/><circle cx="25.3" cy="498.2" r="0.5"/><circle cx="29.2" cy="507" r="0.7"/><circle cx="53.1" cy="432.4" r="0.4"/><circle cx="52.8" cy="433.3" r="0.5"/><circle cx="68.7" cy="501.7" r="0.5"/><circle cx="33.2" cy="438.7" r="0.7"/><circle cx="77.5" cy="501.1" r="0.7"/><circle cx="43.6" cy="476.4" r="0.5"/><circle cx="63.4" cy="519.9" r="0.7"/><circle cx="90.8" cy="505.9" r="0.7"/><circle cx="68.2" cy="469.8" r="0.5"/><circle cx="63.8" cy="438.1" r="0.8"/><circle cx="37.4" cy="499" r="0.7"/></g><ellipse cx="75.7" cy="442.5" rx="1.1" ry="2.4" fill="#fff" transform="rotate(25 75.7 442.5)"/><circle cx="110.5" cy="439" r="1.4" fill="#fff"/><ellipse cx="83.2" cy="494" rx="0.8" ry="2" fill="#f8eef8" transform="rotate(40 83.2 494)"/><ellipse cx="80.8" cy="466.6" rx="0.8" ry="1.6" fill="#f8eef8" transform="rotate(-40 80.8 466.6)"/></g>
</g>
<rect x="92.4" y="518.4" width="23.7" height="2.6" fill="#000" stroke="none" stroke-width="0.8"/>
<rect x="18.2" y="423.6" width="100.8" height="100.7" fill="none" stroke="#111" stroke-width="1.3"/>
<g clip-path="url(#cp6)">
<rect x="122.5" y="423.8" width="100.7" height="100.5" fill="#9c58c8" stroke="none" stroke-width="0.8"/>
<g filter="url(#soft2)"><g fill="#c080d8" opacity="0.6"><circle cx="132.8" cy="444.1" r="3.7"/><circle cx="123.9" cy="436" r="3.9"/><circle cx="133.9" cy="499.7" r="2.7"/><circle cx="221.1" cy="493.1" r="2.1"/><circle cx="200.2" cy="440" r="2.6"/><circle cx="172.5" cy="511" r="3.2"/><circle cx="195.3" cy="494.8" r="1.6"/><circle cx="158.7" cy="506.1" r="3"/><circle cx="195.3" cy="512.9" r="2.1"/><circle cx="142.9" cy="437.5" r="3.7"/><circle cx="174.2" cy="509.2" r="3.2"/><circle cx="174.7" cy="433.2" r="3.3"/><circle cx="218.4" cy="486.9" r="2.2"/><circle cx="205.2" cy="480" r="3"/><circle cx="164.3" cy="514.4" r="2.2"/><circle cx="149.6" cy="450.8" r="2.8"/><circle cx="158.3" cy="521.8" r="3.4"/><circle cx="208.6" cy="444.5" r="1.5"/><circle cx="187.2" cy="516.1" r="3.1"/><circle cx="217.6" cy="433.6" r="3"/><circle cx="184.7" cy="481.5" r="3.4"/><circle cx="195.5" cy="503.8" r="2.9"/><circle cx="149.9" cy="520.5" r="2.4"/><circle cx="127.7" cy="490.3" r="1.9"/><circle cx="169.3" cy="490.2" r="2"/><circle cx="213.7" cy="450.3" r="2.9"/><circle cx="134" cy="516.7" r="2.3"/><circle cx="190.1" cy="520.8" r="2.6"/><circle cx="149.7" cy="445.6" r="3.8"/><circle cx="210" cy="464.5" r="2.6"/><circle cx="163.7" cy="461.5" r="2.5"/><circle cx="201.6" cy="487.2" r="2.1"/><circle cx="188.6" cy="446.4" r="2.4"/><circle cx="193.3" cy="510.8" r="2.8"/><circle cx="215.6" cy="434.9" r="3.8"/><circle cx="211.1" cy="426.5" r="3.9"/><circle cx="184.9" cy="439.3" r="1.6"/><circle cx="152.7" cy="473.7" r="2.9"/><circle cx="201.5" cy="428.6" r="2.7"/><circle cx="223.1" cy="505.8" r="1.8"/><circle cx="166.5" cy="454.4" r="3.9"/><circle cx="196.6" cy="509.7" r="2.5"/><circle cx="190.7" cy="476.5" r="2.9"/><circle cx="144.1" cy="469.2" r="2.4"/><circle cx="203.5" cy="454" r="3.8"/><circle cx="128" cy="480.3" r="1.9"/><circle cx="140" cy="506.6" r="4"/><circle cx="150.8" cy="425.2" r="1.9"/><circle cx="132.8" cy="446.4" r="3.4"/><circle cx="164" cy="507" r="2.5"/><circle cx="185.8" cy="494.5" r="3.8"/><circle cx="214.7" cy="461.4" r="3.8"/><circle cx="212.4" cy="487.2" r="3.2"/><circle cx="184.9" cy="482" r="2"/><circle cx="195.2" cy="436.9" r="3.1"/><circle cx="210.9" cy="522.2" r="3.7"/><circle cx="158.1" cy="434" r="3.8"/><circle cx="174.1" cy="487.9" r="3.8"/><circle cx="180.8" cy="501.3" r="2.5"/><circle cx="191.2" cy="462.4" r="2.3"/><circle cx="194.2" cy="482.1" r="2.2"/><circle cx="174.7" cy="485.9" r="3.3"/><circle cx="125.1" cy="487.7" r="3"/><circle cx="130.1" cy="461.6" r="3"/><circle cx="202.8" cy="466.6" r="2.6"/><circle cx="208.5" cy="434.8" r="4"/><circle cx="198.4" cy="429.1" r="2.7"/><circle cx="123.9" cy="444.5" r="2.7"/><circle cx="168.3" cy="454.2" r="2.6"/><circle cx="129.4" cy="424" r="2.8"/><circle cx="182.8" cy="450.3" r="2.5"/><circle cx="219.5" cy="425.4" r="2.7"/><circle cx="217.8" cy="457.1" r="3.6"/><circle cx="135.2" cy="470.2" r="3"/><circle cx="168.6" cy="515.2" r="2.4"/><circle cx="156.1" cy="461.4" r="2.9"/><circle cx="140.7" cy="447.4" r="2.1"/><circle cx="213.9" cy="501.1" r="2"/><circle cx="196.1" cy="470.7" r="2.5"/><circle cx="199" cy="510.3" r="2.6"/></g><g fill="#6c3cc0" opacity="0.6"><circle cx="132.8" cy="425.1" r="3.3"/><circle cx="188.7" cy="437.6" r="1.2"/><circle cx="154" cy="438.9" r="1.9"/><circle cx="123.1" cy="451.8" r="2.5"/><circle cx="177.3" cy="505.1" r="2.9"/><circle cx="215.1" cy="457.8" r="3.5"/><circle cx="159.4" cy="512.9" r="1.7"/><circle cx="204" cy="509" r="3.2"/><circle cx="190.8" cy="523.7" r="2.2"/><circle cx="171.6" cy="441.2" r="1.4"/><circle cx="175" cy="428.6" r="1.9"/><circle cx="153.7" cy="506.6" r="2.3"/><circle cx="134.4" cy="498.6" r="2.6"/><circle cx="205" cy="445.5" r="1.3"/><circle cx="132.4" cy="499.5" r="3.4"/><circle cx="133.7" cy="427.3" r="1.3"/><circle cx="144.5" cy="506.8" r="2.9"/><circle cx="139.3" cy="442.5" r="3.2"/><circle cx="158" cy="432.4" r="1.9"/><circle cx="153.1" cy="508.3" r="1.5"/><circle cx="158.4" cy="520.7" r="1.6"/><circle cx="129.8" cy="518.9" r="2.1"/><circle cx="126.7" cy="493.2" r="2"/><circle cx="137.2" cy="458.7" r="3.1"/><circle cx="190.4" cy="446.8" r="1.5"/><circle cx="191.1" cy="443.5" r="3.4"/><circle cx="198.4" cy="480.9" r="2.8"/><circle cx="157.6" cy="464.1" r="2"/><circle cx="172.1" cy="520.9" r="1.6"/><circle cx="171.9" cy="440.6" r="3"/><circle cx="215.8" cy="454" r="2.3"/><circle cx="176.2" cy="511.7" r="2.9"/><circle cx="190.6" cy="463.1" r="3"/><circle cx="159.1" cy="452.4" r="1.3"/><circle cx="201.5" cy="457.3" r="2.9"/><circle cx="144.5" cy="474.2" r="3.4"/><circle cx="203.9" cy="508.7" r="3.2"/><circle cx="198.5" cy="434.2" r="3.2"/><circle cx="214.3" cy="504.8" r="3.1"/><circle cx="173.2" cy="448.5" r="2.5"/><circle cx="221.1" cy="461.5" r="1.9"/><circle cx="180.1" cy="515.4" r="2.7"/><circle cx="200.1" cy="427" r="3.2"/><circle cx="153.3" cy="500" r="3"/><circle cx="200.9" cy="438.1" r="3.1"/><circle cx="123.2" cy="509.7" r="1.5"/><circle cx="202.8" cy="464.4" r="1.6"/><circle cx="173.9" cy="515.6" r="2.1"/><circle cx="174.6" cy="508.7" r="3.5"/><circle cx="169.1" cy="471.4" r="2.6"/><circle cx="163.7" cy="469.8" r="2.8"/><circle cx="132.2" cy="447.4" r="2.2"/><circle cx="178.5" cy="427.2" r="2.4"/><circle cx="210.1" cy="503.7" r="1.3"/><circle cx="149.5" cy="521.6" r="3.3"/><circle cx="146.5" cy="461.3" r="2.7"/><circle cx="152.4" cy="510.3" r="2.2"/><circle cx="185" cy="512" r="1.2"/><circle cx="168.7" cy="450" r="2.7"/><circle cx="199.4" cy="484.7" r="1.3"/></g></g>
<g filter="url(#soft)"><g fill="#edebf1"><circle cx="130" cy="449.5" r="5.6"/><circle cx="128.4" cy="465.6" r="5.1"/><circle cx="148.5" cy="485.7" r="5.6"/><circle cx="148.5" cy="495.8" r="4.6"/><circle cx="169.1" cy="514.6" r="4.8"/><circle cx="179" cy="435.9" r="4.5"/><circle cx="213.6" cy="473.6" r="4.8"/><circle cx="215.2" cy="498.5" r="4.5"/><circle cx="204.7" cy="460.8" r="4"/><circle cx="204.7" cy="431.1" r="3.5"/><circle cx="154.1" cy="468.8" r="4"/><circle cx="138.1" cy="467.2" r="3.5"/><circle cx="130.8" cy="509.7" r="4"/><circle cx="187" cy="480.8" r="3.3"/><circle cx="193.7" cy="480.8" r="3"/><circle cx="134.9" cy="432.7" r="3.5"/><circle cx="149.3" cy="435.9" r="3.2"/><circle cx="198.3" cy="442.3" r="3.2"/><circle cx="188.7" cy="464.8" r="3.2"/><circle cx="171" cy="439.1" r="3.5"/><circle cx="162.2" cy="430.3" r="3.2"/><circle cx="218.4" cy="449.5" r="3"/><circle cx="153.1" cy="427.5" r="3.3"/><circle cx="186.3" cy="497.6" r="3.9"/><circle cx="136.1" cy="525.4" r="2.4"/><circle cx="201" cy="505.6" r="3.5"/><circle cx="220.7" cy="486" r="3.4"/><circle cx="196.9" cy="451.5" r="2.1"/><circle cx="171" cy="480.1" r="2.4"/><circle cx="224.4" cy="466.2" r="3.4"/><circle cx="204.4" cy="469.6" r="3.9"/><circle cx="197.3" cy="431.1" r="2.1"/><circle cx="163.1" cy="481.5" r="2.3"/><circle cx="121.5" cy="472.9" r="3.8"/><circle cx="196.5" cy="461.3" r="2.1"/><circle cx="157.5" cy="460.5" r="3.9"/><circle cx="123.3" cy="502.8" r="2.2"/><circle cx="148.9" cy="451.6" r="3.9"/><circle cx="121.3" cy="524.5" r="2.3"/><circle cx="137.7" cy="490.6" r="2.3"/><circle cx="178.6" cy="469.4" r="2.2"/><circle cx="162.5" cy="521.4" r="3.7"/><circle cx="163.2" cy="441.1" r="3.3"/><circle cx="219.7" cy="512.8" r="3.6"/><circle cx="188.5" cy="430.3" r="3.8"/><circle cx="217.6" cy="524.2" r="3.9"/><circle cx="164.7" cy="507.1" r="3.3"/><circle cx="124.2" cy="427.7" r="3.4"/><circle cx="223.9" cy="499.7" r="3.7"/><circle cx="180.9" cy="508.7" r="3.7"/><circle cx="170.6" cy="468.4" r="2.2"/><circle cx="203.6" cy="520.6" r="3.6"/><circle cx="143.2" cy="515.1" r="2"/><circle cx="187.5" cy="524.6" r="3.4"/><circle cx="121.2" cy="511.6" r="2.2"/><circle cx="173.1" cy="486.6" r="2"/><circle cx="133.2" cy="496.5" r="2"/><circle cx="168.2" cy="456.2" r="2.1"/><circle cx="145.2" cy="460.2" r="3.9"/><circle cx="160" cy="492.9" r="2.1"/><circle cx="160.2" cy="472.9" r="2.1"/><circle cx="195.8" cy="456.5" r="2.2"/><circle cx="191.4" cy="458.9" r="2"/><circle cx="141.1" cy="524" r="2"/><circle cx="176.4" cy="475.6" r="2.1"/><circle cx="131.1" cy="422.8" r="3.6"/><circle cx="139.2" cy="453.9" r="3.6"/><circle cx="224" cy="477.2" r="3.7"/><circle cx="191.3" cy="490.6" r="3.3"/><circle cx="212.1" cy="485.8" r="3.3"/><circle cx="161.1" cy="452.1" r="3.6"/><circle cx="173.2" cy="493.8" r="2.3"/><circle cx="137.8" cy="512.1" r="2.3"/><circle cx="165" cy="488.7" r="2.3"/><circle cx="131.9" cy="478.7" r="3.4"/><circle cx="125.2" cy="515" r="2.3"/><circle cx="205.9" cy="450.6" r="2.2"/><circle cx="173.6" cy="448.3" r="3.4"/><circle cx="173.4" cy="506.2" r="3.4"/><circle cx="205.6" cy="512" r="3.7"/><circle cx="213" cy="442.7" r="2.1"/><circle cx="201" cy="454.6" r="2.1"/><circle cx="129.3" cy="524.9" r="2.2"/><circle cx="156.3" cy="515.5" r="3.4"/><circle cx="175.3" cy="427.9" r="3.8"/><circle cx="180.7" cy="453.3" r="2.1"/><circle cx="138.7" cy="440.2" r="3.5"/><circle cx="156" cy="478.7" r="2.2"/><circle cx="195.8" cy="514.3" r="3.5"/><circle cx="128.4" cy="496.2" r="2.1"/><circle cx="188.7" cy="440.9" r="2.1"/><circle cx="166.9" cy="475.5" r="2.1"/><circle cx="138.2" cy="425.7" r="3.5"/><circle cx="155.6" cy="525.3" r="3.3"/><circle cx="129.8" cy="519" r="2"/><circle cx="212.5" cy="449.7" r="2.2"/><circle cx="209.9" cy="425.2" r="2.3"/><circle cx="171.4" cy="462.2" r="2"/><circle cx="183" cy="474.6" r="2.2"/><circle cx="139.6" cy="497.6" r="2.2"/><circle cx="143.6" cy="506.8" r="2.3"/><circle cx="201.2" cy="495.7" r="3.8"/><circle cx="120.7" cy="436.8" r="3.7"/><circle cx="163.9" cy="466.9" r="2"/><circle cx="221.3" cy="440" r="2.1"/><circle cx="202.7" cy="486.7" r="3.9"/><circle cx="208.1" cy="439.6" r="2"/><circle cx="139.3" cy="482.5" r="3.4"/><circle cx="156.4" cy="502.5" r="2.1"/><circle cx="186.8" cy="422.4" r="3.5"/><circle cx="147.3" cy="503.2" r="2.1"/><circle cx="214.9" cy="457.5" r="3.2"/><circle cx="223.3" cy="425" r="2.1"/><circle cx="129.9" cy="439" r="3.9"/><circle cx="197.2" cy="525.2" r="3.5"/><circle cx="200.3" cy="424.3" r="2.2"/><circle cx="183.1" cy="517.7" r="3.3"/><circle cx="138.3" cy="520.4" r="2.1"/><circle cx="175.9" cy="455.7" r="2.3"/><circle cx="175.3" cy="526.2" r="3.9"/><circle cx="143.7" cy="475.2" r="3.4"/><circle cx="221.5" cy="433.8" r="2.2"/><circle cx="142.3" cy="502.3" r="2"/><circle cx="188.6" cy="471.8" r="2"/><circle cx="212.4" cy="436.5" r="2.2"/><circle cx="223.6" cy="456" r="3.7"/><circle cx="179.3" cy="488.1" r="2.3"/><circle cx="122" cy="492.7" r="3.4"/><circle cx="187.6" cy="447.4" r="2.2"/><circle cx="167.3" cy="499" r="2.1"/><circle cx="124.4" cy="483.4" r="3.9"/><circle cx="121.2" cy="460.2" r="3.5"/><circle cx="180.5" cy="480.7" r="2.3"/><circle cx="157.5" cy="508.2" r="2.2"/><circle cx="181.7" cy="443.9" r="2.3"/><circle cx="137.5" cy="505.6" r="2.1"/><circle cx="197.7" cy="473.4" r="3.3"/><circle cx="183" cy="467.4" r="2"/><circle cx="149.9" cy="513.8" r="2.2"/><circle cx="217.4" cy="426.3" r="2.2"/><circle cx="191.3" cy="507.8" r="3.8"/><circle cx="185.3" cy="452.1" r="2.1"/><circle cx="161.5" cy="500.9" r="2.1"/><circle cx="145.3" cy="521.7" r="2.2"/><circle cx="197.7" cy="467" r="2.2"/><circle cx="156.3" cy="497.4" r="2"/><circle cx="186.3" cy="457.8" r="2.3"/><circle cx="208.6" cy="492.9" r="3.3"/><circle cx="158" cy="485.2" r="2.3"/><circle cx="129.7" cy="502.1" r="2.2"/><circle cx="190.4" cy="451.9" r="2.2"/><circle cx="153.9" cy="442.7" r="3.6"/><circle cx="194" cy="500.3" r="3.7"/><circle cx="201.5" cy="437" r="2.2"/><circle cx="209" cy="455.1" r="2.2"/><circle cx="165.6" cy="460.1" r="2.2"/><circle cx="212.4" cy="516.4" r="3.7"/><circle cx="181.1" cy="457.9" r="2"/><circle cx="201.8" cy="447.9" r="2.1"/><circle cx="133.9" cy="516.3" r="2"/><circle cx="131.5" cy="492.2" r="2"/><circle cx="222.5" cy="444.6" r="2"/><circle cx="211.4" cy="432" r="2"/><circle cx="125.5" cy="521.9" r="2"/><circle cx="193" cy="438" r="2.4"/><circle cx="121.1" cy="446.1" r="3.3"/><circle cx="167.3" cy="493.4" r="2.3"/><circle cx="178.4" cy="498.4" r="3.4"/><circle cx="152.6" cy="505.4" r="2.2"/><circle cx="166.3" cy="423.8" r="3.4"/><circle cx="177.6" cy="461.8" r="2.2"/><circle cx="167.5" cy="483.9" r="2"/><circle cx="192.9" cy="469.6" r="2.2"/><circle cx="210.8" cy="506" r="3.6"/><circle cx="193.1" cy="444.7" r="2"/><circle cx="146.1" cy="422.9" r="3.9"/><circle cx="213.9" cy="422.7" r="1.8"/><circle cx="146" cy="510.9" r="2"/><circle cx="216.7" cy="431.2" r="1.9"/><circle cx="146.3" cy="468.5" r="3.2"/><circle cx="131.6" cy="485.8" r="3"/><circle cx="150.9" cy="476.1" r="2.1"/><circle cx="224.5" cy="519.6" r="3.5"/><circle cx="206" cy="478.7" r="3.4"/><circle cx="121" cy="517.9" r="1.8"/><circle cx="224.3" cy="507.2" r="2.9"/><circle cx="159.2" cy="423.2" r="3.2"/><circle cx="194.2" cy="422" r="3"/><circle cx="208.6" cy="445.8" r="2.1"/><circle cx="218.6" cy="421.8" r="1.9"/><circle cx="224.1" cy="492.4" r="2.9"/><circle cx="156.1" cy="433.9" r="3.4"/><circle cx="155.4" cy="491.3" r="1.8"/><circle cx="146" cy="444.2" r="3"/><circle cx="217.5" cy="464.7" r="3.2"/><circle cx="136.4" cy="473.9" r="2.8"/><circle cx="134.9" cy="460.6" r="2.6"/><circle cx="144.7" cy="431.6" r="2.6"/><circle cx="190.7" cy="475.4" r="1.7"/><circle cx="183.3" cy="448" r="1.5"/><circle cx="222.8" cy="429.6" r="1.7"/><circle cx="217.4" cy="436.2" r="1.6"/><circle cx="203.6" cy="443.4" r="1.6"/><circle cx="204.6" cy="422.8" r="1.7"/><circle cx="225.1" cy="436.7" r="1.6"/><circle cx="148.8" cy="518.3" r="1.8"/><circle cx="149.8" cy="508.7" r="1.7"/><circle cx="176" cy="479.8" r="1.7"/><circle cx="122.4" cy="507.5" r="1.5"/><circle cx="165.8" cy="447.1" r="2.7"/><circle cx="142.8" cy="491.9" r="1.6"/><circle cx="209.7" cy="525.2" r="2.7"/><circle cx="169" cy="431.8" r="2.6"/><circle cx="180.2" cy="422.5" r="2.5"/><circle cx="165.8" cy="471" r="1.7"/><circle cx="176.2" cy="483.8" r="1.6"/><circle cx="134.2" cy="503.1" r="1.4"/><circle cx="133.8" cy="521.1" r="1.5"/><circle cx="171.9" cy="473.1" r="1.5"/><circle cx="183.3" cy="484.3" r="1.4"/><circle cx="206.9" cy="499.2" r="2.3"/><circle cx="182.5" cy="463.2" r="1.5"/><circle cx="190.4" cy="518.1" r="2.4"/><circle cx="178.9" cy="448.3" r="1.5"/><circle cx="216.2" cy="490.9" r="2.4"/><circle cx="194" cy="448.6" r="1.4"/><circle cx="224.1" cy="526.2" r="2.3"/><circle cx="185" cy="488.3" r="2.5"/><circle cx="168.3" cy="524.9" r="2.4"/><circle cx="128.4" cy="432.4" r="2.4"/><circle cx="139.2" cy="446.9" r="2.7"/><circle cx="218.2" cy="443" r="1.5"/><circle cx="215.7" cy="439.7" r="1.2"/><circle cx="159.9" cy="467.4" r="1.4"/><circle cx="205.5" cy="436.6" r="1.3"/><circle cx="170.8" cy="453.3" r="1.4"/><circle cx="170.4" cy="489.3" r="1.3"/><circle cx="162.4" cy="476.2" r="1.2"/><circle cx="174.4" cy="469.1" r="1.2"/><circle cx="171.8" cy="457.9" r="1.4"/><circle cx="160.2" cy="478.4" r="1.3"/><circle cx="217.5" cy="506.4" r="2.2"/><circle cx="153.2" cy="500.3" r="1.4"/><circle cx="175.5" cy="489.5" r="1.3"/><circle cx="121.6" cy="452.5" r="2.4"/><circle cx="158.6" cy="489.3" r="1.3"/><circle cx="163.1" cy="497.5" r="1.3"/><circle cx="175.6" cy="465.4" r="1.4"/><circle cx="186.3" cy="437.5" r="1.2"/><circle cx="156.1" cy="474.7" r="1.3"/><circle cx="167.6" cy="464.7" r="1.4"/><circle cx="176.7" cy="516.4" r="2"/><circle cx="124.9" cy="510.5" r="1.2"/><circle cx="126.4" cy="506.4" r="1.1"/><circle cx="128" cy="489.7" r="1.8"/><circle cx="184.6" cy="503.9" r="1.9"/><circle cx="155.2" cy="449.6" r="1.7"/><circle cx="154.2" cy="510.6" r="1.2"/><circle cx="196.4" cy="485.7" r="2"/><circle cx="130.3" cy="458" r="2"/><circle cx="172.4" cy="476.4" r="1.1"/><circle cx="182.4" cy="428.3" r="1.8"/><circle cx="179.6" cy="493" r="1.7"/><circle cx="171.7" cy="422.4" r="1.8"/><circle cx="216" cy="481" r="2"/><circle cx="196.8" cy="435.9" r="1.1"/><circle cx="128.2" cy="474" r="2"/><circle cx="159.6" cy="446" r="1.9"/><circle cx="224.4" cy="449.6" r="1.8"/><circle cx="121.1" cy="498.4" r="2"/><circle cx="199.6" cy="479.8" r="2.1"/><circle cx="160" cy="505.3" r="1.1"/><circle cx="211.3" cy="463.5" r="1.8"/><circle cx="150.3" cy="522.8" r="1.8"/><circle cx="161" cy="511" r="1.5"/><circle cx="161.9" cy="515.6" r="1.6"/><circle cx="194" cy="427" r="1.6"/><circle cx="142.2" cy="436.1" r="1.5"/><circle cx="190.7" cy="485.1" r="1.6"/><circle cx="144.7" cy="439.2" r="1.5"/><circle cx="151.5" cy="457.4" r="1.6"/><circle cx="121.2" cy="467.1" r="1.6"/><circle cx="178" cy="520.6" r="1.5"/><circle cx="150.6" cy="463.1" r="1.6"/><circle cx="172.2" cy="498.8" r="1.7"/><circle cx="187.2" cy="513.6" r="1.7"/><circle cx="220.2" cy="471.6" r="1.5"/><circle cx="177.4" cy="443.1" r="1.5"/><circle cx="123.5" cy="441.5" r="1.3"/><circle cx="214.4" cy="511.2" r="1.3"/><circle cx="224" cy="471.5" r="1.4"/><circle cx="196.4" cy="492.1" r="1.4"/><circle cx="197.7" cy="519.4" r="1.3"/><circle cx="176.4" cy="512.3" r="1.5"/><circle cx="182.2" cy="526.1" r="1.4"/><circle cx="168.6" cy="502.6" r="1.3"/><circle cx="154.6" cy="454.9" r="1.3"/><circle cx="122.7" cy="422.6" r="1.4"/><circle cx="125.2" cy="456.2" r="1.4"/><circle cx="186.2" cy="510.3" r="1.4"/><circle cx="126.5" cy="459" r="1.3"/><circle cx="169.5" cy="444.1" r="1.2"/><circle cx="175.7" cy="421.9" r="1.2"/><circle cx="165.1" cy="435.5" r="1.2"/><circle cx="140.6" cy="432.7" r="1.2"/><circle cx="135" cy="444" r="1.3"/><circle cx="211.3" cy="479.8" r="1.3"/><circle cx="219.8" cy="481" r="1.1"/><circle cx="143.5" cy="448.5" r="1.2"/><circle cx="192.3" cy="521.9" r="1.2"/><circle cx="205.5" cy="525.9" r="1.2"/><circle cx="210.1" cy="459.4" r="1.1"/><circle cx="147.6" cy="525.1" r="1.2"/><circle cx="125.2" cy="477.5" r="1.3"/><circle cx="159.5" cy="437.7" r="1.1"/><circle cx="181.8" cy="522.6" r="1.3"/></g><g fill="#dccaee"><circle cx="137.6" cy="501.2" r="1"/><circle cx="159.2" cy="481" r="1.1"/><circle cx="161.4" cy="487.5" r="1"/><circle cx="184.8" cy="470.6" r="0.9"/><circle cx="198.2" cy="447.3" r="1"/><circle cx="193.5" cy="433.8" r="1"/><circle cx="140" cy="508.2" r="0.9"/><circle cx="137.6" cy="516.1" r="0.9"/><circle cx="126.1" cy="499.5" r="1"/><circle cx="132.8" cy="500.1" r="0.9"/><circle cx="179.1" cy="484.2" r="1"/><circle cx="142.4" cy="519.3" r="1"/><circle cx="179.5" cy="465.2" r="0.9"/><circle cx="154.4" cy="494.3" r="0.9"/><circle cx="205.3" cy="425.9" r="0.9"/><circle cx="225.1" cy="431.8" r="0.9"/><circle cx="120.7" cy="505.3" r="0.8"/><circle cx="129.7" cy="515.7" r="0.8"/><circle cx="209" cy="434.8" r="0.9"/><circle cx="189.5" cy="436.6" r="0.9"/><circle cx="136.6" cy="495.3" r="0.9"/><circle cx="177.7" cy="450.9" r="0.8"/><circle cx="142.7" cy="510.3" r="0.8"/><circle cx="140.3" cy="493.7" r="0.8"/><circle cx="205.4" cy="454.6" r="0.8"/><circle cx="200.7" cy="427.8" r="0.8"/><circle cx="214" cy="446.2" r="0.8"/><circle cx="159.6" cy="496.9" r="0.9"/><circle cx="146.6" cy="515.8" r="0.8"/><circle cx="184" cy="440" r="0.9"/><circle cx="179.9" cy="472.9" r="0.9"/><circle cx="164.7" cy="501.6" r="0.8"/><circle cx="215.1" cy="434.5" r="0.8"/><circle cx="140.5" cy="487.5" r="0.8"/><circle cx="165.7" cy="479" r="0.8"/><circle cx="162.4" cy="462.2" r="0.8"/><circle cx="214.6" cy="428.7" r="0.9"/><circle cx="162.1" cy="485.3" r="0.9"/><circle cx="163.6" cy="493.6" r="0.9"/><circle cx="214.6" cy="453" r="0.8"/><circle cx="170.4" cy="475.4" r="0.8"/><circle cx="194" cy="453.4" r="0.9"/><circle cx="193.4" cy="464" r="0.9"/><circle cx="212.1" cy="428.2" r="0.8"/><circle cx="122.3" cy="520.8" r="0.8"/><circle cx="183.2" cy="478.2" r="0.9"/><circle cx="144.6" cy="518.4" r="0.7"/><circle cx="198.9" cy="458.4" r="0.7"/><circle cx="164.3" cy="477.6" r="0.7"/><circle cx="185" cy="461" r="0.7"/><circle cx="174.6" cy="472.3" r="0.7"/><circle cx="204.4" cy="439.2" r="0.8"/><circle cx="139.6" cy="516.1" r="0.7"/><circle cx="135.4" cy="493.2" r="0.7"/><circle cx="140" cy="461.7" r="1.1"/><circle cx="173" cy="465.8" r="0.7"/><circle cx="165.1" cy="464" r="0.7"/><circle cx="209.2" cy="451.6" r="0.7"/><circle cx="173.7" cy="459.7" r="0.7"/><circle cx="189.3" cy="444.1" r="0.7"/><circle cx="186.3" cy="468.9" r="0.8"/><circle cx="152.4" cy="479.8" r="0.7"/><circle cx="143.5" cy="498.9" r="0.8"/><circle cx="218.3" cy="518.8" r="1.1"/><circle cx="199.5" cy="463.6" r="0.7"/><circle cx="173.9" cy="519.7" r="1.1"/><circle cx="189.4" cy="456.3" r="0.7"/><circle cx="193.2" cy="473.9" r="0.8"/><circle cx="172.9" cy="433.9" r="1.1"/><circle cx="168.6" cy="487.5" r="0.7"/><circle cx="155.6" cy="482.2" r="0.7"/><circle cx="209.1" cy="466.1" r="1.1"/><circle cx="124.9" cy="525.3" r="0.7"/><circle cx="176.9" cy="491.8" r="0.6"/><circle cx="143" cy="427.8" r="1"/><circle cx="134.4" cy="456.1" r="0.9"/><circle cx="207.5" cy="483.7" r="0.9"/><circle cx="223.4" cy="461.2" r="0.9"/><circle cx="166.4" cy="452" r="1"/><circle cx="186.9" cy="492.4" r="1"/><circle cx="131.3" cy="428.8" r="0.9"/><circle cx="168.9" cy="471.8" r="0.5"/><circle cx="155.3" cy="520.6" r="1"/><circle cx="154.7" cy="488.3" r="0.6"/><circle cx="169.9" cy="495.9" r="0.6"/><circle cx="187.9" cy="476.1" r="0.5"/><circle cx="125.5" cy="443.8" r="0.9"/><circle cx="212.6" cy="452.9" r="0.6"/><circle cx="196.8" cy="508.7" r="0.9"/><circle cx="186.7" cy="474.2" r="0.6"/><circle cx="225.1" cy="421.9" r="0.5"/><circle cx="184" cy="492.5" r="1.1"/><circle cx="209.9" cy="429.2" r="0.6"/><circle cx="173.7" cy="483.3" r="0.6"/><circle cx="205.5" cy="502.9" r="0.9"/><circle cx="147.7" cy="428.7" r="0.9"/><circle cx="132.5" cy="523.8" r="0.6"/><circle cx="142.2" cy="495" r="0.6"/><circle cx="209.4" cy="449.2" r="0.5"/><circle cx="215.7" cy="444.8" r="0.6"/><circle cx="190.7" cy="513" r="0.9"/><circle cx="132.6" cy="470.6" r="1"/><circle cx="163.9" cy="456.8" r="1.1"/><circle cx="188" cy="453.9" r="0.6"/><circle cx="179.1" cy="513.9" r="1.1"/><circle cx="152" cy="519.7" r="1"/><circle cx="149" cy="440.6" r="1.1"/><circle cx="161.3" cy="464.1" r="0.6"/><circle cx="225" cy="442" r="0.6"/><circle cx="224.7" cy="482.3" r="1"/><circle cx="170.9" cy="483.6" r="0.6"/><circle cx="202.7" cy="474.9" r="1"/><circle cx="170" cy="486.3" r="0.6"/><circle cx="142.5" cy="465" r="1"/><circle cx="132.4" cy="504.8" r="0.6"/><circle cx="225" cy="514.2" r="1.1"/><circle cx="171.1" cy="522.2" r="0.9"/><circle cx="186.2" cy="476.3" r="0.6"/><circle cx="124.4" cy="497.4" r="1"/><circle cx="219.8" cy="493.1" r="0.9"/><circle cx="153.8" cy="422.1" r="1"/><circle cx="174.5" cy="462.5" r="0.6"/><circle cx="125.8" cy="422.5" r="1.1"/><circle cx="132.2" cy="473.2" r="1"/><circle cx="197" cy="426.4" r="1"/><circle cx="219.9" cy="503.2" r="1"/><circle cx="145" cy="525.3" r="1"/><circle cx="197.3" cy="489.5" r="0.9"/><circle cx="175.6" cy="459" r="0.6"/><circle cx="141.1" cy="430" r="0.9"/><circle cx="151.3" cy="502" r="0.6"/><circle cx="219.9" cy="430.7" r="0.5"/><circle cx="134.1" cy="491.1" r="0.4"/><circle cx="148" cy="472.7" r="0.8"/><circle cx="167.2" cy="467.9" r="0.5"/><circle cx="202.5" cy="440.5" r="0.5"/><circle cx="159.6" cy="464.8" r="0.5"/><circle cx="142" cy="470.2" r="0.8"/><circle cx="150.7" cy="446.5" r="0.8"/><circle cx="205.5" cy="441.7" r="0.5"/><circle cx="127.4" cy="492.8" r="0.8"/><circle cx="214.2" cy="425.5" r="0.4"/><circle cx="167.7" cy="442.6" r="0.8"/><circle cx="134.6" cy="513.2" r="0.5"/><circle cx="152.3" cy="511.6" r="0.5"/><circle cx="136.5" cy="517.8" r="0.4"/><circle cx="187.1" cy="443.4" r="0.4"/><circle cx="218.9" cy="460.1" r="0.7"/><circle cx="185" cy="445.4" r="0.5"/><circle cx="126.9" cy="504.4" r="0.5"/><circle cx="191.6" cy="495.3" r="0.8"/><circle cx="167.2" cy="480.9" r="0.5"/><circle cx="142.2" cy="512.3" r="0.4"/><circle cx="212.4" cy="439.7" r="0.4"/><circle cx="161.7" cy="436.1" r="0.8"/><circle cx="147.2" cy="508.2" r="0.5"/><circle cx="120.7" cy="487.7" r="0.9"/><circle cx="203" cy="500.9" r="0.8"/><circle cx="199.6" cy="461.6" r="0.5"/><circle cx="168.2" cy="489.7" r="0.4"/><circle cx="211.1" cy="511.6" r="0.7"/><circle cx="208.1" cy="422.5" r="0.5"/><circle cx="140.1" cy="518" r="0.5"/><circle cx="185.3" cy="434.3" r="0.8"/><circle cx="180.7" cy="503.3" r="0.8"/><circle cx="158.3" cy="427.6" r="0.7"/><circle cx="151.3" cy="516.8" r="0.5"/><circle cx="129" cy="428.3" r="0.7"/><circle cx="201.1" cy="515.8" r="0.9"/><circle cx="138.3" cy="486.8" r="0.5"/><circle cx="155.1" cy="484" r="0.4"/><circle cx="193.9" cy="475.9" r="0.7"/><circle cx="205.1" cy="446.7" r="0.5"/><circle cx="205.6" cy="506.9" r="0.9"/><circle cx="151.1" cy="526.2" r="0.8"/><circle cx="124.8" cy="432.9" r="0.7"/><circle cx="219.5" cy="468.8" r="0.8"/><circle cx="136.9" cy="487.2" r="0.5"/><circle cx="173.7" cy="443.5" r="0.8"/><circle cx="195.5" cy="434.3" r="0.5"/><circle cx="133.9" cy="505.5" r="0.5"/><circle cx="177" cy="472.4" r="0.5"/><circle cx="136.3" cy="497.8" r="0.5"/><circle cx="182.1" cy="501.1" r="0.8"/><circle cx="194.5" cy="495.3" r="0.7"/><circle cx="170.3" cy="426.9" r="0.8"/><circle cx="168.8" cy="460.5" r="0.4"/><circle cx="209" cy="442.8" r="0.5"/></g><g fill="#3c28a8" opacity="0.8"><circle cx="174.3" cy="511.4" r="0.6"/><circle cx="140.7" cy="470.7" r="0.8"/><circle cx="216.3" cy="486.1" r="0.6"/><circle cx="212.3" cy="445.2" r="0.9"/><circle cx="135.9" cy="518.8" r="0.5"/><circle cx="187.8" cy="455.3" r="0.7"/><circle cx="200.6" cy="451.5" r="0.7"/><circle cx="185" cy="432.8" r="0.8"/><circle cx="139" cy="435.8" r="0.7"/><circle cx="214" cy="433.1" r="0.5"/><circle cx="202" cy="481.8" r="0.6"/><circle cx="160.1" cy="475.8" r="0.5"/><circle cx="147.8" cy="474.5" r="0.7"/><circle cx="187.1" cy="460.9" r="0.7"/><circle cx="208.4" cy="520.6" r="0.8"/><circle cx="131.4" cy="498.9" r="0.8"/><circle cx="125.6" cy="508.7" r="0.6"/><circle cx="150.6" cy="500.8" r="0.8"/><circle cx="152.6" cy="481" r="0.7"/><circle cx="149.6" cy="430.3" r="0.6"/><circle cx="216.1" cy="446.1" r="0.8"/><circle cx="125.6" cy="434.7" r="0.5"/><circle cx="176.2" cy="495.2" r="0.8"/><circle cx="196" cy="490" r="0.7"/><circle cx="180.5" cy="515" r="0.6"/><circle cx="181.2" cy="496" r="0.9"/><circle cx="134" cy="465.6" r="0.7"/><circle cx="210.3" cy="520" r="0.8"/><circle cx="133.1" cy="457.7" r="0.8"/><circle cx="164.7" cy="437.3" r="0.8"/><circle cx="183.5" cy="454.8" r="0.6"/><circle cx="162.7" cy="469.4" r="0.7"/><circle cx="176.3" cy="486.3" r="0.8"/><circle cx="173.3" cy="474.9" r="0.8"/><circle cx="158.8" cy="442.3" r="0.8"/><circle cx="212.1" cy="481.4" r="0.6"/><circle cx="174.5" cy="478.1" r="0.8"/><circle cx="198.2" cy="508.7" r="0.6"/><circle cx="137.3" cy="493.4" r="0.7"/><circle cx="203.8" cy="455.7" r="0.7"/><circle cx="210.5" cy="457.9" r="0.6"/><circle cx="127.3" cy="477.9" r="0.7"/><circle cx="200.2" cy="452.2" r="0.6"/><circle cx="198.1" cy="491.2" r="0.7"/><circle cx="191.9" cy="463.1" r="0.7"/><circle cx="185.5" cy="484.8" r="0.8"/><circle cx="218.3" cy="444.9" r="0.6"/><circle cx="185.1" cy="512.8" r="0.8"/><circle cx="173.7" cy="502.2" r="0.7"/><circle cx="209.6" cy="519.5" r="0.7"/><circle cx="169.6" cy="465.2" r="0.8"/><circle cx="125" cy="518.1" r="0.8"/><circle cx="169.2" cy="446.9" r="0.7"/><circle cx="219.7" cy="458.4" r="0.9"/><circle cx="159.5" cy="512.4" r="0.6"/><circle cx="197.1" cy="477.3" r="0.9"/><circle cx="181.8" cy="472.2" r="0.9"/><circle cx="209.1" cy="462.1" r="0.5"/><circle cx="210.4" cy="441.4" r="0.8"/><circle cx="211.9" cy="461" r="0.8"/><circle cx="133.9" cy="467.8" r="0.9"/><circle cx="138.6" cy="495" r="0.7"/><circle cx="207.6" cy="442.1" r="0.5"/><circle cx="212.7" cy="460.8" r="0.6"/><circle cx="168.9" cy="496.7" r="0.8"/><circle cx="173.1" cy="482.1" r="0.7"/><circle cx="207.3" cy="503.7" r="0.8"/><circle cx="211" cy="456.8" r="0.8"/><circle cx="171.4" cy="456.1" r="0.9"/><circle cx="220.3" cy="452.3" r="0.6"/><circle cx="185.9" cy="506.4" r="0.8"/><circle cx="216.2" cy="485.6" r="0.9"/><circle cx="216.2" cy="486.1" r="0.5"/><circle cx="167.5" cy="520.2" r="0.7"/><circle cx="182.9" cy="456.3" r="0.9"/><circle cx="138.9" cy="487.9" r="0.7"/><circle cx="208.3" cy="472.4" r="0.9"/><circle cx="192.3" cy="454" r="0.6"/><circle cx="209" cy="519.7" r="0.9"/><circle cx="149.8" cy="506.5" r="0.8"/><circle cx="134.4" cy="518.9" r="0.6"/><circle cx="157.7" cy="519.1" r="0.8"/><circle cx="142.4" cy="487.7" r="0.7"/><circle cx="146.1" cy="491.3" r="0.7"/><circle cx="195.4" cy="432.9" r="0.9"/><circle cx="151.3" cy="465.1" r="0.6"/><circle cx="219.8" cy="437.7" r="0.5"/><circle cx="127.3" cy="520.1" r="0.7"/><circle cx="220" cy="475.6" r="0.7"/><circle cx="182.2" cy="460.5" r="0.6"/><circle cx="210.2" cy="461.3" r="0.5"/><circle cx="220.3" cy="497.5" r="0.7"/><circle cx="181.9" cy="494.8" r="0.8"/><circle cx="167.6" cy="462.2" r="0.8"/><circle cx="222.2" cy="449.3" r="0.6"/><circle cx="169.9" cy="465.5" r="0.7"/><circle cx="214" cy="432" r="0.8"/><circle cx="125.8" cy="474.6" r="0.9"/><circle cx="187.7" cy="520.4" r="0.8"/><circle cx="215.6" cy="509" r="0.7"/><circle cx="172.5" cy="444.4" r="0.6"/><circle cx="172.5" cy="490" r="0.5"/><circle cx="131.1" cy="514.9" r="0.8"/><circle cx="175.1" cy="439.4" r="0.7"/><circle cx="147.5" cy="506.3" r="0.7"/><circle cx="158.3" cy="520.6" r="0.6"/><circle cx="191.8" cy="486.9" r="0.6"/><circle cx="205.1" cy="440.6" r="0.6"/><circle cx="143.6" cy="426.5" r="0.6"/><circle cx="181.8" cy="440.8" r="0.8"/><circle cx="192.5" cy="453.6" r="0.8"/><circle cx="133.7" cy="426.3" r="0.7"/><circle cx="208.6" cy="521.4" r="0.9"/><circle cx="192.8" cy="485.1" r="0.8"/><circle cx="208.3" cy="448.4" r="0.9"/><circle cx="195.9" cy="494.8" r="0.7"/><circle cx="174.2" cy="484.3" r="0.5"/><circle cx="182.2" cy="461.3" r="0.5"/><circle cx="146.5" cy="517.5" r="0.6"/><circle cx="184" cy="426.3" r="0.5"/><circle cx="135.4" cy="480.7" r="0.9"/><circle cx="174.8" cy="501.5" r="0.9"/><circle cx="210.1" cy="501.1" r="0.7"/><circle cx="206.5" cy="489.1" r="0.7"/><circle cx="180.6" cy="430.5" r="0.6"/><circle cx="204.8" cy="501.4" r="0.6"/><circle cx="149.9" cy="425.1" r="0.8"/><circle cx="139.5" cy="475.7" r="0.5"/><circle cx="196.2" cy="505" r="0.6"/><circle cx="176.2" cy="467.4" r="0.8"/><circle cx="179.5" cy="455.9" r="0.6"/><circle cx="147.4" cy="478" r="0.9"/><circle cx="198.3" cy="502.3" r="0.5"/><circle cx="134.4" cy="437.7" r="0.7"/><circle cx="163.9" cy="478.7" r="0.6"/><circle cx="135.7" cy="519.7" r="0.6"/><circle cx="200" cy="469.4" r="0.7"/><circle cx="183.4" cy="460.8" r="0.6"/><circle cx="200.7" cy="510.6" r="0.8"/><circle cx="136" cy="446.2" r="0.5"/><circle cx="157.9" cy="519.3" r="0.6"/><circle cx="211.2" cy="521" r="0.8"/><circle cx="220.2" cy="507.6" r="0.6"/><circle cx="198.2" cy="483.2" r="0.6"/><circle cx="209.6" cy="482.4" r="0.9"/><circle cx="208.9" cy="484" r="0.8"/><circle cx="199.7" cy="446.4" r="0.6"/><circle cx="156.8" cy="428.3" r="0.7"/><circle cx="142.2" cy="433.6" r="0.7"/><circle cx="210.1" cy="434.1" r="0.7"/><circle cx="205" cy="516.1" r="0.8"/><circle cx="190.6" cy="449.1" r="0.9"/><circle cx="179.3" cy="450.5" r="0.8"/><circle cx="175" cy="491.3" r="0.6"/><circle cx="135.6" cy="507.2" r="0.9"/><circle cx="127.7" cy="505" r="0.9"/><circle cx="208.9" cy="436.7" r="0.8"/><circle cx="215.9" cy="452.9" r="0.7"/><circle cx="208.8" cy="487.6" r="0.7"/><circle cx="196.2" cy="445.4" r="0.7"/><circle cx="149.8" cy="456.3" r="0.6"/><circle cx="204.7" cy="456.2" r="0.7"/><circle cx="126.1" cy="492.1" r="0.7"/><circle cx="217.6" cy="517.1" r="0.6"/><circle cx="218" cy="468.7" r="0.6"/><circle cx="160.8" cy="497.7" r="0.9"/><circle cx="170.9" cy="476.9" r="0.5"/><circle cx="180" cy="449.8" r="0.6"/><circle cx="134.1" cy="482.8" r="0.8"/><circle cx="211.9" cy="489.9" r="0.8"/><circle cx="164.7" cy="517.7" r="0.7"/><circle cx="139.2" cy="503.5" r="0.6"/><circle cx="198.1" cy="517.6" r="0.6"/><circle cx="200.3" cy="465" r="0.6"/><circle cx="188.2" cy="502.8" r="0.8"/><circle cx="152.5" cy="514.5" r="0.8"/><circle cx="199.4" cy="510.1" r="0.6"/><circle cx="219.1" cy="455.1" r="0.8"/><circle cx="170.3" cy="424.2" r="0.8"/><circle cx="125.8" cy="442" r="0.7"/><circle cx="198" cy="483.1" r="0.8"/><circle cx="183" cy="513.7" r="0.5"/><circle cx="190.7" cy="454.9" r="0.7"/><circle cx="145.5" cy="516.2" r="0.8"/><circle cx="152.6" cy="513.7" r="0.8"/><circle cx="214.1" cy="463.2" r="0.8"/><circle cx="185.8" cy="521.1" r="0.7"/><circle cx="182.7" cy="486.2" r="0.6"/><circle cx="213" cy="481" r="0.5"/><circle cx="201.1" cy="463.4" r="0.9"/><circle cx="124" cy="433.9" r="0.8"/><circle cx="207.1" cy="489.2" r="0.8"/><circle cx="209.7" cy="430.2" r="0.8"/><circle cx="148.6" cy="478.9" r="0.7"/><circle cx="174.7" cy="467.3" r="0.8"/><circle cx="168.1" cy="428" r="0.6"/><circle cx="139.4" cy="459" r="0.9"/><circle cx="183.5" cy="522.6" r="0.6"/><circle cx="186.9" cy="435.5" r="0.7"/><circle cx="198.5" cy="455.7" r="0.6"/><circle cx="203" cy="481.4" r="0.7"/><circle cx="149.6" cy="504.9" r="0.9"/><circle cx="153.5" cy="493.1" r="0.7"/><circle cx="174.3" cy="513.2" r="0.9"/><circle cx="136.3" cy="514.5" r="0.6"/><circle cx="171.9" cy="444.5" r="0.7"/><circle cx="140.3" cy="510.6" r="0.8"/><circle cx="160.2" cy="469.4" r="0.8"/><circle cx="142.6" cy="426.3" r="0.7"/><circle cx="195.8" cy="507.8" r="0.7"/><circle cx="127.8" cy="486.7" r="0.8"/><circle cx="206.3" cy="516.5" r="0.8"/><circle cx="185.2" cy="462.7" r="0.9"/><circle cx="162.1" cy="503.7" r="0.7"/><circle cx="200.1" cy="458.2" r="0.7"/><circle cx="133.1" cy="443.5" r="0.8"/><circle cx="142.3" cy="497.1" r="0.6"/><circle cx="124.6" cy="452.6" r="0.9"/><circle cx="192.1" cy="447.5" r="0.6"/><circle cx="184.2" cy="514" r="0.8"/><circle cx="212.8" cy="426" r="0.9"/><circle cx="212.6" cy="522.2" r="0.6"/><circle cx="194.2" cy="520" r="0.7"/><circle cx="174.9" cy="510.3" r="0.6"/><circle cx="166.2" cy="480.5" r="0.7"/><circle cx="128.9" cy="476.5" r="0.8"/><circle cx="198.2" cy="488.2" r="0.8"/><circle cx="136.4" cy="516.9" r="0.8"/><circle cx="140.8" cy="507" r="0.7"/><circle cx="169.2" cy="448.9" r="0.8"/><circle cx="157" cy="465.1" r="0.7"/><circle cx="155.2" cy="504.8" r="0.9"/><circle cx="199.3" cy="428.4" r="0.6"/><circle cx="124.1" cy="506.2" r="0.9"/><circle cx="139.2" cy="436" r="0.6"/><circle cx="186" cy="449.6" r="0.7"/><circle cx="201.3" cy="457.6" r="0.8"/><circle cx="223" cy="447.4" r="0.9"/><circle cx="132.7" cy="427.5" r="0.5"/><circle cx="215" cy="437.8" r="0.6"/><circle cx="198.3" cy="500.1" r="0.5"/><circle cx="203.2" cy="441.1" r="0.9"/><circle cx="139.4" cy="460.2" r="0.8"/><circle cx="173.8" cy="510.3" r="0.8"/><circle cx="189.5" cy="445.4" r="0.5"/><circle cx="220.8" cy="521.2" r="0.7"/><circle cx="135.3" cy="483.2" r="0.6"/><circle cx="182.7" cy="430.9" r="0.6"/><circle cx="165.7" cy="450.4" r="0.8"/><circle cx="181.9" cy="471.6" r="0.6"/><circle cx="140.9" cy="444.1" r="0.6"/><circle cx="221.1" cy="468.6" r="0.7"/><circle cx="193.4" cy="455.2" r="0.6"/><circle cx="167.4" cy="462.6" r="0.7"/><circle cx="222.1" cy="463" r="0.9"/><circle cx="179.2" cy="477.3" r="0.5"/><circle cx="151.8" cy="431.6" r="0.8"/><circle cx="201.7" cy="473.5" r="0.6"/><circle cx="199.4" cy="460.6" r="0.8"/><circle cx="212.6" cy="520.6" r="0.9"/></g></g>
</g>
<rect x="196.6" y="518.4" width="23.7" height="2.6" fill="#000" stroke="none" stroke-width="0.8"/>
<rect x="122.5" y="423.8" width="100.7" height="100.5" fill="none" stroke="#111" stroke-width="1.3"/>
<g clip-path="url(#cp7)">
<rect x="18.2" y="528.3" width="100.8" height="100.7" fill="#eeebdb" stroke="none" stroke-width="0.8"/>
<g filter="url(#soft)"><g fill="#f1eee2" opacity="0.2"><circle cx="63.1" cy="534.8" r="9.7"/><circle cx="110.7" cy="564.6" r="4.9"/><circle cx="84" cy="567.2" r="9.7"/><circle cx="45.3" cy="614.6" r="7.3"/><circle cx="70.5" cy="545" r="5.3"/><circle cx="42.8" cy="577.8" r="5.3"/><circle cx="66.5" cy="554.7" r="4.6"/><circle cx="104.6" cy="540.4" r="7.4"/><circle cx="110.7" cy="578.2" r="4.9"/><circle cx="58" cy="535.1" r="7.3"/><circle cx="98.4" cy="537.2" r="6.3"/><circle cx="24.2" cy="579.6" r="9"/><circle cx="89" cy="538" r="4.4"/><circle cx="18.6" cy="554.6" r="5.6"/><circle cx="27.6" cy="569.5" r="7.1"/><circle cx="35.3" cy="564.8" r="5.2"/><circle cx="78.2" cy="530.9" r="6"/><circle cx="111.6" cy="560.7" r="9.2"/><circle cx="103.1" cy="628.9" r="9.6"/><circle cx="73.5" cy="606.3" r="9.9"/><circle cx="80" cy="571.7" r="7.3"/><circle cx="46.9" cy="578.4" r="9.9"/><circle cx="47.8" cy="582" r="9.6"/><circle cx="28.4" cy="604.9" r="7.2"/><circle cx="85.6" cy="587.1" r="5.9"/><circle cx="63" cy="533.4" r="9.2"/><circle cx="68.1" cy="580.2" r="8.6"/><circle cx="28.7" cy="551.7" r="6.8"/><circle cx="58.8" cy="564.6" r="8.8"/><circle cx="35.6" cy="587.5" r="7.2"/></g><ellipse cx="52" cy="537" rx="8.5" ry="2.6" fill="#f8f3f2" stroke="#f0c8d8" stroke-width="0.6" transform="rotate(-12 52 537)"/><ellipse cx="47.5" cy="608.5" rx="6" ry="2.2" fill="#f7f1f1" stroke="#f0d0dc" stroke-width="0.5" transform="rotate(-35 47.5 608.5)"/></g>
</g>
<rect x="92.4" y="623.1" width="23.7" height="2.6" fill="#000" stroke="none" stroke-width="0.8"/>
<rect x="18.2" y="528.3" width="100.8" height="100.7" fill="none" stroke="#111" stroke-width="1.3"/>
<g clip-path="url(#cp8)">
<rect x="122.5" y="528.3" width="100.7" height="100.7" fill="#eee4cc" stroke="none" stroke-width="0.8"/>
<g filter="url(#soft2)"><ellipse cx="172" cy="562" rx="16" ry="9" fill="#ee6a8a" opacity="0.55" transform="rotate(-40 172 562)"/><ellipse cx="154" cy="590" rx="8" ry="4" fill="#ee6a8a" opacity="0.45" transform="rotate(-70 154 590)"/><ellipse cx="212" cy="603" rx="9" ry="6" fill="#ee7a9a" opacity="0.3"/></g>
<g filter="url(#soft)"><g fill="#f6f4f4"><circle cx="162.3" cy="631.5" r="4.7"/><circle cx="190.2" cy="610.2" r="4.9"/><circle cx="145.6" cy="549.2" r="4.9"/><circle cx="214.6" cy="527.5" r="4.6"/><circle cx="134.1" cy="575.3" r="4.7"/><circle cx="183.8" cy="540.7" r="4.8"/><circle cx="130" cy="565.4" r="4.5"/><circle cx="221.2" cy="568.7" r="4.7"/><circle cx="168.5" cy="607.8" r="4.2"/><circle cx="174.5" cy="621.9" r="4.5"/><circle cx="221.3" cy="616.8" r="5"/><circle cx="121.2" cy="596.4" r="4.4"/><circle cx="163.8" cy="547.3" r="4.2"/><circle cx="124.2" cy="621.2" r="4.2"/><circle cx="153" cy="611.6" r="4.9"/><circle cx="134.6" cy="623.4" r="4.6"/><circle cx="154" cy="565.6" r="5"/><circle cx="137.8" cy="589" r="4.5"/><circle cx="183.3" cy="628.9" r="4.5"/><circle cx="210.7" cy="536.6" r="4.2"/><circle cx="208.1" cy="626" r="4.8"/><circle cx="119.8" cy="559.2" r="4.8"/><circle cx="206.8" cy="580.7" r="4.5"/><circle cx="173.8" cy="579.8" r="4.9"/><circle cx="121.8" cy="610" r="4.2"/><circle cx="183.1" cy="587.6" r="4.7"/><circle cx="200.3" cy="548.3" r="4.3"/><circle cx="210.4" cy="608.5" r="4.5"/><circle cx="189.4" cy="596" r="4.4"/><circle cx="159.1" cy="600" r="4.9"/><circle cx="220.1" cy="601.8" r="4.9"/><circle cx="128.5" cy="547.4" r="4.6"/><circle cx="226.1" cy="550.5" r="4.4"/><circle cx="217.2" cy="555.8" r="4.4"/><circle cx="194.4" cy="629.9" r="4.4"/><circle cx="185.6" cy="567.1" r="4.6"/><circle cx="204.9" cy="561.9" r="4.6"/><circle cx="142.6" cy="602" r="4.3"/><circle cx="164.1" cy="527.4" r="4.2"/><circle cx="123.9" cy="578.6" r="4.2"/><circle cx="143.3" cy="617.7" r="4.9"/><circle cx="173.7" cy="537.1" r="4.3"/><circle cx="146.7" cy="627.7" r="4.9"/><circle cx="192.8" cy="526.6" r="4.2"/><circle cx="216.6" cy="631.1" r="4.2"/><circle cx="136.1" cy="556.4" r="4.4"/><circle cx="164" cy="590.8" r="4.6"/><circle cx="191.6" cy="578" r="4.8"/><circle cx="157.3" cy="622.6" r="4.3"/><circle cx="137.9" cy="529.6" r="5"/><circle cx="203.6" cy="590.6" r="4.4"/><circle cx="221.5" cy="535.3" r="4.2"/><circle cx="200.2" cy="617.7" r="5"/><circle cx="196.5" cy="539.3" r="4.9"/><circle cx="151.7" cy="538.5" r="4.7"/><circle cx="226" cy="589.4" r="4.1"/><circle cx="202.4" cy="528.3" r="4.2"/><circle cx="210.7" cy="548.3" r="4.8"/><circle cx="133.7" cy="608.9" r="4.7"/><circle cx="147.2" cy="576" r="4.2"/><circle cx="212.9" cy="588.8" r="4.3"/><circle cx="216.5" cy="577.8" r="4.3"/><circle cx="125.2" cy="532.4" r="4.7"/><circle cx="200.4" cy="601.8" r="4.9"/><circle cx="127.9" cy="588.4" r="4.5"/><circle cx="176.4" cy="525.4" r="4.1"/><circle cx="194.4" cy="562.2" r="4.7"/><circle cx="160.2" cy="573.2" r="4.2"/><circle cx="179.4" cy="607.3" r="4.9"/><circle cx="162.3" cy="558" r="4.2"/><circle cx="210.1" cy="571.1" r="4.3"/><circle cx="154.3" cy="525.6" r="5"/><circle cx="190.2" cy="551.9" r="4.5"/><circle cx="141.2" cy="564.5" r="4.5"/><circle cx="132.5" cy="598.3" r="4.7"/><circle cx="183.9" cy="618" r="4.7"/><circle cx="162" cy="535.9" r="3.8"/><circle cx="120.1" cy="570.7" r="4.1"/><circle cx="167" cy="617.7" r="3.7"/><circle cx="173.8" cy="590.9" r="4"/><circle cx="128.1" cy="631.3" r="3.7"/><circle cx="136.8" cy="541.2" r="4.1"/><circle cx="225.9" cy="527.9" r="3.6"/><circle cx="224.8" cy="626.6" r="4.1"/><circle cx="185.6" cy="531.1" r="3.6"/><circle cx="199.7" cy="571.5" r="4.2"/><circle cx="155.4" cy="550.1" r="4.2"/><circle cx="169.7" cy="598.3" r="3.8"/><circle cx="122.1" cy="540.9" r="3.6"/><circle cx="164.2" cy="580.7" r="3.7"/><circle cx="225.6" cy="579.6" r="4.1"/><circle cx="195.3" cy="590.1" r="3.2"/><circle cx="180.4" cy="596.3" r="3.3"/><circle cx="175.4" cy="546.7" r="3.2"/><circle cx="212.2" cy="597.2" r="3.5"/><circle cx="144.9" cy="584.4" r="3.2"/><circle cx="120.2" cy="629.4" r="3.7"/><circle cx="171.7" cy="631.3" r="3.6"/><circle cx="146.7" cy="531.5" r="3.3"/><circle cx="219.6" cy="543.8" r="3.2"/><circle cx="211.5" cy="617.2" r="2.9"/><circle cx="145.5" cy="592.1" r="2.9"/><circle cx="120.1" cy="526" r="2.9"/><circle cx="225.1" cy="560.8" r="2.7"/><circle cx="148.2" cy="559.1" r="3.1"/><circle cx="160.9" cy="608.8" r="2.8"/><circle cx="143.3" cy="537.5" r="2.8"/><circle cx="137" cy="631.3" r="2.8"/><circle cx="119.6" cy="587.4" r="3.2"/><circle cx="128.7" cy="615.1" r="2.8"/><circle cx="150.6" cy="603.1" r="2.7"/><circle cx="182.6" cy="578.1" r="2.5"/><circle cx="144.9" cy="609.8" r="2.7"/><circle cx="173.3" cy="613.9" r="2.8"/><circle cx="167.5" cy="625.5" r="2.4"/><circle cx="226.2" cy="607.1" r="2.5"/><circle cx="119.9" cy="548.8" r="2.6"/><circle cx="179.3" cy="571.7" r="2.5"/><circle cx="219.5" cy="586" r="2.4"/><circle cx="192.8" cy="620.8" r="2.5"/><circle cx="198.9" cy="581.9" r="2.2"/><circle cx="129.3" cy="554.6" r="2"/><circle cx="132" cy="536.1" r="2"/><circle cx="212.2" cy="564" r="2.4"/><circle cx="171.1" cy="530.1" r="2.4"/><circle cx="203.9" cy="542.3" r="2"/><circle cx="203.9" cy="554.3" r="2.2"/><circle cx="220.7" cy="609.3" r="2"/><circle cx="179" cy="531.8" r="2.2"/><circle cx="154.6" cy="557.1" r="2.2"/><circle cx="201.8" cy="630.3" r="2.1"/><circle cx="170.2" cy="550.6" r="2.4"/><circle cx="186.7" cy="559" r="2.3"/><circle cx="216.4" cy="623.4" r="2.3"/><circle cx="167.5" cy="541.3" r="2.2"/><circle cx="129.9" cy="526.4" r="2.4"/><circle cx="225.9" cy="543.1" r="2.3"/><circle cx="137.7" cy="548.8" r="2.2"/><circle cx="198.1" cy="555.1" r="1.9"/><circle cx="128.5" cy="539.2" r="2.1"/><circle cx="158.8" cy="541.5" r="1.9"/><circle cx="202.8" cy="609.3" r="2"/><circle cx="154.2" cy="578.6" r="1.8"/><circle cx="132.9" cy="583.4" r="2"/><circle cx="192.1" cy="571" r="1.7"/><circle cx="169.3" cy="585.7" r="1.7"/><circle cx="154.2" cy="628.9" r="1.9"/><circle cx="126.3" cy="603.6" r="1.9"/><circle cx="124.7" cy="553.5" r="1.9"/><circle cx="189.6" cy="624.4" r="1.8"/><circle cx="141.2" cy="571.9" r="1.7"/><circle cx="141.3" cy="579.7" r="1.9"/><circle cx="184.3" cy="601.4" r="1.8"/><circle cx="126.7" cy="571.3" r="1.7"/><circle cx="144.7" cy="525.4" r="2"/><circle cx="190.6" cy="586.5" r="1.8"/><circle cx="160.9" cy="615.5" r="1.9"/><circle cx="197.6" cy="610" r="1.9"/><circle cx="203" cy="535.4" r="1.9"/><circle cx="190.5" cy="544.3" r="1.8"/><circle cx="195.8" cy="532.2" r="1.6"/><circle cx="120.5" cy="603.8" r="1.6"/><circle cx="220.1" cy="594.6" r="1.7"/><circle cx="201.3" cy="625.6" r="1.6"/><circle cx="191.3" cy="534.1" r="1.7"/><circle cx="161.2" cy="566.5" r="1.5"/><circle cx="191.1" cy="602.4" r="1.6"/><circle cx="133.8" cy="616.5" r="1.8"/><circle cx="185.2" cy="574.1" r="1.6"/><circle cx="150.4" cy="621.6" r="1.6"/><circle cx="215" cy="613.2" r="1.5"/><circle cx="153.5" cy="573.2" r="1.5"/><circle cx="169.5" cy="574.1" r="1.5"/><circle cx="210" cy="555.8" r="1.5"/><circle cx="173.3" cy="572.4" r="1.2"/><circle cx="205.7" cy="613.3" r="1.3"/><circle cx="167.5" cy="533.3" r="1.4"/><circle cx="195.4" cy="584" r="1.2"/><circle cx="135.8" cy="568.7" r="1.2"/><circle cx="137.1" cy="582.2" r="1.2"/><circle cx="147" cy="596.7" r="1.4"/><circle cx="126.9" cy="559.6" r="1.2"/><circle cx="138.7" cy="596.2" r="1.2"/><circle cx="130.1" cy="580.7" r="1.2"/><circle cx="145.8" cy="541.8" r="1.2"/><circle cx="185.2" cy="547.3" r="1.3"/><circle cx="152.5" cy="618.6" r="1.4"/><circle cx="170.9" cy="544" r="1.3"/><circle cx="147.8" cy="569.4" r="1.2"/><circle cx="208.4" cy="602" r="1.2"/><circle cx="211.6" cy="559.5" r="1.4"/><circle cx="220.1" cy="561.6" r="1.4"/><circle cx="119.5" cy="616.2" r="1.2"/><circle cx="225.4" cy="596.8" r="1.4"/><circle cx="215.5" cy="540.7" r="1.2"/><circle cx="127.4" cy="610.9" r="1"/><circle cx="180.4" cy="547.1" r="1"/><circle cx="183.7" cy="525.8" r="1.1"/><circle cx="156" cy="533.7" r="1.2"/><circle cx="206.9" cy="619.2" r="1.1"/><circle cx="219.8" cy="550.4" r="1.1"/><circle cx="142" cy="558.5" r="1.1"/><circle cx="199.6" cy="586" r="1"/><circle cx="141.4" cy="575.4" r="1.1"/><circle cx="194.3" cy="545.9" r="1"/><circle cx="207" cy="597.5" r="1.2"/><circle cx="144.6" cy="570.7" r="1"/><circle cx="140.4" cy="610.3" r="1.2"/><circle cx="220.5" cy="590.6" r="1"/><circle cx="147.3" cy="566.1" r="1.1"/><circle cx="216.7" cy="594.5" r="1.1"/><circle cx="165.8" cy="602.6" r="1"/><circle cx="138.6" cy="612.8" r="1"/><circle cx="207.9" cy="542.1" r="1.1"/><circle cx="124.4" cy="615.3" r="1"/><circle cx="193.4" cy="616.7" r="1.1"/><circle cx="143.5" cy="556.1" r="1.1"/><circle cx="225.1" cy="611.2" r="1.1"/></g><circle cx="161" cy="571" r="2.2" fill="#e83a6e" opacity="0.85"/><circle cx="158" cy="568" r="1.6" fill="#e83a6e" opacity="0.85"/><circle cx="165" cy="574" r="1.8" fill="#e83a6e" opacity="0.85"/><circle cx="150" cy="583" r="1.4" fill="#e83a6e" opacity="0.85"/><circle cx="186" cy="547" r="1.6" fill="#e83a6e" opacity="0.85"/><circle cx="195" cy="546" r="1.4" fill="#e83a6e" opacity="0.85"/><circle cx="200" cy="544" r="1.2" fill="#e83a6e" opacity="0.85"/><circle cx="142" cy="537" r="1.3" fill="#e83a6e" opacity="0.85"/><circle cx="147" cy="534" r="1.1" fill="#e83a6e" opacity="0.85"/><circle cx="213" cy="605" r="1.6" fill="#e83a6e" opacity="0.85"/><circle cx="217" cy="609" r="1.5" fill="#e83a6e" opacity="0.85"/><circle cx="209" cy="602" r="1.2" fill="#e83a6e" opacity="0.85"/><circle cx="220" cy="598" r="1.2" fill="#e83a6e" opacity="0.85"/><circle cx="180" cy="585" r="1" fill="#e83a6e" opacity="0.85"/><circle cx="130" cy="611" r="1" fill="#e83a6e" opacity="0.85"/><circle cx="146" cy="553" r="1" fill="#e83a6e" opacity="0.85"/><circle cx="192" cy="559" r="1" fill="#e83a6e" opacity="0.85"/><circle cx="168" cy="545" r="1.1" fill="#e83a6e" opacity="0.85"/><ellipse cx="174.5" cy="560.5" rx="13.5" ry="5.6" fill="#f3eaec" stroke="#e83468" stroke-width="1.5" transform="rotate(-48 174.5 560.5)"/><ellipse cx="153.5" cy="590" rx="8" ry="3" fill="#f3eaec" stroke="#e83468" stroke-width="1.5" transform="rotate(-72 153.5 590)"/><path d="M163,569 C158,574 155,580 150,584" stroke="#ea3a70" stroke-width="1.6" fill="none" stroke-linecap="round"/><path d="M186,551 C192,549 198,546 205,543 S214,540 220,541" stroke="#ea3a70" stroke-width="1.1" fill="none" stroke-linecap="round"/><path d="M179,548 C180,542 179,536 178,530" stroke="#ea3a70" stroke-width="0.9" fill="none" stroke-linecap="round"/><path d="M165,566 C158,566 152,568 146,568" stroke="#ea3a70" stroke-width="1" fill="none" stroke-linecap="round"/><path d="M150,594 C147,600 146,606 145,612" stroke="#ea3a70" stroke-width="0.9" fill="none" stroke-linecap="round"/><path d="M185,566 C188,570 190,575 191,580" stroke="#ea3a70" stroke-width="0.8" fill="none" stroke-linecap="round"/><path d="M160,572 C162,578 165,584 168,590" stroke="#ea3a70" stroke-width="0.8" fill="none" stroke-linecap="round"/><path d="M140,535 C145,538 150,540 152,545" stroke="#ea3a70" stroke-width="0.8" fill="none" stroke-linecap="round"/><path d="M148,533 C150,537 151,541 154,543" stroke="#ea3a70" stroke-width="0.7" fill="none" stroke-linecap="round"/><path d="M205,595 C209,600 213,602 218,600" stroke="#ea3a70" stroke-width="0.9" fill="none" stroke-linecap="round"/><path d="M208,608 C212,612 216,614 221,612" stroke="#ea3a70" stroke-width="0.9" fill="none" stroke-linecap="round"/><path d="M203,600 C200,606 203,612 207,616" stroke="#ea3a70" stroke-width="0.7" fill="none" stroke-linecap="round"/><path d="M196,545 C198,540 200,536 203,533" stroke="#ea3a70" stroke-width="0.7" fill="none" stroke-linecap="round"/><path d="M212,540 C214,546 218,550 222,552" stroke="#ea3a70" stroke-width="0.7" fill="none" stroke-linecap="round"/><path d="M127,613 C126,618 127,622 129,625" stroke="#ea3a70" stroke-width="0.8" fill="none" stroke-linecap="round"/><path d="M170,548 C166,545 163,542 160,540" stroke="#ea3a70" stroke-width="0.7" fill="none" stroke-linecap="round"/><path d="M175,585 C178,590 182,596 183,601" stroke="#ea3a70" stroke-width="0.6" fill="none" stroke-linecap="round"/><path d="M135,580 C139,584 142,588 146,590" stroke="#ea3a70" stroke-width="0.6" fill="none" stroke-linecap="round"/><path d="M186,553 C192,556 198,556 204,553 S214,552 220,556" stroke="#ea3a70" stroke-width="1.2" fill="none" stroke-linecap="round"/><path d="M160,575 C156,578 152,579 148,578" stroke="#ea3a70" stroke-width="1.2" fill="none" stroke-linecap="round"/><path d="M152,600 C150,606 151,611 153,616" stroke="#ea3a70" stroke-width="0.8" fill="none" stroke-linecap="round"/><path d="M157,599 C160,604 162,608 163,612" stroke="#ea3a70" stroke-width="0.7" fill="none" stroke-linecap="round"/><path d="M199,590 C203,594 206,597 210,598" stroke="#ea3a70" stroke-width="0.7" fill="none" stroke-linecap="round"/><path d="M214,590 C217,594 220,596 222,600" stroke="#ea3a70" stroke-width="0.8" fill="none" stroke-linecap="round"/><path d="M130,560 C134,562 138,566 140,570" stroke="#ea3a70" stroke-width="0.6" fill="none" stroke-linecap="round"/><path d="M138,548 C142,550 146,553 150,556" stroke="#ea3a70" stroke-width="0.6" fill="none" stroke-linecap="round"/></g>
</g>
<rect x="196.6" y="623.1" width="23.7" height="2.6" fill="#000" stroke="none" stroke-width="0.8"/>
<rect x="122.5" y="528.3" width="100.7" height="100.7" fill="none" stroke="#111" stroke-width="1.3"/>
<text x="0.3" y="200.46" font-size="12" text-anchor="start" font-weight="bold">b</text>
<text x="68.6" y="200.35" font-size="8.6" text-anchor="middle" textLength="30.5" lengthAdjust="spacingAndGlyphs">Control</text>
<text x="173.2" y="200.35" font-size="8.6" text-anchor="middle" textLength="24.5" lengthAdjust="spacingAndGlyphs">MASH</text>
<text transform="translate(13.91,255) rotate(-90)" x="0" y="0" font-size="8.2" text-anchor="middle" textLength="15.8" lengthAdjust="spacingAndGlyphs">H&amp;E</text>
<text transform="translate(13.91,358.3) rotate(-90)" x="0" y="0" font-size="8.2" text-anchor="middle" textLength="52.2" lengthAdjust="spacingAndGlyphs">Picrosirius red</text>
<text x="0.5" y="421.28" font-size="11.5" text-anchor="start" font-weight="bold">i</text>
<text x="68.6" y="421.75" font-size="8.6" text-anchor="middle" textLength="30.5" lengthAdjust="spacingAndGlyphs">Control</text>
<text x="172.8" y="421.75" font-size="8.6" text-anchor="middle" textLength="24.5" lengthAdjust="spacingAndGlyphs">MASH</text>
<text transform="translate(13.91,474.4) rotate(-90)" x="0" y="0" font-size="8.2" text-anchor="middle" textLength="15.8" lengthAdjust="spacingAndGlyphs">H&amp;E</text>
<text transform="translate(13.91,578.5) rotate(-90)" x="0" y="0" font-size="8.2" text-anchor="middle" textLength="52.2" lengthAdjust="spacingAndGlyphs">Picrosirius red</text>
</svg>
</body></html>
